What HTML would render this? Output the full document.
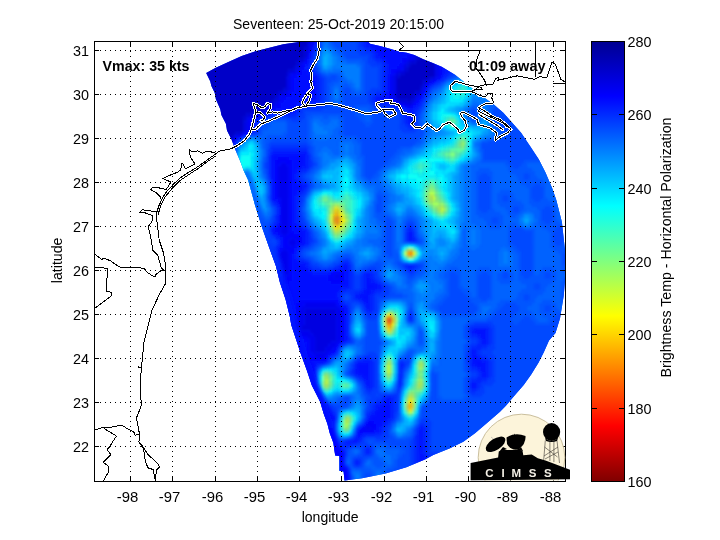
<!DOCTYPE html>
<html><head><meta charset="utf-8"><style>
html,body{margin:0;padding:0;background:#fff;width:720px;height:540px;overflow:hidden}
svg{display:block;will-change:transform}
</style></head><body>
<svg width="720" height="540" viewBox="0 0 720 540">
<defs>
<linearGradient id="jet" x1="0" y1="0" x2="0" y2="1"><stop offset="0" stop-color="#000090"/><stop offset="0.125" stop-color="#0000ff"/><stop offset="0.375" stop-color="#00ffff"/><stop offset="0.625" stop-color="#ffff00"/><stop offset="0.875" stop-color="#ff0000"/><stop offset="1" stop-color="#800000"/></linearGradient>
<clipPath id="sw"><polygon points="206.2,73 215.3,67.9 227.8,62.3 241.7,56 255.6,51.2 269.4,47.7 283.3,44.25 297.2,42.2 310,39 366,39 370,43.8 380,46 390,48.8 398.9,51.6 406.7,52.7 414.4,54.9 423.3,59.3 432.2,62.7 441.7,66.8 455,74.7 478,93 494.4,105 503.3,112.8 512.2,122.8 521.1,132.8 530,146.1 538.9,159.4 545.6,172.8 552.2,188.3 556.3,200 561.9,222 565.6,255.6 565.6,274 563.7,296 560,318.5 555.5,333 549,340.4 543.8,352.3 538.6,362.6 531.2,374.5 523.7,384.9 514.8,395.3 505.9,405.7 500,411.7 486.7,423.3 475,433.3 463.3,441.7 450,448.3 433.3,455 425,459.5 406.4,467.2 385.6,473.5 362,478.3 344.5,480.5 343.6,471.4 339.4,470.7 339.4,456.1 335.2,455.4 333.4,443 329.8,433.3 327.4,423.7 323.8,414 320.2,402 316.6,394.8 311.8,385.2 307,370.7 300.9,353.9 296.1,339.4 291.3,325 289.7,316.1 285.6,299.4 280,282.8 275.9,266.1 268.9,246.7 262,227.2 255,205 248.1,180 243.6,170.4 240.3,161.6 237,153.8 234.7,148.2 231.4,139.3 227,130.4 225.9,123.8 221.4,114.9 220.3,109.3 215.9,99.3 214.7,92.7 211.4,86 210.3,81.6"/></clipPath>
<clipPath id="ax"><rect x="94" y="41" width="471" height="440"/></clipPath>
<filter id="b4" x="-50%" y="-50%" width="200%" height="200%"><feGaussianBlur stdDeviation="4"/></filter>
<filter id="b8" x="-50%" y="-50%" width="200%" height="200%"><feGaussianBlur stdDeviation="8"/></filter>
<filter id="b2" x="-50%" y="-50%" width="200%" height="200%"><feGaussianBlur stdDeviation="2"/></filter>
<filter id="gb" x="-10%" y="-10%" width="120%" height="120%"><feGaussianBlur stdDeviation="1.2"/></filter>
<linearGradient id="edgeg" gradientUnits="userSpaceOnUse" x1="0" y1="180" x2="0" y2="480"><stop offset="0" stop-color="#006fff"/><stop offset="0.35" stop-color="#0019ff"/><stop offset="1" stop-color="#0000ff"/></linearGradient>
</defs>
<g clip-path="url(#ax)"><g clip-path="url(#sw)">
<rect x="190" y="30" width="380" height="460" fill="#0040ff"/>
<g filter="url(#gb)">
<path fill="#0000c8" d="M142.3 24.0h164.8v17.8h-164.8zM418.2 24.0h15.9v17.8h-15.9zM142.3 41.8h164.8v2.8h-164.8zM418.2 41.8h15.9v2.8h-15.9zM142.3 44.5h164.8v2.8h-164.8zM418.2 44.5h15.9v2.8h-15.9zM142.3 47.2h162.2v2.8h-162.2zM418.2 47.2h15.9v2.8h-15.9zM142.3 50.0h162.2v2.8h-162.2zM418.2 50.0h15.9v2.8h-15.9zM142.3 52.8h162.2v2.8h-162.2zM418.2 52.8h15.9v2.8h-15.9zM142.3 55.5h162.2v2.8h-162.2zM418.2 55.5h15.9v2.8h-15.9zM142.3 58.2h156.9v2.8h-156.9zM418.2 58.2h15.9v2.8h-15.9zM142.3 61.0h154.3v2.8h-154.3zM415.5 61.0h18.5v2.8h-18.5zM142.3 63.8h154.3v2.8h-154.3zM410.2 63.8h23.8v2.8h-23.8zM142.3 66.5h151.6v2.8h-151.6zM407.6 66.5h26.4v2.8h-26.4zM142.3 69.2h146.3v2.8h-146.3zM407.6 69.2h26.4v2.8h-26.4zM142.3 72.0h143.7v2.8h-143.7zM404.9 72.0h29.1v2.8h-29.1zM142.3 74.8h143.7v2.8h-143.7zM399.7 74.8h34.4v2.8h-34.4zM142.3 77.5h143.7v2.8h-143.7zM397.0 77.5h31.7v2.8h-31.7zM142.3 80.2h143.7v2.8h-143.7zM397.0 80.2h26.4v2.8h-26.4zM142.3 83.0h143.7v2.8h-143.7zM397.0 83.0h26.4v2.8h-26.4zM142.3 85.8h143.7v2.8h-143.7zM397.0 85.8h23.8v2.8h-23.8zM142.3 88.5h141.0v2.8h-141.0zM397.0 88.5h23.8v2.8h-23.8zM142.3 91.2h135.8v2.8h-135.8zM397.0 91.2h18.5v2.8h-18.5zM142.3 94.0h133.1v2.8h-133.1zM397.0 94.0h15.9v2.8h-15.9zM142.3 96.8h133.1v2.8h-133.1zM397.0 96.8h15.9v2.8h-15.9zM142.3 99.5h130.5v2.8h-130.5zM407.6 99.5h2.6v2.8h-2.6zM142.3 102.2h125.2v2.8h-125.2zM142.3 105.0h122.5v2.8h-122.5zM142.3 107.8h122.5v2.8h-122.5zM142.3 110.5h112.0v2.8h-112.0zM142.3 113.2h104.0v2.8h-104.0zM142.3 116.0h101.4v2.8h-101.4zM142.3 118.8h101.4v2.8h-101.4zM142.3 121.5h101.4v2.8h-101.4zM142.3 124.2h101.4v2.8h-101.4zM142.3 127.0h101.4v2.8h-101.4zM142.3 129.8h101.4v2.8h-101.4zM142.3 132.5h93.4v2.8h-93.4zM142.3 135.2h90.8v2.8h-90.8zM142.3 138.0h88.2v2.8h-88.2zM142.3 140.8h88.2v2.8h-88.2zM142.3 143.5h88.2v2.8h-88.2zM142.3 146.2h88.2v2.8h-88.2zM142.3 149.0h88.2v2.8h-88.2zM142.3 151.8h88.2v2.8h-88.2zM142.3 154.5h69.7v2.8h-69.7zM142.3 157.2h67.0v2.8h-67.0zM142.3 160.0h67.0v2.8h-67.0zM142.3 162.8h67.0v2.8h-67.0zM142.3 165.5h48.5v2.8h-48.5zM142.3 168.2h45.9v2.8h-45.9zM142.3 171.0h45.9v2.8h-45.9zM142.3 173.8h45.9v2.8h-45.9z"/>
<path fill="#0000e1" d="M307.1 24.0h2.6v17.8h-2.6zM415.5 24.0h2.6v17.8h-2.6zM434.0 24.0h2.6v17.8h-2.6zM307.1 41.8h2.6v2.8h-2.6zM415.5 41.8h2.6v2.8h-2.6zM434.0 41.8h2.6v2.8h-2.6zM307.1 44.5h2.6v2.8h-2.6zM415.5 44.5h2.6v2.8h-2.6zM434.0 44.5h2.6v2.8h-2.6zM307.1 47.2h2.6v2.8h-2.6zM415.5 47.2h2.6v2.8h-2.6zM434.0 47.2h2.6v2.8h-2.6zM415.5 50.0h2.6v2.8h-2.6zM434.0 50.0h2.6v2.8h-2.6zM415.5 52.8h2.6v2.8h-2.6zM434.0 52.8h2.6v2.8h-2.6zM434.0 55.5h2.6v2.8h-2.6zM412.9 58.2h2.6v2.8h-2.6zM434.0 58.2h2.6v2.8h-2.6zM299.2 61.0h2.6v2.8h-2.6zM407.6 61.0h2.6v2.8h-2.6zM434.0 61.0h2.6v2.8h-2.6zM404.9 63.8h2.6v2.8h-2.6zM434.0 63.8h2.6v2.8h-2.6zM296.6 66.5h2.6v2.8h-2.6zM434.0 66.5h2.6v2.8h-2.6zM293.9 69.2h2.6v2.8h-2.6zM402.3 69.2h2.6v2.8h-2.6zM434.0 69.2h2.6v2.8h-2.6zM288.6 72.0h2.6v2.8h-2.6zM397.0 72.0h2.6v2.8h-2.6zM434.0 72.0h2.6v2.8h-2.6zM394.4 74.8h2.6v2.8h-2.6zM434.0 74.8h2.6v2.8h-2.6zM286.0 77.5h2.6v2.8h-2.6zM394.4 77.5h2.6v2.8h-2.6zM431.4 77.5h2.6v2.8h-2.6zM286.0 80.2h2.6v2.8h-2.6zM394.4 80.2h2.6v2.8h-2.6zM426.1 80.2h2.6v2.8h-2.6zM286.0 83.0h2.6v2.8h-2.6zM394.4 83.0h2.6v2.8h-2.6zM423.5 83.0h2.6v2.8h-2.6zM286.0 85.8h2.6v2.8h-2.6zM394.4 85.8h2.6v2.8h-2.6zM286.0 88.5h2.6v2.8h-2.6zM394.4 88.5h2.6v2.8h-2.6zM420.8 88.5h2.6v2.8h-2.6zM283.3 91.2h2.6v2.8h-2.6zM394.4 91.2h2.6v2.8h-2.6zM278.1 94.0h2.6v2.8h-2.6zM394.4 94.0h2.6v2.8h-2.6zM415.5 94.0h2.6v2.8h-2.6zM394.4 96.8h2.6v2.8h-2.6zM275.4 99.5h2.6v2.8h-2.6zM412.9 99.5h2.6v2.8h-2.6zM272.8 102.2h2.6v2.8h-2.6zM404.9 102.2h7.9v2.8h-7.9zM267.5 105.0h2.6v2.8h-2.6zM262.2 110.5h2.6v2.8h-2.6zM251.6 113.2h5.3v2.8h-5.3zM246.3 116.0h2.6v2.8h-2.6zM243.7 121.5h2.6v2.8h-2.6zM243.7 124.2h2.6v2.8h-2.6zM243.7 127.0h2.6v2.8h-2.6zM243.7 129.8h2.6v2.8h-2.6zM241.0 132.5h2.6v2.8h-2.6zM233.1 135.2h2.6v2.8h-2.6zM230.5 143.5h2.6v2.8h-2.6zM230.5 146.2h2.6v2.8h-2.6zM230.5 149.0h2.6v2.8h-2.6zM214.6 154.5h5.3v2.8h-5.3zM209.3 160.0h2.6v2.8h-2.6zM209.3 162.8h2.6v2.8h-2.6zM193.5 165.5h5.3v2.8h-5.3zM188.2 171.0h2.6v2.8h-2.6zM188.2 173.8h2.6v2.8h-2.6zM304.5 308.5h31.7v2.8h-31.7zM304.5 311.2h31.7v2.8h-31.7zM304.5 314.0h31.7v2.8h-31.7zM304.5 316.8h31.7v2.8h-31.7zM304.5 319.5h31.7v2.8h-31.7zM304.5 322.2h31.7v2.8h-31.7zM301.8 325.0h34.4v2.8h-34.4zM299.2 327.8h37.0v2.8h-37.0zM309.8 330.5h26.4v2.8h-26.4zM312.4 333.2h23.8v2.8h-23.8zM315.1 336.0h21.1v2.8h-21.1zM315.1 338.8h21.1v2.8h-21.1zM315.1 341.5h15.9v2.8h-15.9zM315.1 344.2h13.2v2.8h-13.2zM315.1 347.0h10.6v2.8h-10.6zM315.1 349.8h10.6v2.8h-10.6z"/>
<path fill="#0000ee" d="M309.8 24.0h2.6v17.8h-2.6zM412.9 24.0h2.6v17.8h-2.6zM436.7 24.0h2.6v17.8h-2.6zM309.8 41.8h2.6v2.8h-2.6zM412.9 41.8h2.6v2.8h-2.6zM436.7 41.8h2.6v2.8h-2.6zM309.8 44.5h2.6v2.8h-2.6zM412.9 44.5h2.6v2.8h-2.6zM436.7 44.5h2.6v2.8h-2.6zM412.9 47.2h2.6v2.8h-2.6zM436.7 47.2h2.6v2.8h-2.6zM307.1 50.0h2.6v2.8h-2.6zM412.9 50.0h2.6v2.8h-2.6zM436.7 50.0h2.6v2.8h-2.6zM307.1 52.8h2.6v2.8h-2.6zM412.9 52.8h2.6v2.8h-2.6zM436.7 52.8h2.6v2.8h-2.6zM412.9 55.5h2.6v2.8h-2.6zM436.7 55.5h2.6v2.8h-2.6zM304.5 58.2h2.6v2.8h-2.6zM407.6 58.2h5.3v2.8h-5.3zM436.7 58.2h2.6v2.8h-2.6zM301.8 61.0h2.6v2.8h-2.6zM404.9 61.0h2.6v2.8h-2.6zM436.7 61.0h2.6v2.8h-2.6zM299.2 63.8h2.6v2.8h-2.6zM402.3 63.8h2.6v2.8h-2.6zM436.7 63.8h2.6v2.8h-2.6zM299.2 66.5h2.6v2.8h-2.6zM402.3 66.5h2.6v2.8h-2.6zM436.7 66.5h2.6v2.8h-2.6zM296.6 69.2h2.6v2.8h-2.6zM397.0 69.2h5.3v2.8h-5.3zM436.7 69.2h2.6v2.8h-2.6zM291.3 72.0h5.3v2.8h-5.3zM394.4 72.0h2.6v2.8h-2.6zM436.7 72.0h2.6v2.8h-2.6zM288.6 74.8h2.6v2.8h-2.6zM391.7 74.8h2.6v2.8h-2.6zM436.7 74.8h2.6v2.8h-2.6zM288.6 77.5h2.6v2.8h-2.6zM391.7 77.5h2.6v2.8h-2.6zM434.0 77.5h2.6v2.8h-2.6zM288.6 80.2h2.6v2.8h-2.6zM391.7 80.2h2.6v2.8h-2.6zM428.7 80.2h2.6v2.8h-2.6zM288.6 83.0h2.6v2.8h-2.6zM391.7 83.0h2.6v2.8h-2.6zM288.6 85.8h2.6v2.8h-2.6zM391.7 85.8h2.6v2.8h-2.6zM423.5 85.8h2.6v2.8h-2.6zM288.6 88.5h2.6v2.8h-2.6zM391.7 88.5h2.6v2.8h-2.6zM286.0 91.2h2.6v2.8h-2.6zM391.7 91.2h2.6v2.8h-2.6zM420.8 91.2h2.6v2.8h-2.6zM280.7 94.0h5.3v2.8h-5.3zM391.7 94.0h2.6v2.8h-2.6zM418.2 94.0h2.6v2.8h-2.6zM278.1 96.8h2.6v2.8h-2.6zM391.7 96.8h2.6v2.8h-2.6zM415.5 96.8h2.6v2.8h-2.6zM278.1 99.5h2.6v2.8h-2.6zM394.4 99.5h2.6v2.8h-2.6zM275.4 102.2h2.6v2.8h-2.6zM399.7 102.2h5.3v2.8h-5.3zM270.1 105.0h5.3v2.8h-5.3zM407.6 105.0h2.6v2.8h-2.6zM267.5 107.8h2.6v2.8h-2.6zM264.8 110.5h2.6v2.8h-2.6zM256.9 113.2h5.3v2.8h-5.3zM249.0 116.0h5.3v2.8h-5.3zM246.3 118.8h2.6v2.8h-2.6zM246.3 121.5h2.6v2.8h-2.6zM246.3 124.2h2.6v2.8h-2.6zM246.3 127.0h2.6v2.8h-2.6zM246.3 129.8h2.6v2.8h-2.6zM235.8 135.2h2.6v2.8h-2.6zM233.1 138.0h2.6v2.8h-2.6zM230.5 151.8h2.6v2.8h-2.6zM219.9 154.5h10.6v2.8h-10.6zM212.0 157.2h2.6v2.8h-2.6zM280.7 162.8h5.3v2.8h-5.3zM198.7 165.5h10.6v2.8h-10.6zM278.1 165.5h10.6v2.8h-10.6zM190.8 168.2h2.6v2.8h-2.6zM278.1 168.2h10.6v2.8h-10.6zM278.1 171.0h10.6v2.8h-10.6zM278.1 173.8h10.6v2.8h-10.6zM142.3 176.5h45.9v2.8h-45.9zM278.1 176.5h10.6v2.8h-10.6zM278.1 179.2h10.6v2.8h-10.6zM278.1 182.0h10.6v2.8h-10.6zM278.1 184.8h10.6v2.8h-10.6zM278.1 187.5h10.6v2.8h-10.6zM278.1 190.2h10.6v2.8h-10.6zM278.1 193.0h10.6v2.8h-10.6zM278.1 195.8h10.6v2.8h-10.6zM280.7 198.5h7.9v2.8h-7.9zM280.7 201.2h7.9v2.8h-7.9zM280.7 204.0h7.9v2.8h-7.9zM280.7 206.8h7.9v2.8h-7.9zM280.7 209.5h7.9v2.8h-7.9zM280.7 212.2h7.9v2.8h-7.9zM280.7 215.0h7.9v2.8h-7.9zM280.7 217.8h7.9v2.8h-7.9zM280.7 220.5h7.9v2.8h-7.9zM280.7 223.2h7.9v2.8h-7.9zM280.7 226.0h7.9v2.8h-7.9zM280.7 228.8h7.9v2.8h-7.9zM280.7 231.5h7.9v2.8h-7.9zM283.3 234.2h2.6v2.8h-2.6zM291.3 237.0h2.6v2.8h-2.6zM288.6 239.8h7.9v2.8h-7.9zM288.6 242.5h7.9v2.8h-7.9zM291.3 245.2h2.6v2.8h-2.6zM283.3 248.0h2.6v2.8h-2.6zM280.7 250.8h7.9v2.8h-7.9zM278.1 253.5h10.6v2.8h-10.6zM278.1 256.2h10.6v2.8h-10.6zM278.1 259.0h10.6v2.8h-10.6zM278.1 261.8h10.6v2.8h-10.6zM278.1 264.5h10.6v2.8h-10.6zM278.1 267.2h10.6v2.8h-10.6zM278.1 270.0h10.6v2.8h-10.6zM278.1 272.8h10.6v2.8h-10.6zM336.2 272.8h2.6v2.8h-2.6zM280.7 275.5h5.3v2.8h-5.3zM333.6 275.5h5.3v2.8h-5.3zM304.5 303.0h31.7v2.8h-31.7zM301.8 305.8h37.0v2.8h-37.0zM299.2 308.5h5.3v2.8h-5.3zM336.2 308.5h5.3v2.8h-5.3zM299.2 311.2h5.3v2.8h-5.3zM336.2 311.2h5.3v2.8h-5.3zM299.2 314.0h5.3v2.8h-5.3zM336.2 314.0h5.3v2.8h-5.3zM299.2 316.8h5.3v2.8h-5.3zM336.2 316.8h5.3v2.8h-5.3zM299.2 319.5h5.3v2.8h-5.3zM336.2 319.5h5.3v2.8h-5.3zM296.6 322.2h7.9v2.8h-7.9zM336.2 322.2h5.3v2.8h-5.3zM272.8 325.0h29.1v2.8h-29.1zM336.2 325.0h5.3v2.8h-5.3zM270.1 327.8h29.1v2.8h-29.1zM336.2 327.8h5.3v2.8h-5.3zM270.1 330.5h39.7v2.8h-39.7zM336.2 330.5h5.3v2.8h-5.3zM272.8 333.2h39.7v2.8h-39.7zM336.2 333.2h5.3v2.8h-5.3zM307.1 336.0h7.9v2.8h-7.9zM336.2 336.0h5.3v2.8h-5.3zM309.8 338.8h5.3v2.8h-5.3zM336.2 338.8h5.3v2.8h-5.3zM309.8 341.5h5.3v2.8h-5.3zM330.9 341.5h7.9v2.8h-7.9zM309.8 344.2h5.3v2.8h-5.3zM328.3 344.2h7.9v2.8h-7.9zM309.8 347.0h5.3v2.8h-5.3zM325.6 347.0h7.9v2.8h-7.9zM309.8 349.8h5.3v2.8h-5.3zM325.6 349.8h5.3v2.8h-5.3zM312.4 352.5h15.9v2.8h-15.9zM315.1 355.2h10.6v2.8h-10.6zM365.3 426.8h5.3v2.8h-5.3z"/>
<path fill="#0000fb" d="M312.4 24.0h2.6v17.8h-2.6zM410.2 24.0h2.6v17.8h-2.6zM439.3 24.0h2.6v17.8h-2.6zM312.4 41.8h2.6v2.8h-2.6zM410.2 41.8h2.6v2.8h-2.6zM439.3 41.8h2.6v2.8h-2.6zM410.2 44.5h2.6v2.8h-2.6zM439.3 44.5h2.6v2.8h-2.6zM309.8 47.2h2.6v2.8h-2.6zM410.2 47.2h2.6v2.8h-2.6zM439.3 47.2h2.6v2.8h-2.6zM410.2 50.0h2.6v2.8h-2.6zM439.3 50.0h2.6v2.8h-2.6zM410.2 52.8h2.6v2.8h-2.6zM439.3 52.8h2.6v2.8h-2.6zM307.1 55.5h2.6v2.8h-2.6zM407.6 55.5h5.3v2.8h-5.3zM439.3 55.5h2.6v2.8h-2.6zM402.3 58.2h5.3v2.8h-5.3zM439.3 58.2h2.6v2.8h-2.6zM304.5 61.0h2.6v2.8h-2.6zM402.3 61.0h2.6v2.8h-2.6zM439.3 61.0h2.6v2.8h-2.6zM301.8 63.8h2.6v2.8h-2.6zM399.7 63.8h2.6v2.8h-2.6zM439.3 63.8h2.6v2.8h-2.6zM301.8 66.5h2.6v2.8h-2.6zM397.0 66.5h5.3v2.8h-5.3zM439.3 66.5h2.6v2.8h-2.6zM299.2 69.2h2.6v2.8h-2.6zM391.7 69.2h5.3v2.8h-5.3zM439.3 69.2h2.6v2.8h-2.6zM296.6 72.0h5.3v2.8h-5.3zM391.7 72.0h2.6v2.8h-2.6zM439.3 72.0h2.6v2.8h-2.6zM291.3 74.8h5.3v2.8h-5.3zM389.1 74.8h2.6v2.8h-2.6zM439.3 74.8h2.6v2.8h-2.6zM291.3 77.5h2.6v2.8h-2.6zM389.1 77.5h2.6v2.8h-2.6zM436.7 77.5h2.6v2.8h-2.6zM291.3 80.2h2.6v2.8h-2.6zM389.1 80.2h2.6v2.8h-2.6zM431.4 80.2h2.6v2.8h-2.6zM291.3 83.0h2.6v2.8h-2.6zM389.1 83.0h2.6v2.8h-2.6zM426.1 83.0h2.6v2.8h-2.6zM291.3 85.8h2.6v2.8h-2.6zM389.1 85.8h2.6v2.8h-2.6zM291.3 88.5h2.6v2.8h-2.6zM389.1 88.5h2.6v2.8h-2.6zM423.5 88.5h2.6v2.8h-2.6zM288.6 91.2h2.6v2.8h-2.6zM389.1 91.2h2.6v2.8h-2.6zM286.0 94.0h5.3v2.8h-5.3zM389.1 94.0h2.6v2.8h-2.6zM420.8 94.0h2.6v2.8h-2.6zM280.7 96.8h5.3v2.8h-5.3zM389.1 96.8h2.6v2.8h-2.6zM418.2 96.8h2.6v2.8h-2.6zM280.7 99.5h2.6v2.8h-2.6zM391.7 99.5h2.6v2.8h-2.6zM415.5 99.5h2.6v2.8h-2.6zM278.1 102.2h2.6v2.8h-2.6zM397.0 102.2h2.6v2.8h-2.6zM412.9 102.2h2.6v2.8h-2.6zM275.4 105.0h5.3v2.8h-5.3zM404.9 105.0h2.6v2.8h-2.6zM410.2 105.0h2.6v2.8h-2.6zM270.1 107.8h5.3v2.8h-5.3zM267.5 110.5h2.6v2.8h-2.6zM262.2 113.2h2.6v2.8h-2.6zM254.3 116.0h2.6v2.8h-2.6zM249.0 118.8h2.6v2.8h-2.6zM249.0 121.5h2.6v2.8h-2.6zM249.0 124.2h2.6v2.8h-2.6zM249.0 127.0h2.6v2.8h-2.6zM249.0 129.8h2.6v2.8h-2.6zM243.7 132.5h2.6v2.8h-2.6zM238.4 135.2h2.6v2.8h-2.6zM233.1 140.8h2.6v2.8h-2.6zM278.1 157.2h10.6v2.8h-10.6zM275.4 160.0h15.9v2.8h-15.9zM275.4 162.8h5.3v2.8h-5.3zM286.0 162.8h5.3v2.8h-5.3zM275.4 165.5h2.6v2.8h-2.6zM288.6 165.5h2.6v2.8h-2.6zM275.4 168.2h2.6v2.8h-2.6zM288.6 168.2h2.6v2.8h-2.6zM275.4 171.0h2.6v2.8h-2.6zM288.6 171.0h2.6v2.8h-2.6zM275.4 173.8h2.6v2.8h-2.6zM288.6 173.8h2.6v2.8h-2.6zM275.4 176.5h2.6v2.8h-2.6zM288.6 176.5h2.6v2.8h-2.6zM275.4 179.2h2.6v2.8h-2.6zM288.6 179.2h2.6v2.8h-2.6zM275.4 182.0h2.6v2.8h-2.6zM288.6 182.0h2.6v2.8h-2.6zM275.4 184.8h2.6v2.8h-2.6zM288.6 184.8h2.6v2.8h-2.6zM275.4 187.5h2.6v2.8h-2.6zM288.6 187.5h2.6v2.8h-2.6zM275.4 190.2h2.6v2.8h-2.6zM288.6 190.2h2.6v2.8h-2.6zM275.4 193.0h2.6v2.8h-2.6zM288.6 193.0h2.6v2.8h-2.6zM275.4 195.8h2.6v2.8h-2.6zM288.6 195.8h2.6v2.8h-2.6zM278.1 198.5h2.6v2.8h-2.6zM288.6 198.5h2.6v2.8h-2.6zM278.1 201.2h2.6v2.8h-2.6zM288.6 201.2h2.6v2.8h-2.6zM288.6 204.0h2.6v2.8h-2.6zM288.6 206.8h2.6v2.8h-2.6zM288.6 209.5h2.6v2.8h-2.6zM288.6 212.2h2.6v2.8h-2.6zM288.6 215.0h2.6v2.8h-2.6zM288.6 217.8h2.6v2.8h-2.6zM288.6 220.5h2.6v2.8h-2.6zM278.1 223.2h2.6v2.8h-2.6zM288.6 223.2h2.6v2.8h-2.6zM278.1 226.0h2.6v2.8h-2.6zM288.6 226.0h2.6v2.8h-2.6zM275.4 228.8h5.3v2.8h-5.3zM288.6 228.8h2.6v2.8h-2.6zM278.1 231.5h2.6v2.8h-2.6zM288.6 231.5h5.3v2.8h-5.3zM280.7 234.2h2.6v2.8h-2.6zM286.0 234.2h13.2v2.8h-13.2zM283.3 237.0h7.9v2.8h-7.9zM293.9 237.0h7.9v2.8h-7.9zM283.3 239.8h5.3v2.8h-5.3zM296.6 239.8h5.3v2.8h-5.3zM283.3 242.5h5.3v2.8h-5.3zM296.6 242.5h2.6v2.8h-2.6zM283.3 245.2h7.9v2.8h-7.9zM293.9 245.2h2.6v2.8h-2.6zM280.7 248.0h2.6v2.8h-2.6zM286.0 248.0h7.9v2.8h-7.9zM278.1 250.8h2.6v2.8h-2.6zM288.6 250.8h5.3v2.8h-5.3zM275.4 253.5h2.6v2.8h-2.6zM288.6 253.5h2.6v2.8h-2.6zM275.4 256.2h2.6v2.8h-2.6zM288.6 256.2h2.6v2.8h-2.6zM275.4 259.0h2.6v2.8h-2.6zM288.6 259.0h2.6v2.8h-2.6zM275.4 261.8h2.6v2.8h-2.6zM288.6 261.8h2.6v2.8h-2.6zM275.4 264.5h2.6v2.8h-2.6zM288.6 264.5h2.6v2.8h-2.6zM275.4 267.2h2.6v2.8h-2.6zM288.6 267.2h2.6v2.8h-2.6zM275.4 270.0h2.6v2.8h-2.6zM288.6 270.0h2.6v2.8h-2.6zM275.4 272.8h2.6v2.8h-2.6zM288.6 272.8h2.6v2.8h-2.6zM330.9 272.8h5.3v2.8h-5.3zM338.9 272.8h5.3v2.8h-5.3zM275.4 275.5h5.3v2.8h-5.3zM286.0 275.5h5.3v2.8h-5.3zM328.3 275.5h5.3v2.8h-5.3zM338.9 275.5h5.3v2.8h-5.3zM275.4 278.2h15.9v2.8h-15.9zM328.3 278.2h15.9v2.8h-15.9zM278.1 281.0h10.6v2.8h-10.6zM330.9 281.0h10.6v2.8h-10.6zM299.2 300.2h37.0v2.8h-37.0zM296.6 303.0h7.9v2.8h-7.9zM336.2 303.0h2.6v2.8h-2.6zM296.6 305.8h5.3v2.8h-5.3zM338.9 305.8h2.6v2.8h-2.6zM296.6 308.5h2.6v2.8h-2.6zM341.5 308.5h2.6v2.8h-2.6zM296.6 311.2h2.6v2.8h-2.6zM341.5 311.2h2.6v2.8h-2.6zM296.6 314.0h2.6v2.8h-2.6zM341.5 314.0h2.6v2.8h-2.6zM296.6 316.8h2.6v2.8h-2.6zM341.5 316.8h2.6v2.8h-2.6zM293.9 319.5h5.3v2.8h-5.3zM341.5 319.5h2.6v2.8h-2.6zM267.5 322.2h29.1v2.8h-29.1zM341.5 322.2h2.6v2.8h-2.6zM264.8 325.0h7.9v2.8h-7.9zM341.5 325.0h2.6v2.8h-2.6zM264.8 327.8h5.3v2.8h-5.3zM341.5 327.8h2.6v2.8h-2.6zM264.8 330.5h5.3v2.8h-5.3zM341.5 330.5h2.6v2.8h-2.6zM264.8 333.2h7.9v2.8h-7.9zM341.5 333.2h2.6v2.8h-2.6zM267.5 336.0h39.7v2.8h-39.7zM341.5 336.0h2.6v2.8h-2.6zM304.5 338.8h5.3v2.8h-5.3zM341.5 338.8h2.6v2.8h-2.6zM307.1 341.5h2.6v2.8h-2.6zM338.9 341.5h2.6v2.8h-2.6zM307.1 344.2h2.6v2.8h-2.6zM336.2 344.2h2.6v2.8h-2.6zM307.1 347.0h2.6v2.8h-2.6zM333.6 347.0h2.6v2.8h-2.6zM307.1 349.8h2.6v2.8h-2.6zM330.9 349.8h5.3v2.8h-5.3zM307.1 352.5h5.3v2.8h-5.3zM328.3 352.5h2.6v2.8h-2.6zM307.1 355.2h7.9v2.8h-7.9zM325.6 355.2h2.6v2.8h-2.6zM309.8 358.0h15.9v2.8h-15.9zM367.9 421.2h5.3v2.8h-5.3zM365.3 424.0h10.6v2.8h-10.6zM362.6 426.8h2.6v2.8h-2.6zM370.6 426.8h5.3v2.8h-5.3zM360.0 429.5h13.2v2.8h-13.2z"/>
<path fill="#0015ff" d="M315.1 24.0h2.6v17.8h-2.6zM365.3 24.0h2.6v17.8h-2.6zM484.3 24.0h2.6v17.8h-2.6zM315.1 41.8h2.6v2.8h-2.6zM365.3 41.8h2.6v2.8h-2.6zM484.3 41.8h2.6v2.8h-2.6zM365.3 44.5h5.3v2.8h-5.3zM479.0 44.5h5.3v2.8h-5.3zM312.4 47.2h2.6v2.8h-2.6zM370.6 47.2h5.3v2.8h-5.3zM476.3 47.2h2.6v2.8h-2.6zM373.2 50.0h2.6v2.8h-2.6zM473.7 50.0h2.6v2.8h-2.6zM309.8 52.8h2.6v2.8h-2.6zM375.9 52.8h2.6v2.8h-2.6zM473.7 52.8h2.6v2.8h-2.6zM309.8 55.5h2.6v2.8h-2.6zM375.9 55.5h5.3v2.8h-5.3zM468.4 55.5h5.3v2.8h-5.3zM381.2 58.2h5.3v2.8h-5.3zM465.8 58.2h2.6v2.8h-2.6zM383.8 61.0h2.6v2.8h-2.6zM463.1 61.0h2.6v2.8h-2.6zM307.1 63.8h2.6v2.8h-2.6zM386.4 63.8h2.6v2.8h-2.6zM463.1 63.8h2.6v2.8h-2.6zM304.5 66.5h2.6v2.8h-2.6zM386.4 66.5h2.6v2.8h-2.6zM449.9 66.5h13.2v2.8h-13.2zM307.1 69.2h2.6v2.8h-2.6zM386.4 69.2h2.6v2.8h-2.6zM444.6 69.2h5.3v2.8h-5.3zM307.1 72.0h5.3v2.8h-5.3zM386.4 72.0h2.6v2.8h-2.6zM444.6 72.0h2.6v2.8h-2.6zM312.4 74.8h5.3v2.8h-5.3zM386.4 74.8h2.6v2.8h-2.6zM442.0 74.8h2.6v2.8h-2.6zM315.1 77.5h2.6v2.8h-2.6zM386.4 77.5h2.6v2.8h-2.6zM315.1 80.2h2.6v2.8h-2.6zM386.4 80.2h2.6v2.8h-2.6zM315.1 83.0h2.6v2.8h-2.6zM386.4 83.0h2.6v2.8h-2.6zM431.4 83.0h2.6v2.8h-2.6zM315.1 85.8h2.6v2.8h-2.6zM386.4 85.8h2.6v2.8h-2.6zM315.1 88.5h2.6v2.8h-2.6zM386.4 88.5h2.6v2.8h-2.6zM426.1 88.5h2.6v2.8h-2.6zM315.1 91.2h2.6v2.8h-2.6zM383.8 91.2h2.6v2.8h-2.6zM315.1 94.0h2.6v2.8h-2.6zM381.2 94.0h5.3v2.8h-5.3zM315.1 96.8h2.6v2.8h-2.6zM375.9 96.8h5.3v2.8h-5.3zM301.8 99.5h15.9v2.8h-15.9zM375.9 99.5h13.2v2.8h-13.2zM296.6 102.2h5.3v2.8h-5.3zM389.1 102.2h2.6v2.8h-2.6zM418.2 102.2h2.6v2.8h-2.6zM296.6 105.0h2.6v2.8h-2.6zM397.0 105.0h5.3v2.8h-5.3zM415.5 105.0h2.6v2.8h-2.6zM293.9 107.8h2.6v2.8h-2.6zM404.9 107.8h2.6v2.8h-2.6zM412.9 107.8h2.6v2.8h-2.6zM272.8 110.5h23.8v2.8h-23.8zM407.6 110.5h5.3v2.8h-5.3zM267.5 113.2h2.6v2.8h-2.6zM407.6 113.2h5.3v2.8h-5.3zM259.5 116.0h5.3v2.8h-5.3zM407.6 116.0h5.3v2.8h-5.3zM254.3 118.8h2.6v2.8h-2.6zM407.6 118.8h5.3v2.8h-5.3zM251.6 121.5h2.6v2.8h-2.6zM407.6 121.5h5.3v2.8h-5.3zM251.6 124.2h2.6v2.8h-2.6zM251.6 127.0h2.6v2.8h-2.6zM251.6 129.8h2.6v2.8h-2.6zM241.0 135.2h2.6v2.8h-2.6zM233.1 143.5h2.6v2.8h-2.6zM272.8 151.8h34.4v2.8h-34.4zM230.5 154.5h2.6v2.8h-2.6zM270.1 154.5h2.6v2.8h-2.6zM304.5 154.5h2.6v2.8h-2.6zM214.6 157.2h2.6v2.8h-2.6zM270.1 157.2h2.6v2.8h-2.6zM304.5 157.2h2.6v2.8h-2.6zM212.0 160.0h2.6v2.8h-2.6zM270.1 160.0h2.6v2.8h-2.6zM304.5 160.0h2.6v2.8h-2.6zM270.1 162.8h2.6v2.8h-2.6zM304.5 162.8h2.6v2.8h-2.6zM209.3 165.5h2.6v2.8h-2.6zM270.1 165.5h2.6v2.8h-2.6zM301.8 165.5h5.3v2.8h-5.3zM193.5 168.2h2.6v2.8h-2.6zM270.1 168.2h2.6v2.8h-2.6zM296.6 168.2h5.3v2.8h-5.3zM190.8 171.0h2.6v2.8h-2.6zM270.1 171.0h2.6v2.8h-2.6zM296.6 171.0h2.6v2.8h-2.6zM270.1 173.8h2.6v2.8h-2.6zM293.9 173.8h2.6v2.8h-2.6zM188.2 176.5h2.6v2.8h-2.6zM270.1 176.5h2.6v2.8h-2.6zM293.9 176.5h2.6v2.8h-2.6zM296.6 179.2h2.6v2.8h-2.6zM296.6 182.0h5.3v2.8h-5.3zM301.8 184.8h5.3v2.8h-5.3zM301.8 187.5h2.6v2.8h-2.6zM296.6 190.2h5.3v2.8h-5.3zM296.6 193.0h2.6v2.8h-2.6zM293.9 195.8h2.6v2.8h-2.6zM293.9 198.5h2.6v2.8h-2.6zM275.4 201.2h2.6v2.8h-2.6zM293.9 201.2h2.6v2.8h-2.6zM293.9 204.0h2.6v2.8h-2.6zM278.1 206.8h2.6v2.8h-2.6zM293.9 206.8h2.6v2.8h-2.6zM278.1 209.5h2.6v2.8h-2.6zM293.9 209.5h2.6v2.8h-2.6zM278.1 212.2h2.6v2.8h-2.6zM293.9 212.2h2.6v2.8h-2.6zM293.9 215.0h2.6v2.8h-2.6zM293.9 217.8h2.6v2.8h-2.6zM293.9 220.5h2.6v2.8h-2.6zM275.4 223.2h2.6v2.8h-2.6zM296.6 223.2h2.6v2.8h-2.6zM272.8 226.0h2.6v2.8h-2.6zM296.6 226.0h5.3v2.8h-5.3zM270.1 228.8h2.6v2.8h-2.6zM301.8 228.8h5.3v2.8h-5.3zM304.5 231.5h2.6v2.8h-2.6zM407.6 231.5h5.3v2.8h-5.3zM275.4 234.2h2.6v2.8h-2.6zM304.5 234.2h2.6v2.8h-2.6zM407.6 234.2h5.3v2.8h-5.3zM278.1 237.0h2.6v2.8h-2.6zM304.5 237.0h2.6v2.8h-2.6zM407.6 237.0h5.3v2.8h-5.3zM219.9 239.8h42.3v2.8h-42.3zM304.5 239.8h2.6v2.8h-2.6zM407.6 239.8h5.3v2.8h-5.3zM217.2 242.5h2.6v2.8h-2.6zM262.2 242.5h2.6v2.8h-2.6zM304.5 242.5h2.6v2.8h-2.6zM217.2 245.2h2.6v2.8h-2.6zM262.2 245.2h2.6v2.8h-2.6zM278.1 245.2h2.6v2.8h-2.6zM299.2 245.2h2.6v2.8h-2.6zM214.6 248.0h2.6v2.8h-2.6zM264.8 248.0h2.6v2.8h-2.6zM275.4 248.0h2.6v2.8h-2.6zM296.6 248.0h2.6v2.8h-2.6zM188.2 250.8h26.4v2.8h-26.4zM267.5 250.8h5.3v2.8h-5.3zM185.5 253.5h2.6v2.8h-2.6zM293.9 253.5h2.6v2.8h-2.6zM185.5 256.2h2.6v2.8h-2.6zM293.9 256.2h2.6v2.8h-2.6zM182.9 259.0h2.6v2.8h-2.6zM296.6 259.0h2.6v2.8h-2.6zM142.3 261.8h40.6v2.8h-40.6zM299.2 261.8h7.9v2.8h-7.9zM344.1 261.8h2.6v2.8h-2.6zM304.5 264.5h2.6v2.8h-2.6zM341.5 264.5h2.6v2.8h-2.6zM346.8 264.5h2.6v2.8h-2.6zM407.6 264.5h5.3v2.8h-5.3zM307.1 267.2h2.6v2.8h-2.6zM338.9 267.2h5.3v2.8h-5.3zM346.8 267.2h2.6v2.8h-2.6zM307.1 270.0h5.3v2.8h-5.3zM330.9 270.0h2.6v2.8h-2.6zM346.8 270.0h2.6v2.8h-2.6zM312.4 272.8h15.9v2.8h-15.9zM346.8 272.8h2.6v2.8h-2.6zM365.3 272.8h5.3v2.8h-5.3zM346.8 275.5h2.6v2.8h-2.6zM365.3 275.5h5.3v2.8h-5.3zM346.8 278.2h2.6v2.8h-2.6zM365.3 278.2h2.6v2.8h-2.6zM370.6 278.2h2.6v2.8h-2.6zM346.8 281.0h2.6v2.8h-2.6zM365.3 281.0h2.6v2.8h-2.6zM370.6 281.0h5.3v2.8h-5.3zM346.8 283.8h2.6v2.8h-2.6zM365.3 283.8h2.6v2.8h-2.6zM375.9 283.8h5.3v2.8h-5.3zM341.5 286.5h7.9v2.8h-7.9zM365.3 286.5h2.6v2.8h-2.6zM375.9 286.5h5.3v2.8h-5.3zM338.9 289.2h2.6v2.8h-2.6zM362.6 289.2h2.6v2.8h-2.6zM370.6 289.2h5.3v2.8h-5.3zM336.2 292.0h2.6v2.8h-2.6zM360.0 292.0h5.3v2.8h-5.3zM370.6 292.0h2.6v2.8h-2.6zM336.2 294.8h2.6v2.8h-2.6zM354.7 294.8h5.3v2.8h-5.3zM367.9 294.8h2.6v2.8h-2.6zM357.4 297.5h5.3v2.8h-5.3zM367.9 297.5h2.6v2.8h-2.6zM338.9 300.2h2.6v2.8h-2.6zM362.6 300.2h2.6v2.8h-2.6zM367.9 300.2h2.6v2.8h-2.6zM341.5 303.0h2.6v2.8h-2.6zM365.3 303.0h5.3v2.8h-5.3zM365.3 305.8h5.3v2.8h-5.3zM346.8 308.5h2.6v2.8h-2.6zM367.9 308.5h2.6v2.8h-2.6zM346.8 311.2h2.6v2.8h-2.6zM473.7 327.8h13.2v2.8h-13.2zM471.0 330.5h5.3v2.8h-5.3zM484.3 330.5h2.6v2.8h-2.6zM476.3 333.2h5.3v2.8h-5.3zM484.3 333.2h2.6v2.8h-2.6zM346.8 336.0h2.6v2.8h-2.6zM479.0 336.0h2.6v2.8h-2.6zM484.3 336.0h2.6v2.8h-2.6zM346.8 338.8h2.6v2.8h-2.6zM481.6 338.8h5.3v2.8h-5.3zM341.5 341.5h2.6v2.8h-2.6zM481.6 341.5h5.3v2.8h-5.3zM336.2 347.0h2.6v2.8h-2.6zM471.0 349.8h5.3v2.8h-5.3zM333.6 352.5h2.6v2.8h-2.6zM471.0 352.5h5.3v2.8h-5.3zM328.3 355.2h2.6v2.8h-2.6zM471.0 355.2h2.6v2.8h-2.6zM476.3 355.2h2.6v2.8h-2.6zM471.0 358.0h2.6v2.8h-2.6zM476.3 358.0h5.3v2.8h-5.3zM325.6 360.8h2.6v2.8h-2.6zM357.4 360.8h13.2v2.8h-13.2zM471.0 360.8h2.6v2.8h-2.6zM481.6 360.8h5.3v2.8h-5.3zM315.1 363.5h2.6v2.8h-2.6zM354.7 363.5h2.6v2.8h-2.6zM367.9 363.5h2.6v2.8h-2.6zM399.7 363.5h2.6v2.8h-2.6zM471.0 363.5h5.3v2.8h-5.3zM484.3 363.5h2.6v2.8h-2.6zM354.7 366.2h2.6v2.8h-2.6zM367.9 366.2h2.6v2.8h-2.6zM399.7 366.2h2.6v2.8h-2.6zM476.3 366.2h5.3v2.8h-5.3zM484.3 366.2h2.6v2.8h-2.6zM354.7 369.0h2.6v2.8h-2.6zM367.9 369.0h2.6v2.8h-2.6zM399.7 369.0h2.6v2.8h-2.6zM479.0 369.0h2.6v2.8h-2.6zM484.3 369.0h2.6v2.8h-2.6zM354.7 371.8h2.6v2.8h-2.6zM367.9 371.8h2.6v2.8h-2.6zM481.6 371.8h5.3v2.8h-5.3zM357.4 374.5h5.3v2.8h-5.3zM367.9 374.5h2.6v2.8h-2.6zM481.6 374.5h5.3v2.8h-5.3zM362.6 377.2h2.6v2.8h-2.6zM367.9 377.2h2.6v2.8h-2.6zM365.3 380.0h5.3v2.8h-5.3zM365.3 382.8h5.3v2.8h-5.3zM471.0 382.8h5.3v2.8h-5.3zM367.9 385.5h2.6v2.8h-2.6zM471.0 385.5h5.3v2.8h-5.3zM386.4 396.5h5.3v2.8h-5.3zM315.1 399.2h2.6v2.8h-2.6zM383.8 399.2h2.6v2.8h-2.6zM389.1 399.2h2.6v2.8h-2.6zM315.1 402.0h2.6v2.8h-2.6zM381.2 402.0h5.3v2.8h-5.3zM389.1 402.0h2.6v2.8h-2.6zM317.7 404.8h5.3v2.8h-5.3zM375.9 404.8h5.3v2.8h-5.3zM389.1 404.8h2.6v2.8h-2.6zM325.6 407.5h2.6v2.8h-2.6zM375.9 407.5h2.6v2.8h-2.6zM389.1 407.5h2.6v2.8h-2.6zM328.3 410.2h2.6v2.8h-2.6zM373.2 410.2h2.6v2.8h-2.6zM389.1 410.2h2.6v2.8h-2.6zM328.3 413.0h5.3v2.8h-5.3zM370.6 413.0h5.3v2.8h-5.3zM389.1 413.0h2.6v2.8h-2.6zM333.6 415.8h2.6v2.8h-2.6zM367.9 415.8h2.6v2.8h-2.6zM389.1 415.8h2.6v2.8h-2.6zM330.9 418.5h5.3v2.8h-5.3zM386.4 418.5h2.6v2.8h-2.6zM328.3 421.2h2.6v2.8h-2.6zM381.2 421.2h5.3v2.8h-5.3zM325.6 424.0h2.6v2.8h-2.6zM362.6 424.0h2.6v2.8h-2.6zM381.2 424.0h2.6v2.8h-2.6zM325.6 426.8h2.6v2.8h-2.6zM378.5 426.8h2.6v2.8h-2.6zM420.8 426.8h2.6v2.8h-2.6zM325.6 429.5h2.6v2.8h-2.6zM378.5 429.5h2.6v2.8h-2.6zM418.2 429.5h5.3v2.8h-5.3zM325.6 432.2h2.6v2.8h-2.6zM362.6 432.2h13.2v2.8h-13.2zM418.2 432.2h5.3v2.8h-5.3zM325.6 435.0h2.6v2.8h-2.6zM360.0 435.0h2.6v2.8h-2.6zM418.2 435.0h5.3v2.8h-5.3zM325.6 437.8h2.6v2.8h-2.6zM354.7 437.8h5.3v2.8h-5.3zM418.2 437.8h5.3v2.8h-5.3zM325.6 440.5h2.6v2.8h-2.6zM346.8 440.5h10.6v2.8h-10.6zM418.2 440.5h5.3v2.8h-5.3zM325.6 443.2h2.6v2.8h-2.6zM418.2 443.2h5.3v2.8h-5.3zM328.3 446.0h2.6v2.8h-2.6zM418.2 446.0h5.3v2.8h-5.3zM330.9 448.8h5.3v2.8h-5.3zM418.2 448.8h5.3v2.8h-5.3zM286.0 451.5h5.3v2.8h-5.3zM418.2 451.5h5.3v2.8h-5.3zM283.3 454.2h2.6v2.8h-2.6zM418.2 454.2h2.6v2.8h-2.6zM423.5 454.2h2.6v2.8h-2.6zM283.3 457.0h2.6v2.8h-2.6zM418.2 457.0h2.6v2.8h-2.6zM423.5 457.0h5.3v2.8h-5.3zM418.2 459.8h2.6v2.8h-2.6zM428.7 459.8h5.3v2.8h-5.3zM243.7 462.5h2.6v2.8h-2.6zM418.2 462.5h2.6v2.8h-2.6zM431.4 462.5h2.6v2.8h-2.6zM241.0 465.2h2.6v2.8h-2.6zM418.2 465.2h2.6v2.8h-2.6zM434.0 465.2h2.6v2.8h-2.6zM418.2 468.0h2.6v2.8h-2.6zM434.0 468.0h5.3v2.8h-5.3zM418.2 470.8h2.6v2.8h-2.6zM439.3 470.8h5.3v2.8h-5.3zM201.4 473.5h2.6v2.8h-2.6zM418.2 473.5h2.6v2.8h-2.6zM442.0 473.5h2.6v2.8h-2.6zM198.7 476.2h2.6v2.8h-2.6zM418.2 476.2h2.6v2.8h-2.6zM444.6 476.2h2.6v2.8h-2.6zM418.2 479.0h2.6v2.8h-2.6zM444.6 479.0h5.3v2.8h-5.3zM418.2 481.8h2.6v2.8h-2.6zM449.9 481.8h5.3v2.8h-5.3zM346.8 484.5h2.6v2.8h-2.6zM418.2 484.5h2.6v2.8h-2.6zM452.5 484.5h2.6v2.8h-2.6zM346.8 487.2h2.6v17.8h-2.6zM418.2 487.2h2.6v17.8h-2.6zM452.5 487.2h2.6v17.8h-2.6z"/>
<path fill="#002fff" d="M317.7 24.0h2.6v17.8h-2.6zM360.0 24.0h2.6v17.8h-2.6zM486.9 24.0h2.6v17.8h-2.6zM317.7 41.8h2.6v2.8h-2.6zM360.0 41.8h2.6v2.8h-2.6zM486.9 41.8h2.6v2.8h-2.6zM360.0 44.5h2.6v2.8h-2.6zM315.1 47.2h2.6v2.8h-2.6zM362.6 47.2h2.6v2.8h-2.6zM481.6 47.2h2.6v2.8h-2.6zM365.3 50.0h5.3v2.8h-5.3zM312.4 52.8h2.6v2.8h-2.6zM370.6 52.8h2.6v2.8h-2.6zM476.3 52.8h2.6v2.8h-2.6zM312.4 55.5h2.6v2.8h-2.6zM370.6 55.5h2.6v2.8h-2.6zM373.2 58.2h2.6v2.8h-2.6zM471.0 58.2h2.6v2.8h-2.6zM375.9 61.0h5.3v2.8h-5.3zM309.8 63.8h2.6v2.8h-2.6zM381.2 63.8h2.6v2.8h-2.6zM465.8 63.8h2.6v2.8h-2.6zM309.8 66.5h2.6v2.8h-2.6zM381.2 66.5h2.6v2.8h-2.6zM312.4 69.2h2.6v2.8h-2.6zM381.2 69.2h2.6v2.8h-2.6zM457.8 69.2h5.3v2.8h-5.3zM315.1 72.0h2.6v2.8h-2.6zM381.2 72.0h2.6v2.8h-2.6zM449.9 72.0h5.3v2.8h-5.3zM317.7 74.8h2.6v2.8h-2.6zM381.2 74.8h2.6v2.8h-2.6zM447.2 74.8h2.6v2.8h-2.6zM320.4 77.5h2.6v2.8h-2.6zM381.2 77.5h2.6v2.8h-2.6zM444.6 77.5h2.6v2.8h-2.6zM320.4 80.2h2.6v2.8h-2.6zM381.2 80.2h2.6v2.8h-2.6zM439.3 80.2h2.6v2.8h-2.6zM320.4 83.0h2.6v2.8h-2.6zM381.2 83.0h2.6v2.8h-2.6zM434.0 83.0h2.6v2.8h-2.6zM320.4 85.8h2.6v2.8h-2.6zM381.2 85.8h2.6v2.8h-2.6zM320.4 88.5h2.6v2.8h-2.6zM381.2 88.5h2.6v2.8h-2.6zM320.4 91.2h2.6v2.8h-2.6zM375.9 91.2h5.3v2.8h-5.3zM426.1 91.2h2.6v2.8h-2.6zM320.4 94.0h2.6v2.8h-2.6zM373.2 94.0h2.6v2.8h-2.6zM320.4 96.8h2.6v2.8h-2.6zM370.6 96.8h2.6v2.8h-2.6zM423.5 96.8h2.6v2.8h-2.6zM320.4 99.5h2.6v2.8h-2.6zM370.6 99.5h2.6v2.8h-2.6zM317.7 102.2h2.6v2.8h-2.6zM373.2 102.2h2.6v2.8h-2.6zM420.8 102.2h2.6v2.8h-2.6zM301.8 105.0h15.9v2.8h-15.9zM375.9 105.0h15.9v2.8h-15.9zM299.2 107.8h2.6v2.8h-2.6zM397.0 107.8h5.3v2.8h-5.3zM418.2 107.8h2.6v2.8h-2.6zM299.2 110.5h2.6v2.8h-2.6zM402.3 110.5h2.6v2.8h-2.6zM415.5 110.5h2.6v2.8h-2.6zM272.8 113.2h10.6v2.8h-10.6zM296.6 113.2h2.6v2.8h-2.6zM402.3 113.2h2.6v2.8h-2.6zM415.5 113.2h2.6v2.8h-2.6zM267.5 116.0h2.6v2.8h-2.6zM288.6 116.0h7.9v2.8h-7.9zM402.3 116.0h2.6v2.8h-2.6zM259.5 118.8h2.6v2.8h-2.6zM402.3 118.8h2.6v2.8h-2.6zM256.9 121.5h2.6v2.8h-2.6zM402.3 121.5h2.6v2.8h-2.6zM412.9 121.5h2.6v2.8h-2.6zM256.9 124.2h2.6v2.8h-2.6zM404.9 124.2h2.6v2.8h-2.6zM412.9 124.2h2.6v2.8h-2.6zM407.6 127.0h5.3v2.8h-5.3zM251.6 132.5h2.6v2.8h-2.6zM243.7 135.2h2.6v2.8h-2.6zM238.4 138.0h2.6v2.8h-2.6zM235.8 140.8h2.6v2.8h-2.6zM270.1 146.2h37.0v2.8h-37.0zM233.1 149.0h2.6v2.8h-2.6zM270.1 149.0h2.6v2.8h-2.6zM307.1 151.8h2.6v2.8h-2.6zM267.5 154.5h2.6v2.8h-2.6zM217.2 157.2h2.6v2.8h-2.6zM267.5 157.2h2.6v2.8h-2.6zM267.5 160.0h2.6v2.8h-2.6zM309.8 160.0h2.6v2.8h-2.6zM212.0 162.8h2.6v2.8h-2.6zM267.5 162.8h2.6v2.8h-2.6zM309.8 162.8h2.6v2.8h-2.6zM267.5 165.5h2.6v2.8h-2.6zM309.8 165.5h2.6v2.8h-2.6zM196.1 168.2h2.6v2.8h-2.6zM267.5 168.2h2.6v2.8h-2.6zM307.1 168.2h2.6v2.8h-2.6zM267.5 171.0h2.6v2.8h-2.6zM301.8 171.0h5.3v2.8h-5.3zM190.8 173.8h2.6v2.8h-2.6zM267.5 173.8h2.6v2.8h-2.6zM299.2 173.8h2.6v2.8h-2.6zM299.2 176.5h2.6v2.8h-2.6zM301.8 179.2h2.6v2.8h-2.6zM307.1 184.8h2.6v2.8h-2.6zM304.5 190.2h2.6v2.8h-2.6zM301.8 193.0h2.6v2.8h-2.6zM299.2 195.8h2.6v2.8h-2.6zM299.2 198.5h2.6v2.8h-2.6zM299.2 201.2h2.6v2.8h-2.6zM272.8 204.0h2.6v2.8h-2.6zM275.4 206.8h2.6v2.8h-2.6zM275.4 209.5h2.6v2.8h-2.6zM275.4 212.2h2.6v2.8h-2.6zM299.2 215.0h2.6v2.8h-2.6zM299.2 217.8h2.6v2.8h-2.6zM272.8 220.5h2.6v2.8h-2.6zM299.2 220.5h2.6v2.8h-2.6zM301.8 223.2h2.6v2.8h-2.6zM304.5 226.0h2.6v2.8h-2.6zM407.6 226.0h5.3v2.8h-5.3zM267.5 228.8h2.6v2.8h-2.6zM307.1 228.8h2.6v2.8h-2.6zM267.5 231.5h2.6v2.8h-2.6zM404.9 231.5h2.6v2.8h-2.6zM412.9 231.5h2.6v2.8h-2.6zM267.5 234.2h5.3v2.8h-5.3zM404.9 234.2h2.6v2.8h-2.6zM412.9 234.2h2.6v2.8h-2.6zM219.9 237.0h47.6v2.8h-47.6zM309.8 237.0h2.6v2.8h-2.6zM404.9 237.0h2.6v2.8h-2.6zM264.8 239.8h2.6v2.8h-2.6zM309.8 239.8h2.6v2.8h-2.6zM404.9 239.8h2.6v2.8h-2.6zM415.5 239.8h2.6v2.8h-2.6zM214.6 242.5h2.6v2.8h-2.6zM267.5 245.2h2.6v2.8h-2.6zM304.5 245.2h2.6v2.8h-2.6zM188.2 248.0h23.8v2.8h-23.8zM182.9 253.5h2.6v2.8h-2.6zM299.2 256.2h2.6v2.8h-2.6zM142.3 259.0h37.9v2.8h-37.9zM304.5 259.0h2.6v2.8h-2.6zM344.1 259.0h5.3v2.8h-5.3zM309.8 264.5h2.6v2.8h-2.6zM336.2 264.5h2.6v2.8h-2.6zM349.4 264.5h2.6v2.8h-2.6zM402.3 264.5h2.6v2.8h-2.6zM415.5 264.5h2.6v2.8h-2.6zM312.4 267.2h7.9v2.8h-7.9zM328.3 267.2h5.3v2.8h-5.3zM349.4 267.2h2.6v2.8h-2.6zM404.9 267.2h2.6v2.8h-2.6zM412.9 267.2h2.6v2.8h-2.6zM365.3 270.0h7.9v2.8h-7.9zM407.6 270.0h5.3v2.8h-5.3zM352.1 272.8h2.6v2.8h-2.6zM373.2 272.8h2.6v2.8h-2.6zM352.1 275.5h2.6v2.8h-2.6zM360.0 275.5h2.6v2.8h-2.6zM373.2 275.5h2.6v2.8h-2.6zM352.1 278.2h2.6v2.8h-2.6zM360.0 278.2h2.6v2.8h-2.6zM375.9 278.2h2.6v2.8h-2.6zM352.1 281.0h2.6v2.8h-2.6zM360.0 281.0h2.6v2.8h-2.6zM378.5 281.0h2.6v2.8h-2.6zM352.1 283.8h2.6v2.8h-2.6zM360.0 283.8h2.6v2.8h-2.6zM381.2 283.8h2.6v2.8h-2.6zM352.1 286.5h2.6v2.8h-2.6zM360.0 286.5h2.6v2.8h-2.6zM383.8 286.5h2.6v2.8h-2.6zM346.8 289.2h13.2v2.8h-13.2zM381.2 289.2h2.6v2.8h-2.6zM341.5 292.0h2.6v2.8h-2.6zM349.4 292.0h5.3v2.8h-5.3zM375.9 292.0h5.3v2.8h-5.3zM352.1 294.8h2.6v2.8h-2.6zM373.2 294.8h2.6v2.8h-2.6zM352.1 297.5h2.6v2.8h-2.6zM373.2 297.5h2.6v2.8h-2.6zM357.4 300.2h2.6v2.8h-2.6zM373.2 300.2h2.6v2.8h-2.6zM346.8 303.0h2.6v2.8h-2.6zM373.2 303.0h2.6v2.8h-2.6zM362.6 305.8h2.6v2.8h-2.6zM373.2 305.8h2.6v2.8h-2.6zM373.2 308.5h2.6v2.8h-2.6zM365.3 311.2h2.6v2.8h-2.6zM370.6 311.2h2.6v2.8h-2.6zM367.9 314.0h2.6v2.8h-2.6zM410.2 314.0h2.6v2.8h-2.6zM407.6 316.8h2.6v2.8h-2.6zM410.2 319.5h2.6v2.8h-2.6zM471.0 325.0h18.5v2.8h-18.5zM468.4 327.8h2.6v2.8h-2.6zM489.6 327.8h2.6v2.8h-2.6zM468.4 330.5h2.6v2.8h-2.6zM489.6 330.5h2.6v2.8h-2.6zM489.6 333.2h2.6v2.8h-2.6zM471.0 336.0h5.3v2.8h-5.3zM489.6 336.0h2.6v2.8h-2.6zM349.4 338.8h2.6v2.8h-2.6zM476.3 338.8h2.6v2.8h-2.6zM489.6 338.8h2.6v2.8h-2.6zM346.8 341.5h2.6v2.8h-2.6zM476.3 341.5h2.6v2.8h-2.6zM489.6 341.5h2.6v2.8h-2.6zM471.0 344.2h5.3v2.8h-5.3zM486.9 344.2h2.6v2.8h-2.6zM481.6 347.0h5.3v2.8h-5.3zM468.4 349.8h2.6v2.8h-2.6zM479.0 349.8h2.6v2.8h-2.6zM468.4 352.5h2.6v2.8h-2.6zM479.0 352.5h2.6v2.8h-2.6zM330.9 355.2h2.6v2.8h-2.6zM365.3 355.2h5.3v2.8h-5.3zM468.4 355.2h2.6v2.8h-2.6zM481.6 355.2h5.3v2.8h-5.3zM328.3 358.0h2.6v2.8h-2.6zM357.4 358.0h5.3v2.8h-5.3zM370.6 358.0h2.6v2.8h-2.6zM468.4 358.0h2.6v2.8h-2.6zM486.9 358.0h2.6v2.8h-2.6zM373.2 360.8h2.6v2.8h-2.6zM402.3 360.8h2.6v2.8h-2.6zM468.4 360.8h2.6v2.8h-2.6zM489.6 360.8h2.6v2.8h-2.6zM320.4 363.5h2.6v2.8h-2.6zM352.1 363.5h2.6v2.8h-2.6zM373.2 363.5h2.6v2.8h-2.6zM468.4 363.5h2.6v2.8h-2.6zM489.6 363.5h2.6v2.8h-2.6zM352.1 366.2h2.6v2.8h-2.6zM373.2 366.2h2.6v2.8h-2.6zM402.3 366.2h2.6v2.8h-2.6zM489.6 366.2h2.6v2.8h-2.6zM315.1 369.0h2.6v2.8h-2.6zM373.2 369.0h2.6v2.8h-2.6zM471.0 369.0h5.3v2.8h-5.3zM489.6 369.0h2.6v2.8h-2.6zM349.4 371.8h2.6v2.8h-2.6zM373.2 371.8h2.6v2.8h-2.6zM476.3 371.8h2.6v2.8h-2.6zM489.6 371.8h2.6v2.8h-2.6zM373.2 374.5h2.6v2.8h-2.6zM476.3 374.5h2.6v2.8h-2.6zM489.6 374.5h2.6v2.8h-2.6zM357.4 377.2h2.6v2.8h-2.6zM373.2 377.2h2.6v2.8h-2.6zM471.0 377.2h5.3v2.8h-5.3zM486.9 377.2h2.6v2.8h-2.6zM373.2 380.0h2.6v2.8h-2.6zM397.0 380.0h2.6v2.8h-2.6zM481.6 380.0h5.3v2.8h-5.3zM362.6 382.8h2.6v2.8h-2.6zM373.2 382.8h2.6v2.8h-2.6zM397.0 382.8h2.6v2.8h-2.6zM468.4 382.8h2.6v2.8h-2.6zM479.0 382.8h2.6v2.8h-2.6zM373.2 385.5h2.6v2.8h-2.6zM397.0 385.5h5.3v2.8h-5.3zM468.4 385.5h2.6v2.8h-2.6zM479.0 385.5h2.6v2.8h-2.6zM365.3 388.2h2.6v2.8h-2.6zM370.6 388.2h2.6v2.8h-2.6zM397.0 388.2h2.6v2.8h-2.6zM476.3 388.2h2.6v2.8h-2.6zM315.1 391.0h2.6v2.8h-2.6zM367.9 391.0h2.6v2.8h-2.6zM397.0 391.0h2.6v2.8h-2.6zM471.0 391.0h5.3v2.8h-5.3zM383.8 393.8h13.2v2.8h-13.2zM381.2 396.5h2.6v2.8h-2.6zM394.4 396.5h2.6v2.8h-2.6zM317.7 399.2h2.6v2.8h-2.6zM375.9 399.2h5.3v2.8h-5.3zM394.4 399.2h2.6v2.8h-2.6zM320.4 402.0h2.6v2.8h-2.6zM373.2 402.0h2.6v2.8h-2.6zM394.4 402.0h2.6v2.8h-2.6zM328.3 404.8h2.6v2.8h-2.6zM370.6 404.8h2.6v2.8h-2.6zM394.4 404.8h2.6v2.8h-2.6zM330.9 407.5h2.6v2.8h-2.6zM370.6 407.5h2.6v2.8h-2.6zM394.4 407.5h2.6v2.8h-2.6zM333.6 410.2h2.6v2.8h-2.6zM367.9 410.2h2.6v2.8h-2.6zM394.4 410.2h2.6v2.8h-2.6zM365.3 413.0h2.6v2.8h-2.6zM365.3 415.8h2.6v2.8h-2.6zM391.7 418.5h2.6v2.8h-2.6zM333.6 421.2h2.6v2.8h-2.6zM362.6 421.2h2.6v2.8h-2.6zM389.1 421.2h2.6v2.8h-2.6zM420.8 421.2h2.6v2.8h-2.6zM360.0 424.0h2.6v2.8h-2.6zM386.4 424.0h2.6v2.8h-2.6zM418.2 424.0h2.6v2.8h-2.6zM423.5 424.0h2.6v2.8h-2.6zM328.3 426.8h2.6v2.8h-2.6zM383.8 426.8h2.6v2.8h-2.6zM426.1 426.8h2.6v2.8h-2.6zM328.3 429.5h2.6v2.8h-2.6zM383.8 429.5h2.6v2.8h-2.6zM415.5 429.5h2.6v2.8h-2.6zM426.1 429.5h2.6v2.8h-2.6zM328.3 432.2h2.6v2.8h-2.6zM354.7 432.2h2.6v2.8h-2.6zM381.2 432.2h2.6v2.8h-2.6zM415.5 432.2h2.6v2.8h-2.6zM426.1 432.2h2.6v2.8h-2.6zM328.3 435.0h2.6v2.8h-2.6zM365.3 435.0h15.9v2.8h-15.9zM426.1 435.0h2.6v2.8h-2.6zM328.3 437.8h2.6v2.8h-2.6zM349.4 437.8h2.6v2.8h-2.6zM412.9 437.8h2.6v2.8h-2.6zM426.1 437.8h2.6v2.8h-2.6zM328.3 440.5h2.6v2.8h-2.6zM341.5 440.5h2.6v2.8h-2.6zM360.0 440.5h2.6v2.8h-2.6zM412.9 440.5h2.6v2.8h-2.6zM426.1 440.5h2.6v2.8h-2.6zM341.5 443.2h2.6v2.8h-2.6zM352.1 443.2h5.3v2.8h-5.3zM412.9 443.2h2.6v2.8h-2.6zM426.1 443.2h2.6v2.8h-2.6zM333.6 446.0h15.9v2.8h-15.9zM365.3 446.0h5.3v2.8h-5.3zM412.9 446.0h2.6v2.8h-2.6zM426.1 446.0h2.6v2.8h-2.6zM341.5 448.8h2.6v2.8h-2.6zM412.9 448.8h2.6v2.8h-2.6zM426.1 448.8h2.6v2.8h-2.6zM338.9 451.5h2.6v2.8h-2.6zM412.9 451.5h2.6v2.8h-2.6zM426.1 451.5h2.6v2.8h-2.6zM288.6 454.2h2.6v2.8h-2.6zM412.9 454.2h2.6v2.8h-2.6zM428.7 454.2h5.3v2.8h-5.3zM286.0 457.0h2.6v2.8h-2.6zM412.9 457.0h2.6v2.8h-2.6zM434.0 457.0h2.6v2.8h-2.6zM412.9 459.8h2.6v2.8h-2.6zM436.7 459.8h2.6v2.8h-2.6zM412.9 462.5h2.6v2.8h-2.6zM436.7 462.5h2.6v2.8h-2.6zM243.7 465.2h2.6v2.8h-2.6zM412.9 465.2h2.6v2.8h-2.6zM439.3 465.2h5.3v2.8h-5.3zM412.9 468.0h2.6v2.8h-2.6zM444.6 468.0h2.6v2.8h-2.6zM412.9 470.8h2.6v2.8h-2.6zM447.2 470.8h2.6v2.8h-2.6zM412.9 473.5h2.6v2.8h-2.6zM447.2 473.5h2.6v2.8h-2.6zM201.4 476.2h2.6v2.8h-2.6zM412.9 476.2h2.6v2.8h-2.6zM449.9 476.2h5.3v2.8h-5.3zM346.8 479.0h2.6v2.8h-2.6zM412.9 479.0h2.6v2.8h-2.6zM455.2 479.0h2.6v2.8h-2.6zM344.1 481.8h2.6v2.8h-2.6zM412.9 481.8h2.6v2.8h-2.6zM457.8 481.8h2.6v2.8h-2.6zM349.4 484.5h2.6v2.8h-2.6zM412.9 484.5h2.6v2.8h-2.6zM457.8 484.5h2.6v2.8h-2.6zM349.4 487.2h2.6v17.8h-2.6zM412.9 487.2h2.6v17.8h-2.6zM457.8 487.2h2.6v17.8h-2.6z"/>
<path fill="#0055ff" d="M320.4 24.0h2.6v17.8h-2.6zM330.9 24.0h2.6v17.8h-2.6zM489.6 24.0h2.6v17.8h-2.6zM563.6 24.0h2.6v17.8h-2.6zM320.4 41.8h2.6v2.8h-2.6zM330.9 41.8h2.6v2.8h-2.6zM489.6 41.8h2.6v2.8h-2.6zM563.6 41.8h2.6v2.8h-2.6zM320.4 44.5h2.6v2.8h-2.6zM333.6 44.5h2.6v2.8h-2.6zM489.6 44.5h2.6v2.8h-2.6zM563.6 44.5h2.6v2.8h-2.6zM336.2 47.2h5.3v2.8h-5.3zM486.9 47.2h2.6v2.8h-2.6zM560.9 47.2h5.3v2.8h-5.3zM317.7 50.0h2.6v2.8h-2.6zM338.9 50.0h5.3v2.8h-5.3zM484.3 50.0h2.6v2.8h-2.6zM558.3 50.0h5.3v2.8h-5.3zM341.5 52.8h2.6v2.8h-2.6zM555.6 52.8h2.6v2.8h-2.6zM315.1 55.5h2.6v2.8h-2.6zM344.1 55.5h2.6v2.8h-2.6zM479.0 55.5h2.6v2.8h-2.6zM553.0 55.5h2.6v2.8h-2.6zM315.1 58.2h2.6v2.8h-2.6zM346.8 58.2h15.9v2.8h-15.9zM476.3 58.2h2.6v2.8h-2.6zM550.4 58.2h5.3v2.8h-5.3zM315.1 61.0h2.6v2.8h-2.6zM360.0 61.0h5.3v2.8h-5.3zM473.7 61.0h2.6v2.8h-2.6zM547.7 61.0h5.3v2.8h-5.3zM315.1 63.8h2.6v2.8h-2.6zM362.6 63.8h2.6v2.8h-2.6zM545.1 63.8h2.6v2.8h-2.6zM362.6 66.5h2.6v2.8h-2.6zM468.4 66.5h2.6v2.8h-2.6zM542.4 66.5h2.6v2.8h-2.6zM317.7 69.2h2.6v2.8h-2.6zM362.6 69.2h2.6v2.8h-2.6zM465.8 69.2h2.6v2.8h-2.6zM539.8 69.2h5.3v2.8h-5.3zM320.4 72.0h2.6v2.8h-2.6zM362.6 72.0h2.6v2.8h-2.6zM463.1 72.0h2.6v2.8h-2.6zM537.1 72.0h5.3v2.8h-5.3zM325.6 74.8h5.3v2.8h-5.3zM336.2 74.8h2.6v2.8h-2.6zM362.6 74.8h2.6v2.8h-2.6zM455.2 74.8h2.6v2.8h-2.6zM534.5 74.8h2.6v2.8h-2.6zM336.2 77.5h5.3v2.8h-5.3zM362.6 77.5h2.6v2.8h-2.6zM449.9 77.5h2.6v2.8h-2.6zM531.8 77.5h2.6v2.8h-2.6zM330.9 80.2h7.9v2.8h-7.9zM362.6 80.2h2.6v2.8h-2.6zM444.6 80.2h2.6v2.8h-2.6zM529.2 80.2h5.3v2.8h-5.3zM328.3 83.0h5.3v2.8h-5.3zM344.1 83.0h2.6v2.8h-2.6zM362.6 83.0h2.6v2.8h-2.6zM526.6 83.0h5.3v2.8h-5.3zM328.3 85.8h2.6v2.8h-2.6zM341.5 85.8h7.9v2.8h-7.9zM362.6 85.8h2.6v2.8h-2.6zM436.7 85.8h2.6v2.8h-2.6zM523.9 85.8h2.6v2.8h-2.6zM328.3 88.5h2.6v2.8h-2.6zM341.5 88.5h2.6v2.8h-2.6zM349.4 88.5h2.6v2.8h-2.6zM362.6 88.5h2.6v2.8h-2.6zM431.4 88.5h2.6v2.8h-2.6zM521.3 88.5h2.6v2.8h-2.6zM328.3 91.2h2.6v2.8h-2.6zM341.5 91.2h2.6v2.8h-2.6zM349.4 91.2h5.3v2.8h-5.3zM360.0 91.2h5.3v2.8h-5.3zM518.6 91.2h5.3v2.8h-5.3zM328.3 94.0h2.6v2.8h-2.6zM341.5 94.0h2.6v2.8h-2.6zM352.1 94.0h10.6v2.8h-10.6zM428.7 94.0h2.6v2.8h-2.6zM516.0 94.0h5.3v2.8h-5.3zM328.3 96.8h2.6v2.8h-2.6zM341.5 96.8h2.6v2.8h-2.6zM513.3 96.8h2.6v2.8h-2.6zM328.3 99.5h2.6v2.8h-2.6zM341.5 99.5h2.6v2.8h-2.6zM426.1 99.5h2.6v2.8h-2.6zM510.7 99.5h2.6v2.8h-2.6zM328.3 102.2h5.3v2.8h-5.3zM338.9 102.2h5.3v2.8h-5.3zM508.1 102.2h5.3v2.8h-5.3zM330.9 105.0h10.6v2.8h-10.6zM354.7 105.0h15.9v2.8h-15.9zM423.5 105.0h2.6v2.8h-2.6zM494.8 105.0h15.9v2.8h-15.9zM352.1 107.8h5.3v2.8h-5.3zM367.9 107.8h5.3v2.8h-5.3zM471.0 107.8h5.3v2.8h-5.3zM492.2 107.8h2.6v2.8h-2.6zM352.1 110.5h5.3v2.8h-5.3zM370.6 110.5h2.6v2.8h-2.6zM420.8 110.5h2.6v2.8h-2.6zM309.8 113.2h31.7v2.8h-31.7zM354.7 113.2h7.9v2.8h-7.9zM370.6 113.2h2.6v2.8h-2.6zM307.1 116.0h5.3v2.8h-5.3zM323.0 116.0h5.3v2.8h-5.3zM338.9 116.0h5.3v2.8h-5.3zM357.4 116.0h7.9v2.8h-7.9zM370.6 116.0h2.6v2.8h-2.6zM471.0 116.0h5.3v2.8h-5.3zM492.2 116.0h2.6v2.8h-2.6zM587.4 116.0h22.9v2.8h-22.9zM270.1 118.8h15.9v2.8h-15.9zM307.1 118.8h2.6v2.8h-2.6zM341.5 118.8h2.6v2.8h-2.6zM360.0 118.8h5.3v2.8h-5.3zM370.6 118.8h2.6v2.8h-2.6zM418.2 118.8h2.6v2.8h-2.6zM471.0 118.8h5.3v2.8h-5.3zM492.2 118.8h2.6v2.8h-2.6zM584.7 118.8h5.3v2.8h-5.3zM264.8 121.5h5.3v2.8h-5.3zM286.0 121.5h2.6v2.8h-2.6zM307.1 121.5h2.6v2.8h-2.6zM341.5 121.5h2.6v2.8h-2.6zM362.6 121.5h10.6v2.8h-10.6zM418.2 121.5h2.6v2.8h-2.6zM492.2 121.5h2.6v2.8h-2.6zM582.1 121.5h5.3v2.8h-5.3zM262.2 124.2h7.9v2.8h-7.9zM286.0 124.2h2.6v2.8h-2.6zM307.1 124.2h2.6v2.8h-2.6zM341.5 124.2h2.6v2.8h-2.6zM365.3 124.2h5.3v2.8h-5.3zM494.8 124.2h5.3v2.8h-5.3zM579.4 124.2h7.9v2.8h-7.9zM262.2 127.0h5.3v2.8h-5.3zM286.0 127.0h2.6v2.8h-2.6zM307.1 127.0h2.6v2.8h-2.6zM341.5 127.0h2.6v2.8h-2.6zM420.8 127.0h2.6v2.8h-2.6zM497.5 127.0h5.3v2.8h-5.3zM576.8 127.0h7.9v2.8h-7.9zM259.5 129.8h2.6v2.8h-2.6zM286.0 129.8h2.6v2.8h-2.6zM307.1 129.8h2.6v2.8h-2.6zM338.9 129.8h5.3v2.8h-5.3zM500.1 129.8h2.6v2.8h-2.6zM574.1 129.8h5.3v2.8h-5.3zM259.5 132.5h2.6v2.8h-2.6zM283.3 132.5h5.3v2.8h-5.3zM307.1 132.5h2.6v2.8h-2.6zM338.9 132.5h5.3v2.8h-5.3zM500.1 132.5h2.6v2.8h-2.6zM571.5 132.5h5.3v2.8h-5.3zM267.5 135.2h18.5v2.8h-18.5zM307.1 135.2h2.6v2.8h-2.6zM344.1 135.2h13.2v2.8h-13.2zM420.8 135.2h2.6v2.8h-2.6zM497.5 135.2h5.3v2.8h-5.3zM568.9 135.2h7.9v2.8h-7.9zM264.8 138.0h7.9v2.8h-7.9zM307.1 138.0h2.6v2.8h-2.6zM354.7 138.0h5.3v2.8h-5.3zM418.2 138.0h2.6v2.8h-2.6zM494.8 138.0h5.3v2.8h-5.3zM566.2 138.0h7.9v2.8h-7.9zM238.4 140.8h2.6v2.8h-2.6zM264.8 140.8h5.3v2.8h-5.3zM307.1 140.8h5.3v2.8h-5.3zM357.4 140.8h5.3v2.8h-5.3zM415.5 140.8h5.3v2.8h-5.3zM481.6 140.8h7.9v2.8h-7.9zM563.6 140.8h5.3v2.8h-5.3zM264.8 143.5h2.6v2.8h-2.6zM309.8 143.5h2.6v2.8h-2.6zM360.0 143.5h2.6v2.8h-2.6zM412.9 143.5h2.6v2.8h-2.6zM560.9 143.5h5.3v2.8h-5.3zM235.8 146.2h2.6v2.8h-2.6zM264.8 146.2h2.6v2.8h-2.6zM312.4 146.2h2.6v2.8h-2.6zM360.0 146.2h2.6v2.8h-2.6zM399.7 146.2h10.6v2.8h-10.6zM558.3 146.2h7.9v2.8h-7.9zM264.8 149.0h2.6v2.8h-2.6zM312.4 149.0h2.6v2.8h-2.6zM360.0 149.0h2.6v2.8h-2.6zM397.0 149.0h5.3v2.8h-5.3zM481.6 149.0h2.6v2.8h-2.6zM555.6 149.0h7.9v2.8h-7.9zM264.8 151.8h2.6v2.8h-2.6zM312.4 151.8h2.6v2.8h-2.6zM360.0 151.8h2.6v2.8h-2.6zM394.4 151.8h5.3v2.8h-5.3zM481.6 151.8h2.6v2.8h-2.6zM553.0 151.8h5.3v2.8h-5.3zM233.1 154.5h2.6v2.8h-2.6zM264.8 154.5h2.6v2.8h-2.6zM312.4 154.5h2.6v2.8h-2.6zM360.0 154.5h5.3v2.8h-5.3zM391.7 154.5h5.3v2.8h-5.3zM481.6 154.5h2.6v2.8h-2.6zM550.4 154.5h5.3v2.8h-5.3zM230.5 157.2h2.6v2.8h-2.6zM315.1 157.2h2.6v2.8h-2.6zM362.6 157.2h2.6v2.8h-2.6zM389.1 157.2h5.3v2.8h-5.3zM481.6 157.2h2.6v2.8h-2.6zM547.7 157.2h7.9v2.8h-7.9zM315.1 160.0h2.6v2.8h-2.6zM362.6 160.0h2.6v2.8h-2.6zM386.4 160.0h5.3v2.8h-5.3zM481.6 160.0h26.4v2.8h-26.4zM523.9 160.0h29.1v2.8h-29.1zM262.2 162.8h2.6v2.8h-2.6zM362.6 162.8h2.6v2.8h-2.6zM383.8 162.8h5.3v2.8h-5.3zM505.4 162.8h5.3v2.8h-5.3zM521.3 162.8h5.3v2.8h-5.3zM212.0 165.5h2.6v2.8h-2.6zM262.2 165.5h2.6v2.8h-2.6zM315.1 165.5h2.6v2.8h-2.6zM362.6 165.5h2.6v2.8h-2.6zM381.2 165.5h2.6v2.8h-2.6zM508.1 165.5h5.3v2.8h-5.3zM518.6 165.5h7.9v2.8h-7.9zM209.3 168.2h2.6v2.8h-2.6zM312.4 168.2h2.6v2.8h-2.6zM362.6 168.2h2.6v2.8h-2.6zM378.5 168.2h2.6v2.8h-2.6zM479.0 168.2h10.6v2.8h-10.6zM508.1 168.2h23.8v2.8h-23.8zM309.8 171.0h2.6v2.8h-2.6zM362.6 171.0h2.6v2.8h-2.6zM375.9 171.0h2.6v2.8h-2.6zM476.3 171.0h15.9v2.8h-15.9zM510.7 171.0h23.8v2.8h-23.8zM264.8 173.8h2.6v2.8h-2.6zM307.1 173.8h2.6v2.8h-2.6zM362.6 173.8h2.6v2.8h-2.6zM373.2 173.8h5.3v2.8h-5.3zM476.3 173.8h5.3v2.8h-5.3zM486.9 173.8h5.3v2.8h-5.3zM516.0 173.8h7.9v2.8h-7.9zM529.2 173.8h5.3v2.8h-5.3zM190.8 176.5h2.6v2.8h-2.6zM264.8 176.5h2.6v2.8h-2.6zM307.1 176.5h2.6v2.8h-2.6zM365.3 176.5h2.6v2.8h-2.6zM370.6 176.5h5.3v2.8h-5.3zM476.3 176.5h2.6v2.8h-2.6zM489.6 176.5h2.6v2.8h-2.6zM518.6 176.5h5.3v2.8h-5.3zM529.2 176.5h7.9v2.8h-7.9zM188.2 179.2h2.6v2.8h-2.6zM309.8 179.2h2.6v2.8h-2.6zM367.9 179.2h2.6v2.8h-2.6zM476.3 179.2h2.6v2.8h-2.6zM489.6 179.2h2.6v2.8h-2.6zM518.6 179.2h23.8v2.8h-23.8zM476.3 182.0h2.6v2.8h-2.6zM489.6 182.0h2.6v2.8h-2.6zM521.3 182.0h23.8v2.8h-23.8zM267.5 184.8h2.6v2.8h-2.6zM312.4 184.8h2.6v2.8h-2.6zM476.3 184.8h2.6v2.8h-2.6zM489.6 184.8h2.6v2.8h-2.6zM526.6 184.8h7.9v2.8h-7.9zM539.8 184.8h5.3v2.8h-5.3zM267.5 187.5h2.6v2.8h-2.6zM309.8 187.5h2.6v2.8h-2.6zM476.3 187.5h2.6v2.8h-2.6zM489.6 187.5h2.6v2.8h-2.6zM529.2 187.5h2.6v2.8h-2.6zM542.4 187.5h2.6v2.8h-2.6zM267.5 190.2h2.6v2.8h-2.6zM378.5 190.2h2.6v2.8h-2.6zM476.3 190.2h2.6v2.8h-2.6zM489.6 190.2h2.6v2.8h-2.6zM500.1 190.2h10.6v2.8h-10.6zM529.2 190.2h2.6v2.8h-2.6zM542.4 190.2h2.6v2.8h-2.6zM267.5 193.0h2.6v2.8h-2.6zM375.9 193.0h7.9v2.8h-7.9zM476.3 193.0h2.6v2.8h-2.6zM489.6 193.0h2.6v2.8h-2.6zM497.5 193.0h15.9v2.8h-15.9zM529.2 193.0h2.6v2.8h-2.6zM542.4 193.0h2.6v2.8h-2.6zM304.5 195.8h2.6v2.8h-2.6zM375.9 195.8h2.6v2.8h-2.6zM381.2 195.8h5.3v2.8h-5.3zM476.3 195.8h2.6v2.8h-2.6zM489.6 195.8h2.6v2.8h-2.6zM497.5 195.8h5.3v2.8h-5.3zM508.1 195.8h5.3v2.8h-5.3zM529.2 195.8h2.6v2.8h-2.6zM542.4 195.8h2.6v2.8h-2.6zM267.5 198.5h2.6v2.8h-2.6zM375.9 198.5h2.6v2.8h-2.6zM381.2 198.5h5.3v2.8h-5.3zM476.3 198.5h2.6v2.8h-2.6zM489.6 198.5h2.6v2.8h-2.6zM497.5 198.5h5.3v2.8h-5.3zM508.1 198.5h7.9v2.8h-7.9zM529.2 198.5h5.3v2.8h-5.3zM539.8 198.5h7.9v2.8h-7.9zM375.9 201.2h2.6v2.8h-2.6zM381.2 201.2h2.6v2.8h-2.6zM476.3 201.2h2.6v2.8h-2.6zM489.6 201.2h2.6v2.8h-2.6zM497.5 201.2h23.8v2.8h-23.8zM529.2 201.2h23.8v2.8h-23.8zM381.2 204.0h2.6v2.8h-2.6zM476.3 204.0h2.6v2.8h-2.6zM489.6 204.0h2.6v2.8h-2.6zM500.1 204.0h23.8v2.8h-23.8zM531.8 204.0h23.8v2.8h-23.8zM301.8 206.8h2.6v2.8h-2.6zM381.2 206.8h2.6v2.8h-2.6zM476.3 206.8h2.6v2.8h-2.6zM489.6 206.8h2.6v2.8h-2.6zM505.4 206.8h7.9v2.8h-7.9zM518.6 206.8h5.3v2.8h-5.3zM537.1 206.8h7.9v2.8h-7.9zM550.4 206.8h5.3v2.8h-5.3zM301.8 209.5h2.6v2.8h-2.6zM381.2 209.5h2.6v2.8h-2.6zM476.3 209.5h5.3v2.8h-5.3zM486.9 209.5h7.9v2.8h-7.9zM508.1 209.5h5.3v2.8h-5.3zM518.6 209.5h2.6v2.8h-2.6zM539.8 209.5h2.6v2.8h-2.6zM553.0 209.5h2.6v2.8h-2.6zM375.9 212.2h7.9v2.8h-7.9zM476.3 212.2h23.8v2.8h-23.8zM508.1 212.2h10.6v2.8h-10.6zM539.8 212.2h2.6v2.8h-2.6zM553.0 212.2h2.6v2.8h-2.6zM270.1 215.0h2.6v2.8h-2.6zM375.9 215.0h13.2v2.8h-13.2zM479.0 215.0h23.8v2.8h-23.8zM510.7 215.0h5.3v2.8h-5.3zM539.8 215.0h2.6v2.8h-2.6zM553.0 215.0h2.6v2.8h-2.6zM304.5 217.8h2.6v2.8h-2.6zM378.5 217.8h7.9v2.8h-7.9zM389.1 217.8h2.6v2.8h-2.6zM407.6 217.8h5.3v2.8h-5.3zM484.3 217.8h7.9v2.8h-7.9zM497.5 217.8h5.3v2.8h-5.3zM539.8 217.8h2.6v2.8h-2.6zM553.0 217.8h2.6v2.8h-2.6zM267.5 220.5h2.6v2.8h-2.6zM381.2 220.5h5.3v2.8h-5.3zM391.7 220.5h2.6v2.8h-2.6zM404.9 220.5h2.6v2.8h-2.6zM412.9 220.5h2.6v2.8h-2.6zM486.9 220.5h5.3v2.8h-5.3zM497.5 220.5h5.3v2.8h-5.3zM539.8 220.5h5.3v2.8h-5.3zM550.4 220.5h7.9v2.8h-7.9zM264.8 223.2h2.6v2.8h-2.6zM307.1 223.2h2.6v2.8h-2.6zM383.8 223.2h2.6v2.8h-2.6zM391.7 223.2h2.6v2.8h-2.6zM486.9 223.2h15.9v2.8h-15.9zM510.7 223.2h5.3v2.8h-5.3zM539.8 223.2h34.4v2.8h-34.4zM383.8 226.0h2.6v2.8h-2.6zM391.7 226.0h2.6v2.8h-2.6zM402.3 226.0h2.6v2.8h-2.6zM415.5 226.0h2.6v2.8h-2.6zM489.6 226.0h10.6v2.8h-10.6zM508.1 226.0h13.2v2.8h-13.2zM542.4 226.0h15.9v2.8h-15.9zM568.9 226.0h7.9v2.8h-7.9zM262.2 228.8h2.6v2.8h-2.6zM383.8 228.8h2.6v2.8h-2.6zM391.7 228.8h2.6v2.8h-2.6zM402.3 228.8h2.6v2.8h-2.6zM415.5 228.8h2.6v2.8h-2.6zM508.1 228.8h5.3v2.8h-5.3zM523.9 228.8h10.6v2.8h-10.6zM547.7 228.8h7.9v2.8h-7.9zM571.5 228.8h5.3v2.8h-5.3zM238.4 231.5h23.8v2.8h-23.8zM312.4 231.5h2.6v2.8h-2.6zM383.8 231.5h2.6v2.8h-2.6zM391.7 231.5h2.6v2.8h-2.6zM402.3 231.5h2.6v2.8h-2.6zM508.1 231.5h2.6v2.8h-2.6zM531.8 231.5h2.6v2.8h-2.6zM550.4 231.5h2.6v2.8h-2.6zM571.5 231.5h5.3v2.8h-5.3zM217.2 234.2h15.9v2.8h-15.9zM383.8 234.2h2.6v2.8h-2.6zM391.7 234.2h2.6v2.8h-2.6zM402.3 234.2h2.6v2.8h-2.6zM508.1 234.2h2.6v2.8h-2.6zM531.8 234.2h2.6v2.8h-2.6zM550.4 234.2h2.6v2.8h-2.6zM568.9 234.2h7.9v2.8h-7.9zM214.6 237.0h2.6v2.8h-2.6zM315.1 237.0h2.6v2.8h-2.6zM383.8 237.0h2.6v2.8h-2.6zM391.7 237.0h2.6v2.8h-2.6zM402.3 237.0h2.6v2.8h-2.6zM418.2 237.0h2.6v2.8h-2.6zM508.1 237.0h2.6v2.8h-2.6zM531.8 237.0h2.6v2.8h-2.6zM550.4 237.0h2.6v2.8h-2.6zM566.2 237.0h7.9v2.8h-7.9zM212.0 239.8h2.6v2.8h-2.6zM381.2 239.8h5.3v2.8h-5.3zM391.7 239.8h2.6v2.8h-2.6zM402.3 239.8h2.6v2.8h-2.6zM420.8 239.8h2.6v2.8h-2.6zM508.1 239.8h2.6v2.8h-2.6zM531.8 239.8h2.6v2.8h-2.6zM550.4 239.8h2.6v2.8h-2.6zM563.6 239.8h5.3v2.8h-5.3zM315.1 242.5h2.6v2.8h-2.6zM381.2 242.5h5.3v2.8h-5.3zM391.7 242.5h2.6v2.8h-2.6zM415.5 242.5h5.3v2.8h-5.3zM508.1 242.5h5.3v2.8h-5.3zM531.8 242.5h2.6v2.8h-2.6zM550.4 242.5h5.3v2.8h-5.3zM560.9 242.5h7.9v2.8h-7.9zM185.5 245.2h23.8v2.8h-23.8zM312.4 245.2h2.6v2.8h-2.6zM383.8 245.2h2.6v2.8h-2.6zM391.7 245.2h2.6v2.8h-2.6zM510.7 245.2h5.3v2.8h-5.3zM531.8 245.2h2.6v2.8h-2.6zM550.4 245.2h59.9v2.8h-59.9zM182.9 248.0h2.6v2.8h-2.6zM309.8 248.0h2.6v2.8h-2.6zM383.8 248.0h2.6v2.8h-2.6zM391.7 248.0h2.6v2.8h-2.6zM513.3 248.0h5.3v2.8h-5.3zM531.8 248.0h2.6v2.8h-2.6zM553.0 248.0h15.9v2.8h-15.9zM180.2 250.8h2.6v2.8h-2.6zM304.5 250.8h2.6v2.8h-2.6zM383.8 250.8h2.6v2.8h-2.6zM391.7 250.8h5.3v2.8h-5.3zM516.0 250.8h5.3v2.8h-5.3zM531.8 250.8h2.6v2.8h-2.6zM558.3 250.8h7.9v2.8h-7.9zM304.5 253.5h2.6v2.8h-2.6zM344.1 253.5h5.3v2.8h-5.3zM383.8 253.5h5.3v2.8h-5.3zM391.7 253.5h7.9v2.8h-7.9zM518.6 253.5h2.6v2.8h-2.6zM531.8 253.5h2.6v2.8h-2.6zM560.9 253.5h2.6v2.8h-2.6zM142.3 256.2h35.3v2.8h-35.3zM309.8 256.2h2.6v2.8h-2.6zM338.9 256.2h2.6v2.8h-2.6zM349.4 256.2h2.6v2.8h-2.6zM386.4 256.2h13.2v2.8h-13.2zM518.6 256.2h2.6v2.8h-2.6zM531.8 256.2h2.6v2.8h-2.6zM560.9 256.2h2.6v2.8h-2.6zM312.4 259.0h2.6v2.8h-2.6zM336.2 259.0h2.6v2.8h-2.6zM378.5 259.0h2.6v2.8h-2.6zM394.4 259.0h5.3v2.8h-5.3zM518.6 259.0h2.6v2.8h-2.6zM531.8 259.0h2.6v2.8h-2.6zM560.9 259.0h2.6v2.8h-2.6zM317.7 261.8h2.6v2.8h-2.6zM330.9 261.8h2.6v2.8h-2.6zM352.1 261.8h2.6v2.8h-2.6zM373.2 261.8h2.6v2.8h-2.6zM378.5 261.8h5.3v2.8h-5.3zM394.4 261.8h2.6v2.8h-2.6zM402.3 261.8h5.3v2.8h-5.3zM415.5 261.8h7.9v2.8h-7.9zM518.6 261.8h2.6v2.8h-2.6zM531.8 261.8h2.6v2.8h-2.6zM560.9 261.8h2.6v2.8h-2.6zM323.0 264.5h5.3v2.8h-5.3zM365.3 264.5h5.3v2.8h-5.3zM397.0 264.5h2.6v2.8h-2.6zM518.6 264.5h2.6v2.8h-2.6zM531.8 264.5h2.6v2.8h-2.6zM560.9 264.5h5.3v2.8h-5.3zM360.0 267.2h2.6v2.8h-2.6zM399.7 267.2h2.6v2.8h-2.6zM420.8 267.2h2.6v2.8h-2.6zM449.9 267.2h7.9v2.8h-7.9zM479.0 267.2h10.6v2.8h-10.6zM518.6 267.2h2.6v2.8h-2.6zM531.8 267.2h2.6v2.8h-2.6zM542.4 267.2h10.6v2.8h-10.6zM560.9 267.2h7.9v2.8h-7.9zM354.7 270.0h5.3v2.8h-5.3zM378.5 270.0h2.6v2.8h-2.6zM402.3 270.0h2.6v2.8h-2.6zM418.2 270.0h5.3v2.8h-5.3zM447.2 270.0h13.2v2.8h-13.2zM476.3 270.0h15.9v2.8h-15.9zM502.8 270.0h5.3v2.8h-5.3zM518.6 270.0h2.6v2.8h-2.6zM531.8 270.0h2.6v2.8h-2.6zM539.8 270.0h15.9v2.8h-15.9zM563.6 270.0h46.7v2.8h-46.7zM378.5 272.8h2.6v2.8h-2.6zM404.9 272.8h2.6v2.8h-2.6zM415.5 272.8h5.3v2.8h-5.3zM444.6 272.8h5.3v2.8h-5.3zM455.2 272.8h5.3v2.8h-5.3zM476.3 272.8h5.3v2.8h-5.3zM486.9 272.8h5.3v2.8h-5.3zM497.5 272.8h5.3v2.8h-5.3zM508.1 272.8h5.3v2.8h-5.3zM518.6 272.8h2.6v2.8h-2.6zM531.8 272.8h2.6v2.8h-2.6zM539.8 272.8h5.3v2.8h-5.3zM550.4 272.8h5.3v2.8h-5.3zM412.9 275.5h2.6v2.8h-2.6zM444.6 275.5h5.3v2.8h-5.3zM457.8 275.5h2.6v2.8h-2.6zM476.3 275.5h2.6v2.8h-2.6zM489.6 275.5h2.6v2.8h-2.6zM497.5 275.5h5.3v2.8h-5.3zM508.1 275.5h5.3v2.8h-5.3zM518.6 275.5h5.3v2.8h-5.3zM529.2 275.5h15.9v2.8h-15.9zM550.4 275.5h5.3v2.8h-5.3zM381.2 278.2h2.6v2.8h-2.6zM407.6 278.2h5.3v2.8h-5.3zM447.2 278.2h2.6v2.8h-2.6zM457.8 278.2h2.6v2.8h-2.6zM476.3 278.2h2.6v2.8h-2.6zM489.6 278.2h2.6v2.8h-2.6zM497.5 278.2h15.9v2.8h-15.9zM518.6 278.2h37.0v2.8h-37.0zM563.6 278.2h46.7v2.8h-46.7zM383.8 281.0h2.6v2.8h-2.6zM407.6 281.0h2.6v2.8h-2.6zM447.2 281.0h2.6v2.8h-2.6zM457.8 281.0h2.6v2.8h-2.6zM476.3 281.0h2.6v2.8h-2.6zM489.6 281.0h2.6v2.8h-2.6zM500.1 281.0h10.6v2.8h-10.6zM521.3 281.0h31.7v2.8h-31.7zM560.9 281.0h7.9v2.8h-7.9zM389.1 283.8h2.6v2.8h-2.6zM447.2 283.8h2.6v2.8h-2.6zM457.8 283.8h2.6v2.8h-2.6zM476.3 283.8h2.6v2.8h-2.6zM489.6 283.8h2.6v2.8h-2.6zM526.6 283.8h7.9v2.8h-7.9zM539.8 283.8h7.9v2.8h-7.9zM560.9 283.8h5.3v2.8h-5.3zM391.7 286.5h2.6v2.8h-2.6zM447.2 286.5h2.6v2.8h-2.6zM457.8 286.5h5.3v2.8h-5.3zM476.3 286.5h2.6v2.8h-2.6zM489.6 286.5h2.6v2.8h-2.6zM526.6 286.5h7.9v2.8h-7.9zM539.8 286.5h5.3v2.8h-5.3zM560.9 286.5h2.6v2.8h-2.6zM391.7 289.2h5.3v2.8h-5.3zM447.2 289.2h2.6v2.8h-2.6zM460.5 289.2h7.9v2.8h-7.9zM476.3 289.2h2.6v2.8h-2.6zM489.6 289.2h2.6v2.8h-2.6zM521.3 289.2h23.8v2.8h-23.8zM560.9 289.2h2.6v2.8h-2.6zM394.4 292.0h7.9v2.8h-7.9zM447.2 292.0h2.6v2.8h-2.6zM463.1 292.0h7.9v2.8h-7.9zM476.3 292.0h2.6v2.8h-2.6zM489.6 292.0h2.6v2.8h-2.6zM518.6 292.0h23.8v2.8h-23.8zM560.9 292.0h2.6v2.8h-2.6zM402.3 294.8h5.3v2.8h-5.3zM444.6 294.8h5.3v2.8h-5.3zM465.8 294.8h5.3v2.8h-5.3zM476.3 294.8h2.6v2.8h-2.6zM489.6 294.8h2.6v2.8h-2.6zM518.6 294.8h5.3v2.8h-5.3zM529.2 294.8h7.9v2.8h-7.9zM560.9 294.8h2.6v2.8h-2.6zM383.8 297.5h5.3v2.8h-5.3zM442.0 297.5h5.3v2.8h-5.3zM468.4 297.5h13.2v2.8h-13.2zM486.9 297.5h5.3v2.8h-5.3zM516.0 297.5h7.9v2.8h-7.9zM529.2 297.5h5.3v2.8h-5.3zM560.9 297.5h5.3v2.8h-5.3zM439.3 300.2h5.3v2.8h-5.3zM471.0 300.2h15.9v2.8h-15.9zM500.1 300.2h34.4v2.8h-34.4zM542.4 300.2h10.6v2.8h-10.6zM560.9 300.2h7.9v2.8h-7.9zM378.5 303.0h2.6v2.8h-2.6zM410.2 303.0h2.6v2.8h-2.6zM436.7 303.0h5.3v2.8h-5.3zM473.7 303.0h5.3v2.8h-5.3zM497.5 303.0h7.9v2.8h-7.9zM516.0 303.0h15.9v2.8h-15.9zM539.8 303.0h15.9v2.8h-15.9zM563.6 303.0h18.5v2.8h-18.5zM378.5 305.8h2.6v2.8h-2.6zM410.2 305.8h2.6v2.8h-2.6zM434.0 305.8h5.3v2.8h-5.3zM476.3 305.8h2.6v2.8h-2.6zM497.5 305.8h5.3v2.8h-5.3zM518.6 305.8h7.9v2.8h-7.9zM539.8 305.8h5.3v2.8h-5.3zM550.4 305.8h5.3v2.8h-5.3zM579.4 305.8h5.3v2.8h-5.3zM352.1 308.5h2.6v2.8h-2.6zM360.0 308.5h2.6v2.8h-2.6zM407.6 308.5h2.6v2.8h-2.6zM436.7 308.5h2.6v2.8h-2.6zM476.3 308.5h2.6v2.8h-2.6zM494.8 308.5h5.3v2.8h-5.3zM518.6 308.5h7.9v2.8h-7.9zM539.8 308.5h5.3v2.8h-5.3zM550.4 308.5h7.9v2.8h-7.9zM579.4 308.5h5.3v2.8h-5.3zM439.3 311.2h2.6v2.8h-2.6zM473.7 311.2h2.6v2.8h-2.6zM492.2 311.2h5.3v2.8h-5.3zM516.0 311.2h15.9v2.8h-15.9zM539.8 311.2h42.3v2.8h-42.3zM362.6 314.0h2.6v2.8h-2.6zM412.9 314.0h2.6v2.8h-2.6zM442.0 314.0h34.4v2.8h-34.4zM489.6 314.0h5.3v2.8h-5.3zM513.3 314.0h21.1v2.8h-21.1zM542.4 314.0h15.9v2.8h-15.9zM412.9 316.8h2.6v2.8h-2.6zM486.9 316.8h5.3v2.8h-5.3zM510.7 316.8h13.2v2.8h-13.2zM529.2 316.8h5.3v2.8h-5.3zM547.7 316.8h7.9v2.8h-7.9zM365.3 319.5h2.6v2.8h-2.6zM412.9 319.5h2.6v2.8h-2.6zM468.4 319.5h18.5v2.8h-18.5zM510.7 319.5h10.6v2.8h-10.6zM531.8 319.5h5.3v2.8h-5.3zM547.7 319.5h5.3v2.8h-5.3zM349.4 322.2h2.6v2.8h-2.6zM365.3 322.2h2.6v2.8h-2.6zM465.8 322.2h2.6v2.8h-2.6zM513.3 322.2h5.3v2.8h-5.3zM534.5 322.2h15.9v2.8h-15.9zM365.3 325.0h2.6v2.8h-2.6zM463.1 325.0h2.6v2.8h-2.6zM365.3 327.8h2.6v2.8h-2.6zM463.1 327.8h2.6v2.8h-2.6zM365.3 330.5h2.6v2.8h-2.6zM418.2 330.5h5.3v2.8h-5.3zM463.1 330.5h2.6v2.8h-2.6zM349.4 333.2h2.6v2.8h-2.6zM365.3 333.2h2.6v2.8h-2.6zM418.2 333.2h5.3v2.8h-5.3zM463.1 333.2h2.6v2.8h-2.6zM418.2 336.0h5.3v2.8h-5.3zM463.1 336.0h2.6v2.8h-2.6zM362.6 338.8h2.6v2.8h-2.6zM378.5 338.8h2.6v2.8h-2.6zM418.2 338.8h5.3v2.8h-5.3zM465.8 338.8h2.6v2.8h-2.6zM360.0 341.5h5.3v2.8h-5.3zM418.2 341.5h5.3v2.8h-5.3zM465.8 341.5h2.6v2.8h-2.6zM344.1 344.2h2.6v2.8h-2.6zM362.6 344.2h2.6v2.8h-2.6zM378.5 344.2h2.6v2.8h-2.6zM463.1 344.2h2.6v2.8h-2.6zM362.6 347.0h2.6v2.8h-2.6zM378.5 347.0h2.6v2.8h-2.6zM463.1 347.0h2.6v2.8h-2.6zM338.9 349.8h2.6v2.8h-2.6zM362.6 349.8h2.6v2.8h-2.6zM378.5 349.8h2.6v2.8h-2.6zM410.2 349.8h2.6v2.8h-2.6zM463.1 349.8h2.6v2.8h-2.6zM362.6 352.5h2.6v2.8h-2.6zM407.6 352.5h5.3v2.8h-5.3zM463.1 352.5h2.6v2.8h-2.6zM404.9 355.2h2.6v2.8h-2.6zM463.1 355.2h2.6v2.8h-2.6zM463.1 358.0h2.6v2.8h-2.6zM397.0 360.8h2.6v2.8h-2.6zM463.1 360.8h2.6v2.8h-2.6zM325.6 363.5h2.6v2.8h-2.6zM463.1 363.5h2.6v2.8h-2.6zM463.1 366.2h2.6v2.8h-2.6zM346.8 369.0h2.6v2.8h-2.6zM404.9 369.0h2.6v2.8h-2.6zM431.4 369.0h2.6v2.8h-2.6zM463.1 369.0h2.6v2.8h-2.6zM434.0 371.8h5.3v2.8h-5.3zM465.8 371.8h2.6v2.8h-2.6zM436.7 374.5h2.6v2.8h-2.6zM465.8 374.5h2.6v2.8h-2.6zM402.3 377.2h2.6v2.8h-2.6zM436.7 377.2h2.6v2.8h-2.6zM463.1 377.2h2.6v2.8h-2.6zM436.7 380.0h2.6v2.8h-2.6zM463.1 380.0h2.6v2.8h-2.6zM436.7 382.8h2.6v2.8h-2.6zM463.1 382.8h2.6v2.8h-2.6zM360.0 385.5h2.6v2.8h-2.6zM378.5 385.5h2.6v2.8h-2.6zM436.7 385.5h2.6v2.8h-2.6zM463.1 385.5h2.6v2.8h-2.6zM360.0 388.2h2.6v2.8h-2.6zM378.5 388.2h2.6v2.8h-2.6zM394.4 388.2h2.6v2.8h-2.6zM436.7 388.2h2.6v2.8h-2.6zM463.1 388.2h2.6v2.8h-2.6zM381.2 391.0h5.3v2.8h-5.3zM391.7 391.0h2.6v2.8h-2.6zM399.7 391.0h2.6v2.8h-2.6zM436.7 391.0h2.6v2.8h-2.6zM463.1 391.0h2.6v2.8h-2.6zM317.7 393.8h2.6v2.8h-2.6zM362.6 393.8h2.6v2.8h-2.6zM436.7 393.8h2.6v2.8h-2.6zM465.8 393.8h2.6v2.8h-2.6zM341.5 396.5h2.6v2.8h-2.6zM428.7 396.5h2.6v2.8h-2.6zM436.7 396.5h5.3v2.8h-5.3zM463.1 396.5h5.3v2.8h-5.3zM338.9 399.2h5.3v2.8h-5.3zM428.7 399.2h2.6v2.8h-2.6zM439.3 399.2h26.4v2.8h-26.4zM328.3 402.0h13.2v2.8h-13.2zM346.8 402.0h2.6v2.8h-2.6zM365.3 402.0h2.6v2.8h-2.6zM346.8 404.8h2.6v2.8h-2.6zM365.3 404.8h2.6v2.8h-2.6zM420.8 404.8h5.3v2.8h-5.3zM338.9 407.5h2.6v2.8h-2.6zM397.0 415.8h2.6v2.8h-2.6zM336.2 418.5h2.6v2.8h-2.6zM418.2 418.5h2.6v2.8h-2.6zM360.0 421.2h2.6v2.8h-2.6zM415.5 424.0h2.6v2.8h-2.6zM354.7 426.8h2.6v2.8h-2.6zM330.9 429.5h2.6v2.8h-2.6zM389.1 429.5h2.6v2.8h-2.6zM330.9 432.2h2.6v2.8h-2.6zM389.1 432.2h2.6v2.8h-2.6zM330.9 435.0h2.6v2.8h-2.6zM391.7 435.0h2.6v2.8h-2.6zM410.2 435.0h2.6v2.8h-2.6zM330.9 437.8h2.6v2.8h-2.6zM341.5 437.8h2.6v2.8h-2.6zM394.4 437.8h13.2v2.8h-13.2zM367.9 440.5h5.3v2.8h-5.3zM373.2 443.2h15.9v2.8h-15.9zM373.2 446.0h2.6v2.8h-2.6zM386.4 446.0h15.9v2.8h-15.9zM349.4 448.8h2.6v2.8h-2.6zM373.2 448.8h2.6v2.8h-2.6zM399.7 448.8h5.3v2.8h-5.3zM346.8 451.5h5.3v2.8h-5.3zM373.2 451.5h2.6v2.8h-2.6zM399.7 451.5h5.3v2.8h-5.3zM338.9 454.2h18.5v2.8h-18.5zM373.2 454.2h2.6v2.8h-2.6zM397.0 454.2h5.3v2.8h-5.3zM349.4 457.0h2.6v2.8h-2.6zM367.9 457.0h10.6v2.8h-10.6zM397.0 457.0h2.6v2.8h-2.6zM349.4 459.8h2.6v2.8h-2.6zM373.2 459.8h7.9v2.8h-7.9zM394.4 459.8h2.6v2.8h-2.6zM349.4 462.5h2.6v2.8h-2.6zM362.6 462.5h2.6v2.8h-2.6zM373.2 462.5h10.6v2.8h-10.6zM394.4 462.5h2.6v2.8h-2.6zM362.6 465.2h2.6v2.8h-2.6zM375.9 465.2h5.3v2.8h-5.3zM391.7 465.2h5.3v2.8h-5.3zM354.7 468.0h15.9v2.8h-15.9zM386.4 468.0h7.9v2.8h-7.9zM362.6 470.8h10.6v2.8h-10.6zM383.8 470.8h5.3v2.8h-5.3zM346.8 473.5h2.6v2.8h-2.6zM362.6 473.5h2.6v2.8h-2.6zM370.6 473.5h2.6v2.8h-2.6zM383.8 473.5h2.6v2.8h-2.6zM344.1 476.2h2.6v2.8h-2.6zM349.4 476.2h2.6v2.8h-2.6zM362.6 476.2h2.6v2.8h-2.6zM370.6 476.2h2.6v2.8h-2.6zM383.8 476.2h2.6v2.8h-2.6zM362.6 479.0h2.6v2.8h-2.6zM370.6 479.0h2.6v2.8h-2.6zM383.8 479.0h2.6v2.8h-2.6zM352.1 481.8h2.6v2.8h-2.6zM362.6 481.8h2.6v2.8h-2.6zM370.6 481.8h2.6v2.8h-2.6zM383.8 481.8h2.6v2.8h-2.6zM352.1 484.5h2.6v2.8h-2.6zM362.6 484.5h2.6v2.8h-2.6zM370.6 484.5h2.6v2.8h-2.6zM383.8 484.5h2.6v2.8h-2.6zM352.1 487.2h2.6v17.8h-2.6zM362.6 487.2h2.6v17.8h-2.6zM370.6 487.2h2.6v17.8h-2.6zM383.8 487.2h2.6v17.8h-2.6z"/>
<path fill="#006fff" d="M323.0 24.0h2.6v17.8h-2.6zM492.2 24.0h2.6v17.8h-2.6zM323.0 41.8h2.6v2.8h-2.6zM492.2 41.8h2.6v2.8h-2.6zM328.3 44.5h2.6v2.8h-2.6zM492.2 44.5h2.6v2.8h-2.6zM558.3 44.5h2.6v2.8h-2.6zM330.9 47.2h2.6v2.8h-2.6zM492.2 47.2h2.6v2.8h-2.6zM553.0 47.2h5.3v2.8h-5.3zM333.6 50.0h2.6v2.8h-2.6zM489.6 50.0h2.6v2.8h-2.6zM550.4 50.0h2.6v2.8h-2.6zM336.2 52.8h2.6v2.8h-2.6zM484.3 52.8h5.3v2.8h-5.3zM550.4 52.8h2.6v2.8h-2.6zM317.7 55.5h2.6v2.8h-2.6zM338.9 55.5h2.6v2.8h-2.6zM481.6 55.5h2.6v2.8h-2.6zM547.7 55.5h2.6v2.8h-2.6zM317.7 58.2h2.6v2.8h-2.6zM338.9 58.2h2.6v2.8h-2.6zM481.6 58.2h2.6v2.8h-2.6zM542.4 58.2h5.3v2.8h-5.3zM317.7 61.0h2.6v2.8h-2.6zM341.5 61.0h5.3v2.8h-5.3zM479.0 61.0h2.6v2.8h-2.6zM539.8 61.0h2.6v2.8h-2.6zM317.7 63.8h2.6v2.8h-2.6zM357.4 63.8h2.6v2.8h-2.6zM473.7 63.8h5.3v2.8h-5.3zM539.8 63.8h2.6v2.8h-2.6zM471.0 66.5h2.6v2.8h-2.6zM537.1 66.5h2.6v2.8h-2.6zM320.4 69.2h2.6v2.8h-2.6zM333.6 69.2h7.9v2.8h-7.9zM471.0 69.2h2.6v2.8h-2.6zM531.8 69.2h5.3v2.8h-5.3zM325.6 72.0h2.6v2.8h-2.6zM341.5 72.0h2.6v2.8h-2.6zM468.4 72.0h2.6v2.8h-2.6zM529.2 72.0h2.6v2.8h-2.6zM341.5 74.8h2.6v2.8h-2.6zM460.5 74.8h7.9v2.8h-7.9zM529.2 74.8h2.6v2.8h-2.6zM344.1 77.5h2.6v2.8h-2.6zM455.2 77.5h2.6v2.8h-2.6zM526.6 77.5h2.6v2.8h-2.6zM346.8 80.2h5.3v2.8h-5.3zM447.2 80.2h2.6v2.8h-2.6zM521.3 80.2h5.3v2.8h-5.3zM352.1 83.0h2.6v2.8h-2.6zM518.6 83.0h2.6v2.8h-2.6zM333.6 85.8h5.3v2.8h-5.3zM352.1 85.8h2.6v2.8h-2.6zM518.6 85.8h2.6v2.8h-2.6zM354.7 88.5h5.3v2.8h-5.3zM436.7 88.5h2.6v2.8h-2.6zM516.0 88.5h2.6v2.8h-2.6zM434.0 91.2h2.6v2.8h-2.6zM510.7 91.2h5.3v2.8h-5.3zM431.4 94.0h2.6v2.8h-2.6zM508.1 94.0h2.6v2.8h-2.6zM508.1 96.8h2.6v2.8h-2.6zM333.6 99.5h5.3v2.8h-5.3zM505.4 99.5h2.6v2.8h-2.6zM473.7 102.2h5.3v2.8h-5.3zM489.6 102.2h5.3v2.8h-5.3zM479.0 105.0h2.6v2.8h-2.6zM486.9 105.0h2.6v2.8h-2.6zM479.0 107.8h2.6v2.8h-2.6zM486.9 107.8h2.6v2.8h-2.6zM423.5 110.5h2.6v2.8h-2.6zM465.8 110.5h2.6v2.8h-2.6zM479.0 110.5h2.6v2.8h-2.6zM486.9 110.5h2.6v2.8h-2.6zM312.4 118.8h7.9v2.8h-7.9zM330.9 118.8h7.9v2.8h-7.9zM420.8 118.8h2.6v2.8h-2.6zM468.4 118.8h2.6v2.8h-2.6zM476.3 118.8h2.6v2.8h-2.6zM489.6 118.8h2.6v2.8h-2.6zM317.7 121.5h5.3v2.8h-5.3zM328.3 121.5h5.3v2.8h-5.3zM336.2 121.5h2.6v2.8h-2.6zM471.0 121.5h2.6v2.8h-2.6zM489.6 121.5h2.6v2.8h-2.6zM320.4 124.2h18.5v2.8h-18.5zM423.5 124.2h2.6v2.8h-2.6zM323.0 127.0h13.2v2.8h-13.2zM423.5 127.0h2.6v2.8h-2.6zM492.2 127.0h2.6v2.8h-2.6zM328.3 129.8h5.3v2.8h-5.3zM426.1 129.8h2.6v2.8h-2.6zM494.8 129.8h2.6v2.8h-2.6zM312.4 132.5h2.6v2.8h-2.6zM328.3 132.5h5.3v2.8h-5.3zM426.1 132.5h2.6v2.8h-2.6zM494.8 132.5h2.6v2.8h-2.6zM312.4 135.2h18.5v2.8h-18.5zM423.5 135.2h2.6v2.8h-2.6zM492.2 135.2h2.6v2.8h-2.6zM259.5 138.0h2.6v2.8h-2.6zM315.1 138.0h13.2v2.8h-13.2zM423.5 138.0h2.6v2.8h-2.6zM484.3 138.0h2.6v2.8h-2.6zM259.5 140.8h2.6v2.8h-2.6zM338.9 140.8h13.2v2.8h-13.2zM479.0 140.8h2.6v2.8h-2.6zM338.9 143.5h5.3v2.8h-5.3zM349.4 143.5h5.3v2.8h-5.3zM476.3 143.5h2.6v2.8h-2.6zM323.0 146.2h5.3v2.8h-5.3zM338.9 146.2h5.3v2.8h-5.3zM349.4 146.2h5.3v2.8h-5.3zM412.9 146.2h5.3v2.8h-5.3zM235.8 149.0h2.6v2.8h-2.6zM262.2 149.0h2.6v2.8h-2.6zM320.4 149.0h10.6v2.8h-10.6zM338.9 149.0h5.3v2.8h-5.3zM349.4 149.0h5.3v2.8h-5.3zM410.2 149.0h2.6v2.8h-2.6zM262.2 151.8h2.6v2.8h-2.6zM317.7 151.8h5.3v2.8h-5.3zM328.3 151.8h5.3v2.8h-5.3zM338.9 151.8h5.3v2.8h-5.3zM349.4 151.8h5.3v2.8h-5.3zM404.9 151.8h5.3v2.8h-5.3zM479.0 151.8h2.6v2.8h-2.6zM262.2 154.5h2.6v2.8h-2.6zM317.7 154.5h5.3v2.8h-5.3zM330.9 154.5h7.9v2.8h-7.9zM352.1 154.5h5.3v2.8h-5.3zM399.7 154.5h5.3v2.8h-5.3zM479.0 154.5h2.6v2.8h-2.6zM320.4 157.2h2.6v2.8h-2.6zM354.7 157.2h2.6v2.8h-2.6zM399.7 157.2h2.6v2.8h-2.6zM479.0 157.2h2.6v2.8h-2.6zM217.2 160.0h2.6v2.8h-2.6zM320.4 160.0h2.6v2.8h-2.6zM357.4 160.0h2.6v2.8h-2.6zM397.0 160.0h2.6v2.8h-2.6zM476.3 160.0h2.6v2.8h-2.6zM214.6 162.8h2.6v2.8h-2.6zM320.4 162.8h2.6v2.8h-2.6zM357.4 162.8h2.6v2.8h-2.6zM394.4 162.8h2.6v2.8h-2.6zM471.0 162.8h5.3v2.8h-5.3zM320.4 165.5h2.6v2.8h-2.6zM389.1 165.5h2.6v2.8h-2.6zM465.8 165.5h5.3v2.8h-5.3zM317.7 168.2h2.6v2.8h-2.6zM383.8 168.2h2.6v2.8h-2.6zM465.8 168.2h5.3v2.8h-5.3zM196.1 171.0h2.6v2.8h-2.6zM315.1 171.0h2.6v2.8h-2.6zM381.2 171.0h2.6v2.8h-2.6zM465.8 171.0h5.3v2.8h-5.3zM193.5 173.8h2.6v2.8h-2.6zM262.2 173.8h2.6v2.8h-2.6zM312.4 173.8h2.6v2.8h-2.6zM465.8 173.8h5.3v2.8h-5.3zM312.4 176.5h2.6v2.8h-2.6zM360.0 176.5h2.6v2.8h-2.6zM378.5 176.5h2.6v2.8h-2.6zM465.8 176.5h5.3v2.8h-5.3zM264.8 179.2h2.6v2.8h-2.6zM312.4 179.2h2.6v2.8h-2.6zM362.6 179.2h2.6v2.8h-2.6zM378.5 179.2h2.6v2.8h-2.6zM465.8 179.2h5.3v2.8h-5.3zM315.1 182.0h2.6v2.8h-2.6zM365.3 182.0h2.6v2.8h-2.6zM381.2 182.0h2.6v2.8h-2.6zM465.8 182.0h5.3v2.8h-5.3zM315.1 184.8h5.3v2.8h-5.3zM367.9 184.8h7.9v2.8h-7.9zM381.2 184.8h2.6v2.8h-2.6zM465.8 184.8h5.3v2.8h-5.3zM312.4 187.5h2.6v2.8h-2.6zM373.2 187.5h2.6v2.8h-2.6zM383.8 187.5h2.6v2.8h-2.6zM465.8 187.5h5.3v2.8h-5.3zM309.8 190.2h2.6v2.8h-2.6zM373.2 190.2h2.6v2.8h-2.6zM386.4 190.2h2.6v2.8h-2.6zM465.8 190.2h5.3v2.8h-5.3zM373.2 193.0h2.6v2.8h-2.6zM389.1 193.0h2.6v2.8h-2.6zM465.8 193.0h5.3v2.8h-5.3zM373.2 195.8h2.6v2.8h-2.6zM389.1 195.8h5.3v2.8h-5.3zM465.8 195.8h5.3v2.8h-5.3zM373.2 198.5h2.6v2.8h-2.6zM389.1 198.5h5.3v2.8h-5.3zM465.8 198.5h5.3v2.8h-5.3zM389.1 201.2h2.6v2.8h-2.6zM465.8 201.2h5.3v2.8h-5.3zM267.5 204.0h2.6v2.8h-2.6zM304.5 204.0h2.6v2.8h-2.6zM386.4 204.0h2.6v2.8h-2.6zM465.8 204.0h5.3v2.8h-5.3zM304.5 206.8h2.6v2.8h-2.6zM370.6 206.8h2.6v2.8h-2.6zM386.4 206.8h2.6v2.8h-2.6zM465.8 206.8h5.3v2.8h-5.3zM304.5 209.5h2.6v2.8h-2.6zM370.6 209.5h2.6v2.8h-2.6zM386.4 209.5h2.6v2.8h-2.6zM465.8 209.5h5.3v2.8h-5.3zM526.6 209.5h2.6v2.8h-2.6zM267.5 212.2h2.6v2.8h-2.6zM370.6 212.2h2.6v2.8h-2.6zM389.1 212.2h2.6v2.8h-2.6zM407.6 212.2h5.3v2.8h-5.3zM465.8 212.2h5.3v2.8h-5.3zM521.3 212.2h2.6v2.8h-2.6zM531.8 212.2h2.6v2.8h-2.6zM267.5 215.0h2.6v2.8h-2.6zM370.6 215.0h2.6v2.8h-2.6zM391.7 215.0h2.6v2.8h-2.6zM404.9 215.0h2.6v2.8h-2.6zM412.9 215.0h2.6v2.8h-2.6zM465.8 215.0h5.3v2.8h-5.3zM518.6 215.0h2.6v2.8h-2.6zM264.8 217.8h2.6v2.8h-2.6zM370.6 217.8h5.3v2.8h-5.3zM394.4 217.8h2.6v2.8h-2.6zM402.3 217.8h2.6v2.8h-2.6zM415.5 217.8h2.6v2.8h-2.6zM465.8 217.8h5.3v2.8h-5.3zM534.5 217.8h2.6v2.8h-2.6zM262.2 220.5h2.6v2.8h-2.6zM370.6 220.5h5.3v2.8h-5.3zM465.8 220.5h5.3v2.8h-5.3zM534.5 220.5h2.6v2.8h-2.6zM238.4 223.2h26.4v2.8h-26.4zM309.8 223.2h2.6v2.8h-2.6zM373.2 223.2h5.3v2.8h-5.3zM399.7 223.2h2.6v2.8h-2.6zM418.2 223.2h2.6v2.8h-2.6zM463.1 223.2h13.2v2.8h-13.2zM518.6 223.2h2.6v2.8h-2.6zM531.8 223.2h2.6v2.8h-2.6zM235.8 226.0h26.4v2.8h-26.4zM375.9 226.0h5.3v2.8h-5.3zM399.7 226.0h2.6v2.8h-2.6zM418.2 226.0h2.6v2.8h-2.6zM463.1 226.0h15.9v2.8h-15.9zM523.9 226.0h7.9v2.8h-7.9zM233.1 228.8h5.3v2.8h-5.3zM378.5 228.8h2.6v2.8h-2.6zM399.7 228.8h2.6v2.8h-2.6zM418.2 228.8h2.6v2.8h-2.6zM465.8 228.8h5.3v2.8h-5.3zM476.3 228.8h5.3v2.8h-5.3zM214.6 231.5h18.5v2.8h-18.5zM378.5 231.5h2.6v2.8h-2.6zM399.7 231.5h2.6v2.8h-2.6zM418.2 231.5h2.6v2.8h-2.6zM460.5 231.5h2.6v2.8h-2.6zM465.8 231.5h5.3v2.8h-5.3zM476.3 231.5h5.3v2.8h-5.3zM212.0 234.2h2.6v2.8h-2.6zM317.7 234.2h2.6v2.8h-2.6zM367.9 234.2h13.2v2.8h-13.2zM399.7 234.2h2.6v2.8h-2.6zM420.8 234.2h2.6v2.8h-2.6zM460.5 234.2h2.6v2.8h-2.6zM465.8 234.2h5.3v2.8h-5.3zM476.3 234.2h5.3v2.8h-5.3zM209.3 237.0h2.6v2.8h-2.6zM317.7 237.0h2.6v2.8h-2.6zM365.3 237.0h13.2v2.8h-13.2zM399.7 237.0h2.6v2.8h-2.6zM460.5 237.0h2.6v2.8h-2.6zM465.8 237.0h5.3v2.8h-5.3zM476.3 237.0h5.3v2.8h-5.3zM209.3 239.8h2.6v2.8h-2.6zM320.4 239.8h2.6v2.8h-2.6zM362.6 239.8h5.3v2.8h-5.3zM399.7 239.8h2.6v2.8h-2.6zM423.5 239.8h2.6v2.8h-2.6zM460.5 239.8h2.6v2.8h-2.6zM465.8 239.8h5.3v2.8h-5.3zM476.3 239.8h5.3v2.8h-5.3zM182.9 242.5h26.4v2.8h-26.4zM320.4 242.5h2.6v2.8h-2.6zM362.6 242.5h10.6v2.8h-10.6zM397.0 242.5h2.6v2.8h-2.6zM402.3 242.5h7.9v2.8h-7.9zM460.5 242.5h2.6v2.8h-2.6zM465.8 242.5h5.3v2.8h-5.3zM476.3 242.5h5.3v2.8h-5.3zM180.2 245.2h2.6v2.8h-2.6zM317.7 245.2h2.6v2.8h-2.6zM373.2 245.2h5.3v2.8h-5.3zM397.0 245.2h2.6v2.8h-2.6zM460.5 245.2h2.6v2.8h-2.6zM468.4 245.2h10.6v2.8h-10.6zM502.8 245.2h2.6v2.8h-2.6zM177.6 248.0h2.6v2.8h-2.6zM315.1 248.0h2.6v2.8h-2.6zM378.5 248.0h2.6v2.8h-2.6zM457.8 248.0h2.6v2.8h-2.6zM471.0 248.0h5.3v2.8h-5.3zM500.1 248.0h7.9v2.8h-7.9zM177.6 250.8h2.6v2.8h-2.6zM309.8 250.8h5.3v2.8h-5.3zM344.1 250.8h7.9v2.8h-7.9zM378.5 250.8h2.6v2.8h-2.6zM457.8 250.8h2.6v2.8h-2.6zM497.5 250.8h5.3v2.8h-5.3zM508.1 250.8h2.6v2.8h-2.6zM142.3 253.5h35.3v2.8h-35.3zM309.8 253.5h5.3v2.8h-5.3zM336.2 253.5h5.3v2.8h-5.3zM352.1 253.5h2.6v2.8h-2.6zM378.5 253.5h2.6v2.8h-2.6zM455.2 253.5h5.3v2.8h-5.3zM497.5 253.5h5.3v2.8h-5.3zM508.1 253.5h5.3v2.8h-5.3zM315.1 256.2h2.6v2.8h-2.6zM333.6 256.2h2.6v2.8h-2.6zM375.9 256.2h2.6v2.8h-2.6zM452.5 256.2h5.3v2.8h-5.3zM497.5 256.2h5.3v2.8h-5.3zM508.1 256.2h5.3v2.8h-5.3zM317.7 259.0h5.3v2.8h-5.3zM328.3 259.0h5.3v2.8h-5.3zM354.7 259.0h2.6v2.8h-2.6zM370.6 259.0h5.3v2.8h-5.3zM399.7 259.0h2.6v2.8h-2.6zM420.8 259.0h5.3v2.8h-5.3zM449.9 259.0h5.3v2.8h-5.3zM497.5 259.0h5.3v2.8h-5.3zM508.1 259.0h5.3v2.8h-5.3zM354.7 261.8h2.6v2.8h-2.6zM362.6 261.8h5.3v2.8h-5.3zM386.4 261.8h5.3v2.8h-5.3zM426.1 261.8h2.6v2.8h-2.6zM447.2 261.8h5.3v2.8h-5.3zM497.5 261.8h5.3v2.8h-5.3zM508.1 261.8h5.3v2.8h-5.3zM354.7 264.5h7.9v2.8h-7.9zM383.8 264.5h2.6v2.8h-2.6zM391.7 264.5h2.6v2.8h-2.6zM426.1 264.5h2.6v2.8h-2.6zM444.6 264.5h2.6v2.8h-2.6zM497.5 264.5h15.9v2.8h-15.9zM394.4 267.2h2.6v2.8h-2.6zM426.1 267.2h2.6v2.8h-2.6zM439.3 267.2h5.3v2.8h-5.3zM397.0 270.0h2.6v2.8h-2.6zM426.1 270.0h2.6v2.8h-2.6zM436.7 270.0h5.3v2.8h-5.3zM381.2 272.8h2.6v2.8h-2.6zM399.7 272.8h2.6v2.8h-2.6zM423.5 272.8h5.3v2.8h-5.3zM434.0 272.8h5.3v2.8h-5.3zM402.3 275.5h2.6v2.8h-2.6zM420.8 275.5h5.3v2.8h-5.3zM434.0 275.5h5.3v2.8h-5.3zM383.8 278.2h2.6v2.8h-2.6zM402.3 278.2h2.6v2.8h-2.6zM415.5 278.2h2.6v2.8h-2.6zM436.7 278.2h5.3v2.8h-5.3zM389.1 281.0h5.3v2.8h-5.3zM402.3 281.0h2.6v2.8h-2.6zM412.9 281.0h2.6v2.8h-2.6zM439.3 281.0h5.3v2.8h-5.3zM394.4 283.8h2.6v2.8h-2.6zM402.3 283.8h5.3v2.8h-5.3zM442.0 283.8h2.6v2.8h-2.6zM397.0 286.5h10.6v2.8h-10.6zM410.2 286.5h2.6v2.8h-2.6zM442.0 286.5h2.6v2.8h-2.6zM410.2 289.2h2.6v2.8h-2.6zM439.3 289.2h5.3v2.8h-5.3zM412.9 292.0h2.6v2.8h-2.6zM436.7 292.0h5.3v2.8h-5.3zM412.9 294.8h2.6v2.8h-2.6zM434.0 294.8h5.3v2.8h-5.3zM412.9 297.5h2.6v2.8h-2.6zM434.0 297.5h2.6v2.8h-2.6zM383.8 300.2h2.6v2.8h-2.6zM404.9 300.2h2.6v2.8h-2.6zM412.9 300.2h2.6v2.8h-2.6zM431.4 300.2h2.6v2.8h-2.6zM381.2 303.0h2.6v2.8h-2.6zM412.9 303.0h2.6v2.8h-2.6zM428.7 303.0h2.6v2.8h-2.6zM412.9 305.8h2.6v2.8h-2.6zM428.7 305.8h2.6v2.8h-2.6zM481.6 305.8h10.6v2.8h-10.6zM412.9 308.5h2.6v2.8h-2.6zM431.4 308.5h2.6v2.8h-2.6zM481.6 308.5h2.6v2.8h-2.6zM486.9 308.5h2.6v2.8h-2.6zM378.5 311.2h2.6v2.8h-2.6zM436.7 311.2h2.6v2.8h-2.6zM481.6 311.2h5.3v2.8h-5.3zM352.1 314.0h2.6v2.8h-2.6zM481.6 314.0h2.6v2.8h-2.6zM352.1 316.8h2.6v2.8h-2.6zM404.9 316.8h2.6v2.8h-2.6zM439.3 316.8h2.6v2.8h-2.6zM362.6 319.5h2.6v2.8h-2.6zM407.6 322.2h2.6v2.8h-2.6zM412.9 322.2h2.6v2.8h-2.6zM418.2 325.0h2.6v2.8h-2.6zM420.8 327.8h2.6v2.8h-2.6zM439.3 330.5h2.6v2.8h-2.6zM378.5 333.2h2.6v2.8h-2.6zM439.3 333.2h2.6v2.8h-2.6zM415.5 336.0h2.6v2.8h-2.6zM439.3 336.0h2.6v2.8h-2.6zM357.4 338.8h2.6v2.8h-2.6zM381.2 338.8h2.6v2.8h-2.6zM415.5 338.8h2.6v2.8h-2.6zM423.5 338.8h2.6v2.8h-2.6zM439.3 338.8h2.6v2.8h-2.6zM383.8 341.5h2.6v2.8h-2.6zM415.5 341.5h2.6v2.8h-2.6zM423.5 341.5h2.6v2.8h-2.6zM439.3 341.5h2.6v2.8h-2.6zM346.8 344.2h10.6v2.8h-10.6zM381.2 344.2h2.6v2.8h-2.6zM415.5 344.2h2.6v2.8h-2.6zM439.3 344.2h2.6v2.8h-2.6zM357.4 347.0h2.6v2.8h-2.6zM410.2 347.0h13.2v2.8h-13.2zM439.3 347.0h2.6v2.8h-2.6zM357.4 349.8h2.6v2.8h-2.6zM415.5 349.8h5.3v2.8h-5.3zM439.3 349.8h2.6v2.8h-2.6zM338.9 352.5h2.6v2.8h-2.6zM357.4 352.5h2.6v2.8h-2.6zM412.9 352.5h2.6v2.8h-2.6zM439.3 352.5h2.6v2.8h-2.6zM399.7 355.2h2.6v2.8h-2.6zM439.3 355.2h2.6v2.8h-2.6zM378.5 358.0h2.6v2.8h-2.6zM397.0 358.0h2.6v2.8h-2.6zM436.7 358.0h2.6v2.8h-2.6zM378.5 360.8h2.6v2.8h-2.6zM410.2 360.8h2.6v2.8h-2.6zM436.7 360.8h2.6v2.8h-2.6zM328.3 363.5h2.6v2.8h-2.6zM346.8 363.5h2.6v2.8h-2.6zM431.4 363.5h7.9v2.8h-7.9zM320.4 366.2h2.6v2.8h-2.6zM317.7 369.0h2.6v2.8h-2.6zM344.1 369.0h2.6v2.8h-2.6zM404.9 371.8h2.6v2.8h-2.6zM378.5 374.5h2.6v2.8h-2.6zM428.7 374.5h2.6v2.8h-2.6zM352.1 377.2h2.6v2.8h-2.6zM378.5 377.2h2.6v2.8h-2.6zM428.7 377.2h2.6v2.8h-2.6zM354.7 380.0h2.6v2.8h-2.6zM428.7 380.0h2.6v2.8h-2.6zM394.4 382.8h2.6v2.8h-2.6zM357.4 385.5h2.6v2.8h-2.6zM428.7 385.5h2.6v2.8h-2.6zM357.4 388.2h2.6v2.8h-2.6zM381.2 388.2h2.6v2.8h-2.6zM391.7 388.2h2.6v2.8h-2.6zM428.7 388.2h2.6v2.8h-2.6zM357.4 391.0h2.6v2.8h-2.6zM344.1 393.8h7.9v2.8h-7.9zM399.7 393.8h2.6v2.8h-2.6zM320.4 396.5h2.6v2.8h-2.6zM336.2 396.5h2.6v2.8h-2.6zM352.1 396.5h2.6v2.8h-2.6zM360.0 396.5h2.6v2.8h-2.6zM323.0 399.2h13.2v2.8h-13.2zM426.1 399.2h2.6v2.8h-2.6zM423.5 402.0h2.6v2.8h-2.6zM349.4 404.8h2.6v2.8h-2.6zM362.6 404.8h2.6v2.8h-2.6zM344.1 407.5h2.6v2.8h-2.6zM362.6 407.5h2.6v2.8h-2.6zM338.9 410.2h2.6v2.8h-2.6zM418.2 413.0h2.6v2.8h-2.6zM336.2 421.2h2.6v2.8h-2.6zM415.5 421.2h2.6v2.8h-2.6zM391.7 426.8h2.6v2.8h-2.6zM333.6 429.5h2.6v2.8h-2.6zM410.2 429.5h2.6v2.8h-2.6zM333.6 432.2h2.6v2.8h-2.6zM352.1 432.2h2.6v2.8h-2.6zM407.6 432.2h2.6v2.8h-2.6zM333.6 435.0h2.6v2.8h-2.6zM349.4 435.0h2.6v2.8h-2.6zM402.3 435.0h2.6v2.8h-2.6zM333.6 437.8h2.6v2.8h-2.6zM354.7 448.8h2.6v2.8h-2.6zM375.9 448.8h7.9v2.8h-7.9zM354.7 451.5h2.6v2.8h-2.6zM375.9 451.5h10.6v2.8h-10.6zM378.5 454.2h13.2v2.8h-13.2zM291.3 457.0h2.6v2.8h-2.6zM336.2 457.0h10.6v2.8h-10.6zM383.8 457.0h7.9v2.8h-7.9zM288.6 459.8h2.6v2.8h-2.6zM346.8 459.8h2.6v2.8h-2.6zM367.9 459.8h2.6v2.8h-2.6zM383.8 459.8h7.9v2.8h-7.9zM346.8 462.5h2.6v2.8h-2.6zM365.3 462.5h5.3v2.8h-5.3zM386.4 462.5h5.3v2.8h-5.3zM346.8 465.2h2.6v2.8h-2.6zM246.3 468.0h2.6v2.8h-2.6zM346.8 468.0h2.6v2.8h-2.6zM349.4 470.8h10.6v2.8h-10.6zM375.9 470.8h5.3v2.8h-5.3zM344.1 473.5h2.6v2.8h-2.6zM352.1 473.5h2.6v2.8h-2.6zM204.0 479.0h2.6v2.8h-2.6zM354.7 479.0h2.6v2.8h-2.6zM341.5 481.8h2.6v2.8h-2.6zM354.7 481.8h2.6v2.8h-2.6zM354.7 484.5h2.6v2.8h-2.6zM354.7 487.2h2.6v17.8h-2.6z"/>
<path fill="#007bff" d="M325.6 24.0h2.6v17.8h-2.6zM494.8 24.0h66.1v17.8h-66.1zM325.6 41.8h2.6v2.8h-2.6zM494.8 41.8h66.1v2.8h-66.1zM323.0 44.5h5.3v2.8h-5.3zM494.8 44.5h63.4v2.8h-63.4zM328.3 47.2h2.6v2.8h-2.6zM494.8 47.2h58.2v2.8h-58.2zM320.4 50.0h2.6v2.8h-2.6zM330.9 50.0h2.6v2.8h-2.6zM492.2 50.0h58.2v2.8h-58.2zM333.6 52.8h2.6v2.8h-2.6zM489.6 52.8h60.8v2.8h-60.8zM336.2 55.5h2.6v2.8h-2.6zM484.3 55.5h5.3v2.8h-5.3zM500.1 55.5h47.6v2.8h-47.6zM336.2 58.2h2.6v2.8h-2.6zM484.3 58.2h2.6v2.8h-2.6zM502.8 58.2h39.7v2.8h-39.7zM336.2 61.0h5.3v2.8h-5.3zM481.6 61.0h2.6v2.8h-2.6zM505.4 61.0h34.4v2.8h-34.4zM336.2 63.8h21.1v2.8h-21.1zM479.0 63.8h5.3v2.8h-5.3zM505.4 63.8h34.4v2.8h-34.4zM320.4 66.5h2.6v2.8h-2.6zM333.6 66.5h26.4v2.8h-26.4zM473.7 66.5h5.3v2.8h-5.3zM505.4 66.5h31.7v2.8h-31.7zM323.0 69.2h2.6v2.8h-2.6zM328.3 69.2h5.3v2.8h-5.3zM341.5 69.2h18.5v2.8h-18.5zM473.7 69.2h2.6v2.8h-2.6zM505.4 69.2h26.4v2.8h-26.4zM344.1 72.0h15.9v2.8h-15.9zM471.0 72.0h2.6v2.8h-2.6zM502.8 72.0h26.4v2.8h-26.4zM344.1 74.8h15.9v2.8h-15.9zM468.4 74.8h5.3v2.8h-5.3zM500.1 74.8h29.1v2.8h-29.1zM346.8 77.5h13.2v2.8h-13.2zM494.8 77.5h31.7v2.8h-31.7zM352.1 80.2h7.9v2.8h-7.9zM449.9 80.2h2.6v2.8h-2.6zM494.8 80.2h26.4v2.8h-26.4zM354.7 83.0h5.3v2.8h-5.3zM444.6 83.0h2.6v2.8h-2.6zM494.8 83.0h23.8v2.8h-23.8zM354.7 85.8h5.3v2.8h-5.3zM442.0 85.8h2.6v2.8h-2.6zM494.8 85.8h23.8v2.8h-23.8zM333.6 88.5h5.3v2.8h-5.3zM439.3 88.5h2.6v2.8h-2.6zM494.8 88.5h21.1v2.8h-21.1zM333.6 91.2h5.3v2.8h-5.3zM436.7 91.2h2.6v2.8h-2.6zM494.8 91.2h15.9v2.8h-15.9zM333.6 94.0h5.3v2.8h-5.3zM434.0 94.0h2.6v2.8h-2.6zM492.2 94.0h15.9v2.8h-15.9zM333.6 96.8h5.3v2.8h-5.3zM431.4 96.8h2.6v2.8h-2.6zM489.6 96.8h18.5v2.8h-18.5zM428.7 99.5h2.6v2.8h-2.6zM473.7 99.5h31.7v2.8h-31.7zM471.0 102.2h2.6v2.8h-2.6zM479.0 102.2h10.6v2.8h-10.6zM426.1 105.0h2.6v2.8h-2.6zM468.4 105.0h2.6v2.8h-2.6zM481.6 105.0h5.3v2.8h-5.3zM465.8 107.8h2.6v2.8h-2.6zM481.6 107.8h5.3v2.8h-5.3zM463.1 110.5h2.6v2.8h-2.6zM481.6 110.5h5.3v2.8h-5.3zM423.5 113.2h2.6v2.8h-2.6zM465.8 113.2h2.6v2.8h-2.6zM479.0 113.2h2.6v2.8h-2.6zM486.9 113.2h2.6v2.8h-2.6zM423.5 116.0h2.6v2.8h-2.6zM465.8 116.0h2.6v2.8h-2.6zM479.0 116.0h2.6v2.8h-2.6zM486.9 116.0h2.6v2.8h-2.6zM423.5 118.8h2.6v2.8h-2.6zM312.4 121.5h5.3v2.8h-5.3zM333.6 121.5h2.6v2.8h-2.6zM423.5 121.5h2.6v2.8h-2.6zM476.3 121.5h2.6v2.8h-2.6zM312.4 124.2h7.9v2.8h-7.9zM489.6 124.2h2.6v2.8h-2.6zM312.4 127.0h10.6v2.8h-10.6zM426.1 127.0h2.6v2.8h-2.6zM312.4 129.8h15.9v2.8h-15.9zM428.7 129.8h2.6v2.8h-2.6zM492.2 129.8h2.6v2.8h-2.6zM315.1 132.5h13.2v2.8h-13.2zM428.7 132.5h2.6v2.8h-2.6zM492.2 132.5h2.6v2.8h-2.6zM426.1 135.2h2.6v2.8h-2.6zM486.9 135.2h5.3v2.8h-5.3zM246.3 138.0h2.6v2.8h-2.6zM256.9 138.0h2.6v2.8h-2.6zM481.6 138.0h2.6v2.8h-2.6zM241.0 140.8h2.6v2.8h-2.6zM423.5 140.8h2.6v2.8h-2.6zM476.3 140.8h2.6v2.8h-2.6zM238.4 143.5h2.6v2.8h-2.6zM259.5 143.5h2.6v2.8h-2.6zM344.1 143.5h5.3v2.8h-5.3zM420.8 143.5h2.6v2.8h-2.6zM473.7 143.5h2.6v2.8h-2.6zM259.5 146.2h2.6v2.8h-2.6zM344.1 146.2h5.3v2.8h-5.3zM418.2 146.2h2.6v2.8h-2.6zM476.3 146.2h2.6v2.8h-2.6zM344.1 149.0h5.3v2.8h-5.3zM412.9 149.0h2.6v2.8h-2.6zM476.3 149.0h2.6v2.8h-2.6zM323.0 151.8h5.3v2.8h-5.3zM344.1 151.8h5.3v2.8h-5.3zM410.2 151.8h2.6v2.8h-2.6zM323.0 154.5h7.9v2.8h-7.9zM338.9 154.5h5.3v2.8h-5.3zM349.4 154.5h2.6v2.8h-2.6zM404.9 154.5h2.6v2.8h-2.6zM323.0 157.2h13.2v2.8h-13.2zM352.1 157.2h2.6v2.8h-2.6zM476.3 157.2h2.6v2.8h-2.6zM259.5 160.0h2.6v2.8h-2.6zM323.0 160.0h5.3v2.8h-5.3zM354.7 160.0h2.6v2.8h-2.6zM399.7 160.0h2.6v2.8h-2.6zM473.7 160.0h2.6v2.8h-2.6zM259.5 162.8h2.6v2.8h-2.6zM323.0 162.8h2.6v2.8h-2.6zM397.0 162.8h2.6v2.8h-2.6zM468.4 162.8h2.6v2.8h-2.6zM259.5 165.5h2.6v2.8h-2.6zM357.4 165.5h2.6v2.8h-2.6zM391.7 165.5h5.3v2.8h-5.3zM463.1 165.5h2.6v2.8h-2.6zM259.5 168.2h2.6v2.8h-2.6zM357.4 168.2h2.6v2.8h-2.6zM386.4 168.2h2.6v2.8h-2.6zM463.1 168.2h2.6v2.8h-2.6zM357.4 171.0h2.6v2.8h-2.6zM383.8 171.0h2.6v2.8h-2.6zM463.1 171.0h2.6v2.8h-2.6zM357.4 173.8h2.6v2.8h-2.6zM381.2 173.8h2.6v2.8h-2.6zM463.1 173.8h2.6v2.8h-2.6zM262.2 176.5h2.6v2.8h-2.6zM357.4 176.5h2.6v2.8h-2.6zM381.2 176.5h2.6v2.8h-2.6zM463.1 176.5h2.6v2.8h-2.6zM315.1 179.2h2.6v2.8h-2.6zM360.0 179.2h2.6v2.8h-2.6zM381.2 179.2h2.6v2.8h-2.6zM463.1 179.2h2.6v2.8h-2.6zM264.8 182.0h2.6v2.8h-2.6zM317.7 182.0h2.6v2.8h-2.6zM362.6 182.0h2.6v2.8h-2.6zM383.8 182.0h2.6v2.8h-2.6zM463.1 182.0h2.6v2.8h-2.6zM320.4 184.8h2.6v2.8h-2.6zM365.3 184.8h2.6v2.8h-2.6zM383.8 184.8h5.3v2.8h-5.3zM463.1 184.8h2.6v2.8h-2.6zM315.1 187.5h2.6v2.8h-2.6zM367.9 187.5h5.3v2.8h-5.3zM386.4 187.5h5.3v2.8h-5.3zM463.1 187.5h2.6v2.8h-2.6zM370.6 190.2h2.6v2.8h-2.6zM389.1 190.2h2.6v2.8h-2.6zM463.1 190.2h2.6v2.8h-2.6zM264.8 193.0h2.6v2.8h-2.6zM391.7 193.0h2.6v2.8h-2.6zM463.1 193.0h2.6v2.8h-2.6zM264.8 195.8h2.6v2.8h-2.6zM307.1 195.8h2.6v2.8h-2.6zM394.4 195.8h5.3v2.8h-5.3zM463.1 195.8h2.6v2.8h-2.6zM264.8 198.5h2.6v2.8h-2.6zM394.4 198.5h5.3v2.8h-5.3zM463.1 198.5h2.6v2.8h-2.6zM370.6 201.2h2.6v2.8h-2.6zM391.7 201.2h2.6v2.8h-2.6zM463.1 201.2h2.6v2.8h-2.6zM370.6 204.0h2.6v2.8h-2.6zM389.1 204.0h2.6v2.8h-2.6zM463.1 204.0h2.6v2.8h-2.6zM267.5 206.8h2.6v2.8h-2.6zM367.9 206.8h2.6v2.8h-2.6zM389.1 206.8h2.6v2.8h-2.6zM463.1 206.8h2.6v2.8h-2.6zM209.3 209.5h42.3v2.8h-42.3zM267.5 209.5h2.6v2.8h-2.6zM367.9 209.5h2.6v2.8h-2.6zM389.1 209.5h2.6v2.8h-2.6zM407.6 209.5h5.3v2.8h-5.3zM463.1 209.5h2.6v2.8h-2.6zM209.3 212.2h42.3v2.8h-42.3zM367.9 212.2h2.6v2.8h-2.6zM391.7 212.2h2.6v2.8h-2.6zM404.9 212.2h2.6v2.8h-2.6zM412.9 212.2h2.6v2.8h-2.6zM463.1 212.2h2.6v2.8h-2.6zM523.9 212.2h7.9v2.8h-7.9zM209.3 215.0h44.9v2.8h-44.9zM264.8 215.0h2.6v2.8h-2.6zM307.1 215.0h2.6v2.8h-2.6zM367.9 215.0h2.6v2.8h-2.6zM394.4 215.0h2.6v2.8h-2.6zM402.3 215.0h2.6v2.8h-2.6zM415.5 215.0h2.6v2.8h-2.6zM463.1 215.0h2.6v2.8h-2.6zM521.3 215.0h2.6v2.8h-2.6zM531.8 215.0h2.6v2.8h-2.6zM206.7 217.8h50.2v2.8h-50.2zM262.2 217.8h2.6v2.8h-2.6zM307.1 217.8h2.6v2.8h-2.6zM367.9 217.8h2.6v2.8h-2.6zM397.0 217.8h5.3v2.8h-5.3zM418.2 217.8h2.6v2.8h-2.6zM463.1 217.8h2.6v2.8h-2.6zM518.6 217.8h2.6v2.8h-2.6zM531.8 217.8h2.6v2.8h-2.6zM142.3 220.5h119.9v2.8h-119.9zM367.9 220.5h2.6v2.8h-2.6zM397.0 220.5h5.3v2.8h-5.3zM418.2 220.5h2.6v2.8h-2.6zM463.1 220.5h2.6v2.8h-2.6zM518.6 220.5h2.6v2.8h-2.6zM531.8 220.5h2.6v2.8h-2.6zM142.3 223.2h96.1v2.8h-96.1zM367.9 223.2h5.3v2.8h-5.3zM397.0 223.2h2.6v2.8h-2.6zM460.5 223.2h2.6v2.8h-2.6zM521.3 223.2h2.6v2.8h-2.6zM529.2 223.2h2.6v2.8h-2.6zM142.3 226.0h93.4v2.8h-93.4zM312.4 226.0h2.6v2.8h-2.6zM367.9 226.0h7.9v2.8h-7.9zM397.0 226.0h2.6v2.8h-2.6zM460.5 226.0h2.6v2.8h-2.6zM142.3 228.8h90.8v2.8h-90.8zM315.1 228.8h2.6v2.8h-2.6zM367.9 228.8h10.6v2.8h-10.6zM397.0 228.8h2.6v2.8h-2.6zM460.5 228.8h2.6v2.8h-2.6zM471.0 228.8h5.3v2.8h-5.3zM142.3 231.5h72.3v2.8h-72.3zM317.7 231.5h2.6v2.8h-2.6zM365.3 231.5h13.2v2.8h-13.2zM397.0 231.5h2.6v2.8h-2.6zM420.8 231.5h2.6v2.8h-2.6zM471.0 231.5h5.3v2.8h-5.3zM142.3 234.2h69.7v2.8h-69.7zM365.3 234.2h2.6v2.8h-2.6zM397.0 234.2h2.6v2.8h-2.6zM471.0 234.2h5.3v2.8h-5.3zM142.3 237.0h67.0v2.8h-67.0zM320.4 237.0h2.6v2.8h-2.6zM362.6 237.0h2.6v2.8h-2.6zM397.0 237.0h2.6v2.8h-2.6zM423.5 237.0h2.6v2.8h-2.6zM471.0 237.0h5.3v2.8h-5.3zM142.3 239.8h67.0v2.8h-67.0zM323.0 239.8h2.6v2.8h-2.6zM357.4 239.8h5.3v2.8h-5.3zM397.0 239.8h2.6v2.8h-2.6zM471.0 239.8h5.3v2.8h-5.3zM142.3 242.5h40.6v2.8h-40.6zM323.0 242.5h2.6v2.8h-2.6zM357.4 242.5h5.3v2.8h-5.3zM399.7 242.5h2.6v2.8h-2.6zM423.5 242.5h2.6v2.8h-2.6zM457.8 242.5h2.6v2.8h-2.6zM471.0 242.5h5.3v2.8h-5.3zM142.3 245.2h37.9v2.8h-37.9zM320.4 245.2h2.6v2.8h-2.6zM354.7 245.2h18.5v2.8h-18.5zM420.8 245.2h2.6v2.8h-2.6zM457.8 245.2h2.6v2.8h-2.6zM142.3 248.0h35.3v2.8h-35.3zM317.7 248.0h2.6v2.8h-2.6zM346.8 248.0h13.2v2.8h-13.2zM373.2 248.0h5.3v2.8h-5.3zM455.2 248.0h2.6v2.8h-2.6zM142.3 250.8h35.3v2.8h-35.3zM315.1 250.8h2.6v2.8h-2.6zM338.9 250.8h5.3v2.8h-5.3zM352.1 250.8h5.3v2.8h-5.3zM375.9 250.8h2.6v2.8h-2.6zM452.5 250.8h5.3v2.8h-5.3zM502.8 250.8h5.3v2.8h-5.3zM315.1 253.5h2.6v2.8h-2.6zM333.6 253.5h2.6v2.8h-2.6zM354.7 253.5h2.6v2.8h-2.6zM375.9 253.5h2.6v2.8h-2.6zM449.9 253.5h5.3v2.8h-5.3zM502.8 253.5h5.3v2.8h-5.3zM317.7 256.2h2.6v2.8h-2.6zM330.9 256.2h2.6v2.8h-2.6zM354.7 256.2h5.3v2.8h-5.3zM373.2 256.2h2.6v2.8h-2.6zM428.7 256.2h2.6v2.8h-2.6zM449.9 256.2h2.6v2.8h-2.6zM502.8 256.2h5.3v2.8h-5.3zM323.0 259.0h5.3v2.8h-5.3zM357.4 259.0h13.2v2.8h-13.2zM426.1 259.0h7.9v2.8h-7.9zM447.2 259.0h2.6v2.8h-2.6zM502.8 259.0h5.3v2.8h-5.3zM357.4 261.8h5.3v2.8h-5.3zM428.7 261.8h7.9v2.8h-7.9zM442.0 261.8h5.3v2.8h-5.3zM502.8 261.8h5.3v2.8h-5.3zM386.4 264.5h5.3v2.8h-5.3zM428.7 264.5h15.9v2.8h-15.9zM383.8 267.2h2.6v2.8h-2.6zM391.7 267.2h2.6v2.8h-2.6zM428.7 267.2h10.6v2.8h-10.6zM383.8 270.0h2.6v2.8h-2.6zM394.4 270.0h2.6v2.8h-2.6zM428.7 270.0h7.9v2.8h-7.9zM397.0 272.8h2.6v2.8h-2.6zM428.7 272.8h5.3v2.8h-5.3zM383.8 275.5h2.6v2.8h-2.6zM399.7 275.5h2.6v2.8h-2.6zM426.1 275.5h7.9v2.8h-7.9zM386.4 278.2h2.6v2.8h-2.6zM397.0 278.2h5.3v2.8h-5.3zM418.2 278.2h18.5v2.8h-18.5zM394.4 281.0h7.9v2.8h-7.9zM415.5 281.0h2.6v2.8h-2.6zM428.7 281.0h10.6v2.8h-10.6zM397.0 283.8h5.3v2.8h-5.3zM412.9 283.8h2.6v2.8h-2.6zM431.4 283.8h10.6v2.8h-10.6zM412.9 286.5h2.6v2.8h-2.6zM431.4 286.5h10.6v2.8h-10.6zM412.9 289.2h2.6v2.8h-2.6zM431.4 289.2h7.9v2.8h-7.9zM415.5 292.0h2.6v2.8h-2.6zM428.7 292.0h7.9v2.8h-7.9zM415.5 294.8h5.3v2.8h-5.3zM426.1 294.8h7.9v2.8h-7.9zM415.5 297.5h5.3v2.8h-5.3zM423.5 297.5h10.6v2.8h-10.6zM402.3 300.2h2.6v2.8h-2.6zM415.5 300.2h2.6v2.8h-2.6zM426.1 300.2h5.3v2.8h-5.3zM404.9 303.0h2.6v2.8h-2.6zM426.1 303.0h2.6v2.8h-2.6zM426.1 305.8h2.6v2.8h-2.6zM354.7 308.5h5.3v2.8h-5.3zM428.7 308.5h2.6v2.8h-2.6zM484.3 308.5h2.6v2.8h-2.6zM404.9 311.2h2.6v2.8h-2.6zM434.0 311.2h2.6v2.8h-2.6zM360.0 314.0h2.6v2.8h-2.6zM404.9 314.0h2.6v2.8h-2.6zM415.5 314.0h2.6v2.8h-2.6zM436.7 314.0h2.6v2.8h-2.6zM415.5 316.8h2.6v2.8h-2.6zM352.1 319.5h2.6v2.8h-2.6zM404.9 319.5h2.6v2.8h-2.6zM415.5 319.5h2.6v2.8h-2.6zM439.3 319.5h2.6v2.8h-2.6zM362.6 322.2h2.6v2.8h-2.6zM415.5 322.2h2.6v2.8h-2.6zM439.3 322.2h2.6v2.8h-2.6zM362.6 325.0h2.6v2.8h-2.6zM415.5 325.0h2.6v2.8h-2.6zM439.3 325.0h2.6v2.8h-2.6zM415.5 327.8h2.6v2.8h-2.6zM439.3 327.8h2.6v2.8h-2.6zM378.5 330.5h2.6v2.8h-2.6zM415.5 330.5h2.6v2.8h-2.6zM352.1 333.2h2.6v2.8h-2.6zM362.6 333.2h2.6v2.8h-2.6zM415.5 333.2h2.6v2.8h-2.6zM423.5 333.2h2.6v2.8h-2.6zM360.0 336.0h2.6v2.8h-2.6zM423.5 336.0h2.6v2.8h-2.6zM436.7 341.5h2.6v2.8h-2.6zM412.9 344.2h2.6v2.8h-2.6zM423.5 344.2h2.6v2.8h-2.6zM436.7 344.2h2.6v2.8h-2.6zM354.7 347.0h2.6v2.8h-2.6zM381.2 347.0h2.6v2.8h-2.6zM407.6 347.0h2.6v2.8h-2.6zM436.7 347.0h2.6v2.8h-2.6zM404.9 349.8h2.6v2.8h-2.6zM420.8 349.8h2.6v2.8h-2.6zM436.7 349.8h2.6v2.8h-2.6zM354.7 352.5h2.6v2.8h-2.6zM402.3 352.5h2.6v2.8h-2.6zM436.7 352.5h2.6v2.8h-2.6zM338.9 355.2h2.6v2.8h-2.6zM436.7 355.2h2.6v2.8h-2.6zM336.2 358.0h2.6v2.8h-2.6zM434.0 358.0h2.6v2.8h-2.6zM346.8 360.8h2.6v2.8h-2.6zM431.4 360.8h5.3v2.8h-5.3zM344.1 363.5h2.6v2.8h-2.6zM378.5 363.5h2.6v2.8h-2.6zM344.1 366.2h2.6v2.8h-2.6zM378.5 366.2h2.6v2.8h-2.6zM378.5 369.0h2.6v2.8h-2.6zM407.6 369.0h2.6v2.8h-2.6zM378.5 371.8h2.6v2.8h-2.6zM428.7 371.8h2.6v2.8h-2.6zM344.1 374.5h2.6v2.8h-2.6zM404.9 374.5h2.6v2.8h-2.6zM428.7 382.8h2.6v2.8h-2.6zM381.2 385.5h2.6v2.8h-2.6zM402.3 385.5h2.6v2.8h-2.6zM317.7 391.0h2.6v2.8h-2.6zM341.5 393.8h2.6v2.8h-2.6zM352.1 393.8h7.9v2.8h-7.9zM333.6 396.5h2.6v2.8h-2.6zM354.7 396.5h5.3v2.8h-5.3zM399.7 396.5h2.6v2.8h-2.6zM352.1 399.2h2.6v2.8h-2.6zM360.0 399.2h2.6v2.8h-2.6zM399.7 399.2h2.6v2.8h-2.6zM352.1 402.0h2.6v2.8h-2.6zM360.0 402.0h2.6v2.8h-2.6zM346.8 407.5h2.6v2.8h-2.6zM418.2 410.2h2.6v2.8h-2.6zM399.7 413.0h2.6v2.8h-2.6zM399.7 415.8h2.6v2.8h-2.6zM360.0 418.5h2.6v2.8h-2.6zM399.7 418.5h2.6v2.8h-2.6zM415.5 418.5h2.6v2.8h-2.6zM357.4 421.2h2.6v2.8h-2.6zM394.4 424.0h2.6v2.8h-2.6zM412.9 424.0h2.6v2.8h-2.6zM410.2 426.8h2.6v2.8h-2.6zM391.7 429.5h2.6v2.8h-2.6zM407.6 429.5h2.6v2.8h-2.6zM394.4 432.2h2.6v2.8h-2.6zM404.9 432.2h2.6v2.8h-2.6zM397.0 435.0h5.3v2.8h-5.3zM336.2 437.8h2.6v2.8h-2.6zM293.9 457.0h42.3v2.8h-42.3zM344.1 459.8h2.6v2.8h-2.6zM283.3 465.2h2.6v2.8h-2.6zM344.1 465.2h2.6v2.8h-2.6zM344.1 468.0h2.6v2.8h-2.6zM344.1 470.8h2.6v2.8h-2.6zM243.7 473.5h2.6v2.8h-2.6zM354.7 473.5h5.3v2.8h-5.3zM375.9 473.5h5.3v2.8h-5.3zM241.0 476.2h2.6v2.8h-2.6zM354.7 476.2h5.3v2.8h-5.3zM375.9 476.2h5.3v2.8h-5.3zM341.5 479.0h2.6v2.8h-2.6zM357.4 479.0h2.6v2.8h-2.6zM375.9 479.0h5.3v2.8h-5.3zM357.4 481.8h2.6v2.8h-2.6zM375.9 481.8h5.3v2.8h-5.3zM357.4 484.5h2.6v2.8h-2.6zM375.9 484.5h5.3v2.8h-5.3zM357.4 487.2h2.6v17.8h-2.6zM375.9 487.2h5.3v17.8h-5.3z"/>
<path fill="#0062ff" d="M328.3 24.0h2.6v17.8h-2.6zM560.9 24.0h2.6v17.8h-2.6zM328.3 41.8h2.6v2.8h-2.6zM560.9 41.8h2.6v2.8h-2.6zM330.9 44.5h2.6v2.8h-2.6zM560.9 44.5h2.6v2.8h-2.6zM320.4 47.2h2.6v2.8h-2.6zM333.6 47.2h2.6v2.8h-2.6zM489.6 47.2h2.6v2.8h-2.6zM558.3 47.2h2.6v2.8h-2.6zM336.2 50.0h2.6v2.8h-2.6zM486.9 50.0h2.6v2.8h-2.6zM553.0 50.0h5.3v2.8h-5.3zM317.7 52.8h2.6v2.8h-2.6zM338.9 52.8h2.6v2.8h-2.6zM481.6 52.8h2.6v2.8h-2.6zM553.0 52.8h2.6v2.8h-2.6zM341.5 55.5h2.6v2.8h-2.6zM550.4 55.5h2.6v2.8h-2.6zM341.5 58.2h5.3v2.8h-5.3zM479.0 58.2h2.6v2.8h-2.6zM547.7 58.2h2.6v2.8h-2.6zM346.8 61.0h13.2v2.8h-13.2zM476.3 61.0h2.6v2.8h-2.6zM542.4 61.0h5.3v2.8h-5.3zM360.0 63.8h2.6v2.8h-2.6zM471.0 63.8h2.6v2.8h-2.6zM542.4 63.8h2.6v2.8h-2.6zM317.7 66.5h2.6v2.8h-2.6zM360.0 66.5h2.6v2.8h-2.6zM539.8 66.5h2.6v2.8h-2.6zM360.0 69.2h2.6v2.8h-2.6zM468.4 69.2h2.6v2.8h-2.6zM537.1 69.2h2.6v2.8h-2.6zM323.0 72.0h2.6v2.8h-2.6zM328.3 72.0h13.2v2.8h-13.2zM360.0 72.0h2.6v2.8h-2.6zM465.8 72.0h2.6v2.8h-2.6zM531.8 72.0h5.3v2.8h-5.3zM338.9 74.8h2.6v2.8h-2.6zM360.0 74.8h2.6v2.8h-2.6zM457.8 74.8h2.6v2.8h-2.6zM531.8 74.8h2.6v2.8h-2.6zM341.5 77.5h2.6v2.8h-2.6zM360.0 77.5h2.6v2.8h-2.6zM452.5 77.5h2.6v2.8h-2.6zM529.2 77.5h2.6v2.8h-2.6zM338.9 80.2h7.9v2.8h-7.9zM360.0 80.2h2.6v2.8h-2.6zM526.6 80.2h2.6v2.8h-2.6zM333.6 83.0h10.6v2.8h-10.6zM346.8 83.0h5.3v2.8h-5.3zM360.0 83.0h2.6v2.8h-2.6zM442.0 83.0h2.6v2.8h-2.6zM521.3 83.0h5.3v2.8h-5.3zM330.9 85.8h2.6v2.8h-2.6zM338.9 85.8h2.6v2.8h-2.6zM349.4 85.8h2.6v2.8h-2.6zM360.0 85.8h2.6v2.8h-2.6zM439.3 85.8h2.6v2.8h-2.6zM521.3 85.8h2.6v2.8h-2.6zM330.9 88.5h2.6v2.8h-2.6zM338.9 88.5h2.6v2.8h-2.6zM352.1 88.5h2.6v2.8h-2.6zM360.0 88.5h2.6v2.8h-2.6zM434.0 88.5h2.6v2.8h-2.6zM518.6 88.5h2.6v2.8h-2.6zM330.9 91.2h2.6v2.8h-2.6zM338.9 91.2h2.6v2.8h-2.6zM354.7 91.2h5.3v2.8h-5.3zM431.4 91.2h2.6v2.8h-2.6zM516.0 91.2h2.6v2.8h-2.6zM330.9 94.0h2.6v2.8h-2.6zM338.9 94.0h2.6v2.8h-2.6zM510.7 94.0h5.3v2.8h-5.3zM330.9 96.8h2.6v2.8h-2.6zM338.9 96.8h2.6v2.8h-2.6zM428.7 96.8h2.6v2.8h-2.6zM510.7 96.8h2.6v2.8h-2.6zM330.9 99.5h2.6v2.8h-2.6zM338.9 99.5h2.6v2.8h-2.6zM508.1 99.5h2.6v2.8h-2.6zM333.6 102.2h5.3v2.8h-5.3zM426.1 102.2h2.6v2.8h-2.6zM494.8 102.2h13.2v2.8h-13.2zM471.0 105.0h7.9v2.8h-7.9zM489.6 105.0h5.3v2.8h-5.3zM357.4 107.8h10.6v2.8h-10.6zM423.5 107.8h2.6v2.8h-2.6zM468.4 107.8h2.6v2.8h-2.6zM476.3 107.8h2.6v2.8h-2.6zM489.6 107.8h2.6v2.8h-2.6zM357.4 110.5h13.2v2.8h-13.2zM468.4 110.5h2.6v2.8h-2.6zM476.3 110.5h2.6v2.8h-2.6zM489.6 110.5h2.6v2.8h-2.6zM362.6 113.2h7.9v2.8h-7.9zM420.8 113.2h2.6v2.8h-2.6zM468.4 113.2h2.6v2.8h-2.6zM476.3 113.2h2.6v2.8h-2.6zM489.6 113.2h2.6v2.8h-2.6zM312.4 116.0h10.6v2.8h-10.6zM328.3 116.0h10.6v2.8h-10.6zM365.3 116.0h5.3v2.8h-5.3zM420.8 116.0h2.6v2.8h-2.6zM468.4 116.0h2.6v2.8h-2.6zM476.3 116.0h2.6v2.8h-2.6zM489.6 116.0h2.6v2.8h-2.6zM309.8 118.8h2.6v2.8h-2.6zM320.4 118.8h10.6v2.8h-10.6zM338.9 118.8h2.6v2.8h-2.6zM365.3 118.8h5.3v2.8h-5.3zM590.0 118.8h20.3v2.8h-20.3zM270.1 121.5h15.9v2.8h-15.9zM309.8 121.5h2.6v2.8h-2.6zM323.0 121.5h5.3v2.8h-5.3zM338.9 121.5h2.6v2.8h-2.6zM420.8 121.5h2.6v2.8h-2.6zM473.7 121.5h2.6v2.8h-2.6zM587.4 121.5h22.9v2.8h-22.9zM270.1 124.2h15.9v2.8h-15.9zM309.8 124.2h2.6v2.8h-2.6zM338.9 124.2h2.6v2.8h-2.6zM420.8 124.2h2.6v2.8h-2.6zM492.2 124.2h2.6v2.8h-2.6zM587.4 124.2h22.9v2.8h-22.9zM267.5 127.0h18.5v2.8h-18.5zM309.8 127.0h2.6v2.8h-2.6zM336.2 127.0h5.3v2.8h-5.3zM494.8 127.0h2.6v2.8h-2.6zM584.7 127.0h25.6v2.8h-25.6zM262.2 129.8h23.8v2.8h-23.8zM309.8 129.8h2.6v2.8h-2.6zM333.6 129.8h5.3v2.8h-5.3zM423.5 129.8h2.6v2.8h-2.6zM497.5 129.8h2.6v2.8h-2.6zM579.4 129.8h30.9v2.8h-30.9zM262.2 132.5h21.1v2.8h-21.1zM309.8 132.5h2.6v2.8h-2.6zM333.6 132.5h5.3v2.8h-5.3zM423.5 132.5h2.6v2.8h-2.6zM497.5 132.5h2.6v2.8h-2.6zM576.8 132.5h33.5v2.8h-33.5zM249.0 135.2h18.5v2.8h-18.5zM309.8 135.2h2.6v2.8h-2.6zM330.9 135.2h13.2v2.8h-13.2zM494.8 135.2h2.6v2.8h-2.6zM576.8 135.2h33.5v2.8h-33.5zM243.7 138.0h2.6v2.8h-2.6zM262.2 138.0h2.6v2.8h-2.6zM309.8 138.0h5.3v2.8h-5.3zM328.3 138.0h26.4v2.8h-26.4zM420.8 138.0h2.6v2.8h-2.6zM486.9 138.0h7.9v2.8h-7.9zM574.1 138.0h36.1v2.8h-36.1zM262.2 140.8h2.6v2.8h-2.6zM312.4 140.8h26.4v2.8h-26.4zM352.1 140.8h5.3v2.8h-5.3zM420.8 140.8h2.6v2.8h-2.6zM568.9 140.8h41.4v2.8h-41.4zM262.2 143.5h2.6v2.8h-2.6zM312.4 143.5h26.4v2.8h-26.4zM354.7 143.5h5.3v2.8h-5.3zM415.5 143.5h5.3v2.8h-5.3zM479.0 143.5h2.6v2.8h-2.6zM566.2 143.5h44.1v2.8h-44.1zM262.2 146.2h2.6v2.8h-2.6zM315.1 146.2h7.9v2.8h-7.9zM328.3 146.2h10.6v2.8h-10.6zM354.7 146.2h5.3v2.8h-5.3zM410.2 146.2h2.6v2.8h-2.6zM479.0 146.2h2.6v2.8h-2.6zM566.2 146.2h44.1v2.8h-44.1zM315.1 149.0h5.3v2.8h-5.3zM330.9 149.0h7.9v2.8h-7.9zM354.7 149.0h5.3v2.8h-5.3zM402.3 149.0h7.9v2.8h-7.9zM479.0 149.0h2.6v2.8h-2.6zM563.6 149.0h46.7v2.8h-46.7zM315.1 151.8h2.6v2.8h-2.6zM333.6 151.8h5.3v2.8h-5.3zM354.7 151.8h5.3v2.8h-5.3zM399.7 151.8h5.3v2.8h-5.3zM558.3 151.8h52.0v2.8h-52.0zM315.1 154.5h2.6v2.8h-2.6zM357.4 154.5h2.6v2.8h-2.6zM397.0 154.5h2.6v2.8h-2.6zM555.6 154.5h54.7v2.8h-54.7zM262.2 157.2h2.6v2.8h-2.6zM317.7 157.2h2.6v2.8h-2.6zM357.4 157.2h5.3v2.8h-5.3zM394.4 157.2h5.3v2.8h-5.3zM555.6 157.2h54.7v2.8h-54.7zM262.2 160.0h2.6v2.8h-2.6zM317.7 160.0h2.6v2.8h-2.6zM360.0 160.0h2.6v2.8h-2.6zM391.7 160.0h5.3v2.8h-5.3zM479.0 160.0h2.6v2.8h-2.6zM553.0 160.0h57.3v2.8h-57.3zM317.7 162.8h2.6v2.8h-2.6zM360.0 162.8h2.6v2.8h-2.6zM389.1 162.8h5.3v2.8h-5.3zM476.3 162.8h29.1v2.8h-29.1zM526.6 162.8h83.7v2.8h-83.7zM317.7 165.5h2.6v2.8h-2.6zM360.0 165.5h2.6v2.8h-2.6zM383.8 165.5h5.3v2.8h-5.3zM471.0 165.5h37.0v2.8h-37.0zM526.6 165.5h83.7v2.8h-83.7zM262.2 168.2h2.6v2.8h-2.6zM315.1 168.2h2.6v2.8h-2.6zM360.0 168.2h2.6v2.8h-2.6zM381.2 168.2h2.6v2.8h-2.6zM471.0 168.2h7.9v2.8h-7.9zM489.6 168.2h18.5v2.8h-18.5zM531.8 168.2h78.4v2.8h-78.4zM262.2 171.0h2.6v2.8h-2.6zM312.4 171.0h2.6v2.8h-2.6zM360.0 171.0h2.6v2.8h-2.6zM378.5 171.0h2.6v2.8h-2.6zM471.0 171.0h5.3v2.8h-5.3zM492.2 171.0h18.5v2.8h-18.5zM534.5 171.0h75.8v2.8h-75.8zM309.8 173.8h2.6v2.8h-2.6zM360.0 173.8h2.6v2.8h-2.6zM378.5 173.8h2.6v2.8h-2.6zM471.0 173.8h5.3v2.8h-5.3zM492.2 173.8h23.8v2.8h-23.8zM534.5 173.8h75.8v2.8h-75.8zM309.8 176.5h2.6v2.8h-2.6zM362.6 176.5h2.6v2.8h-2.6zM375.9 176.5h2.6v2.8h-2.6zM471.0 176.5h5.3v2.8h-5.3zM492.2 176.5h26.4v2.8h-26.4zM537.1 176.5h73.2v2.8h-73.2zM365.3 179.2h2.6v2.8h-2.6zM370.6 179.2h7.9v2.8h-7.9zM471.0 179.2h5.3v2.8h-5.3zM492.2 179.2h26.4v2.8h-26.4zM542.4 179.2h67.9v2.8h-67.9zM312.4 182.0h2.6v2.8h-2.6zM367.9 182.0h13.2v2.8h-13.2zM471.0 182.0h5.3v2.8h-5.3zM492.2 182.0h29.1v2.8h-29.1zM545.1 182.0h65.2v2.8h-65.2zM375.9 184.8h5.3v2.8h-5.3zM471.0 184.8h5.3v2.8h-5.3zM492.2 184.8h34.4v2.8h-34.4zM545.1 184.8h65.2v2.8h-65.2zM375.9 187.5h7.9v2.8h-7.9zM471.0 187.5h5.3v2.8h-5.3zM492.2 187.5h37.0v2.8h-37.0zM545.1 187.5h65.2v2.8h-65.2zM375.9 190.2h2.6v2.8h-2.6zM381.2 190.2h5.3v2.8h-5.3zM471.0 190.2h5.3v2.8h-5.3zM492.2 190.2h7.9v2.8h-7.9zM510.7 190.2h18.5v2.8h-18.5zM545.1 190.2h65.2v2.8h-65.2zM307.1 193.0h2.6v2.8h-2.6zM383.8 193.0h5.3v2.8h-5.3zM471.0 193.0h5.3v2.8h-5.3zM492.2 193.0h5.3v2.8h-5.3zM513.3 193.0h15.9v2.8h-15.9zM545.1 193.0h65.2v2.8h-65.2zM386.4 195.8h2.6v2.8h-2.6zM471.0 195.8h5.3v2.8h-5.3zM492.2 195.8h5.3v2.8h-5.3zM513.3 195.8h15.9v2.8h-15.9zM545.1 195.8h65.2v2.8h-65.2zM304.5 198.5h2.6v2.8h-2.6zM386.4 198.5h2.6v2.8h-2.6zM471.0 198.5h5.3v2.8h-5.3zM492.2 198.5h5.3v2.8h-5.3zM516.0 198.5h13.2v2.8h-13.2zM547.7 198.5h62.6v2.8h-62.6zM267.5 201.2h2.6v2.8h-2.6zM304.5 201.2h2.6v2.8h-2.6zM373.2 201.2h2.6v2.8h-2.6zM383.8 201.2h5.3v2.8h-5.3zM471.0 201.2h5.3v2.8h-5.3zM492.2 201.2h5.3v2.8h-5.3zM521.3 201.2h7.9v2.8h-7.9zM553.0 201.2h57.3v2.8h-57.3zM373.2 204.0h2.6v2.8h-2.6zM383.8 204.0h2.6v2.8h-2.6zM471.0 204.0h5.3v2.8h-5.3zM492.2 204.0h7.9v2.8h-7.9zM523.9 204.0h7.9v2.8h-7.9zM555.6 204.0h54.7v2.8h-54.7zM270.1 206.8h2.6v2.8h-2.6zM373.2 206.8h2.6v2.8h-2.6zM383.8 206.8h2.6v2.8h-2.6zM471.0 206.8h5.3v2.8h-5.3zM492.2 206.8h13.2v2.8h-13.2zM523.9 206.8h13.2v2.8h-13.2zM555.6 206.8h54.7v2.8h-54.7zM270.1 209.5h2.6v2.8h-2.6zM373.2 209.5h2.6v2.8h-2.6zM383.8 209.5h2.6v2.8h-2.6zM471.0 209.5h5.3v2.8h-5.3zM494.8 209.5h13.2v2.8h-13.2zM521.3 209.5h5.3v2.8h-5.3zM529.2 209.5h10.6v2.8h-10.6zM555.6 209.5h54.7v2.8h-54.7zM270.1 212.2h2.6v2.8h-2.6zM304.5 212.2h2.6v2.8h-2.6zM373.2 212.2h2.6v2.8h-2.6zM383.8 212.2h5.3v2.8h-5.3zM471.0 212.2h5.3v2.8h-5.3zM500.1 212.2h7.9v2.8h-7.9zM518.6 212.2h2.6v2.8h-2.6zM534.5 212.2h5.3v2.8h-5.3zM555.6 212.2h54.7v2.8h-54.7zM304.5 215.0h2.6v2.8h-2.6zM373.2 215.0h2.6v2.8h-2.6zM389.1 215.0h2.6v2.8h-2.6zM407.6 215.0h5.3v2.8h-5.3zM471.0 215.0h7.9v2.8h-7.9zM502.8 215.0h7.9v2.8h-7.9zM516.0 215.0h2.6v2.8h-2.6zM534.5 215.0h5.3v2.8h-5.3zM555.6 215.0h54.7v2.8h-54.7zM267.5 217.8h2.6v2.8h-2.6zM375.9 217.8h2.6v2.8h-2.6zM391.7 217.8h2.6v2.8h-2.6zM404.9 217.8h2.6v2.8h-2.6zM412.9 217.8h2.6v2.8h-2.6zM471.0 217.8h13.2v2.8h-13.2zM502.8 217.8h15.9v2.8h-15.9zM537.1 217.8h2.6v2.8h-2.6zM555.6 217.8h54.7v2.8h-54.7zM264.8 220.5h2.6v2.8h-2.6zM307.1 220.5h2.6v2.8h-2.6zM375.9 220.5h5.3v2.8h-5.3zM394.4 220.5h2.6v2.8h-2.6zM402.3 220.5h2.6v2.8h-2.6zM415.5 220.5h2.6v2.8h-2.6zM471.0 220.5h15.9v2.8h-15.9zM502.8 220.5h15.9v2.8h-15.9zM537.1 220.5h2.6v2.8h-2.6zM558.3 220.5h52.0v2.8h-52.0zM378.5 223.2h5.3v2.8h-5.3zM394.4 223.2h2.6v2.8h-2.6zM402.3 223.2h2.6v2.8h-2.6zM415.5 223.2h2.6v2.8h-2.6zM476.3 223.2h10.6v2.8h-10.6zM502.8 223.2h7.9v2.8h-7.9zM516.0 223.2h2.6v2.8h-2.6zM534.5 223.2h5.3v2.8h-5.3zM574.1 223.2h36.1v2.8h-36.1zM262.2 226.0h2.6v2.8h-2.6zM309.8 226.0h2.6v2.8h-2.6zM381.2 226.0h2.6v2.8h-2.6zM394.4 226.0h2.6v2.8h-2.6zM479.0 226.0h10.6v2.8h-10.6zM500.1 226.0h7.9v2.8h-7.9zM521.3 226.0h2.6v2.8h-2.6zM531.8 226.0h10.6v2.8h-10.6zM576.8 226.0h33.5v2.8h-33.5zM238.4 228.8h23.8v2.8h-23.8zM312.4 228.8h2.6v2.8h-2.6zM381.2 228.8h2.6v2.8h-2.6zM394.4 228.8h2.6v2.8h-2.6zM463.1 228.8h2.6v2.8h-2.6zM481.6 228.8h26.4v2.8h-26.4zM534.5 228.8h13.2v2.8h-13.2zM576.8 228.8h33.5v2.8h-33.5zM233.1 231.5h5.3v2.8h-5.3zM315.1 231.5h2.6v2.8h-2.6zM381.2 231.5h2.6v2.8h-2.6zM394.4 231.5h2.6v2.8h-2.6zM463.1 231.5h2.6v2.8h-2.6zM481.6 231.5h26.4v2.8h-26.4zM534.5 231.5h15.9v2.8h-15.9zM576.8 231.5h33.5v2.8h-33.5zM214.6 234.2h2.6v2.8h-2.6zM315.1 234.2h2.6v2.8h-2.6zM381.2 234.2h2.6v2.8h-2.6zM394.4 234.2h2.6v2.8h-2.6zM418.2 234.2h2.6v2.8h-2.6zM463.1 234.2h2.6v2.8h-2.6zM481.6 234.2h26.4v2.8h-26.4zM534.5 234.2h15.9v2.8h-15.9zM576.8 234.2h33.5v2.8h-33.5zM212.0 237.0h2.6v2.8h-2.6zM378.5 237.0h5.3v2.8h-5.3zM394.4 237.0h2.6v2.8h-2.6zM420.8 237.0h2.6v2.8h-2.6zM463.1 237.0h2.6v2.8h-2.6zM481.6 237.0h26.4v2.8h-26.4zM534.5 237.0h15.9v2.8h-15.9zM574.1 237.0h36.1v2.8h-36.1zM317.7 239.8h2.6v2.8h-2.6zM367.9 239.8h13.2v2.8h-13.2zM394.4 239.8h2.6v2.8h-2.6zM463.1 239.8h2.6v2.8h-2.6zM481.6 239.8h26.4v2.8h-26.4zM534.5 239.8h15.9v2.8h-15.9zM568.9 239.8h41.4v2.8h-41.4zM209.3 242.5h2.6v2.8h-2.6zM317.7 242.5h2.6v2.8h-2.6zM373.2 242.5h7.9v2.8h-7.9zM394.4 242.5h2.6v2.8h-2.6zM410.2 242.5h5.3v2.8h-5.3zM420.8 242.5h2.6v2.8h-2.6zM463.1 242.5h2.6v2.8h-2.6zM481.6 242.5h26.4v2.8h-26.4zM534.5 242.5h15.9v2.8h-15.9zM568.9 242.5h41.4v2.8h-41.4zM182.9 245.2h2.6v2.8h-2.6zM315.1 245.2h2.6v2.8h-2.6zM378.5 245.2h5.3v2.8h-5.3zM394.4 245.2h2.6v2.8h-2.6zM463.1 245.2h5.3v2.8h-5.3zM479.0 245.2h23.8v2.8h-23.8zM505.4 245.2h5.3v2.8h-5.3zM534.5 245.2h15.9v2.8h-15.9zM180.2 248.0h2.6v2.8h-2.6zM312.4 248.0h2.6v2.8h-2.6zM381.2 248.0h2.6v2.8h-2.6zM394.4 248.0h5.3v2.8h-5.3zM460.5 248.0h10.6v2.8h-10.6zM476.3 248.0h23.8v2.8h-23.8zM508.1 248.0h5.3v2.8h-5.3zM534.5 248.0h18.5v2.8h-18.5zM307.1 250.8h2.6v2.8h-2.6zM381.2 250.8h2.6v2.8h-2.6zM397.0 250.8h2.6v2.8h-2.6zM460.5 250.8h37.0v2.8h-37.0zM510.7 250.8h5.3v2.8h-5.3zM534.5 250.8h23.8v2.8h-23.8zM177.6 253.5h2.6v2.8h-2.6zM307.1 253.5h2.6v2.8h-2.6zM341.5 253.5h2.6v2.8h-2.6zM349.4 253.5h2.6v2.8h-2.6zM381.2 253.5h2.6v2.8h-2.6zM460.5 253.5h37.0v2.8h-37.0zM513.3 253.5h5.3v2.8h-5.3zM534.5 253.5h26.4v2.8h-26.4zM312.4 256.2h2.6v2.8h-2.6zM336.2 256.2h2.6v2.8h-2.6zM352.1 256.2h2.6v2.8h-2.6zM378.5 256.2h7.9v2.8h-7.9zM457.8 256.2h39.7v2.8h-39.7zM513.3 256.2h5.3v2.8h-5.3zM534.5 256.2h26.4v2.8h-26.4zM315.1 259.0h2.6v2.8h-2.6zM333.6 259.0h2.6v2.8h-2.6zM352.1 259.0h2.6v2.8h-2.6zM375.9 259.0h2.6v2.8h-2.6zM381.2 259.0h13.2v2.8h-13.2zM455.2 259.0h42.3v2.8h-42.3zM513.3 259.0h5.3v2.8h-5.3zM534.5 259.0h26.4v2.8h-26.4zM320.4 261.8h10.6v2.8h-10.6zM367.9 261.8h5.3v2.8h-5.3zM383.8 261.8h2.6v2.8h-2.6zM391.7 261.8h2.6v2.8h-2.6zM407.6 261.8h7.9v2.8h-7.9zM423.5 261.8h2.6v2.8h-2.6zM452.5 261.8h44.9v2.8h-44.9zM513.3 261.8h5.3v2.8h-5.3zM534.5 261.8h26.4v2.8h-26.4zM362.6 264.5h2.6v2.8h-2.6zM381.2 264.5h2.6v2.8h-2.6zM394.4 264.5h2.6v2.8h-2.6zM423.5 264.5h2.6v2.8h-2.6zM447.2 264.5h50.2v2.8h-50.2zM513.3 264.5h5.3v2.8h-5.3zM534.5 264.5h26.4v2.8h-26.4zM354.7 267.2h5.3v2.8h-5.3zM381.2 267.2h2.6v2.8h-2.6zM397.0 267.2h2.6v2.8h-2.6zM423.5 267.2h2.6v2.8h-2.6zM444.6 267.2h5.3v2.8h-5.3zM457.8 267.2h21.1v2.8h-21.1zM489.6 267.2h29.1v2.8h-29.1zM534.5 267.2h7.9v2.8h-7.9zM553.0 267.2h7.9v2.8h-7.9zM381.2 270.0h2.6v2.8h-2.6zM399.7 270.0h2.6v2.8h-2.6zM423.5 270.0h2.6v2.8h-2.6zM442.0 270.0h5.3v2.8h-5.3zM460.5 270.0h15.9v2.8h-15.9zM492.2 270.0h10.6v2.8h-10.6zM508.1 270.0h10.6v2.8h-10.6zM534.5 270.0h5.3v2.8h-5.3zM555.6 270.0h7.9v2.8h-7.9zM402.3 272.8h2.6v2.8h-2.6zM420.8 272.8h2.6v2.8h-2.6zM439.3 272.8h5.3v2.8h-5.3zM460.5 272.8h15.9v2.8h-15.9zM492.2 272.8h5.3v2.8h-5.3zM513.3 272.8h5.3v2.8h-5.3zM534.5 272.8h5.3v2.8h-5.3zM555.6 272.8h54.7v2.8h-54.7zM381.2 275.5h2.6v2.8h-2.6zM404.9 275.5h2.6v2.8h-2.6zM415.5 275.5h5.3v2.8h-5.3zM439.3 275.5h5.3v2.8h-5.3zM460.5 275.5h15.9v2.8h-15.9zM492.2 275.5h5.3v2.8h-5.3zM513.3 275.5h5.3v2.8h-5.3zM555.6 275.5h54.7v2.8h-54.7zM404.9 278.2h2.6v2.8h-2.6zM412.9 278.2h2.6v2.8h-2.6zM442.0 278.2h5.3v2.8h-5.3zM460.5 278.2h15.9v2.8h-15.9zM492.2 278.2h5.3v2.8h-5.3zM513.3 278.2h5.3v2.8h-5.3zM555.6 278.2h7.9v2.8h-7.9zM386.4 281.0h2.6v2.8h-2.6zM404.9 281.0h2.6v2.8h-2.6zM410.2 281.0h2.6v2.8h-2.6zM444.6 281.0h2.6v2.8h-2.6zM460.5 281.0h15.9v2.8h-15.9zM492.2 281.0h7.9v2.8h-7.9zM510.7 281.0h10.6v2.8h-10.6zM553.0 281.0h7.9v2.8h-7.9zM391.7 283.8h2.6v2.8h-2.6zM407.6 283.8h5.3v2.8h-5.3zM444.6 283.8h2.6v2.8h-2.6zM460.5 283.8h15.9v2.8h-15.9zM492.2 283.8h34.4v2.8h-34.4zM547.7 283.8h13.2v2.8h-13.2zM394.4 286.5h2.6v2.8h-2.6zM407.6 286.5h2.6v2.8h-2.6zM444.6 286.5h2.6v2.8h-2.6zM463.1 286.5h13.2v2.8h-13.2zM492.2 286.5h34.4v2.8h-34.4zM545.1 286.5h15.9v2.8h-15.9zM397.0 289.2h13.2v2.8h-13.2zM444.6 289.2h2.6v2.8h-2.6zM468.4 289.2h7.9v2.8h-7.9zM492.2 289.2h29.1v2.8h-29.1zM545.1 289.2h15.9v2.8h-15.9zM402.3 292.0h10.6v2.8h-10.6zM442.0 292.0h5.3v2.8h-5.3zM471.0 292.0h5.3v2.8h-5.3zM492.2 292.0h26.4v2.8h-26.4zM542.4 292.0h18.5v2.8h-18.5zM407.6 294.8h5.3v2.8h-5.3zM439.3 294.8h5.3v2.8h-5.3zM471.0 294.8h5.3v2.8h-5.3zM492.2 294.8h26.4v2.8h-26.4zM537.1 294.8h23.8v2.8h-23.8zM389.1 297.5h23.8v2.8h-23.8zM436.7 297.5h5.3v2.8h-5.3zM492.2 297.5h23.8v2.8h-23.8zM534.5 297.5h26.4v2.8h-26.4zM381.2 300.2h2.6v2.8h-2.6zM407.6 300.2h5.3v2.8h-5.3zM434.0 300.2h5.3v2.8h-5.3zM486.9 300.2h13.2v2.8h-13.2zM534.5 300.2h7.9v2.8h-7.9zM553.0 300.2h7.9v2.8h-7.9zM407.6 303.0h2.6v2.8h-2.6zM431.4 303.0h5.3v2.8h-5.3zM479.0 303.0h18.5v2.8h-18.5zM531.8 303.0h7.9v2.8h-7.9zM555.6 303.0h7.9v2.8h-7.9zM354.7 305.8h5.3v2.8h-5.3zM407.6 305.8h2.6v2.8h-2.6zM431.4 305.8h2.6v2.8h-2.6zM479.0 305.8h2.6v2.8h-2.6zM492.2 305.8h5.3v2.8h-5.3zM526.6 305.8h13.2v2.8h-13.2zM555.6 305.8h23.8v2.8h-23.8zM378.5 308.5h2.6v2.8h-2.6zM434.0 308.5h2.6v2.8h-2.6zM479.0 308.5h2.6v2.8h-2.6zM489.6 308.5h5.3v2.8h-5.3zM526.6 308.5h13.2v2.8h-13.2zM558.3 308.5h21.1v2.8h-21.1zM352.1 311.2h2.6v2.8h-2.6zM360.0 311.2h2.6v2.8h-2.6zM412.9 311.2h2.6v2.8h-2.6zM476.3 311.2h5.3v2.8h-5.3zM486.9 311.2h5.3v2.8h-5.3zM531.8 311.2h7.9v2.8h-7.9zM439.3 314.0h2.6v2.8h-2.6zM476.3 314.0h5.3v2.8h-5.3zM484.3 314.0h5.3v2.8h-5.3zM534.5 314.0h7.9v2.8h-7.9zM362.6 316.8h2.6v2.8h-2.6zM442.0 316.8h44.9v2.8h-44.9zM534.5 316.8h13.2v2.8h-13.2zM442.0 319.5h26.4v2.8h-26.4zM537.1 319.5h10.6v2.8h-10.6zM410.2 322.2h2.6v2.8h-2.6zM442.0 322.2h23.8v2.8h-23.8zM349.4 325.0h2.6v2.8h-2.6zM442.0 325.0h21.1v2.8h-21.1zM349.4 327.8h2.6v2.8h-2.6zM418.2 327.8h2.6v2.8h-2.6zM442.0 327.8h21.1v2.8h-21.1zM349.4 330.5h2.6v2.8h-2.6zM442.0 330.5h21.1v2.8h-21.1zM442.0 333.2h21.1v2.8h-21.1zM352.1 336.0h2.6v2.8h-2.6zM362.6 336.0h2.6v2.8h-2.6zM378.5 336.0h2.6v2.8h-2.6zM442.0 336.0h21.1v2.8h-21.1zM354.7 338.8h2.6v2.8h-2.6zM360.0 338.8h2.6v2.8h-2.6zM442.0 338.8h23.8v2.8h-23.8zM354.7 341.5h5.3v2.8h-5.3zM381.2 341.5h2.6v2.8h-2.6zM442.0 341.5h23.8v2.8h-23.8zM357.4 344.2h5.3v2.8h-5.3zM418.2 344.2h5.3v2.8h-5.3zM442.0 344.2h21.1v2.8h-21.1zM341.5 347.0h2.6v2.8h-2.6zM360.0 347.0h2.6v2.8h-2.6zM442.0 347.0h21.1v2.8h-21.1zM360.0 349.8h2.6v2.8h-2.6zM407.6 349.8h2.6v2.8h-2.6zM412.9 349.8h2.6v2.8h-2.6zM442.0 349.8h21.1v2.8h-21.1zM360.0 352.5h2.6v2.8h-2.6zM378.5 352.5h2.6v2.8h-2.6zM404.9 352.5h2.6v2.8h-2.6zM442.0 352.5h21.1v2.8h-21.1zM336.2 355.2h2.6v2.8h-2.6zM354.7 355.2h2.6v2.8h-2.6zM378.5 355.2h2.6v2.8h-2.6zM402.3 355.2h2.6v2.8h-2.6zM410.2 355.2h2.6v2.8h-2.6zM442.0 355.2h21.1v2.8h-21.1zM333.6 358.0h2.6v2.8h-2.6zM352.1 358.0h2.6v2.8h-2.6zM410.2 358.0h2.6v2.8h-2.6zM439.3 358.0h23.8v2.8h-23.8zM330.9 360.8h2.6v2.8h-2.6zM349.4 360.8h2.6v2.8h-2.6zM439.3 360.8h23.8v2.8h-23.8zM439.3 363.5h23.8v2.8h-23.8zM346.8 366.2h2.6v2.8h-2.6zM407.6 366.2h2.6v2.8h-2.6zM431.4 366.2h31.7v2.8h-31.7zM434.0 369.0h29.1v2.8h-29.1zM344.1 371.8h2.6v2.8h-2.6zM439.3 371.8h26.4v2.8h-26.4zM346.8 374.5h2.6v2.8h-2.6zM439.3 374.5h26.4v2.8h-26.4zM439.3 377.2h23.8v2.8h-23.8zM378.5 380.0h2.6v2.8h-2.6zM402.3 380.0h2.6v2.8h-2.6zM439.3 380.0h23.8v2.8h-23.8zM357.4 382.8h2.6v2.8h-2.6zM378.5 382.8h2.6v2.8h-2.6zM402.3 382.8h2.6v2.8h-2.6zM439.3 382.8h23.8v2.8h-23.8zM394.4 385.5h2.6v2.8h-2.6zM439.3 385.5h23.8v2.8h-23.8zM439.3 388.2h23.8v2.8h-23.8zM360.0 391.0h2.6v2.8h-2.6zM386.4 391.0h5.3v2.8h-5.3zM428.7 391.0h2.6v2.8h-2.6zM439.3 391.0h23.8v2.8h-23.8zM360.0 393.8h2.6v2.8h-2.6zM428.7 393.8h2.6v2.8h-2.6zM439.3 393.8h26.4v2.8h-26.4zM338.9 396.5h2.6v2.8h-2.6zM349.4 396.5h2.6v2.8h-2.6zM362.6 396.5h2.6v2.8h-2.6zM442.0 396.5h21.1v2.8h-21.1zM336.2 399.2h2.6v2.8h-2.6zM349.4 399.2h2.6v2.8h-2.6zM362.6 399.2h2.6v2.8h-2.6zM349.4 402.0h2.6v2.8h-2.6zM362.6 402.0h2.6v2.8h-2.6zM426.1 402.0h2.6v2.8h-2.6zM341.5 407.5h2.6v2.8h-2.6zM362.6 410.2h2.6v2.8h-2.6zM362.6 413.0h2.6v2.8h-2.6zM362.6 415.8h2.6v2.8h-2.6zM418.2 415.8h2.6v2.8h-2.6zM397.0 418.5h2.6v2.8h-2.6zM394.4 421.2h2.6v2.8h-2.6zM391.7 424.0h2.6v2.8h-2.6zM333.6 426.8h2.6v2.8h-2.6zM412.9 426.8h2.6v2.8h-2.6zM391.7 432.2h2.6v2.8h-2.6zM410.2 432.2h2.6v2.8h-2.6zM394.4 435.0h2.6v2.8h-2.6zM404.9 435.0h5.3v2.8h-5.3zM338.9 437.8h2.6v2.8h-2.6zM333.6 440.5h5.3v2.8h-5.3zM375.9 446.0h10.6v2.8h-10.6zM352.1 448.8h2.6v2.8h-2.6zM357.4 448.8h2.6v2.8h-2.6zM383.8 448.8h15.9v2.8h-15.9zM352.1 451.5h2.6v2.8h-2.6zM357.4 451.5h2.6v2.8h-2.6zM386.4 451.5h13.2v2.8h-13.2zM375.9 454.2h2.6v2.8h-2.6zM391.7 454.2h5.3v2.8h-5.3zM346.8 457.0h2.6v2.8h-2.6zM378.5 457.0h5.3v2.8h-5.3zM391.7 457.0h5.3v2.8h-5.3zM365.3 459.8h2.6v2.8h-2.6zM370.6 459.8h2.6v2.8h-2.6zM381.2 459.8h2.6v2.8h-2.6zM391.7 459.8h2.6v2.8h-2.6zM286.0 462.5h2.6v2.8h-2.6zM370.6 462.5h2.6v2.8h-2.6zM383.8 462.5h2.6v2.8h-2.6zM391.7 462.5h2.6v2.8h-2.6zM249.0 465.2h34.4v2.8h-34.4zM349.4 465.2h2.6v2.8h-2.6zM365.3 465.2h10.6v2.8h-10.6zM381.2 465.2h10.6v2.8h-10.6zM349.4 468.0h5.3v2.8h-5.3zM370.6 468.0h15.9v2.8h-15.9zM243.7 470.8h2.6v2.8h-2.6zM346.8 470.8h2.6v2.8h-2.6zM360.0 470.8h2.6v2.8h-2.6zM373.2 470.8h2.6v2.8h-2.6zM381.2 470.8h2.6v2.8h-2.6zM349.4 473.5h2.6v2.8h-2.6zM360.0 473.5h2.6v2.8h-2.6zM373.2 473.5h2.6v2.8h-2.6zM381.2 473.5h2.6v2.8h-2.6zM206.7 476.2h34.4v2.8h-34.4zM352.1 476.2h2.6v2.8h-2.6zM360.0 476.2h2.6v2.8h-2.6zM373.2 476.2h2.6v2.8h-2.6zM381.2 476.2h2.6v2.8h-2.6zM352.1 479.0h2.6v2.8h-2.6zM360.0 479.0h2.6v2.8h-2.6zM373.2 479.0h2.6v2.8h-2.6zM381.2 479.0h2.6v2.8h-2.6zM201.4 481.8h2.6v2.8h-2.6zM360.0 481.8h2.6v2.8h-2.6zM373.2 481.8h2.6v2.8h-2.6zM381.2 481.8h2.6v2.8h-2.6zM201.4 484.5h2.6v2.8h-2.6zM341.5 484.5h2.6v2.8h-2.6zM360.0 484.5h2.6v2.8h-2.6zM373.2 484.5h2.6v2.8h-2.6zM381.2 484.5h2.6v2.8h-2.6zM201.4 487.2h2.6v17.8h-2.6zM341.5 487.2h2.6v17.8h-2.6zM360.0 487.2h2.6v17.8h-2.6zM373.2 487.2h2.6v17.8h-2.6zM381.2 487.2h2.6v17.8h-2.6z"/>
<path fill="#0048ff" d="M333.6 24.0h23.8v17.8h-23.8zM566.2 24.0h44.1v17.8h-44.1zM333.6 41.8h23.8v2.8h-23.8zM566.2 41.8h44.1v2.8h-44.1zM336.2 44.5h21.1v2.8h-21.1zM566.2 44.5h44.1v2.8h-44.1zM317.7 47.2h2.6v2.8h-2.6zM341.5 47.2h15.9v2.8h-15.9zM566.2 47.2h44.1v2.8h-44.1zM344.1 50.0h13.2v2.8h-13.2zM481.6 50.0h2.6v2.8h-2.6zM563.6 50.0h46.7v2.8h-46.7zM315.1 52.8h2.6v2.8h-2.6zM344.1 52.8h15.9v2.8h-15.9zM479.0 52.8h2.6v2.8h-2.6zM558.3 52.8h52.0v2.8h-52.0zM346.8 55.5h21.1v2.8h-21.1zM555.6 55.5h54.7v2.8h-54.7zM362.6 58.2h5.3v2.8h-5.3zM555.6 58.2h54.7v2.8h-54.7zM365.3 61.0h2.6v2.8h-2.6zM471.0 61.0h2.6v2.8h-2.6zM553.0 61.0h57.3v2.8h-57.3zM365.3 63.8h5.3v2.8h-5.3zM468.4 63.8h2.6v2.8h-2.6zM547.7 63.8h62.6v2.8h-62.6zM315.1 66.5h2.6v2.8h-2.6zM365.3 66.5h13.2v2.8h-13.2zM545.1 66.5h65.2v2.8h-65.2zM365.3 69.2h13.2v2.8h-13.2zM545.1 69.2h65.2v2.8h-65.2zM365.3 72.0h13.2v2.8h-13.2zM457.8 72.0h5.3v2.8h-5.3zM542.4 72.0h67.9v2.8h-67.9zM323.0 74.8h2.6v2.8h-2.6zM330.9 74.8h5.3v2.8h-5.3zM365.3 74.8h13.2v2.8h-13.2zM452.5 74.8h2.6v2.8h-2.6zM537.1 74.8h73.2v2.8h-73.2zM325.6 77.5h10.6v2.8h-10.6zM365.3 77.5h13.2v2.8h-13.2zM447.2 77.5h2.6v2.8h-2.6zM534.5 77.5h75.8v2.8h-75.8zM325.6 80.2h5.3v2.8h-5.3zM365.3 80.2h13.2v2.8h-13.2zM534.5 80.2h75.8v2.8h-75.8zM325.6 83.0h2.6v2.8h-2.6zM365.3 83.0h13.2v2.8h-13.2zM439.3 83.0h2.6v2.8h-2.6zM531.8 83.0h78.4v2.8h-78.4zM325.6 85.8h2.6v2.8h-2.6zM365.3 85.8h13.2v2.8h-13.2zM434.0 85.8h2.6v2.8h-2.6zM526.6 85.8h83.7v2.8h-83.7zM325.6 88.5h2.6v2.8h-2.6zM344.1 88.5h5.3v2.8h-5.3zM365.3 88.5h5.3v2.8h-5.3zM523.9 88.5h86.4v2.8h-86.4zM325.6 91.2h2.6v2.8h-2.6zM344.1 91.2h5.3v2.8h-5.3zM365.3 91.2h2.6v2.8h-2.6zM428.7 91.2h2.6v2.8h-2.6zM523.9 91.2h86.4v2.8h-86.4zM325.6 94.0h2.6v2.8h-2.6zM344.1 94.0h7.9v2.8h-7.9zM362.6 94.0h5.3v2.8h-5.3zM521.3 94.0h89.0v2.8h-89.0zM325.6 96.8h2.6v2.8h-2.6zM344.1 96.8h23.8v2.8h-23.8zM426.1 96.8h2.6v2.8h-2.6zM516.0 96.8h94.3v2.8h-94.3zM325.6 99.5h2.6v2.8h-2.6zM344.1 99.5h23.8v2.8h-23.8zM513.3 99.5h97.0v2.8h-97.0zM325.6 102.2h2.6v2.8h-2.6zM344.1 102.2h26.4v2.8h-26.4zM423.5 102.2h2.6v2.8h-2.6zM513.3 102.2h97.0v2.8h-97.0zM325.6 105.0h5.3v2.8h-5.3zM341.5 105.0h13.2v2.8h-13.2zM370.6 105.0h2.6v2.8h-2.6zM510.7 105.0h99.6v2.8h-99.6zM323.0 107.8h29.1v2.8h-29.1zM373.2 107.8h2.6v2.8h-2.6zM420.8 107.8h2.6v2.8h-2.6zM494.8 107.8h115.5v2.8h-115.5zM304.5 110.5h47.6v2.8h-47.6zM373.2 110.5h26.4v2.8h-26.4zM471.0 110.5h5.3v2.8h-5.3zM492.2 110.5h118.1v2.8h-118.1zM304.5 113.2h5.3v2.8h-5.3zM341.5 113.2h13.2v2.8h-13.2zM373.2 113.2h26.4v2.8h-26.4zM418.2 113.2h2.6v2.8h-2.6zM471.0 113.2h5.3v2.8h-5.3zM492.2 113.2h118.1v2.8h-118.1zM304.5 116.0h2.6v2.8h-2.6zM344.1 116.0h13.2v2.8h-13.2zM373.2 116.0h26.4v2.8h-26.4zM418.2 116.0h2.6v2.8h-2.6zM494.8 116.0h92.5v2.8h-92.5zM267.5 118.8h2.6v2.8h-2.6zM286.0 118.8h5.3v2.8h-5.3zM301.8 118.8h5.3v2.8h-5.3zM344.1 118.8h15.9v2.8h-15.9zM373.2 118.8h26.4v2.8h-26.4zM494.8 118.8h89.9v2.8h-89.9zM262.2 121.5h2.6v2.8h-2.6zM288.6 121.5h18.5v2.8h-18.5zM344.1 121.5h18.5v2.8h-18.5zM373.2 121.5h26.4v2.8h-26.4zM494.8 121.5h87.2v2.8h-87.2zM259.5 124.2h2.6v2.8h-2.6zM288.6 124.2h18.5v2.8h-18.5zM344.1 124.2h21.1v2.8h-21.1zM370.6 124.2h29.1v2.8h-29.1zM418.2 124.2h2.6v2.8h-2.6zM500.1 124.2h79.3v2.8h-79.3zM259.5 127.0h2.6v2.8h-2.6zM288.6 127.0h18.5v2.8h-18.5zM344.1 127.0h55.5v2.8h-55.5zM418.2 127.0h2.6v2.8h-2.6zM502.8 127.0h74.0v2.8h-74.0zM288.6 129.8h18.5v2.8h-18.5zM344.1 129.8h58.2v2.8h-58.2zM415.5 129.8h7.9v2.8h-7.9zM502.8 129.8h71.4v2.8h-71.4zM256.9 132.5h2.6v2.8h-2.6zM288.6 132.5h18.5v2.8h-18.5zM344.1 132.5h79.3v2.8h-79.3zM502.8 132.5h68.7v2.8h-68.7zM246.3 135.2h2.6v2.8h-2.6zM286.0 135.2h21.1v2.8h-21.1zM357.4 135.2h63.4v2.8h-63.4zM502.8 135.2h66.1v2.8h-66.1zM241.0 138.0h2.6v2.8h-2.6zM272.8 138.0h34.4v2.8h-34.4zM360.0 138.0h58.2v2.8h-58.2zM500.1 138.0h66.1v2.8h-66.1zM270.1 140.8h37.0v2.8h-37.0zM362.6 140.8h52.9v2.8h-52.9zM489.6 140.8h74.0v2.8h-74.0zM235.8 143.5h2.6v2.8h-2.6zM267.5 143.5h2.6v2.8h-2.6zM307.1 143.5h2.6v2.8h-2.6zM362.6 143.5h50.2v2.8h-50.2zM481.6 143.5h79.3v2.8h-79.3zM267.5 146.2h2.6v2.8h-2.6zM309.8 146.2h2.6v2.8h-2.6zM362.6 146.2h37.0v2.8h-37.0zM481.6 146.2h76.7v2.8h-76.7zM309.8 149.0h2.6v2.8h-2.6zM362.6 149.0h34.4v2.8h-34.4zM484.3 149.0h71.4v2.8h-71.4zM309.8 151.8h2.6v2.8h-2.6zM362.6 151.8h31.7v2.8h-31.7zM484.3 151.8h68.7v2.8h-68.7zM365.3 154.5h26.4v2.8h-26.4zM484.3 154.5h66.1v2.8h-66.1zM264.8 157.2h2.6v2.8h-2.6zM312.4 157.2h2.6v2.8h-2.6zM365.3 157.2h23.8v2.8h-23.8zM484.3 157.2h63.4v2.8h-63.4zM214.6 160.0h2.6v2.8h-2.6zM264.8 160.0h2.6v2.8h-2.6zM312.4 160.0h2.6v2.8h-2.6zM365.3 160.0h21.1v2.8h-21.1zM508.1 160.0h15.9v2.8h-15.9zM315.1 162.8h2.6v2.8h-2.6zM365.3 162.8h18.5v2.8h-18.5zM510.7 162.8h10.6v2.8h-10.6zM312.4 165.5h2.6v2.8h-2.6zM365.3 165.5h15.9v2.8h-15.9zM513.3 165.5h5.3v2.8h-5.3zM264.8 168.2h2.6v2.8h-2.6zM309.8 168.2h2.6v2.8h-2.6zM365.3 168.2h13.2v2.8h-13.2zM193.5 171.0h2.6v2.8h-2.6zM264.8 171.0h2.6v2.8h-2.6zM307.1 171.0h2.6v2.8h-2.6zM365.3 171.0h10.6v2.8h-10.6zM304.5 173.8h2.6v2.8h-2.6zM365.3 173.8h7.9v2.8h-7.9zM481.6 173.8h5.3v2.8h-5.3zM523.9 173.8h5.3v2.8h-5.3zM304.5 176.5h2.6v2.8h-2.6zM367.9 176.5h2.6v2.8h-2.6zM479.0 176.5h10.6v2.8h-10.6zM523.9 176.5h5.3v2.8h-5.3zM267.5 179.2h2.6v2.8h-2.6zM307.1 179.2h2.6v2.8h-2.6zM479.0 179.2h10.6v2.8h-10.6zM267.5 182.0h2.6v2.8h-2.6zM309.8 182.0h2.6v2.8h-2.6zM479.0 182.0h10.6v2.8h-10.6zM309.8 184.8h2.6v2.8h-2.6zM479.0 184.8h10.6v2.8h-10.6zM534.5 184.8h5.3v2.8h-5.3zM479.0 187.5h10.6v2.8h-10.6zM531.8 187.5h10.6v2.8h-10.6zM307.1 190.2h2.6v2.8h-2.6zM479.0 190.2h10.6v2.8h-10.6zM531.8 190.2h10.6v2.8h-10.6zM479.0 193.0h10.6v2.8h-10.6zM531.8 193.0h10.6v2.8h-10.6zM267.5 195.8h2.6v2.8h-2.6zM378.5 195.8h2.6v2.8h-2.6zM479.0 195.8h10.6v2.8h-10.6zM502.8 195.8h5.3v2.8h-5.3zM531.8 195.8h10.6v2.8h-10.6zM378.5 198.5h2.6v2.8h-2.6zM479.0 198.5h10.6v2.8h-10.6zM502.8 198.5h5.3v2.8h-5.3zM534.5 198.5h5.3v2.8h-5.3zM301.8 201.2h2.6v2.8h-2.6zM378.5 201.2h2.6v2.8h-2.6zM479.0 201.2h10.6v2.8h-10.6zM270.1 204.0h2.6v2.8h-2.6zM301.8 204.0h2.6v2.8h-2.6zM375.9 204.0h5.3v2.8h-5.3zM479.0 204.0h10.6v2.8h-10.6zM272.8 206.8h2.6v2.8h-2.6zM375.9 206.8h5.3v2.8h-5.3zM479.0 206.8h10.6v2.8h-10.6zM513.3 206.8h5.3v2.8h-5.3zM545.1 206.8h5.3v2.8h-5.3zM272.8 209.5h2.6v2.8h-2.6zM375.9 209.5h5.3v2.8h-5.3zM481.6 209.5h5.3v2.8h-5.3zM513.3 209.5h5.3v2.8h-5.3zM542.4 209.5h10.6v2.8h-10.6zM272.8 212.2h2.6v2.8h-2.6zM301.8 212.2h2.6v2.8h-2.6zM542.4 212.2h10.6v2.8h-10.6zM301.8 215.0h2.6v2.8h-2.6zM542.4 215.0h10.6v2.8h-10.6zM270.1 217.8h2.6v2.8h-2.6zM386.4 217.8h2.6v2.8h-2.6zM492.2 217.8h5.3v2.8h-5.3zM542.4 217.8h10.6v2.8h-10.6zM270.1 220.5h2.6v2.8h-2.6zM304.5 220.5h2.6v2.8h-2.6zM386.4 220.5h5.3v2.8h-5.3zM407.6 220.5h5.3v2.8h-5.3zM492.2 220.5h5.3v2.8h-5.3zM545.1 220.5h5.3v2.8h-5.3zM267.5 223.2h2.6v2.8h-2.6zM386.4 223.2h5.3v2.8h-5.3zM404.9 223.2h2.6v2.8h-2.6zM412.9 223.2h2.6v2.8h-2.6zM264.8 226.0h2.6v2.8h-2.6zM307.1 226.0h2.6v2.8h-2.6zM386.4 226.0h5.3v2.8h-5.3zM404.9 226.0h2.6v2.8h-2.6zM412.9 226.0h2.6v2.8h-2.6zM558.3 226.0h10.6v2.8h-10.6zM264.8 228.8h2.6v2.8h-2.6zM309.8 228.8h2.6v2.8h-2.6zM386.4 228.8h5.3v2.8h-5.3zM513.3 228.8h10.6v2.8h-10.6zM555.6 228.8h15.9v2.8h-15.9zM262.2 231.5h2.6v2.8h-2.6zM386.4 231.5h5.3v2.8h-5.3zM415.5 231.5h2.6v2.8h-2.6zM510.7 231.5h21.1v2.8h-21.1zM553.0 231.5h18.5v2.8h-18.5zM233.1 234.2h5.3v2.8h-5.3zM312.4 234.2h2.6v2.8h-2.6zM386.4 234.2h5.3v2.8h-5.3zM415.5 234.2h2.6v2.8h-2.6zM510.7 234.2h21.1v2.8h-21.1zM553.0 234.2h15.9v2.8h-15.9zM312.4 237.0h2.6v2.8h-2.6zM386.4 237.0h5.3v2.8h-5.3zM510.7 237.0h21.1v2.8h-21.1zM553.0 237.0h13.2v2.8h-13.2zM270.1 239.8h5.3v2.8h-5.3zM315.1 239.8h2.6v2.8h-2.6zM386.4 239.8h5.3v2.8h-5.3zM418.2 239.8h2.6v2.8h-2.6zM510.7 239.8h21.1v2.8h-21.1zM553.0 239.8h10.6v2.8h-10.6zM212.0 242.5h2.6v2.8h-2.6zM270.1 242.5h5.3v2.8h-5.3zM312.4 242.5h2.6v2.8h-2.6zM386.4 242.5h5.3v2.8h-5.3zM513.3 242.5h18.5v2.8h-18.5zM555.6 242.5h5.3v2.8h-5.3zM209.3 245.2h2.6v2.8h-2.6zM309.8 245.2h2.6v2.8h-2.6zM386.4 245.2h5.3v2.8h-5.3zM516.0 245.2h15.9v2.8h-15.9zM304.5 248.0h5.3v2.8h-5.3zM386.4 248.0h5.3v2.8h-5.3zM518.6 248.0h13.2v2.8h-13.2zM568.9 248.0h41.4v2.8h-41.4zM301.8 250.8h2.6v2.8h-2.6zM386.4 250.8h5.3v2.8h-5.3zM521.3 250.8h10.6v2.8h-10.6zM566.2 250.8h44.1v2.8h-44.1zM180.2 253.5h2.6v2.8h-2.6zM301.8 253.5h2.6v2.8h-2.6zM389.1 253.5h2.6v2.8h-2.6zM521.3 253.5h10.6v2.8h-10.6zM563.6 253.5h46.7v2.8h-46.7zM177.6 256.2h2.6v2.8h-2.6zM304.5 256.2h5.3v2.8h-5.3zM341.5 256.2h7.9v2.8h-7.9zM521.3 256.2h10.6v2.8h-10.6zM563.6 256.2h46.7v2.8h-46.7zM309.8 259.0h2.6v2.8h-2.6zM338.9 259.0h2.6v2.8h-2.6zM349.4 259.0h2.6v2.8h-2.6zM521.3 259.0h10.6v2.8h-10.6zM563.6 259.0h46.7v2.8h-46.7zM312.4 261.8h5.3v2.8h-5.3zM333.6 261.8h5.3v2.8h-5.3zM375.9 261.8h2.6v2.8h-2.6zM397.0 261.8h5.3v2.8h-5.3zM521.3 261.8h10.6v2.8h-10.6zM563.6 261.8h46.7v2.8h-46.7zM317.7 264.5h5.3v2.8h-5.3zM328.3 264.5h5.3v2.8h-5.3zM352.1 264.5h2.6v2.8h-2.6zM370.6 264.5h10.6v2.8h-10.6zM399.7 264.5h2.6v2.8h-2.6zM420.8 264.5h2.6v2.8h-2.6zM521.3 264.5h10.6v2.8h-10.6zM566.2 264.5h44.1v2.8h-44.1zM352.1 267.2h2.6v2.8h-2.6zM362.6 267.2h5.3v2.8h-5.3zM375.9 267.2h5.3v2.8h-5.3zM402.3 267.2h2.6v2.8h-2.6zM418.2 267.2h2.6v2.8h-2.6zM521.3 267.2h10.6v2.8h-10.6zM568.9 267.2h41.4v2.8h-41.4zM360.0 270.0h2.6v2.8h-2.6zM404.9 270.0h2.6v2.8h-2.6zM415.5 270.0h2.6v2.8h-2.6zM521.3 270.0h10.6v2.8h-10.6zM354.7 272.8h5.3v2.8h-5.3zM407.6 272.8h2.6v2.8h-2.6zM412.9 272.8h2.6v2.8h-2.6zM449.9 272.8h5.3v2.8h-5.3zM481.6 272.8h5.3v2.8h-5.3zM502.8 272.8h5.3v2.8h-5.3zM521.3 272.8h10.6v2.8h-10.6zM545.1 272.8h5.3v2.8h-5.3zM378.5 275.5h2.6v2.8h-2.6zM407.6 275.5h5.3v2.8h-5.3zM449.9 275.5h7.9v2.8h-7.9zM479.0 275.5h10.6v2.8h-10.6zM502.8 275.5h5.3v2.8h-5.3zM523.9 275.5h5.3v2.8h-5.3zM545.1 275.5h5.3v2.8h-5.3zM449.9 278.2h7.9v2.8h-7.9zM479.0 278.2h10.6v2.8h-10.6zM449.9 281.0h7.9v2.8h-7.9zM479.0 281.0h10.6v2.8h-10.6zM568.9 281.0h41.4v2.8h-41.4zM386.4 283.8h2.6v2.8h-2.6zM449.9 283.8h7.9v2.8h-7.9zM479.0 283.8h10.6v2.8h-10.6zM534.5 283.8h5.3v2.8h-5.3zM566.2 283.8h44.1v2.8h-44.1zM389.1 286.5h2.6v2.8h-2.6zM449.9 286.5h7.9v2.8h-7.9zM479.0 286.5h10.6v2.8h-10.6zM534.5 286.5h5.3v2.8h-5.3zM563.6 286.5h46.7v2.8h-46.7zM389.1 289.2h2.6v2.8h-2.6zM449.9 289.2h10.6v2.8h-10.6zM479.0 289.2h10.6v2.8h-10.6zM563.6 289.2h46.7v2.8h-46.7zM389.1 292.0h5.3v2.8h-5.3zM449.9 292.0h13.2v2.8h-13.2zM479.0 292.0h10.6v2.8h-10.6zM563.6 292.0h46.7v2.8h-46.7zM344.1 294.8h5.3v2.8h-5.3zM386.4 294.8h15.9v2.8h-15.9zM449.9 294.8h15.9v2.8h-15.9zM479.0 294.8h10.6v2.8h-10.6zM523.9 294.8h5.3v2.8h-5.3zM563.6 294.8h46.7v2.8h-46.7zM344.1 297.5h5.3v2.8h-5.3zM378.5 297.5h5.3v2.8h-5.3zM447.2 297.5h21.1v2.8h-21.1zM481.6 297.5h5.3v2.8h-5.3zM523.9 297.5h5.3v2.8h-5.3zM566.2 297.5h44.1v2.8h-44.1zM378.5 300.2h2.6v2.8h-2.6zM444.6 300.2h26.4v2.8h-26.4zM568.9 300.2h41.4v2.8h-41.4zM352.1 303.0h7.9v2.8h-7.9zM442.0 303.0h31.7v2.8h-31.7zM505.4 303.0h10.6v2.8h-10.6zM582.1 303.0h28.2v2.8h-28.2zM352.1 305.8h2.6v2.8h-2.6zM360.0 305.8h2.6v2.8h-2.6zM439.3 305.8h37.0v2.8h-37.0zM502.8 305.8h15.9v2.8h-15.9zM545.1 305.8h5.3v2.8h-5.3zM584.7 305.8h25.6v2.8h-25.6zM410.2 308.5h2.6v2.8h-2.6zM439.3 308.5h37.0v2.8h-37.0zM500.1 308.5h18.5v2.8h-18.5zM545.1 308.5h5.3v2.8h-5.3zM584.7 308.5h25.6v2.8h-25.6zM362.6 311.2h2.6v2.8h-2.6zM407.6 311.2h2.6v2.8h-2.6zM442.0 311.2h31.7v2.8h-31.7zM497.5 311.2h18.5v2.8h-18.5zM582.1 311.2h28.2v2.8h-28.2zM349.4 314.0h2.6v2.8h-2.6zM494.8 314.0h18.5v2.8h-18.5zM558.3 314.0h52.0v2.8h-52.0zM349.4 316.8h2.6v2.8h-2.6zM365.3 316.8h2.6v2.8h-2.6zM375.9 316.8h2.6v2.8h-2.6zM492.2 316.8h18.5v2.8h-18.5zM523.9 316.8h5.3v2.8h-5.3zM555.6 316.8h54.7v2.8h-54.7zM349.4 319.5h2.6v2.8h-2.6zM367.9 319.5h10.6v2.8h-10.6zM486.9 319.5h23.8v2.8h-23.8zM521.3 319.5h10.6v2.8h-10.6zM553.0 319.5h57.3v2.8h-57.3zM367.9 322.2h10.6v2.8h-10.6zM468.4 322.2h5.3v2.8h-5.3zM492.2 322.2h21.1v2.8h-21.1zM518.6 322.2h15.9v2.8h-15.9zM550.4 322.2h59.9v2.8h-59.9zM367.9 325.0h10.6v2.8h-10.6zM465.8 325.0h2.6v2.8h-2.6zM494.8 325.0h115.5v2.8h-115.5zM367.9 327.8h10.6v2.8h-10.6zM465.8 327.8h2.6v2.8h-2.6zM494.8 327.8h115.5v2.8h-115.5zM367.9 330.5h10.6v2.8h-10.6zM465.8 330.5h2.6v2.8h-2.6zM494.8 330.5h115.5v2.8h-115.5zM367.9 333.2h10.6v2.8h-10.6zM465.8 333.2h2.6v2.8h-2.6zM494.8 333.2h115.5v2.8h-115.5zM365.3 336.0h13.2v2.8h-13.2zM465.8 336.0h2.6v2.8h-2.6zM494.8 336.0h115.5v2.8h-115.5zM352.1 338.8h2.6v2.8h-2.6zM365.3 338.8h13.2v2.8h-13.2zM468.4 338.8h2.6v2.8h-2.6zM494.8 338.8h115.5v2.8h-115.5zM352.1 341.5h2.6v2.8h-2.6zM365.3 341.5h15.9v2.8h-15.9zM468.4 341.5h2.6v2.8h-2.6zM494.8 341.5h115.5v2.8h-115.5zM365.3 344.2h13.2v2.8h-13.2zM465.8 344.2h2.6v2.8h-2.6zM494.8 344.2h115.5v2.8h-115.5zM365.3 347.0h13.2v2.8h-13.2zM465.8 347.0h2.6v2.8h-2.6zM494.8 347.0h115.5v2.8h-115.5zM365.3 349.8h13.2v2.8h-13.2zM465.8 349.8h2.6v2.8h-2.6zM492.2 349.8h118.1v2.8h-118.1zM365.3 352.5h2.6v2.8h-2.6zM375.9 352.5h2.6v2.8h-2.6zM492.2 352.5h118.1v2.8h-118.1zM357.4 355.2h5.3v2.8h-5.3zM407.6 355.2h2.6v2.8h-2.6zM494.8 355.2h115.5v2.8h-115.5zM330.9 358.0h2.6v2.8h-2.6zM354.7 358.0h2.6v2.8h-2.6zM399.7 358.0h10.6v2.8h-10.6zM494.8 358.0h115.5v2.8h-115.5zM352.1 360.8h2.6v2.8h-2.6zM494.8 360.8h115.5v2.8h-115.5zM349.4 363.5h2.6v2.8h-2.6zM397.0 363.5h2.6v2.8h-2.6zM407.6 363.5h2.6v2.8h-2.6zM465.8 363.5h2.6v2.8h-2.6zM494.8 363.5h115.5v2.8h-115.5zM317.7 366.2h2.6v2.8h-2.6zM349.4 366.2h2.6v2.8h-2.6zM397.0 366.2h2.6v2.8h-2.6zM404.9 366.2h2.6v2.8h-2.6zM465.8 366.2h2.6v2.8h-2.6zM494.8 366.2h115.5v2.8h-115.5zM397.0 369.0h2.6v2.8h-2.6zM465.8 369.0h2.6v2.8h-2.6zM494.8 369.0h115.5v2.8h-115.5zM346.8 371.8h2.6v2.8h-2.6zM397.0 371.8h2.6v2.8h-2.6zM402.3 371.8h2.6v2.8h-2.6zM431.4 371.8h2.6v2.8h-2.6zM468.4 371.8h2.6v2.8h-2.6zM494.8 371.8h115.5v2.8h-115.5zM349.4 374.5h2.6v2.8h-2.6zM402.3 374.5h2.6v2.8h-2.6zM431.4 374.5h5.3v2.8h-5.3zM468.4 374.5h2.6v2.8h-2.6zM494.8 374.5h115.5v2.8h-115.5zM354.7 377.2h2.6v2.8h-2.6zM431.4 377.2h5.3v2.8h-5.3zM465.8 377.2h2.6v2.8h-2.6zM494.8 377.2h115.5v2.8h-115.5zM315.1 380.0h2.6v2.8h-2.6zM357.4 380.0h2.6v2.8h-2.6zM431.4 380.0h5.3v2.8h-5.3zM465.8 380.0h2.6v2.8h-2.6zM494.8 380.0h115.5v2.8h-115.5zM315.1 382.8h2.6v2.8h-2.6zM360.0 382.8h2.6v2.8h-2.6zM431.4 382.8h5.3v2.8h-5.3zM465.8 382.8h2.6v2.8h-2.6zM492.2 382.8h118.1v2.8h-118.1zM431.4 385.5h5.3v2.8h-5.3zM465.8 385.5h2.6v2.8h-2.6zM484.3 385.5h126.0v2.8h-126.0zM362.6 388.2h2.6v2.8h-2.6zM399.7 388.2h2.6v2.8h-2.6zM431.4 388.2h5.3v2.8h-5.3zM465.8 388.2h2.6v2.8h-2.6zM484.3 388.2h126.0v2.8h-126.0zM362.6 391.0h2.6v2.8h-2.6zM378.5 391.0h2.6v2.8h-2.6zM394.4 391.0h2.6v2.8h-2.6zM431.4 391.0h5.3v2.8h-5.3zM465.8 391.0h2.6v2.8h-2.6zM484.3 391.0h126.0v2.8h-126.0zM365.3 393.8h2.6v2.8h-2.6zM375.9 393.8h2.6v2.8h-2.6zM431.4 393.8h5.3v2.8h-5.3zM468.4 393.8h2.6v2.8h-2.6zM481.6 393.8h128.7v2.8h-128.7zM317.7 396.5h2.6v2.8h-2.6zM344.1 396.5h5.3v2.8h-5.3zM365.3 396.5h5.3v2.8h-5.3zM431.4 396.5h5.3v2.8h-5.3zM468.4 396.5h141.9v2.8h-141.9zM320.4 399.2h2.6v2.8h-2.6zM344.1 399.2h5.3v2.8h-5.3zM365.3 399.2h2.6v2.8h-2.6zM431.4 399.2h7.9v2.8h-7.9zM465.8 399.2h144.5v2.8h-144.5zM323.0 402.0h5.3v2.8h-5.3zM341.5 402.0h5.3v2.8h-5.3zM428.7 402.0h181.6v2.8h-181.6zM333.6 404.8h13.2v2.8h-13.2zM426.1 404.8h184.2v2.8h-184.2zM336.2 407.5h2.6v2.8h-2.6zM365.3 407.5h2.6v2.8h-2.6zM420.8 407.5h189.5v2.8h-189.5zM336.2 410.2h2.6v2.8h-2.6zM397.0 410.2h2.6v2.8h-2.6zM420.8 410.2h189.5v2.8h-189.5zM336.2 413.0h2.6v2.8h-2.6zM397.0 413.0h2.6v2.8h-2.6zM420.8 413.0h189.5v2.8h-189.5zM336.2 415.8h2.6v2.8h-2.6zM420.8 415.8h189.5v2.8h-189.5zM362.6 418.5h2.6v2.8h-2.6zM394.4 418.5h2.6v2.8h-2.6zM428.7 418.5h181.6v2.8h-181.6zM391.7 421.2h2.6v2.8h-2.6zM418.2 421.2h2.6v2.8h-2.6zM431.4 421.2h178.9v2.8h-178.9zM333.6 424.0h2.6v2.8h-2.6zM357.4 424.0h2.6v2.8h-2.6zM431.4 424.0h178.9v2.8h-178.9zM330.9 426.8h2.6v2.8h-2.6zM389.1 426.8h2.6v2.8h-2.6zM431.4 426.8h178.9v2.8h-178.9zM412.9 429.5h2.6v2.8h-2.6zM431.4 429.5h178.9v2.8h-178.9zM412.9 432.2h2.6v2.8h-2.6zM431.4 432.2h178.9v2.8h-178.9zM352.1 435.0h2.6v2.8h-2.6zM389.1 435.0h2.6v2.8h-2.6zM431.4 435.0h178.9v2.8h-178.9zM344.1 437.8h2.6v2.8h-2.6zM365.3 437.8h10.6v2.8h-10.6zM386.4 437.8h7.9v2.8h-7.9zM407.6 437.8h5.3v2.8h-5.3zM431.4 437.8h178.9v2.8h-178.9zM330.9 440.5h2.6v2.8h-2.6zM338.9 440.5h2.6v2.8h-2.6zM365.3 440.5h2.6v2.8h-2.6zM373.2 440.5h37.0v2.8h-37.0zM431.4 440.5h178.9v2.8h-178.9zM333.6 443.2h5.3v2.8h-5.3zM367.9 443.2h5.3v2.8h-5.3zM389.1 443.2h21.1v2.8h-21.1zM431.4 443.2h178.9v2.8h-178.9zM352.1 446.0h10.6v2.8h-10.6zM402.3 446.0h7.9v2.8h-7.9zM431.4 446.0h178.9v2.8h-178.9zM346.8 448.8h2.6v2.8h-2.6zM360.0 448.8h2.6v2.8h-2.6zM404.9 448.8h5.3v2.8h-5.3zM431.4 448.8h178.9v2.8h-178.9zM344.1 451.5h2.6v2.8h-2.6zM360.0 451.5h2.6v2.8h-2.6zM404.9 451.5h5.3v2.8h-5.3zM439.3 451.5h171.0v2.8h-171.0zM291.3 454.2h47.6v2.8h-47.6zM357.4 454.2h5.3v2.8h-5.3zM370.6 454.2h2.6v2.8h-2.6zM402.3 454.2h7.9v2.8h-7.9zM442.0 454.2h168.3v2.8h-168.3zM288.6 457.0h2.6v2.8h-2.6zM352.1 457.0h2.6v2.8h-2.6zM362.6 457.0h5.3v2.8h-5.3zM399.7 457.0h10.6v2.8h-10.6zM442.0 457.0h168.3v2.8h-168.3zM286.0 459.8h2.6v2.8h-2.6zM362.6 459.8h2.6v2.8h-2.6zM397.0 459.8h13.2v2.8h-13.2zM442.0 459.8h168.3v2.8h-168.3zM397.0 462.5h13.2v2.8h-13.2zM449.9 462.5h160.4v2.8h-160.4zM246.3 465.2h2.6v2.8h-2.6zM352.1 465.2h2.6v2.8h-2.6zM360.0 465.2h2.6v2.8h-2.6zM397.0 465.2h13.2v2.8h-13.2zM452.5 465.2h157.8v2.8h-157.8zM243.7 468.0h2.6v2.8h-2.6zM394.4 468.0h15.9v2.8h-15.9zM452.5 468.0h157.8v2.8h-157.8zM389.1 470.8h21.1v2.8h-21.1zM452.5 470.8h157.8v2.8h-157.8zM241.0 473.5h2.6v2.8h-2.6zM365.3 473.5h5.3v2.8h-5.3zM386.4 473.5h23.8v2.8h-23.8zM460.5 473.5h149.8v2.8h-149.8zM204.0 476.2h2.6v2.8h-2.6zM346.8 476.2h2.6v2.8h-2.6zM365.3 476.2h5.3v2.8h-5.3zM386.4 476.2h23.8v2.8h-23.8zM463.1 476.2h147.2v2.8h-147.2zM201.4 479.0h2.6v2.8h-2.6zM344.1 479.0h2.6v2.8h-2.6zM349.4 479.0h2.6v2.8h-2.6zM365.3 479.0h5.3v2.8h-5.3zM386.4 479.0h23.8v2.8h-23.8zM463.1 479.0h147.2v2.8h-147.2zM365.3 481.8h5.3v2.8h-5.3zM386.4 481.8h23.8v2.8h-23.8zM463.1 481.8h147.2v2.8h-147.2zM365.3 484.5h5.3v2.8h-5.3zM386.4 484.5h23.8v2.8h-23.8zM463.1 484.5h147.2v2.8h-147.2zM365.3 487.2h5.3v17.8h-5.3zM386.4 487.2h23.8v17.8h-23.8zM463.1 487.2h147.2v17.8h-147.2z"/>
<path fill="#003bff" d="M357.4 24.0h2.6v17.8h-2.6zM357.4 41.8h2.6v2.8h-2.6zM317.7 44.5h2.6v2.8h-2.6zM357.4 44.5h2.6v2.8h-2.6zM486.9 44.5h2.6v2.8h-2.6zM357.4 47.2h5.3v2.8h-5.3zM484.3 47.2h2.6v2.8h-2.6zM315.1 50.0h2.6v2.8h-2.6zM357.4 50.0h7.9v2.8h-7.9zM479.0 50.0h2.6v2.8h-2.6zM360.0 52.8h10.6v2.8h-10.6zM367.9 55.5h2.6v2.8h-2.6zM476.3 55.5h2.6v2.8h-2.6zM312.4 58.2h2.6v2.8h-2.6zM367.9 58.2h5.3v2.8h-5.3zM473.7 58.2h2.6v2.8h-2.6zM312.4 61.0h2.6v2.8h-2.6zM367.9 61.0h7.9v2.8h-7.9zM468.4 61.0h2.6v2.8h-2.6zM312.4 63.8h2.6v2.8h-2.6zM370.6 63.8h10.6v2.8h-10.6zM312.4 66.5h2.6v2.8h-2.6zM378.5 66.5h2.6v2.8h-2.6zM465.8 66.5h2.6v2.8h-2.6zM315.1 69.2h2.6v2.8h-2.6zM378.5 69.2h2.6v2.8h-2.6zM463.1 69.2h2.6v2.8h-2.6zM317.7 72.0h2.6v2.8h-2.6zM378.5 72.0h2.6v2.8h-2.6zM455.2 72.0h2.6v2.8h-2.6zM320.4 74.8h2.6v2.8h-2.6zM378.5 74.8h2.6v2.8h-2.6zM449.9 74.8h2.6v2.8h-2.6zM323.0 77.5h2.6v2.8h-2.6zM378.5 77.5h2.6v2.8h-2.6zM323.0 80.2h2.6v2.8h-2.6zM378.5 80.2h2.6v2.8h-2.6zM442.0 80.2h2.6v2.8h-2.6zM323.0 83.0h2.6v2.8h-2.6zM378.5 83.0h2.6v2.8h-2.6zM436.7 83.0h2.6v2.8h-2.6zM323.0 85.8h2.6v2.8h-2.6zM378.5 85.8h2.6v2.8h-2.6zM431.4 85.8h2.6v2.8h-2.6zM323.0 88.5h2.6v2.8h-2.6zM370.6 88.5h10.6v2.8h-10.6zM428.7 88.5h2.6v2.8h-2.6zM323.0 91.2h2.6v2.8h-2.6zM367.9 91.2h7.9v2.8h-7.9zM323.0 94.0h2.6v2.8h-2.6zM367.9 94.0h5.3v2.8h-5.3zM426.1 94.0h2.6v2.8h-2.6zM323.0 96.8h2.6v2.8h-2.6zM367.9 96.8h2.6v2.8h-2.6zM323.0 99.5h2.6v2.8h-2.6zM367.9 99.5h2.6v2.8h-2.6zM423.5 99.5h2.6v2.8h-2.6zM320.4 102.2h5.3v2.8h-5.3zM370.6 102.2h2.6v2.8h-2.6zM317.7 105.0h7.9v2.8h-7.9zM373.2 105.0h2.6v2.8h-2.6zM420.8 105.0h2.6v2.8h-2.6zM301.8 107.8h21.1v2.8h-21.1zM375.9 107.8h21.1v2.8h-21.1zM301.8 110.5h2.6v2.8h-2.6zM399.7 110.5h2.6v2.8h-2.6zM418.2 110.5h2.6v2.8h-2.6zM299.2 113.2h5.3v2.8h-5.3zM399.7 113.2h2.6v2.8h-2.6zM270.1 116.0h18.5v2.8h-18.5zM296.6 116.0h7.9v2.8h-7.9zM399.7 116.0h2.6v2.8h-2.6zM415.5 116.0h2.6v2.8h-2.6zM262.2 118.8h5.3v2.8h-5.3zM291.3 118.8h10.6v2.8h-10.6zM399.7 118.8h2.6v2.8h-2.6zM415.5 118.8h2.6v2.8h-2.6zM259.5 121.5h2.6v2.8h-2.6zM399.7 121.5h2.6v2.8h-2.6zM415.5 121.5h2.6v2.8h-2.6zM399.7 124.2h5.3v2.8h-5.3zM415.5 124.2h2.6v2.8h-2.6zM256.9 127.0h2.6v2.8h-2.6zM399.7 127.0h7.9v2.8h-7.9zM412.9 127.0h5.3v2.8h-5.3zM256.9 129.8h2.6v2.8h-2.6zM402.3 129.8h13.2v2.8h-13.2zM254.3 132.5h2.6v2.8h-2.6zM270.1 143.5h37.0v2.8h-37.0zM307.1 146.2h2.6v2.8h-2.6zM267.5 149.0h2.6v2.8h-2.6zM307.1 149.0h2.6v2.8h-2.6zM233.1 151.8h2.6v2.8h-2.6zM267.5 151.8h2.6v2.8h-2.6zM309.8 154.5h2.6v2.8h-2.6zM219.9 157.2h10.6v2.8h-10.6zM309.8 157.2h2.6v2.8h-2.6zM264.8 162.8h2.6v2.8h-2.6zM312.4 162.8h2.6v2.8h-2.6zM264.8 165.5h2.6v2.8h-2.6zM198.7 168.2h10.6v2.8h-10.6zM301.8 173.8h2.6v2.8h-2.6zM267.5 176.5h2.6v2.8h-2.6zM301.8 176.5h2.6v2.8h-2.6zM142.3 179.2h45.9v2.8h-45.9zM304.5 179.2h2.6v2.8h-2.6zM307.1 182.0h2.6v2.8h-2.6zM307.1 187.5h2.6v2.8h-2.6zM304.5 193.0h2.6v2.8h-2.6zM301.8 195.8h2.6v2.8h-2.6zM301.8 198.5h2.6v2.8h-2.6zM270.1 201.2h2.6v2.8h-2.6zM299.2 204.0h2.6v2.8h-2.6zM299.2 206.8h2.6v2.8h-2.6zM299.2 209.5h2.6v2.8h-2.6zM299.2 212.2h2.6v2.8h-2.6zM272.8 215.0h2.6v2.8h-2.6zM272.8 217.8h2.6v2.8h-2.6zM301.8 217.8h2.6v2.8h-2.6zM301.8 220.5h2.6v2.8h-2.6zM270.1 223.2h2.6v2.8h-2.6zM304.5 223.2h2.6v2.8h-2.6zM407.6 223.2h5.3v2.8h-5.3zM267.5 226.0h2.6v2.8h-2.6zM404.9 228.8h2.6v2.8h-2.6zM412.9 228.8h2.6v2.8h-2.6zM264.8 231.5h2.6v2.8h-2.6zM309.8 231.5h2.6v2.8h-2.6zM238.4 234.2h29.1v2.8h-29.1zM309.8 234.2h2.6v2.8h-2.6zM217.2 237.0h2.6v2.8h-2.6zM267.5 237.0h7.9v2.8h-7.9zM415.5 237.0h2.6v2.8h-2.6zM214.6 239.8h2.6v2.8h-2.6zM267.5 239.8h2.6v2.8h-2.6zM275.4 239.8h2.6v2.8h-2.6zM312.4 239.8h2.6v2.8h-2.6zM267.5 242.5h2.6v2.8h-2.6zM275.4 242.5h2.6v2.8h-2.6zM309.8 242.5h2.6v2.8h-2.6zM212.0 245.2h2.6v2.8h-2.6zM270.1 245.2h5.3v2.8h-5.3zM307.1 245.2h2.6v2.8h-2.6zM185.5 248.0h2.6v2.8h-2.6zM301.8 248.0h2.6v2.8h-2.6zM182.9 250.8h2.6v2.8h-2.6zM299.2 250.8h2.6v2.8h-2.6zM299.2 253.5h2.6v2.8h-2.6zM180.2 256.2h2.6v2.8h-2.6zM301.8 256.2h2.6v2.8h-2.6zM307.1 259.0h2.6v2.8h-2.6zM341.5 259.0h2.6v2.8h-2.6zM309.8 261.8h2.6v2.8h-2.6zM338.9 261.8h2.6v2.8h-2.6zM349.4 261.8h2.6v2.8h-2.6zM312.4 264.5h5.3v2.8h-5.3zM333.6 264.5h2.6v2.8h-2.6zM418.2 264.5h2.6v2.8h-2.6zM320.4 267.2h7.9v2.8h-7.9zM367.9 267.2h7.9v2.8h-7.9zM415.5 267.2h2.6v2.8h-2.6zM352.1 270.0h2.6v2.8h-2.6zM362.6 270.0h2.6v2.8h-2.6zM373.2 270.0h5.3v2.8h-5.3zM412.9 270.0h2.6v2.8h-2.6zM360.0 272.8h2.6v2.8h-2.6zM375.9 272.8h2.6v2.8h-2.6zM410.2 272.8h2.6v2.8h-2.6zM354.7 275.5h5.3v2.8h-5.3zM375.9 275.5h2.6v2.8h-2.6zM354.7 278.2h5.3v2.8h-5.3zM378.5 278.2h2.6v2.8h-2.6zM354.7 281.0h5.3v2.8h-5.3zM381.2 281.0h2.6v2.8h-2.6zM354.7 283.8h5.3v2.8h-5.3zM383.8 283.8h2.6v2.8h-2.6zM354.7 286.5h5.3v2.8h-5.3zM386.4 286.5h2.6v2.8h-2.6zM383.8 289.2h5.3v2.8h-5.3zM344.1 292.0h5.3v2.8h-5.3zM381.2 292.0h7.9v2.8h-7.9zM341.5 294.8h2.6v2.8h-2.6zM349.4 294.8h2.6v2.8h-2.6zM375.9 294.8h10.6v2.8h-10.6zM341.5 297.5h2.6v2.8h-2.6zM349.4 297.5h2.6v2.8h-2.6zM375.9 297.5h2.6v2.8h-2.6zM344.1 300.2h13.2v2.8h-13.2zM375.9 300.2h2.6v2.8h-2.6zM349.4 303.0h2.6v2.8h-2.6zM360.0 303.0h2.6v2.8h-2.6zM375.9 303.0h2.6v2.8h-2.6zM349.4 305.8h2.6v2.8h-2.6zM375.9 305.8h2.6v2.8h-2.6zM349.4 308.5h2.6v2.8h-2.6zM362.6 308.5h2.6v2.8h-2.6zM375.9 308.5h2.6v2.8h-2.6zM349.4 311.2h2.6v2.8h-2.6zM373.2 311.2h5.3v2.8h-5.3zM410.2 311.2h2.6v2.8h-2.6zM365.3 314.0h2.6v2.8h-2.6zM370.6 314.0h7.9v2.8h-7.9zM407.6 314.0h2.6v2.8h-2.6zM367.9 316.8h7.9v2.8h-7.9zM407.6 319.5h2.6v2.8h-2.6zM473.7 322.2h18.5v2.8h-18.5zM468.4 325.0h2.6v2.8h-2.6zM489.6 325.0h5.3v2.8h-5.3zM492.2 327.8h2.6v2.8h-2.6zM492.2 330.5h2.6v2.8h-2.6zM468.4 333.2h2.6v2.8h-2.6zM492.2 333.2h2.6v2.8h-2.6zM349.4 336.0h2.6v2.8h-2.6zM468.4 336.0h2.6v2.8h-2.6zM492.2 336.0h2.6v2.8h-2.6zM471.0 338.8h5.3v2.8h-5.3zM492.2 338.8h2.6v2.8h-2.6zM349.4 341.5h2.6v2.8h-2.6zM471.0 341.5h5.3v2.8h-5.3zM492.2 341.5h2.6v2.8h-2.6zM341.5 344.2h2.6v2.8h-2.6zM468.4 344.2h2.6v2.8h-2.6zM489.6 344.2h5.3v2.8h-5.3zM338.9 347.0h2.6v2.8h-2.6zM468.4 347.0h2.6v2.8h-2.6zM486.9 347.0h7.9v2.8h-7.9zM481.6 349.8h10.6v2.8h-10.6zM336.2 352.5h2.6v2.8h-2.6zM367.9 352.5h7.9v2.8h-7.9zM465.8 352.5h2.6v2.8h-2.6zM481.6 352.5h10.6v2.8h-10.6zM333.6 355.2h2.6v2.8h-2.6zM362.6 355.2h2.6v2.8h-2.6zM370.6 355.2h7.9v2.8h-7.9zM465.8 355.2h2.6v2.8h-2.6zM486.9 355.2h7.9v2.8h-7.9zM373.2 358.0h5.3v2.8h-5.3zM465.8 358.0h2.6v2.8h-2.6zM489.6 358.0h5.3v2.8h-5.3zM328.3 360.8h2.6v2.8h-2.6zM375.9 360.8h2.6v2.8h-2.6zM404.9 360.8h5.3v2.8h-5.3zM465.8 360.8h2.6v2.8h-2.6zM492.2 360.8h2.6v2.8h-2.6zM323.0 363.5h2.6v2.8h-2.6zM375.9 363.5h2.6v2.8h-2.6zM404.9 363.5h2.6v2.8h-2.6zM492.2 363.5h2.6v2.8h-2.6zM375.9 366.2h2.6v2.8h-2.6zM468.4 366.2h2.6v2.8h-2.6zM492.2 366.2h2.6v2.8h-2.6zM349.4 369.0h2.6v2.8h-2.6zM375.9 369.0h2.6v2.8h-2.6zM402.3 369.0h2.6v2.8h-2.6zM468.4 369.0h2.6v2.8h-2.6zM492.2 369.0h2.6v2.8h-2.6zM315.1 371.8h2.6v2.8h-2.6zM375.9 371.8h2.6v2.8h-2.6zM471.0 371.8h5.3v2.8h-5.3zM492.2 371.8h2.6v2.8h-2.6zM315.1 374.5h2.6v2.8h-2.6zM352.1 374.5h2.6v2.8h-2.6zM375.9 374.5h2.6v2.8h-2.6zM397.0 374.5h2.6v2.8h-2.6zM471.0 374.5h5.3v2.8h-5.3zM492.2 374.5h2.6v2.8h-2.6zM315.1 377.2h2.6v2.8h-2.6zM375.9 377.2h2.6v2.8h-2.6zM397.0 377.2h2.6v2.8h-2.6zM468.4 377.2h2.6v2.8h-2.6zM489.6 377.2h5.3v2.8h-5.3zM360.0 380.0h2.6v2.8h-2.6zM375.9 380.0h2.6v2.8h-2.6zM468.4 380.0h2.6v2.8h-2.6zM486.9 380.0h7.9v2.8h-7.9zM375.9 382.8h2.6v2.8h-2.6zM481.6 382.8h10.6v2.8h-10.6zM315.1 385.5h2.6v2.8h-2.6zM362.6 385.5h2.6v2.8h-2.6zM375.9 385.5h2.6v2.8h-2.6zM481.6 385.5h2.6v2.8h-2.6zM315.1 388.2h2.6v2.8h-2.6zM373.2 388.2h5.3v2.8h-5.3zM468.4 388.2h2.6v2.8h-2.6zM479.0 388.2h5.3v2.8h-5.3zM365.3 391.0h2.6v2.8h-2.6zM370.6 391.0h7.9v2.8h-7.9zM468.4 391.0h2.6v2.8h-2.6zM476.3 391.0h7.9v2.8h-7.9zM367.9 393.8h7.9v2.8h-7.9zM378.5 393.8h5.3v2.8h-5.3zM397.0 393.8h2.6v2.8h-2.6zM471.0 393.8h10.6v2.8h-10.6zM370.6 396.5h10.6v2.8h-10.6zM397.0 396.5h2.6v2.8h-2.6zM367.9 399.2h7.9v2.8h-7.9zM397.0 399.2h2.6v2.8h-2.6zM367.9 402.0h5.3v2.8h-5.3zM397.0 402.0h2.6v2.8h-2.6zM330.9 404.8h2.6v2.8h-2.6zM367.9 404.8h2.6v2.8h-2.6zM397.0 404.8h2.6v2.8h-2.6zM333.6 407.5h2.6v2.8h-2.6zM367.9 407.5h2.6v2.8h-2.6zM397.0 407.5h2.6v2.8h-2.6zM365.3 410.2h2.6v2.8h-2.6zM394.4 413.0h2.6v2.8h-2.6zM394.4 415.8h2.6v2.8h-2.6zM420.8 418.5h7.9v2.8h-7.9zM423.5 421.2h7.9v2.8h-7.9zM330.9 424.0h2.6v2.8h-2.6zM389.1 424.0h2.6v2.8h-2.6zM426.1 424.0h5.3v2.8h-5.3zM386.4 426.8h2.6v2.8h-2.6zM415.5 426.8h2.6v2.8h-2.6zM428.7 426.8h2.6v2.8h-2.6zM354.7 429.5h2.6v2.8h-2.6zM386.4 429.5h2.6v2.8h-2.6zM428.7 429.5h2.6v2.8h-2.6zM383.8 432.2h5.3v2.8h-5.3zM428.7 432.2h2.6v2.8h-2.6zM381.2 435.0h7.9v2.8h-7.9zM412.9 435.0h2.6v2.8h-2.6zM428.7 435.0h2.6v2.8h-2.6zM346.8 437.8h2.6v2.8h-2.6zM362.6 437.8h2.6v2.8h-2.6zM375.9 437.8h10.6v2.8h-10.6zM428.7 437.8h2.6v2.8h-2.6zM362.6 440.5h2.6v2.8h-2.6zM410.2 440.5h2.6v2.8h-2.6zM428.7 440.5h2.6v2.8h-2.6zM330.9 443.2h2.6v2.8h-2.6zM338.9 443.2h2.6v2.8h-2.6zM357.4 443.2h10.6v2.8h-10.6zM410.2 443.2h2.6v2.8h-2.6zM428.7 443.2h2.6v2.8h-2.6zM349.4 446.0h2.6v2.8h-2.6zM362.6 446.0h2.6v2.8h-2.6zM370.6 446.0h2.6v2.8h-2.6zM410.2 446.0h2.6v2.8h-2.6zM428.7 446.0h2.6v2.8h-2.6zM344.1 448.8h2.6v2.8h-2.6zM362.6 448.8h2.6v2.8h-2.6zM370.6 448.8h2.6v2.8h-2.6zM410.2 448.8h2.6v2.8h-2.6zM428.7 448.8h2.6v2.8h-2.6zM341.5 451.5h2.6v2.8h-2.6zM362.6 451.5h2.6v2.8h-2.6zM370.6 451.5h2.6v2.8h-2.6zM410.2 451.5h2.6v2.8h-2.6zM428.7 451.5h10.6v2.8h-10.6zM362.6 454.2h7.9v2.8h-7.9zM410.2 454.2h2.6v2.8h-2.6zM434.0 454.2h7.9v2.8h-7.9zM354.7 457.0h7.9v2.8h-7.9zM410.2 457.0h2.6v2.8h-2.6zM436.7 457.0h5.3v2.8h-5.3zM352.1 459.8h2.6v2.8h-2.6zM360.0 459.8h2.6v2.8h-2.6zM410.2 459.8h2.6v2.8h-2.6zM439.3 459.8h2.6v2.8h-2.6zM283.3 462.5h2.6v2.8h-2.6zM352.1 462.5h2.6v2.8h-2.6zM360.0 462.5h2.6v2.8h-2.6zM410.2 462.5h2.6v2.8h-2.6zM439.3 462.5h10.6v2.8h-10.6zM354.7 465.2h5.3v2.8h-5.3zM410.2 465.2h2.6v2.8h-2.6zM444.6 465.2h7.9v2.8h-7.9zM410.2 468.0h2.6v2.8h-2.6zM447.2 468.0h5.3v2.8h-5.3zM410.2 470.8h2.6v2.8h-2.6zM449.9 470.8h2.6v2.8h-2.6zM410.2 473.5h2.6v2.8h-2.6zM449.9 473.5h10.6v2.8h-10.6zM410.2 476.2h2.6v2.8h-2.6zM455.2 476.2h7.9v2.8h-7.9zM410.2 479.0h2.6v2.8h-2.6zM457.8 479.0h5.3v2.8h-5.3zM349.4 481.8h2.6v2.8h-2.6zM410.2 481.8h2.6v2.8h-2.6zM460.5 481.8h2.6v2.8h-2.6zM410.2 484.5h2.6v2.8h-2.6zM460.5 484.5h2.6v2.8h-2.6zM410.2 487.2h2.6v17.8h-2.6zM460.5 487.2h2.6v17.8h-2.6z"/>
<path fill="#0022ff" d="M362.6 24.0h2.6v17.8h-2.6zM362.6 41.8h2.6v2.8h-2.6zM315.1 44.5h2.6v2.8h-2.6zM362.6 44.5h2.6v2.8h-2.6zM484.3 44.5h2.6v2.8h-2.6zM365.3 47.2h5.3v2.8h-5.3zM479.0 47.2h2.6v2.8h-2.6zM312.4 50.0h2.6v2.8h-2.6zM370.6 50.0h2.6v2.8h-2.6zM476.3 50.0h2.6v2.8h-2.6zM373.2 52.8h2.6v2.8h-2.6zM373.2 55.5h2.6v2.8h-2.6zM473.7 55.5h2.6v2.8h-2.6zM309.8 58.2h2.6v2.8h-2.6zM375.9 58.2h5.3v2.8h-5.3zM468.4 58.2h2.6v2.8h-2.6zM309.8 61.0h2.6v2.8h-2.6zM381.2 61.0h2.6v2.8h-2.6zM465.8 61.0h2.6v2.8h-2.6zM383.8 63.8h2.6v2.8h-2.6zM307.1 66.5h2.6v2.8h-2.6zM383.8 66.5h2.6v2.8h-2.6zM463.1 66.5h2.6v2.8h-2.6zM309.8 69.2h2.6v2.8h-2.6zM383.8 69.2h2.6v2.8h-2.6zM449.9 69.2h7.9v2.8h-7.9zM312.4 72.0h2.6v2.8h-2.6zM383.8 72.0h2.6v2.8h-2.6zM447.2 72.0h2.6v2.8h-2.6zM383.8 74.8h2.6v2.8h-2.6zM444.6 74.8h2.6v2.8h-2.6zM317.7 77.5h2.6v2.8h-2.6zM383.8 77.5h2.6v2.8h-2.6zM442.0 77.5h2.6v2.8h-2.6zM317.7 80.2h2.6v2.8h-2.6zM383.8 80.2h2.6v2.8h-2.6zM436.7 80.2h2.6v2.8h-2.6zM317.7 83.0h2.6v2.8h-2.6zM383.8 83.0h2.6v2.8h-2.6zM317.7 85.8h2.6v2.8h-2.6zM383.8 85.8h2.6v2.8h-2.6zM428.7 85.8h2.6v2.8h-2.6zM317.7 88.5h2.6v2.8h-2.6zM383.8 88.5h2.6v2.8h-2.6zM317.7 91.2h2.6v2.8h-2.6zM381.2 91.2h2.6v2.8h-2.6zM317.7 94.0h2.6v2.8h-2.6zM375.9 94.0h5.3v2.8h-5.3zM423.5 94.0h2.6v2.8h-2.6zM317.7 96.8h2.6v2.8h-2.6zM373.2 96.8h2.6v2.8h-2.6zM317.7 99.5h2.6v2.8h-2.6zM373.2 99.5h2.6v2.8h-2.6zM420.8 99.5h2.6v2.8h-2.6zM301.8 102.2h15.9v2.8h-15.9zM375.9 102.2h13.2v2.8h-13.2zM299.2 105.0h2.6v2.8h-2.6zM391.7 105.0h5.3v2.8h-5.3zM418.2 105.0h2.6v2.8h-2.6zM296.6 107.8h2.6v2.8h-2.6zM402.3 107.8h2.6v2.8h-2.6zM415.5 107.8h2.6v2.8h-2.6zM296.6 110.5h2.6v2.8h-2.6zM404.9 110.5h2.6v2.8h-2.6zM412.9 110.5h2.6v2.8h-2.6zM270.1 113.2h2.6v2.8h-2.6zM283.3 113.2h13.2v2.8h-13.2zM404.9 113.2h2.6v2.8h-2.6zM412.9 113.2h2.6v2.8h-2.6zM264.8 116.0h2.6v2.8h-2.6zM404.9 116.0h2.6v2.8h-2.6zM412.9 116.0h2.6v2.8h-2.6zM256.9 118.8h2.6v2.8h-2.6zM404.9 118.8h2.6v2.8h-2.6zM412.9 118.8h2.6v2.8h-2.6zM254.3 121.5h2.6v2.8h-2.6zM404.9 121.5h2.6v2.8h-2.6zM254.3 124.2h2.6v2.8h-2.6zM407.6 124.2h5.3v2.8h-5.3zM254.3 127.0h2.6v2.8h-2.6zM254.3 129.8h2.6v2.8h-2.6zM249.0 132.5h2.6v2.8h-2.6zM233.1 146.2h2.6v2.8h-2.6zM272.8 149.0h34.4v2.8h-34.4zM270.1 151.8h2.6v2.8h-2.6zM307.1 154.5h2.6v2.8h-2.6zM307.1 157.2h2.6v2.8h-2.6zM307.1 160.0h2.6v2.8h-2.6zM307.1 162.8h2.6v2.8h-2.6zM307.1 165.5h2.6v2.8h-2.6zM301.8 168.2h5.3v2.8h-5.3zM299.2 171.0h2.6v2.8h-2.6zM296.6 173.8h2.6v2.8h-2.6zM296.6 176.5h2.6v2.8h-2.6zM270.1 179.2h2.6v2.8h-2.6zM299.2 179.2h2.6v2.8h-2.6zM270.1 182.0h2.6v2.8h-2.6zM301.8 182.0h5.3v2.8h-5.3zM270.1 184.8h2.6v2.8h-2.6zM270.1 187.5h2.6v2.8h-2.6zM304.5 187.5h2.6v2.8h-2.6zM270.1 190.2h2.6v2.8h-2.6zM301.8 190.2h2.6v2.8h-2.6zM270.1 193.0h2.6v2.8h-2.6zM299.2 193.0h2.6v2.8h-2.6zM270.1 195.8h2.6v2.8h-2.6zM296.6 195.8h2.6v2.8h-2.6zM270.1 198.5h2.6v2.8h-2.6zM296.6 198.5h2.6v2.8h-2.6zM272.8 201.2h2.6v2.8h-2.6zM296.6 201.2h2.6v2.8h-2.6zM275.4 204.0h2.6v2.8h-2.6zM296.6 204.0h2.6v2.8h-2.6zM296.6 206.8h2.6v2.8h-2.6zM296.6 209.5h2.6v2.8h-2.6zM296.6 212.2h2.6v2.8h-2.6zM275.4 215.0h2.6v2.8h-2.6zM296.6 215.0h2.6v2.8h-2.6zM275.4 217.8h2.6v2.8h-2.6zM296.6 217.8h2.6v2.8h-2.6zM275.4 220.5h2.6v2.8h-2.6zM296.6 220.5h2.6v2.8h-2.6zM272.8 223.2h2.6v2.8h-2.6zM299.2 223.2h2.6v2.8h-2.6zM270.1 226.0h2.6v2.8h-2.6zM301.8 226.0h2.6v2.8h-2.6zM407.6 228.8h5.3v2.8h-5.3zM270.1 231.5h2.6v2.8h-2.6zM307.1 231.5h2.6v2.8h-2.6zM272.8 234.2h2.6v2.8h-2.6zM307.1 234.2h2.6v2.8h-2.6zM275.4 237.0h2.6v2.8h-2.6zM307.1 237.0h2.6v2.8h-2.6zM412.9 237.0h2.6v2.8h-2.6zM217.2 239.8h2.6v2.8h-2.6zM262.2 239.8h2.6v2.8h-2.6zM278.1 239.8h2.6v2.8h-2.6zM307.1 239.8h2.6v2.8h-2.6zM412.9 239.8h2.6v2.8h-2.6zM264.8 242.5h2.6v2.8h-2.6zM278.1 242.5h2.6v2.8h-2.6zM307.1 242.5h2.6v2.8h-2.6zM214.6 245.2h2.6v2.8h-2.6zM264.8 245.2h2.6v2.8h-2.6zM275.4 245.2h2.6v2.8h-2.6zM301.8 245.2h2.6v2.8h-2.6zM212.0 248.0h2.6v2.8h-2.6zM267.5 248.0h7.9v2.8h-7.9zM299.2 248.0h2.6v2.8h-2.6zM185.5 250.8h2.6v2.8h-2.6zM296.6 250.8h2.6v2.8h-2.6zM296.6 253.5h2.6v2.8h-2.6zM182.9 256.2h2.6v2.8h-2.6zM296.6 256.2h2.6v2.8h-2.6zM180.2 259.0h2.6v2.8h-2.6zM299.2 259.0h5.3v2.8h-5.3zM307.1 261.8h2.6v2.8h-2.6zM341.5 261.8h2.6v2.8h-2.6zM346.8 261.8h2.6v2.8h-2.6zM307.1 264.5h2.6v2.8h-2.6zM338.9 264.5h2.6v2.8h-2.6zM404.9 264.5h2.6v2.8h-2.6zM412.9 264.5h2.6v2.8h-2.6zM309.8 267.2h2.6v2.8h-2.6zM333.6 267.2h5.3v2.8h-5.3zM407.6 267.2h5.3v2.8h-5.3zM312.4 270.0h18.5v2.8h-18.5zM349.4 270.0h2.6v2.8h-2.6zM349.4 272.8h2.6v2.8h-2.6zM362.6 272.8h2.6v2.8h-2.6zM370.6 272.8h2.6v2.8h-2.6zM349.4 275.5h2.6v2.8h-2.6zM362.6 275.5h2.6v2.8h-2.6zM370.6 275.5h2.6v2.8h-2.6zM349.4 278.2h2.6v2.8h-2.6zM362.6 278.2h2.6v2.8h-2.6zM373.2 278.2h2.6v2.8h-2.6zM349.4 281.0h2.6v2.8h-2.6zM362.6 281.0h2.6v2.8h-2.6zM375.9 281.0h2.6v2.8h-2.6zM349.4 283.8h2.6v2.8h-2.6zM362.6 283.8h2.6v2.8h-2.6zM349.4 286.5h2.6v2.8h-2.6zM362.6 286.5h2.6v2.8h-2.6zM381.2 286.5h2.6v2.8h-2.6zM341.5 289.2h5.3v2.8h-5.3zM360.0 289.2h2.6v2.8h-2.6zM375.9 289.2h5.3v2.8h-5.3zM338.9 292.0h2.6v2.8h-2.6zM354.7 292.0h5.3v2.8h-5.3zM373.2 292.0h2.6v2.8h-2.6zM338.9 294.8h2.6v2.8h-2.6zM370.6 294.8h2.6v2.8h-2.6zM338.9 297.5h2.6v2.8h-2.6zM354.7 297.5h2.6v2.8h-2.6zM370.6 297.5h2.6v2.8h-2.6zM341.5 300.2h2.6v2.8h-2.6zM360.0 300.2h2.6v2.8h-2.6zM370.6 300.2h2.6v2.8h-2.6zM344.1 303.0h2.6v2.8h-2.6zM362.6 303.0h2.6v2.8h-2.6zM370.6 303.0h2.6v2.8h-2.6zM346.8 305.8h2.6v2.8h-2.6zM370.6 305.8h2.6v2.8h-2.6zM365.3 308.5h2.6v2.8h-2.6zM370.6 308.5h2.6v2.8h-2.6zM367.9 311.2h2.6v2.8h-2.6zM346.8 314.0h2.6v2.8h-2.6zM346.8 316.8h2.6v2.8h-2.6zM410.2 316.8h2.6v2.8h-2.6zM346.8 319.5h2.6v2.8h-2.6zM346.8 322.2h2.6v2.8h-2.6zM346.8 325.0h2.6v2.8h-2.6zM346.8 327.8h2.6v2.8h-2.6zM471.0 327.8h2.6v2.8h-2.6zM486.9 327.8h2.6v2.8h-2.6zM346.8 330.5h2.6v2.8h-2.6zM486.9 330.5h2.6v2.8h-2.6zM346.8 333.2h2.6v2.8h-2.6zM471.0 333.2h5.3v2.8h-5.3zM486.9 333.2h2.6v2.8h-2.6zM476.3 336.0h2.6v2.8h-2.6zM486.9 336.0h2.6v2.8h-2.6zM479.0 338.8h2.6v2.8h-2.6zM486.9 338.8h2.6v2.8h-2.6zM344.1 341.5h2.6v2.8h-2.6zM479.0 341.5h2.6v2.8h-2.6zM486.9 341.5h2.6v2.8h-2.6zM338.9 344.2h2.6v2.8h-2.6zM476.3 344.2h10.6v2.8h-10.6zM471.0 347.0h10.6v2.8h-10.6zM336.2 349.8h2.6v2.8h-2.6zM476.3 349.8h2.6v2.8h-2.6zM476.3 352.5h2.6v2.8h-2.6zM479.0 355.2h2.6v2.8h-2.6zM362.6 358.0h7.9v2.8h-7.9zM481.6 358.0h5.3v2.8h-5.3zM354.7 360.8h2.6v2.8h-2.6zM370.6 360.8h2.6v2.8h-2.6zM399.7 360.8h2.6v2.8h-2.6zM486.9 360.8h2.6v2.8h-2.6zM317.7 363.5h2.6v2.8h-2.6zM370.6 363.5h2.6v2.8h-2.6zM402.3 363.5h2.6v2.8h-2.6zM486.9 363.5h2.6v2.8h-2.6zM315.1 366.2h2.6v2.8h-2.6zM370.6 366.2h2.6v2.8h-2.6zM471.0 366.2h5.3v2.8h-5.3zM486.9 366.2h2.6v2.8h-2.6zM352.1 369.0h2.6v2.8h-2.6zM370.6 369.0h2.6v2.8h-2.6zM476.3 369.0h2.6v2.8h-2.6zM486.9 369.0h2.6v2.8h-2.6zM352.1 371.8h2.6v2.8h-2.6zM370.6 371.8h2.6v2.8h-2.6zM399.7 371.8h2.6v2.8h-2.6zM479.0 371.8h2.6v2.8h-2.6zM486.9 371.8h2.6v2.8h-2.6zM354.7 374.5h2.6v2.8h-2.6zM370.6 374.5h2.6v2.8h-2.6zM399.7 374.5h2.6v2.8h-2.6zM479.0 374.5h2.6v2.8h-2.6zM486.9 374.5h2.6v2.8h-2.6zM360.0 377.2h2.6v2.8h-2.6zM370.6 377.2h2.6v2.8h-2.6zM399.7 377.2h2.6v2.8h-2.6zM476.3 377.2h10.6v2.8h-10.6zM362.6 380.0h2.6v2.8h-2.6zM370.6 380.0h2.6v2.8h-2.6zM399.7 380.0h2.6v2.8h-2.6zM471.0 380.0h10.6v2.8h-10.6zM370.6 382.8h2.6v2.8h-2.6zM399.7 382.8h2.6v2.8h-2.6zM476.3 382.8h2.6v2.8h-2.6zM365.3 385.5h2.6v2.8h-2.6zM370.6 385.5h2.6v2.8h-2.6zM476.3 385.5h2.6v2.8h-2.6zM367.9 388.2h2.6v2.8h-2.6zM471.0 388.2h5.3v2.8h-5.3zM315.1 393.8h2.6v2.8h-2.6zM315.1 396.5h2.6v2.8h-2.6zM383.8 396.5h2.6v2.8h-2.6zM391.7 396.5h2.6v2.8h-2.6zM381.2 399.2h2.6v2.8h-2.6zM391.7 399.2h2.6v2.8h-2.6zM317.7 402.0h2.6v2.8h-2.6zM375.9 402.0h5.3v2.8h-5.3zM391.7 402.0h2.6v2.8h-2.6zM323.0 404.8h5.3v2.8h-5.3zM373.2 404.8h2.6v2.8h-2.6zM391.7 404.8h2.6v2.8h-2.6zM328.3 407.5h2.6v2.8h-2.6zM373.2 407.5h2.6v2.8h-2.6zM391.7 407.5h2.6v2.8h-2.6zM330.9 410.2h2.6v2.8h-2.6zM370.6 410.2h2.6v2.8h-2.6zM391.7 410.2h2.6v2.8h-2.6zM333.6 413.0h2.6v2.8h-2.6zM367.9 413.0h2.6v2.8h-2.6zM391.7 413.0h2.6v2.8h-2.6zM391.7 415.8h2.6v2.8h-2.6zM365.3 418.5h2.6v2.8h-2.6zM389.1 418.5h2.6v2.8h-2.6zM330.9 421.2h2.6v2.8h-2.6zM386.4 421.2h2.6v2.8h-2.6zM328.3 424.0h2.6v2.8h-2.6zM383.8 424.0h2.6v2.8h-2.6zM420.8 424.0h2.6v2.8h-2.6zM357.4 426.8h2.6v2.8h-2.6zM381.2 426.8h2.6v2.8h-2.6zM418.2 426.8h2.6v2.8h-2.6zM423.5 426.8h2.6v2.8h-2.6zM381.2 429.5h2.6v2.8h-2.6zM423.5 429.5h2.6v2.8h-2.6zM375.9 432.2h5.3v2.8h-5.3zM423.5 432.2h2.6v2.8h-2.6zM354.7 435.0h2.6v2.8h-2.6zM362.6 435.0h2.6v2.8h-2.6zM415.5 435.0h2.6v2.8h-2.6zM423.5 435.0h2.6v2.8h-2.6zM352.1 437.8h2.6v2.8h-2.6zM360.0 437.8h2.6v2.8h-2.6zM415.5 437.8h2.6v2.8h-2.6zM423.5 437.8h2.6v2.8h-2.6zM344.1 440.5h2.6v2.8h-2.6zM357.4 440.5h2.6v2.8h-2.6zM415.5 440.5h2.6v2.8h-2.6zM423.5 440.5h2.6v2.8h-2.6zM328.3 443.2h2.6v2.8h-2.6zM344.1 443.2h7.9v2.8h-7.9zM415.5 443.2h2.6v2.8h-2.6zM423.5 443.2h2.6v2.8h-2.6zM330.9 446.0h2.6v2.8h-2.6zM415.5 446.0h2.6v2.8h-2.6zM423.5 446.0h2.6v2.8h-2.6zM336.2 448.8h5.3v2.8h-5.3zM365.3 448.8h5.3v2.8h-5.3zM415.5 448.8h2.6v2.8h-2.6zM423.5 448.8h2.6v2.8h-2.6zM291.3 451.5h47.6v2.8h-47.6zM365.3 451.5h5.3v2.8h-5.3zM415.5 451.5h2.6v2.8h-2.6zM423.5 451.5h2.6v2.8h-2.6zM286.0 454.2h2.6v2.8h-2.6zM415.5 454.2h2.6v2.8h-2.6zM426.1 454.2h2.6v2.8h-2.6zM415.5 457.0h2.6v2.8h-2.6zM428.7 457.0h5.3v2.8h-5.3zM283.3 459.8h2.6v2.8h-2.6zM354.7 459.8h5.3v2.8h-5.3zM415.5 459.8h2.6v2.8h-2.6zM434.0 459.8h2.6v2.8h-2.6zM246.3 462.5h37.0v2.8h-37.0zM354.7 462.5h5.3v2.8h-5.3zM415.5 462.5h2.6v2.8h-2.6zM434.0 462.5h2.6v2.8h-2.6zM415.5 465.2h2.6v2.8h-2.6zM436.7 465.2h2.6v2.8h-2.6zM241.0 468.0h2.6v2.8h-2.6zM415.5 468.0h2.6v2.8h-2.6zM439.3 468.0h5.3v2.8h-5.3zM241.0 470.8h2.6v2.8h-2.6zM415.5 470.8h2.6v2.8h-2.6zM444.6 470.8h2.6v2.8h-2.6zM204.0 473.5h37.0v2.8h-37.0zM415.5 473.5h2.6v2.8h-2.6zM444.6 473.5h2.6v2.8h-2.6zM415.5 476.2h2.6v2.8h-2.6zM447.2 476.2h2.6v2.8h-2.6zM198.7 479.0h2.6v2.8h-2.6zM415.5 479.0h2.6v2.8h-2.6zM449.9 479.0h5.3v2.8h-5.3zM198.7 481.8h2.6v2.8h-2.6zM346.8 481.8h2.6v2.8h-2.6zM415.5 481.8h2.6v2.8h-2.6zM455.2 481.8h2.6v2.8h-2.6zM198.7 484.5h2.6v2.8h-2.6zM344.1 484.5h2.6v2.8h-2.6zM415.5 484.5h2.6v2.8h-2.6zM455.2 484.5h2.6v2.8h-2.6zM198.7 487.2h2.6v17.8h-2.6zM344.1 487.2h2.6v17.8h-2.6zM415.5 487.2h2.6v17.8h-2.6zM455.2 487.2h2.6v17.8h-2.6z"/>
<path fill="#0008ff" d="M367.9 24.0h42.3v17.8h-42.3zM442.0 24.0h42.3v17.8h-42.3zM367.9 41.8h42.3v2.8h-42.3zM442.0 41.8h42.3v2.8h-42.3zM312.4 44.5h2.6v2.8h-2.6zM370.6 44.5h39.7v2.8h-39.7zM442.0 44.5h37.0v2.8h-37.0zM375.9 47.2h34.4v2.8h-34.4zM442.0 47.2h34.4v2.8h-34.4zM309.8 50.0h2.6v2.8h-2.6zM375.9 50.0h34.4v2.8h-34.4zM442.0 50.0h31.7v2.8h-31.7zM378.5 52.8h31.7v2.8h-31.7zM442.0 52.8h31.7v2.8h-31.7zM381.2 55.5h26.4v2.8h-26.4zM442.0 55.5h26.4v2.8h-26.4zM307.1 58.2h2.6v2.8h-2.6zM386.4 58.2h15.9v2.8h-15.9zM442.0 58.2h23.8v2.8h-23.8zM307.1 61.0h2.6v2.8h-2.6zM386.4 61.0h15.9v2.8h-15.9zM442.0 61.0h21.1v2.8h-21.1zM304.5 63.8h2.6v2.8h-2.6zM389.1 63.8h10.6v2.8h-10.6zM442.0 63.8h21.1v2.8h-21.1zM389.1 66.5h7.9v2.8h-7.9zM442.0 66.5h7.9v2.8h-7.9zM301.8 69.2h5.3v2.8h-5.3zM389.1 69.2h2.6v2.8h-2.6zM442.0 69.2h2.6v2.8h-2.6zM301.8 72.0h5.3v2.8h-5.3zM389.1 72.0h2.6v2.8h-2.6zM442.0 72.0h2.6v2.8h-2.6zM296.6 74.8h15.9v2.8h-15.9zM293.9 77.5h21.1v2.8h-21.1zM439.3 77.5h2.6v2.8h-2.6zM293.9 80.2h21.1v2.8h-21.1zM434.0 80.2h2.6v2.8h-2.6zM293.9 83.0h21.1v2.8h-21.1zM428.7 83.0h2.6v2.8h-2.6zM293.9 85.8h21.1v2.8h-21.1zM426.1 85.8h2.6v2.8h-2.6zM293.9 88.5h21.1v2.8h-21.1zM291.3 91.2h23.8v2.8h-23.8zM386.4 91.2h2.6v2.8h-2.6zM423.5 91.2h2.6v2.8h-2.6zM291.3 94.0h23.8v2.8h-23.8zM386.4 94.0h2.6v2.8h-2.6zM286.0 96.8h29.1v2.8h-29.1zM381.2 96.8h7.9v2.8h-7.9zM420.8 96.8h2.6v2.8h-2.6zM283.3 99.5h18.5v2.8h-18.5zM389.1 99.5h2.6v2.8h-2.6zM418.2 99.5h2.6v2.8h-2.6zM280.7 102.2h15.9v2.8h-15.9zM391.7 102.2h5.3v2.8h-5.3zM415.5 102.2h2.6v2.8h-2.6zM280.7 105.0h15.9v2.8h-15.9zM402.3 105.0h2.6v2.8h-2.6zM412.9 105.0h2.6v2.8h-2.6zM275.4 107.8h18.5v2.8h-18.5zM407.6 107.8h5.3v2.8h-5.3zM270.1 110.5h2.6v2.8h-2.6zM264.8 113.2h2.6v2.8h-2.6zM256.9 116.0h2.6v2.8h-2.6zM251.6 118.8h2.6v2.8h-2.6zM246.3 132.5h2.6v2.8h-2.6zM235.8 138.0h2.6v2.8h-2.6zM272.8 154.5h31.7v2.8h-31.7zM272.8 157.2h5.3v2.8h-5.3zM288.6 157.2h15.9v2.8h-15.9zM272.8 160.0h2.6v2.8h-2.6zM291.3 160.0h13.2v2.8h-13.2zM272.8 162.8h2.6v2.8h-2.6zM291.3 162.8h13.2v2.8h-13.2zM272.8 165.5h2.6v2.8h-2.6zM291.3 165.5h10.6v2.8h-10.6zM272.8 168.2h2.6v2.8h-2.6zM291.3 168.2h5.3v2.8h-5.3zM272.8 171.0h2.6v2.8h-2.6zM291.3 171.0h5.3v2.8h-5.3zM272.8 173.8h2.6v2.8h-2.6zM291.3 173.8h2.6v2.8h-2.6zM272.8 176.5h2.6v2.8h-2.6zM291.3 176.5h2.6v2.8h-2.6zM272.8 179.2h2.6v2.8h-2.6zM291.3 179.2h5.3v2.8h-5.3zM272.8 182.0h2.6v2.8h-2.6zM291.3 182.0h5.3v2.8h-5.3zM272.8 184.8h2.6v2.8h-2.6zM291.3 184.8h10.6v2.8h-10.6zM272.8 187.5h2.6v2.8h-2.6zM291.3 187.5h10.6v2.8h-10.6zM272.8 190.2h2.6v2.8h-2.6zM291.3 190.2h5.3v2.8h-5.3zM272.8 193.0h2.6v2.8h-2.6zM291.3 193.0h5.3v2.8h-5.3zM272.8 195.8h2.6v2.8h-2.6zM291.3 195.8h2.6v2.8h-2.6zM272.8 198.5h5.3v2.8h-5.3zM291.3 198.5h2.6v2.8h-2.6zM291.3 201.2h2.6v2.8h-2.6zM278.1 204.0h2.6v2.8h-2.6zM291.3 204.0h2.6v2.8h-2.6zM291.3 206.8h2.6v2.8h-2.6zM291.3 209.5h2.6v2.8h-2.6zM291.3 212.2h2.6v2.8h-2.6zM278.1 215.0h2.6v2.8h-2.6zM291.3 215.0h2.6v2.8h-2.6zM278.1 217.8h2.6v2.8h-2.6zM291.3 217.8h2.6v2.8h-2.6zM278.1 220.5h2.6v2.8h-2.6zM291.3 220.5h2.6v2.8h-2.6zM291.3 223.2h5.3v2.8h-5.3zM275.4 226.0h2.6v2.8h-2.6zM291.3 226.0h5.3v2.8h-5.3zM272.8 228.8h2.6v2.8h-2.6zM291.3 228.8h10.6v2.8h-10.6zM272.8 231.5h5.3v2.8h-5.3zM293.9 231.5h10.6v2.8h-10.6zM278.1 234.2h2.6v2.8h-2.6zM299.2 234.2h5.3v2.8h-5.3zM280.7 237.0h2.6v2.8h-2.6zM301.8 237.0h2.6v2.8h-2.6zM280.7 239.8h2.6v2.8h-2.6zM301.8 239.8h2.6v2.8h-2.6zM219.9 242.5h42.3v2.8h-42.3zM280.7 242.5h2.6v2.8h-2.6zM299.2 242.5h5.3v2.8h-5.3zM219.9 245.2h42.3v2.8h-42.3zM280.7 245.2h2.6v2.8h-2.6zM296.6 245.2h2.6v2.8h-2.6zM217.2 248.0h47.6v2.8h-47.6zM278.1 248.0h2.6v2.8h-2.6zM293.9 248.0h2.6v2.8h-2.6zM214.6 250.8h52.9v2.8h-52.9zM272.8 250.8h5.3v2.8h-5.3zM293.9 250.8h2.6v2.8h-2.6zM188.2 253.5h87.2v2.8h-87.2zM291.3 253.5h2.6v2.8h-2.6zM188.2 256.2h87.2v2.8h-87.2zM291.3 256.2h2.6v2.8h-2.6zM185.5 259.0h89.9v2.8h-89.9zM291.3 259.0h5.3v2.8h-5.3zM182.9 261.8h92.5v2.8h-92.5zM291.3 261.8h7.9v2.8h-7.9zM142.3 264.5h133.1v2.8h-133.1zM291.3 264.5h13.2v2.8h-13.2zM344.1 264.5h2.6v2.8h-2.6zM142.3 267.2h133.1v2.8h-133.1zM291.3 267.2h15.9v2.8h-15.9zM344.1 267.2h2.6v2.8h-2.6zM142.3 270.0h133.1v2.8h-133.1zM291.3 270.0h15.9v2.8h-15.9zM333.6 270.0h13.2v2.8h-13.2zM142.3 272.8h133.1v2.8h-133.1zM291.3 272.8h21.1v2.8h-21.1zM328.3 272.8h2.6v2.8h-2.6zM344.1 272.8h2.6v2.8h-2.6zM142.3 275.5h133.1v2.8h-133.1zM291.3 275.5h37.0v2.8h-37.0zM344.1 275.5h2.6v2.8h-2.6zM142.3 278.2h133.1v2.8h-133.1zM291.3 278.2h37.0v2.8h-37.0zM344.1 278.2h2.6v2.8h-2.6zM367.9 278.2h2.6v2.8h-2.6zM142.3 281.0h135.8v2.8h-135.8zM288.6 281.0h42.3v2.8h-42.3zM341.5 281.0h5.3v2.8h-5.3zM367.9 281.0h2.6v2.8h-2.6zM142.3 283.8h204.5v2.8h-204.5zM367.9 283.8h7.9v2.8h-7.9zM142.3 286.5h199.2v2.8h-199.2zM367.9 286.5h7.9v2.8h-7.9zM142.3 289.2h196.6v2.8h-196.6zM365.3 289.2h5.3v2.8h-5.3zM142.3 292.0h193.9v2.8h-193.9zM365.3 292.0h5.3v2.8h-5.3zM142.3 294.8h193.9v2.8h-193.9zM360.0 294.8h7.9v2.8h-7.9zM142.3 297.5h196.6v2.8h-196.6zM362.6 297.5h5.3v2.8h-5.3zM142.3 300.2h156.9v2.8h-156.9zM336.2 300.2h2.6v2.8h-2.6zM365.3 300.2h2.6v2.8h-2.6zM142.3 303.0h154.3v2.8h-154.3zM338.9 303.0h2.6v2.8h-2.6zM142.3 305.8h154.3v2.8h-154.3zM341.5 305.8h5.3v2.8h-5.3zM142.3 308.5h154.3v2.8h-154.3zM344.1 308.5h2.6v2.8h-2.6zM142.3 311.2h154.3v2.8h-154.3zM344.1 311.2h2.6v2.8h-2.6zM142.3 314.0h154.3v2.8h-154.3zM344.1 314.0h2.6v2.8h-2.6zM142.3 316.8h154.3v2.8h-154.3zM344.1 316.8h2.6v2.8h-2.6zM142.3 319.5h151.6v2.8h-151.6zM344.1 319.5h2.6v2.8h-2.6zM142.3 322.2h125.2v2.8h-125.2zM344.1 322.2h2.6v2.8h-2.6zM142.3 325.0h122.5v2.8h-122.5zM344.1 325.0h2.6v2.8h-2.6zM142.3 327.8h122.5v2.8h-122.5zM344.1 327.8h2.6v2.8h-2.6zM142.3 330.5h122.5v2.8h-122.5zM344.1 330.5h2.6v2.8h-2.6zM476.3 330.5h7.9v2.8h-7.9zM142.3 333.2h122.5v2.8h-122.5zM344.1 333.2h2.6v2.8h-2.6zM481.6 333.2h2.6v2.8h-2.6zM142.3 336.0h125.2v2.8h-125.2zM344.1 336.0h2.6v2.8h-2.6zM481.6 336.0h2.6v2.8h-2.6zM142.3 338.8h162.2v2.8h-162.2zM344.1 338.8h2.6v2.8h-2.6zM142.3 341.5h164.8v2.8h-164.8zM142.3 344.2h164.8v2.8h-164.8zM142.3 347.0h164.8v2.8h-164.8zM142.3 349.8h164.8v2.8h-164.8zM142.3 352.5h164.8v2.8h-164.8zM330.9 352.5h2.6v2.8h-2.6zM142.3 355.2h164.8v2.8h-164.8zM473.7 355.2h2.6v2.8h-2.6zM142.3 358.0h167.5v2.8h-167.5zM325.6 358.0h2.6v2.8h-2.6zM473.7 358.0h2.6v2.8h-2.6zM142.3 360.8h183.3v2.8h-183.3zM473.7 360.8h7.9v2.8h-7.9zM142.3 363.5h172.8v2.8h-172.8zM357.4 363.5h10.6v2.8h-10.6zM476.3 363.5h7.9v2.8h-7.9zM142.3 366.2h172.8v2.8h-172.8zM357.4 366.2h10.6v2.8h-10.6zM481.6 366.2h2.6v2.8h-2.6zM142.3 369.0h172.8v2.8h-172.8zM357.4 369.0h10.6v2.8h-10.6zM481.6 369.0h2.6v2.8h-2.6zM142.3 371.8h172.8v2.8h-172.8zM357.4 371.8h10.6v2.8h-10.6zM142.3 374.5h172.8v2.8h-172.8zM362.6 374.5h5.3v2.8h-5.3zM142.3 377.2h172.8v2.8h-172.8zM365.3 377.2h2.6v2.8h-2.6zM142.3 380.0h172.8v2.8h-172.8zM142.3 382.8h172.8v2.8h-172.8zM142.3 385.5h172.8v2.8h-172.8zM142.3 388.2h172.8v2.8h-172.8zM142.3 391.0h172.8v2.8h-172.8zM142.3 393.8h172.8v2.8h-172.8zM142.3 396.5h172.8v2.8h-172.8zM142.3 399.2h172.8v2.8h-172.8zM386.4 399.2h2.6v2.8h-2.6zM142.3 402.0h172.8v2.8h-172.8zM386.4 402.0h2.6v2.8h-2.6zM142.3 404.8h175.4v2.8h-175.4zM381.2 404.8h7.9v2.8h-7.9zM142.3 407.5h183.3v2.8h-183.3zM378.5 407.5h10.6v2.8h-10.6zM142.3 410.2h186.0v2.8h-186.0zM375.9 410.2h13.2v2.8h-13.2zM142.3 413.0h186.0v2.8h-186.0zM375.9 413.0h13.2v2.8h-13.2zM142.3 415.8h191.3v2.8h-191.3zM370.6 415.8h18.5v2.8h-18.5zM142.3 418.5h188.6v2.8h-188.6zM367.9 418.5h18.5v2.8h-18.5zM142.3 421.2h186.0v2.8h-186.0zM365.3 421.2h2.6v2.8h-2.6zM373.2 421.2h7.9v2.8h-7.9zM142.3 424.0h183.3v2.8h-183.3zM375.9 424.0h5.3v2.8h-5.3zM142.3 426.8h183.3v2.8h-183.3zM360.0 426.8h2.6v2.8h-2.6zM375.9 426.8h2.6v2.8h-2.6zM142.3 429.5h183.3v2.8h-183.3zM357.4 429.5h2.6v2.8h-2.6zM373.2 429.5h5.3v2.8h-5.3zM142.3 432.2h183.3v2.8h-183.3zM357.4 432.2h5.3v2.8h-5.3zM142.3 435.0h183.3v2.8h-183.3zM357.4 435.0h2.6v2.8h-2.6zM142.3 437.8h183.3v2.8h-183.3zM142.3 440.5h183.3v2.8h-183.3zM142.3 443.2h183.3v2.8h-183.3zM142.3 446.0h186.0v2.8h-186.0zM142.3 448.8h188.6v2.8h-188.6zM142.3 451.5h143.7v2.8h-143.7zM142.3 454.2h141.0v2.8h-141.0zM420.8 454.2h2.6v2.8h-2.6zM142.3 457.0h141.0v2.8h-141.0zM420.8 457.0h2.6v2.8h-2.6zM142.3 459.8h141.0v2.8h-141.0zM420.8 459.8h7.9v2.8h-7.9zM142.3 462.5h101.4v2.8h-101.4zM420.8 462.5h10.6v2.8h-10.6zM142.3 465.2h98.7v2.8h-98.7zM420.8 465.2h13.2v2.8h-13.2zM142.3 468.0h98.7v2.8h-98.7zM420.8 468.0h13.2v2.8h-13.2zM142.3 470.8h98.7v2.8h-98.7zM420.8 470.8h18.5v2.8h-18.5zM142.3 473.5h59.1v2.8h-59.1zM420.8 473.5h21.1v2.8h-21.1zM142.3 476.2h56.4v2.8h-56.4zM420.8 476.2h23.8v2.8h-23.8zM142.3 479.0h56.4v2.8h-56.4zM420.8 479.0h23.8v2.8h-23.8zM142.3 481.8h56.4v2.8h-56.4zM420.8 481.8h29.1v2.8h-29.1zM142.3 484.5h56.4v2.8h-56.4zM420.8 484.5h31.7v2.8h-31.7zM142.3 487.2h56.4v17.8h-56.4zM420.8 487.2h31.7v17.8h-31.7z"/>
<path fill="#0000d4" d="M304.5 47.2h2.6v2.8h-2.6zM304.5 50.0h2.6v2.8h-2.6zM304.5 52.8h2.6v2.8h-2.6zM304.5 55.5h2.6v2.8h-2.6zM415.5 55.5h2.6v2.8h-2.6zM299.2 58.2h5.3v2.8h-5.3zM415.5 58.2h2.6v2.8h-2.6zM296.6 61.0h2.6v2.8h-2.6zM410.2 61.0h5.3v2.8h-5.3zM296.6 63.8h2.6v2.8h-2.6zM407.6 63.8h2.6v2.8h-2.6zM293.9 66.5h2.6v2.8h-2.6zM404.9 66.5h2.6v2.8h-2.6zM288.6 69.2h5.3v2.8h-5.3zM404.9 69.2h2.6v2.8h-2.6zM286.0 72.0h2.6v2.8h-2.6zM399.7 72.0h5.3v2.8h-5.3zM286.0 74.8h2.6v2.8h-2.6zM397.0 74.8h2.6v2.8h-2.6zM428.7 77.5h2.6v2.8h-2.6zM423.5 80.2h2.6v2.8h-2.6zM420.8 85.8h2.6v2.8h-2.6zM283.3 88.5h2.6v2.8h-2.6zM278.1 91.2h5.3v2.8h-5.3zM415.5 91.2h5.3v2.8h-5.3zM275.4 94.0h2.6v2.8h-2.6zM412.9 94.0h2.6v2.8h-2.6zM275.4 96.8h2.6v2.8h-2.6zM412.9 96.8h2.6v2.8h-2.6zM272.8 99.5h2.6v2.8h-2.6zM397.0 99.5h10.6v2.8h-10.6zM410.2 99.5h2.6v2.8h-2.6zM267.5 102.2h5.3v2.8h-5.3zM264.8 105.0h2.6v2.8h-2.6zM264.8 107.8h2.6v2.8h-2.6zM254.3 110.5h7.9v2.8h-7.9zM246.3 113.2h5.3v2.8h-5.3zM243.7 116.0h2.6v2.8h-2.6zM243.7 118.8h2.6v2.8h-2.6zM235.8 132.5h5.3v2.8h-5.3zM230.5 138.0h2.6v2.8h-2.6zM230.5 140.8h2.6v2.8h-2.6zM212.0 154.5h2.6v2.8h-2.6zM209.3 157.2h2.6v2.8h-2.6zM190.8 165.5h2.6v2.8h-2.6zM188.2 168.2h2.6v2.8h-2.6z"/>
<path fill="#0088ff" d="M323.0 47.2h5.3v2.8h-5.3zM328.3 50.0h2.6v2.8h-2.6zM320.4 52.8h2.6v2.8h-2.6zM330.9 52.8h2.6v2.8h-2.6zM320.4 55.5h2.6v2.8h-2.6zM333.6 55.5h2.6v2.8h-2.6zM489.6 55.5h10.6v2.8h-10.6zM320.4 58.2h2.6v2.8h-2.6zM333.6 58.2h2.6v2.8h-2.6zM486.9 58.2h5.3v2.8h-5.3zM497.5 58.2h5.3v2.8h-5.3zM320.4 61.0h2.6v2.8h-2.6zM333.6 61.0h2.6v2.8h-2.6zM484.3 61.0h5.3v2.8h-5.3zM500.1 61.0h5.3v2.8h-5.3zM320.4 63.8h2.6v2.8h-2.6zM333.6 63.8h2.6v2.8h-2.6zM484.3 63.8h2.6v2.8h-2.6zM502.8 63.8h2.6v2.8h-2.6zM330.9 66.5h2.6v2.8h-2.6zM479.0 66.5h7.9v2.8h-7.9zM502.8 66.5h2.6v2.8h-2.6zM325.6 69.2h2.6v2.8h-2.6zM476.3 69.2h5.3v2.8h-5.3zM500.1 69.2h5.3v2.8h-5.3zM473.7 72.0h5.3v2.8h-5.3zM497.5 72.0h5.3v2.8h-5.3zM473.7 74.8h2.6v2.8h-2.6zM492.2 74.8h7.9v2.8h-7.9zM457.8 77.5h2.6v2.8h-2.6zM468.4 77.5h7.9v2.8h-7.9zM492.2 77.5h2.6v2.8h-2.6zM492.2 80.2h2.6v2.8h-2.6zM492.2 83.0h2.6v2.8h-2.6zM492.2 85.8h2.6v2.8h-2.6zM492.2 88.5h2.6v2.8h-2.6zM439.3 91.2h2.6v2.8h-2.6zM489.6 91.2h5.3v2.8h-5.3zM436.7 94.0h2.6v2.8h-2.6zM486.9 94.0h5.3v2.8h-5.3zM434.0 96.8h2.6v2.8h-2.6zM473.7 96.8h15.9v2.8h-15.9zM431.4 99.5h2.6v2.8h-2.6zM471.0 99.5h2.6v2.8h-2.6zM428.7 102.2h2.6v2.8h-2.6zM426.1 107.8h2.6v2.8h-2.6zM463.1 107.8h2.6v2.8h-2.6zM426.1 110.5h2.6v2.8h-2.6zM463.1 113.2h2.6v2.8h-2.6zM481.6 113.2h5.3v2.8h-5.3zM465.8 118.8h2.6v2.8h-2.6zM479.0 118.8h2.6v2.8h-2.6zM486.9 118.8h2.6v2.8h-2.6zM468.4 121.5h2.6v2.8h-2.6zM426.1 124.2h2.6v2.8h-2.6zM428.7 127.0h2.6v2.8h-2.6zM489.6 127.0h2.6v2.8h-2.6zM431.4 129.8h10.6v2.8h-10.6zM431.4 132.5h10.6v2.8h-10.6zM489.6 132.5h2.6v2.8h-2.6zM428.7 135.2h2.6v2.8h-2.6zM484.3 135.2h2.6v2.8h-2.6zM254.3 138.0h2.6v2.8h-2.6zM426.1 138.0h2.6v2.8h-2.6zM479.0 138.0h2.6v2.8h-2.6zM473.7 140.8h2.6v2.8h-2.6zM423.5 143.5h2.6v2.8h-2.6zM420.8 146.2h2.6v2.8h-2.6zM473.7 146.2h2.6v2.8h-2.6zM259.5 149.0h2.6v2.8h-2.6zM415.5 149.0h2.6v2.8h-2.6zM235.8 151.8h2.6v2.8h-2.6zM259.5 151.8h2.6v2.8h-2.6zM412.9 151.8h2.6v2.8h-2.6zM476.3 151.8h2.6v2.8h-2.6zM259.5 154.5h2.6v2.8h-2.6zM344.1 154.5h5.3v2.8h-5.3zM407.6 154.5h2.6v2.8h-2.6zM476.3 154.5h2.6v2.8h-2.6zM233.1 157.2h2.6v2.8h-2.6zM259.5 157.2h2.6v2.8h-2.6zM336.2 157.2h5.3v2.8h-5.3zM349.4 157.2h2.6v2.8h-2.6zM402.3 157.2h2.6v2.8h-2.6zM473.7 157.2h2.6v2.8h-2.6zM219.9 160.0h10.6v2.8h-10.6zM328.3 160.0h5.3v2.8h-5.3zM352.1 160.0h2.6v2.8h-2.6zM471.0 160.0h2.6v2.8h-2.6zM325.6 162.8h2.6v2.8h-2.6zM354.7 162.8h2.6v2.8h-2.6zM399.7 162.8h2.6v2.8h-2.6zM465.8 162.8h2.6v2.8h-2.6zM323.0 165.5h2.6v2.8h-2.6zM354.7 165.5h2.6v2.8h-2.6zM397.0 165.5h2.6v2.8h-2.6zM460.5 165.5h2.6v2.8h-2.6zM212.0 168.2h2.6v2.8h-2.6zM320.4 168.2h2.6v2.8h-2.6zM354.7 168.2h2.6v2.8h-2.6zM389.1 168.2h2.6v2.8h-2.6zM460.5 168.2h2.6v2.8h-2.6zM198.7 171.0h10.6v2.8h-10.6zM259.5 171.0h2.6v2.8h-2.6zM317.7 171.0h2.6v2.8h-2.6zM354.7 171.0h2.6v2.8h-2.6zM460.5 171.0h2.6v2.8h-2.6zM259.5 173.8h2.6v2.8h-2.6zM315.1 173.8h2.6v2.8h-2.6zM354.7 173.8h2.6v2.8h-2.6zM460.5 173.8h2.6v2.8h-2.6zM315.1 176.5h2.6v2.8h-2.6zM460.5 176.5h2.6v2.8h-2.6zM190.8 179.2h2.6v2.8h-2.6zM317.7 179.2h2.6v2.8h-2.6zM357.4 179.2h2.6v2.8h-2.6zM383.8 179.2h2.6v2.8h-2.6zM460.5 179.2h2.6v2.8h-2.6zM142.3 182.0h45.9v2.8h-45.9zM320.4 182.0h2.6v2.8h-2.6zM360.0 182.0h2.6v2.8h-2.6zM386.4 182.0h2.6v2.8h-2.6zM460.5 182.0h2.6v2.8h-2.6zM264.8 184.8h2.6v2.8h-2.6zM323.0 184.8h2.6v2.8h-2.6zM362.6 184.8h2.6v2.8h-2.6zM389.1 184.8h2.6v2.8h-2.6zM460.5 184.8h2.6v2.8h-2.6zM264.8 187.5h2.6v2.8h-2.6zM317.7 187.5h2.6v2.8h-2.6zM365.3 187.5h2.6v2.8h-2.6zM460.5 187.5h2.6v2.8h-2.6zM264.8 190.2h2.6v2.8h-2.6zM367.9 190.2h2.6v2.8h-2.6zM391.7 190.2h2.6v2.8h-2.6zM460.5 190.2h2.6v2.8h-2.6zM309.8 193.0h2.6v2.8h-2.6zM370.6 193.0h2.6v2.8h-2.6zM394.4 193.0h2.6v2.8h-2.6zM460.5 193.0h2.6v2.8h-2.6zM370.6 195.8h2.6v2.8h-2.6zM399.7 195.8h2.6v2.8h-2.6zM460.5 195.8h2.6v2.8h-2.6zM370.6 198.5h2.6v2.8h-2.6zM399.7 198.5h2.6v2.8h-2.6zM460.5 198.5h2.6v2.8h-2.6zM264.8 201.2h2.6v2.8h-2.6zM394.4 201.2h2.6v2.8h-2.6zM460.5 201.2h2.6v2.8h-2.6zM264.8 204.0h2.6v2.8h-2.6zM367.9 204.0h2.6v2.8h-2.6zM391.7 204.0h2.6v2.8h-2.6zM460.5 204.0h2.6v2.8h-2.6zM407.6 206.8h5.3v2.8h-5.3zM460.5 206.8h2.6v2.8h-2.6zM206.7 209.5h2.6v2.8h-2.6zM251.6 209.5h2.6v2.8h-2.6zM365.3 209.5h2.6v2.8h-2.6zM391.7 209.5h2.6v2.8h-2.6zM404.9 209.5h2.6v2.8h-2.6zM412.9 209.5h2.6v2.8h-2.6zM460.5 209.5h2.6v2.8h-2.6zM206.7 212.2h2.6v2.8h-2.6zM251.6 212.2h5.3v2.8h-5.3zM264.8 212.2h2.6v2.8h-2.6zM307.1 212.2h2.6v2.8h-2.6zM365.3 212.2h2.6v2.8h-2.6zM394.4 212.2h2.6v2.8h-2.6zM402.3 212.2h2.6v2.8h-2.6zM415.5 212.2h2.6v2.8h-2.6zM460.5 212.2h2.6v2.8h-2.6zM206.7 215.0h2.6v2.8h-2.6zM254.3 215.0h5.3v2.8h-5.3zM262.2 215.0h2.6v2.8h-2.6zM365.3 215.0h2.6v2.8h-2.6zM397.0 215.0h5.3v2.8h-5.3zM418.2 215.0h2.6v2.8h-2.6zM460.5 215.0h2.6v2.8h-2.6zM529.2 215.0h2.6v2.8h-2.6zM198.7 217.8h7.9v2.8h-7.9zM256.9 217.8h5.3v2.8h-5.3zM365.3 217.8h2.6v2.8h-2.6zM420.8 217.8h2.6v2.8h-2.6zM460.5 217.8h2.6v2.8h-2.6zM309.8 220.5h2.6v2.8h-2.6zM365.3 220.5h2.6v2.8h-2.6zM420.8 220.5h2.6v2.8h-2.6zM460.5 220.5h2.6v2.8h-2.6zM521.3 220.5h2.6v2.8h-2.6zM529.2 220.5h2.6v2.8h-2.6zM312.4 223.2h2.6v2.8h-2.6zM365.3 223.2h2.6v2.8h-2.6zM420.8 223.2h2.6v2.8h-2.6zM523.9 223.2h5.3v2.8h-5.3zM315.1 226.0h2.6v2.8h-2.6zM365.3 226.0h2.6v2.8h-2.6zM420.8 226.0h2.6v2.8h-2.6zM317.7 228.8h2.6v2.8h-2.6zM365.3 228.8h2.6v2.8h-2.6zM420.8 228.8h2.6v2.8h-2.6zM320.4 234.2h2.6v2.8h-2.6zM362.6 234.2h2.6v2.8h-2.6zM423.5 234.2h2.6v2.8h-2.6zM323.0 237.0h2.6v2.8h-2.6zM360.0 237.0h2.6v2.8h-2.6zM457.8 237.0h2.6v2.8h-2.6zM354.7 239.8h2.6v2.8h-2.6zM439.3 239.8h5.3v2.8h-5.3zM457.8 239.8h2.6v2.8h-2.6zM354.7 242.5h2.6v2.8h-2.6zM426.1 242.5h2.6v2.8h-2.6zM439.3 242.5h5.3v2.8h-5.3zM323.0 245.2h2.6v2.8h-2.6zM349.4 245.2h5.3v2.8h-5.3zM399.7 245.2h2.6v2.8h-2.6zM418.2 245.2h2.6v2.8h-2.6zM423.5 245.2h2.6v2.8h-2.6zM455.2 245.2h2.6v2.8h-2.6zM320.4 248.0h2.6v2.8h-2.6zM344.1 248.0h2.6v2.8h-2.6zM360.0 248.0h5.3v2.8h-5.3zM370.6 248.0h2.6v2.8h-2.6zM420.8 248.0h2.6v2.8h-2.6zM452.5 248.0h2.6v2.8h-2.6zM317.7 250.8h2.6v2.8h-2.6zM336.2 250.8h2.6v2.8h-2.6zM357.4 250.8h2.6v2.8h-2.6zM373.2 250.8h2.6v2.8h-2.6zM428.7 250.8h5.3v2.8h-5.3zM449.9 250.8h2.6v2.8h-2.6zM317.7 253.5h2.6v2.8h-2.6zM330.9 253.5h2.6v2.8h-2.6zM357.4 253.5h2.6v2.8h-2.6zM373.2 253.5h2.6v2.8h-2.6zM426.1 253.5h7.9v2.8h-7.9zM320.4 256.2h2.6v2.8h-2.6zM328.3 256.2h2.6v2.8h-2.6zM360.0 256.2h5.3v2.8h-5.3zM370.6 256.2h2.6v2.8h-2.6zM399.7 256.2h2.6v2.8h-2.6zM420.8 256.2h7.9v2.8h-7.9zM431.4 256.2h5.3v2.8h-5.3zM447.2 256.2h2.6v2.8h-2.6zM418.2 259.0h2.6v2.8h-2.6zM434.0 259.0h5.3v2.8h-5.3zM444.6 259.0h2.6v2.8h-2.6zM436.7 261.8h5.3v2.8h-5.3zM386.4 267.2h5.3v2.8h-5.3zM391.7 270.0h2.6v2.8h-2.6zM383.8 272.8h2.6v2.8h-2.6zM394.4 272.8h2.6v2.8h-2.6zM394.4 275.5h5.3v2.8h-5.3zM389.1 278.2h7.9v2.8h-7.9zM423.5 281.0h5.3v2.8h-5.3zM428.7 283.8h2.6v2.8h-2.6zM428.7 286.5h2.6v2.8h-2.6zM415.5 289.2h2.6v2.8h-2.6zM426.1 289.2h5.3v2.8h-5.3zM418.2 292.0h2.6v2.8h-2.6zM423.5 292.0h5.3v2.8h-5.3zM420.8 294.8h5.3v2.8h-5.3zM420.8 297.5h2.6v2.8h-2.6zM386.4 300.2h15.9v2.8h-15.9zM418.2 300.2h2.6v2.8h-2.6zM423.5 300.2h2.6v2.8h-2.6zM415.5 303.0h2.6v2.8h-2.6zM423.5 303.0h2.6v2.8h-2.6zM381.2 305.8h2.6v2.8h-2.6zM404.9 305.8h2.6v2.8h-2.6zM415.5 305.8h2.6v2.8h-2.6zM404.9 308.5h2.6v2.8h-2.6zM415.5 308.5h2.6v2.8h-2.6zM354.7 311.2h5.3v2.8h-5.3zM415.5 311.2h2.6v2.8h-2.6zM378.5 314.0h2.6v2.8h-2.6zM360.0 316.8h2.6v2.8h-2.6zM352.1 322.2h2.6v2.8h-2.6zM418.2 322.2h2.6v2.8h-2.6zM378.5 325.0h2.6v2.8h-2.6zM410.2 325.0h5.3v2.8h-5.3zM420.8 325.0h2.6v2.8h-2.6zM362.6 327.8h2.6v2.8h-2.6zM378.5 327.8h2.6v2.8h-2.6zM362.6 330.5h2.6v2.8h-2.6zM423.5 330.5h2.6v2.8h-2.6zM354.7 336.0h2.6v2.8h-2.6zM436.7 336.0h2.6v2.8h-2.6zM383.8 338.8h2.6v2.8h-2.6zM436.7 338.8h2.6v2.8h-2.6zM386.4 341.5h2.6v2.8h-2.6zM412.9 341.5h2.6v2.8h-2.6zM383.8 344.2h2.6v2.8h-2.6zM410.2 344.2h2.6v2.8h-2.6zM352.1 347.0h2.6v2.8h-2.6zM423.5 347.0h2.6v2.8h-2.6zM354.7 349.8h2.6v2.8h-2.6zM381.2 349.8h2.6v2.8h-2.6zM415.5 352.5h2.6v2.8h-2.6zM352.1 355.2h2.6v2.8h-2.6zM412.9 355.2h2.6v2.8h-2.6zM434.0 355.2h2.6v2.8h-2.6zM338.9 358.0h2.6v2.8h-2.6zM349.4 358.0h2.6v2.8h-2.6zM431.4 358.0h2.6v2.8h-2.6zM410.2 363.5h2.6v2.8h-2.6zM428.7 369.0h2.6v2.8h-2.6zM341.5 371.8h2.6v2.8h-2.6zM349.4 377.2h2.6v2.8h-2.6zM404.9 377.2h2.6v2.8h-2.6zM394.4 380.0h2.6v2.8h-2.6zM383.8 388.2h2.6v2.8h-2.6zM354.7 391.0h2.6v2.8h-2.6zM336.2 393.8h5.3v2.8h-5.3zM330.9 396.5h2.6v2.8h-2.6zM426.1 396.5h2.6v2.8h-2.6zM354.7 399.2h5.3v2.8h-5.3zM399.7 402.0h2.6v2.8h-2.6zM420.8 402.0h2.6v2.8h-2.6zM352.1 404.8h2.6v2.8h-2.6zM360.0 404.8h2.6v2.8h-2.6zM399.7 404.8h2.6v2.8h-2.6zM360.0 407.5h2.6v2.8h-2.6zM399.7 407.5h2.6v2.8h-2.6zM418.2 407.5h2.6v2.8h-2.6zM360.0 410.2h2.6v2.8h-2.6zM399.7 410.2h2.6v2.8h-2.6zM360.0 413.0h2.6v2.8h-2.6zM397.0 421.2h2.6v2.8h-2.6zM336.2 424.0h2.6v2.8h-2.6zM354.7 424.0h2.6v2.8h-2.6zM402.3 432.2h2.6v2.8h-2.6zM336.2 435.0h2.6v2.8h-2.6zM341.5 459.8h2.6v2.8h-2.6zM288.6 462.5h2.6v2.8h-2.6zM344.1 462.5h2.6v2.8h-2.6zM341.5 476.2h2.6v2.8h-2.6z"/>
<path fill="#0095ff" d="M323.0 50.0h2.6v2.8h-2.6zM330.9 55.5h2.6v2.8h-2.6zM330.9 58.2h2.6v2.8h-2.6zM492.2 58.2h5.3v2.8h-5.3zM330.9 61.0h2.6v2.8h-2.6zM489.6 61.0h2.6v2.8h-2.6zM497.5 61.0h2.6v2.8h-2.6zM330.9 63.8h2.6v2.8h-2.6zM486.9 63.8h2.6v2.8h-2.6zM500.1 63.8h2.6v2.8h-2.6zM328.3 66.5h2.6v2.8h-2.6zM486.9 66.5h2.6v2.8h-2.6zM500.1 66.5h2.6v2.8h-2.6zM481.6 69.2h7.9v2.8h-7.9zM497.5 69.2h2.6v2.8h-2.6zM479.0 72.0h2.6v2.8h-2.6zM489.6 72.0h7.9v2.8h-7.9zM476.3 74.8h2.6v2.8h-2.6zM489.6 74.8h2.6v2.8h-2.6zM460.5 77.5h7.9v2.8h-7.9zM476.3 77.5h2.6v2.8h-2.6zM489.6 77.5h2.6v2.8h-2.6zM452.5 80.2h2.6v2.8h-2.6zM471.0 80.2h5.3v2.8h-5.3zM489.6 80.2h2.6v2.8h-2.6zM447.2 83.0h2.6v2.8h-2.6zM489.6 83.0h2.6v2.8h-2.6zM489.6 85.8h2.6v2.8h-2.6zM442.0 88.5h2.6v2.8h-2.6zM489.6 88.5h2.6v2.8h-2.6zM486.9 91.2h2.6v2.8h-2.6zM473.7 94.0h13.2v2.8h-13.2zM471.0 96.8h2.6v2.8h-2.6zM468.4 102.2h2.6v2.8h-2.6zM428.7 105.0h2.6v2.8h-2.6zM465.8 105.0h2.6v2.8h-2.6zM460.5 107.8h2.6v2.8h-2.6zM460.5 110.5h2.6v2.8h-2.6zM426.1 113.2h2.6v2.8h-2.6zM426.1 116.0h2.6v2.8h-2.6zM463.1 116.0h2.6v2.8h-2.6zM481.6 116.0h5.3v2.8h-5.3zM426.1 118.8h2.6v2.8h-2.6zM426.1 121.5h2.6v2.8h-2.6zM479.0 121.5h2.6v2.8h-2.6zM486.9 121.5h2.6v2.8h-2.6zM428.7 124.2h2.6v2.8h-2.6zM471.0 124.2h5.3v2.8h-5.3zM486.9 124.2h2.6v2.8h-2.6zM431.4 127.0h2.6v2.8h-2.6zM486.9 127.0h2.6v2.8h-2.6zM442.0 129.8h2.6v2.8h-2.6zM489.6 129.8h2.6v2.8h-2.6zM442.0 132.5h2.6v2.8h-2.6zM486.9 132.5h2.6v2.8h-2.6zM431.4 135.2h5.3v2.8h-5.3zM481.6 135.2h2.6v2.8h-2.6zM249.0 138.0h2.6v2.8h-2.6zM428.7 138.0h2.6v2.8h-2.6zM476.3 138.0h2.6v2.8h-2.6zM243.7 140.8h2.6v2.8h-2.6zM256.9 140.8h2.6v2.8h-2.6zM426.1 140.8h2.6v2.8h-2.6zM238.4 146.2h2.6v2.8h-2.6zM418.2 149.0h2.6v2.8h-2.6zM473.7 149.0h2.6v2.8h-2.6zM415.5 151.8h2.6v2.8h-2.6zM410.2 154.5h2.6v2.8h-2.6zM341.5 157.2h2.6v2.8h-2.6zM404.9 157.2h2.6v2.8h-2.6zM333.6 160.0h2.6v2.8h-2.6zM402.3 160.0h2.6v2.8h-2.6zM468.4 160.0h2.6v2.8h-2.6zM328.3 162.8h2.6v2.8h-2.6zM463.1 162.8h2.6v2.8h-2.6zM325.6 165.5h2.6v2.8h-2.6zM323.0 168.2h2.6v2.8h-2.6zM391.7 168.2h2.6v2.8h-2.6zM386.4 171.0h2.6v2.8h-2.6zM317.7 173.8h2.6v2.8h-2.6zM383.8 173.8h2.6v2.8h-2.6zM457.8 173.8h2.6v2.8h-2.6zM259.5 176.5h2.6v2.8h-2.6zM354.7 176.5h2.6v2.8h-2.6zM383.8 176.5h2.6v2.8h-2.6zM457.8 176.5h2.6v2.8h-2.6zM262.2 179.2h2.6v2.8h-2.6zM386.4 179.2h2.6v2.8h-2.6zM457.8 179.2h2.6v2.8h-2.6zM457.8 182.0h2.6v2.8h-2.6zM325.6 184.8h2.6v2.8h-2.6zM457.8 184.8h2.6v2.8h-2.6zM320.4 187.5h2.6v2.8h-2.6zM391.7 187.5h2.6v2.8h-2.6zM457.8 187.5h2.6v2.8h-2.6zM312.4 190.2h2.6v2.8h-2.6zM394.4 190.2h2.6v2.8h-2.6zM457.8 190.2h2.6v2.8h-2.6zM367.9 193.0h2.6v2.8h-2.6zM397.0 193.0h5.3v2.8h-5.3zM457.8 193.0h2.6v2.8h-2.6zM402.3 195.8h2.6v2.8h-2.6zM457.8 195.8h2.6v2.8h-2.6zM307.1 198.5h2.6v2.8h-2.6zM402.3 198.5h2.6v2.8h-2.6zM457.8 198.5h2.6v2.8h-2.6zM307.1 201.2h2.6v2.8h-2.6zM367.9 201.2h2.6v2.8h-2.6zM397.0 201.2h7.9v2.8h-7.9zM307.1 204.0h2.6v2.8h-2.6zM394.4 204.0h2.6v2.8h-2.6zM404.9 204.0h5.3v2.8h-5.3zM209.3 206.8h44.9v2.8h-44.9zM264.8 206.8h2.6v2.8h-2.6zM365.3 206.8h2.6v2.8h-2.6zM391.7 206.8h2.6v2.8h-2.6zM404.9 206.8h2.6v2.8h-2.6zM254.3 209.5h2.6v2.8h-2.6zM264.8 209.5h2.6v2.8h-2.6zM307.1 209.5h2.6v2.8h-2.6zM256.9 212.2h2.6v2.8h-2.6zM262.2 212.2h2.6v2.8h-2.6zM204.0 215.0h2.6v2.8h-2.6zM259.5 215.0h2.6v2.8h-2.6zM523.9 215.0h5.3v2.8h-5.3zM142.3 217.8h56.4v2.8h-56.4zM309.8 217.8h2.6v2.8h-2.6zM362.6 217.8h2.6v2.8h-2.6zM457.8 217.8h2.6v2.8h-2.6zM521.3 217.8h2.6v2.8h-2.6zM529.2 217.8h2.6v2.8h-2.6zM362.6 220.5h2.6v2.8h-2.6zM423.5 220.5h2.6v2.8h-2.6zM457.8 220.5h2.6v2.8h-2.6zM362.6 223.2h2.6v2.8h-2.6zM423.5 223.2h2.6v2.8h-2.6zM457.8 223.2h2.6v2.8h-2.6zM362.6 226.0h2.6v2.8h-2.6zM423.5 226.0h2.6v2.8h-2.6zM457.8 226.0h2.6v2.8h-2.6zM362.6 228.8h2.6v2.8h-2.6zM423.5 228.8h2.6v2.8h-2.6zM320.4 231.5h2.6v2.8h-2.6zM362.6 231.5h2.6v2.8h-2.6zM423.5 231.5h2.6v2.8h-2.6zM323.0 234.2h2.6v2.8h-2.6zM360.0 234.2h2.6v2.8h-2.6zM426.1 234.2h2.6v2.8h-2.6zM457.8 234.2h2.6v2.8h-2.6zM357.4 237.0h2.6v2.8h-2.6zM426.1 237.0h2.6v2.8h-2.6zM439.3 237.0h2.6v2.8h-2.6zM325.6 239.8h2.6v2.8h-2.6zM426.1 239.8h2.6v2.8h-2.6zM436.7 239.8h2.6v2.8h-2.6zM325.6 242.5h2.6v2.8h-2.6zM352.1 242.5h2.6v2.8h-2.6zM436.7 242.5h2.6v2.8h-2.6zM444.6 242.5h2.6v2.8h-2.6zM455.2 242.5h2.6v2.8h-2.6zM346.8 245.2h2.6v2.8h-2.6zM426.1 245.2h2.6v2.8h-2.6zM436.7 245.2h10.6v2.8h-10.6zM452.5 245.2h2.6v2.8h-2.6zM341.5 248.0h2.6v2.8h-2.6zM365.3 248.0h5.3v2.8h-5.3zM399.7 248.0h2.6v2.8h-2.6zM423.5 248.0h13.2v2.8h-13.2zM447.2 248.0h5.3v2.8h-5.3zM333.6 250.8h2.6v2.8h-2.6zM360.0 250.8h2.6v2.8h-2.6zM370.6 250.8h2.6v2.8h-2.6zM426.1 250.8h2.6v2.8h-2.6zM434.0 250.8h2.6v2.8h-2.6zM447.2 250.8h2.6v2.8h-2.6zM320.4 253.5h2.6v2.8h-2.6zM328.3 253.5h2.6v2.8h-2.6zM360.0 253.5h2.6v2.8h-2.6zM370.6 253.5h2.6v2.8h-2.6zM423.5 253.5h2.6v2.8h-2.6zM434.0 253.5h2.6v2.8h-2.6zM447.2 253.5h2.6v2.8h-2.6zM323.0 256.2h5.3v2.8h-5.3zM365.3 256.2h5.3v2.8h-5.3zM436.7 256.2h2.6v2.8h-2.6zM444.6 256.2h2.6v2.8h-2.6zM439.3 259.0h5.3v2.8h-5.3zM386.4 270.0h2.6v2.8h-2.6zM391.7 275.5h2.6v2.8h-2.6zM418.2 281.0h5.3v2.8h-5.3zM415.5 283.8h2.6v2.8h-2.6zM426.1 283.8h2.6v2.8h-2.6zM415.5 286.5h2.6v2.8h-2.6zM426.1 286.5h2.6v2.8h-2.6zM418.2 289.2h2.6v2.8h-2.6zM423.5 289.2h2.6v2.8h-2.6zM420.8 292.0h2.6v2.8h-2.6zM420.8 300.2h2.6v2.8h-2.6zM383.8 303.0h2.6v2.8h-2.6zM402.3 303.0h2.6v2.8h-2.6zM418.2 303.0h2.6v2.8h-2.6zM423.5 305.8h2.6v2.8h-2.6zM426.1 308.5h2.6v2.8h-2.6zM431.4 311.2h2.6v2.8h-2.6zM354.7 314.0h5.3v2.8h-5.3zM378.5 316.8h2.6v2.8h-2.6zM436.7 316.8h2.6v2.8h-2.6zM360.0 319.5h2.6v2.8h-2.6zM378.5 319.5h2.6v2.8h-2.6zM418.2 319.5h2.6v2.8h-2.6zM378.5 322.2h2.6v2.8h-2.6zM404.9 322.2h2.6v2.8h-2.6zM352.1 325.0h2.6v2.8h-2.6zM407.6 325.0h2.6v2.8h-2.6zM412.9 327.8h2.6v2.8h-2.6zM423.5 327.8h2.6v2.8h-2.6zM352.1 330.5h2.6v2.8h-2.6zM360.0 333.2h2.6v2.8h-2.6zM436.7 333.2h2.6v2.8h-2.6zM357.4 336.0h2.6v2.8h-2.6zM381.2 336.0h2.6v2.8h-2.6zM412.9 336.0h2.6v2.8h-2.6zM412.9 338.8h2.6v2.8h-2.6zM426.1 338.8h2.6v2.8h-2.6zM426.1 341.5h2.6v2.8h-2.6zM434.0 341.5h2.6v2.8h-2.6zM407.6 344.2h2.6v2.8h-2.6zM426.1 344.2h2.6v2.8h-2.6zM434.0 344.2h2.6v2.8h-2.6zM344.1 347.0h2.6v2.8h-2.6zM349.4 347.0h2.6v2.8h-2.6zM404.9 347.0h2.6v2.8h-2.6zM426.1 347.0h2.6v2.8h-2.6zM434.0 347.0h2.6v2.8h-2.6zM341.5 349.8h2.6v2.8h-2.6zM402.3 349.8h2.6v2.8h-2.6zM423.5 349.8h2.6v2.8h-2.6zM434.0 349.8h2.6v2.8h-2.6zM381.2 352.5h2.6v2.8h-2.6zM399.7 352.5h2.6v2.8h-2.6zM434.0 352.5h2.6v2.8h-2.6zM397.0 355.2h2.6v2.8h-2.6zM431.4 355.2h2.6v2.8h-2.6zM333.6 360.8h2.6v2.8h-2.6zM341.5 360.8h5.3v2.8h-5.3zM330.9 363.5h2.6v2.8h-2.6zM341.5 363.5h2.6v2.8h-2.6zM323.0 366.2h2.6v2.8h-2.6zM341.5 366.2h2.6v2.8h-2.6zM410.2 366.2h2.6v2.8h-2.6zM428.7 366.2h2.6v2.8h-2.6zM341.5 369.0h2.6v2.8h-2.6zM317.7 371.8h2.6v2.8h-2.6zM407.6 371.8h2.6v2.8h-2.6zM404.9 380.0h2.6v2.8h-2.6zM354.7 382.8h2.6v2.8h-2.6zM381.2 382.8h2.6v2.8h-2.6zM391.7 385.5h2.6v2.8h-2.6zM317.7 388.2h2.6v2.8h-2.6zM354.7 388.2h2.6v2.8h-2.6zM386.4 388.2h5.3v2.8h-5.3zM402.3 388.2h2.6v2.8h-2.6zM352.1 391.0h2.6v2.8h-2.6zM320.4 393.8h2.6v2.8h-2.6zM333.6 393.8h2.6v2.8h-2.6zM426.1 393.8h2.6v2.8h-2.6zM323.0 396.5h2.6v2.8h-2.6zM328.3 396.5h2.6v2.8h-2.6zM423.5 399.2h2.6v2.8h-2.6zM354.7 402.0h5.3v2.8h-5.3zM349.4 407.5h2.6v2.8h-2.6zM338.9 413.0h2.6v2.8h-2.6zM360.0 415.8h2.6v2.8h-2.6zM399.7 421.2h2.6v2.8h-2.6zM412.9 421.2h2.6v2.8h-2.6zM336.2 426.8h2.6v2.8h-2.6zM394.4 426.8h2.6v2.8h-2.6zM407.6 426.8h2.6v2.8h-2.6zM352.1 429.5h2.6v2.8h-2.6zM394.4 429.5h2.6v2.8h-2.6zM404.9 429.5h2.6v2.8h-2.6zM336.2 432.2h2.6v2.8h-2.6zM397.0 432.2h2.6v2.8h-2.6zM338.9 435.0h2.6v2.8h-2.6zM346.8 435.0h2.6v2.8h-2.6zM291.3 459.8h2.6v2.8h-2.6zM338.9 459.8h2.6v2.8h-2.6zM341.5 462.5h2.6v2.8h-2.6zM286.0 465.2h2.6v2.8h-2.6zM341.5 465.2h2.6v2.8h-2.6zM249.0 468.0h2.6v2.8h-2.6zM341.5 468.0h2.6v2.8h-2.6zM246.3 470.8h2.6v2.8h-2.6zM341.5 473.5h2.6v2.8h-2.6zM206.7 479.0h2.6v2.8h-2.6zM204.0 481.8h2.6v2.8h-2.6z"/>
<path fill="#00a2ff" d="M325.6 50.0h2.6v2.8h-2.6zM323.0 52.8h2.6v2.8h-2.6zM328.3 52.8h2.6v2.8h-2.6zM328.3 55.5h2.6v2.8h-2.6zM328.3 58.2h2.6v2.8h-2.6zM328.3 61.0h2.6v2.8h-2.6zM492.2 61.0h5.3v2.8h-5.3zM328.3 63.8h2.6v2.8h-2.6zM489.6 63.8h2.6v2.8h-2.6zM497.5 63.8h2.6v2.8h-2.6zM323.0 66.5h5.3v2.8h-5.3zM489.6 66.5h2.6v2.8h-2.6zM497.5 66.5h2.6v2.8h-2.6zM489.6 69.2h7.9v2.8h-7.9zM481.6 72.0h7.9v2.8h-7.9zM479.0 74.8h2.6v2.8h-2.6zM486.9 74.8h2.6v2.8h-2.6zM479.0 77.5h2.6v2.8h-2.6zM486.9 77.5h2.6v2.8h-2.6zM455.2 80.2h2.6v2.8h-2.6zM476.3 80.2h2.6v2.8h-2.6zM486.9 80.2h2.6v2.8h-2.6zM473.7 83.0h2.6v2.8h-2.6zM486.9 83.0h2.6v2.8h-2.6zM444.6 85.8h2.6v2.8h-2.6zM486.9 85.8h2.6v2.8h-2.6zM486.9 88.5h2.6v2.8h-2.6zM442.0 91.2h2.6v2.8h-2.6zM473.7 91.2h13.2v2.8h-13.2zM439.3 94.0h2.6v2.8h-2.6zM471.0 94.0h2.6v2.8h-2.6zM436.7 96.8h2.6v2.8h-2.6zM434.0 99.5h2.6v2.8h-2.6zM468.4 99.5h2.6v2.8h-2.6zM431.4 102.2h2.6v2.8h-2.6zM463.1 105.0h2.6v2.8h-2.6zM428.7 107.8h2.6v2.8h-2.6zM457.8 107.8h2.6v2.8h-2.6zM457.8 110.5h2.6v2.8h-2.6zM460.5 113.2h2.6v2.8h-2.6zM463.1 118.8h2.6v2.8h-2.6zM481.6 118.8h5.3v2.8h-5.3zM428.7 121.5h2.6v2.8h-2.6zM465.8 121.5h2.6v2.8h-2.6zM476.3 124.2h2.6v2.8h-2.6zM434.0 127.0h5.3v2.8h-5.3zM486.9 129.8h2.6v2.8h-2.6zM444.6 132.5h2.6v2.8h-2.6zM484.3 132.5h2.6v2.8h-2.6zM436.7 135.2h5.3v2.8h-5.3zM479.0 135.2h2.6v2.8h-2.6zM251.6 138.0h2.6v2.8h-2.6zM431.4 138.0h2.6v2.8h-2.6zM428.7 140.8h2.6v2.8h-2.6zM241.0 143.5h2.6v2.8h-2.6zM256.9 143.5h2.6v2.8h-2.6zM426.1 143.5h2.6v2.8h-2.6zM256.9 146.2h2.6v2.8h-2.6zM423.5 146.2h2.6v2.8h-2.6zM420.8 149.0h2.6v2.8h-2.6zM418.2 151.8h2.6v2.8h-2.6zM473.7 151.8h2.6v2.8h-2.6zM235.8 154.5h2.6v2.8h-2.6zM412.9 154.5h2.6v2.8h-2.6zM473.7 154.5h2.6v2.8h-2.6zM344.1 157.2h5.3v2.8h-5.3zM471.0 157.2h2.6v2.8h-2.6zM230.5 160.0h2.6v2.8h-2.6zM256.9 160.0h2.6v2.8h-2.6zM336.2 160.0h5.3v2.8h-5.3zM349.4 160.0h2.6v2.8h-2.6zM256.9 162.8h2.6v2.8h-2.6zM330.9 162.8h5.3v2.8h-5.3zM352.1 162.8h2.6v2.8h-2.6zM460.5 162.8h2.6v2.8h-2.6zM214.6 165.5h2.6v2.8h-2.6zM256.9 165.5h2.6v2.8h-2.6zM328.3 165.5h5.3v2.8h-5.3zM352.1 165.5h2.6v2.8h-2.6zM399.7 165.5h2.6v2.8h-2.6zM256.9 168.2h2.6v2.8h-2.6zM325.6 168.2h2.6v2.8h-2.6zM394.4 168.2h2.6v2.8h-2.6zM457.8 168.2h2.6v2.8h-2.6zM209.3 171.0h2.6v2.8h-2.6zM320.4 171.0h2.6v2.8h-2.6zM389.1 171.0h2.6v2.8h-2.6zM457.8 171.0h2.6v2.8h-2.6zM386.4 173.8h2.6v2.8h-2.6zM193.5 176.5h2.6v2.8h-2.6zM317.7 176.5h2.6v2.8h-2.6zM386.4 176.5h2.6v2.8h-2.6zM455.2 176.5h2.6v2.8h-2.6zM320.4 179.2h2.6v2.8h-2.6zM354.7 179.2h2.6v2.8h-2.6zM455.2 179.2h2.6v2.8h-2.6zM188.2 182.0h2.6v2.8h-2.6zM262.2 182.0h2.6v2.8h-2.6zM323.0 182.0h5.3v2.8h-5.3zM357.4 182.0h2.6v2.8h-2.6zM389.1 182.0h2.6v2.8h-2.6zM455.2 182.0h2.6v2.8h-2.6zM328.3 184.8h5.3v2.8h-5.3zM360.0 184.8h2.6v2.8h-2.6zM391.7 184.8h2.6v2.8h-2.6zM455.2 184.8h2.6v2.8h-2.6zM323.0 187.5h5.3v2.8h-5.3zM362.6 187.5h2.6v2.8h-2.6zM394.4 187.5h2.6v2.8h-2.6zM455.2 187.5h2.6v2.8h-2.6zM365.3 190.2h2.6v2.8h-2.6zM397.0 190.2h2.6v2.8h-2.6zM455.2 190.2h2.6v2.8h-2.6zM402.3 193.0h2.6v2.8h-2.6zM455.2 193.0h2.6v2.8h-2.6zM262.2 195.8h2.6v2.8h-2.6zM367.9 195.8h2.6v2.8h-2.6zM455.2 195.8h2.6v2.8h-2.6zM262.2 198.5h2.6v2.8h-2.6zM367.9 198.5h2.6v2.8h-2.6zM404.9 198.5h2.6v2.8h-2.6zM262.2 201.2h2.6v2.8h-2.6zM404.9 201.2h5.3v2.8h-5.3zM457.8 201.2h2.6v2.8h-2.6zM365.3 204.0h2.6v2.8h-2.6zM397.0 204.0h7.9v2.8h-7.9zM410.2 204.0h2.6v2.8h-2.6zM457.8 204.0h2.6v2.8h-2.6zM206.7 206.8h2.6v2.8h-2.6zM254.3 206.8h2.6v2.8h-2.6zM307.1 206.8h2.6v2.8h-2.6zM394.4 206.8h2.6v2.8h-2.6zM402.3 206.8h2.6v2.8h-2.6zM412.9 206.8h2.6v2.8h-2.6zM256.9 209.5h2.6v2.8h-2.6zM262.2 209.5h2.6v2.8h-2.6zM394.4 209.5h2.6v2.8h-2.6zM402.3 209.5h2.6v2.8h-2.6zM415.5 209.5h2.6v2.8h-2.6zM204.0 212.2h2.6v2.8h-2.6zM259.5 212.2h2.6v2.8h-2.6zM362.6 212.2h2.6v2.8h-2.6zM397.0 212.2h5.3v2.8h-5.3zM418.2 212.2h2.6v2.8h-2.6zM457.8 212.2h2.6v2.8h-2.6zM201.4 215.0h2.6v2.8h-2.6zM309.8 215.0h2.6v2.8h-2.6zM362.6 215.0h2.6v2.8h-2.6zM420.8 215.0h2.6v2.8h-2.6zM457.8 215.0h2.6v2.8h-2.6zM423.5 217.8h2.6v2.8h-2.6zM523.9 217.8h5.3v2.8h-5.3zM312.4 220.5h2.6v2.8h-2.6zM360.0 220.5h2.6v2.8h-2.6zM426.1 220.5h2.6v2.8h-2.6zM455.2 220.5h2.6v2.8h-2.6zM523.9 220.5h5.3v2.8h-5.3zM315.1 223.2h2.6v2.8h-2.6zM360.0 223.2h2.6v2.8h-2.6zM426.1 223.2h2.6v2.8h-2.6zM317.7 226.0h2.6v2.8h-2.6zM360.0 226.0h2.6v2.8h-2.6zM426.1 226.0h2.6v2.8h-2.6zM320.4 228.8h2.6v2.8h-2.6zM360.0 228.8h2.6v2.8h-2.6zM426.1 228.8h2.6v2.8h-2.6zM457.8 228.8h2.6v2.8h-2.6zM323.0 231.5h2.6v2.8h-2.6zM360.0 231.5h2.6v2.8h-2.6zM426.1 231.5h2.6v2.8h-2.6zM457.8 231.5h2.6v2.8h-2.6zM357.4 234.2h2.6v2.8h-2.6zM439.3 234.2h2.6v2.8h-2.6zM354.7 237.0h2.6v2.8h-2.6zM436.7 237.0h2.6v2.8h-2.6zM442.0 237.0h2.6v2.8h-2.6zM352.1 239.8h2.6v2.8h-2.6zM434.0 239.8h2.6v2.8h-2.6zM444.6 239.8h2.6v2.8h-2.6zM455.2 239.8h2.6v2.8h-2.6zM346.8 242.5h5.3v2.8h-5.3zM428.7 242.5h2.6v2.8h-2.6zM434.0 242.5h2.6v2.8h-2.6zM447.2 242.5h2.6v2.8h-2.6zM452.5 242.5h2.6v2.8h-2.6zM325.6 245.2h2.6v2.8h-2.6zM344.1 245.2h2.6v2.8h-2.6zM428.7 245.2h7.9v2.8h-7.9zM447.2 245.2h5.3v2.8h-5.3zM323.0 248.0h5.3v2.8h-5.3zM338.9 248.0h2.6v2.8h-2.6zM436.7 248.0h10.6v2.8h-10.6zM320.4 250.8h2.6v2.8h-2.6zM328.3 250.8h5.3v2.8h-5.3zM362.6 250.8h7.9v2.8h-7.9zM420.8 250.8h5.3v2.8h-5.3zM436.7 250.8h2.6v2.8h-2.6zM444.6 250.8h2.6v2.8h-2.6zM323.0 253.5h5.3v2.8h-5.3zM362.6 253.5h7.9v2.8h-7.9zM399.7 253.5h2.6v2.8h-2.6zM420.8 253.5h2.6v2.8h-2.6zM436.7 253.5h2.6v2.8h-2.6zM444.6 253.5h2.6v2.8h-2.6zM439.3 256.2h5.3v2.8h-5.3zM402.3 259.0h2.6v2.8h-2.6zM389.1 270.0h2.6v2.8h-2.6zM386.4 272.8h2.6v2.8h-2.6zM391.7 272.8h2.6v2.8h-2.6zM386.4 275.5h5.3v2.8h-5.3zM418.2 283.8h7.9v2.8h-7.9zM418.2 286.5h2.6v2.8h-2.6zM423.5 286.5h2.6v2.8h-2.6zM420.8 289.2h2.6v2.8h-2.6zM420.8 303.0h2.6v2.8h-2.6zM418.2 305.8h5.3v2.8h-5.3zM381.2 308.5h2.6v2.8h-2.6zM423.5 308.5h2.6v2.8h-2.6zM418.2 311.2h2.6v2.8h-2.6zM428.7 311.2h2.6v2.8h-2.6zM418.2 314.0h2.6v2.8h-2.6zM434.0 314.0h2.6v2.8h-2.6zM354.7 316.8h5.3v2.8h-5.3zM418.2 316.8h2.6v2.8h-2.6zM436.7 319.5h2.6v2.8h-2.6zM360.0 322.2h2.6v2.8h-2.6zM420.8 322.2h2.6v2.8h-2.6zM436.7 322.2h2.6v2.8h-2.6zM436.7 325.0h2.6v2.8h-2.6zM352.1 327.8h2.6v2.8h-2.6zM436.7 327.8h2.6v2.8h-2.6zM412.9 330.5h2.6v2.8h-2.6zM436.7 330.5h2.6v2.8h-2.6zM412.9 333.2h2.6v2.8h-2.6zM426.1 336.0h2.6v2.8h-2.6zM386.4 338.8h2.6v2.8h-2.6zM434.0 338.8h2.6v2.8h-2.6zM389.1 341.5h2.6v2.8h-2.6zM410.2 341.5h2.6v2.8h-2.6zM386.4 344.2h2.6v2.8h-2.6zM346.8 347.0h2.6v2.8h-2.6zM383.8 347.0h2.6v2.8h-2.6zM352.1 349.8h2.6v2.8h-2.6zM426.1 349.8h2.6v2.8h-2.6zM341.5 352.5h2.6v2.8h-2.6zM352.1 352.5h2.6v2.8h-2.6zM418.2 352.5h2.6v2.8h-2.6zM431.4 352.5h2.6v2.8h-2.6zM341.5 355.2h2.6v2.8h-2.6zM349.4 355.2h2.6v2.8h-2.6zM341.5 358.0h2.6v2.8h-2.6zM346.8 358.0h2.6v2.8h-2.6zM336.2 360.8h5.3v2.8h-5.3zM338.9 363.5h2.6v2.8h-2.6zM428.7 363.5h2.6v2.8h-2.6zM341.5 374.5h2.6v2.8h-2.6zM394.4 377.2h2.6v2.8h-2.6zM352.1 380.0h2.6v2.8h-2.6zM404.9 382.8h2.6v2.8h-2.6zM354.7 385.5h2.6v2.8h-2.6zM325.6 396.5h2.6v2.8h-2.6zM354.7 404.8h5.3v2.8h-5.3zM418.2 404.8h2.6v2.8h-2.6zM352.1 407.5h2.6v2.8h-2.6zM341.5 410.2h2.6v2.8h-2.6zM415.5 415.8h2.6v2.8h-2.6zM402.3 418.5h2.6v2.8h-2.6zM397.0 424.0h2.6v2.8h-2.6zM410.2 424.0h2.6v2.8h-2.6zM404.9 426.8h2.6v2.8h-2.6zM336.2 429.5h2.6v2.8h-2.6zM399.7 432.2h2.6v2.8h-2.6zM341.5 435.0h2.6v2.8h-2.6zM293.9 459.8h44.9v2.8h-44.9zM338.9 462.5h2.6v2.8h-2.6zM251.6 468.0h31.7v2.8h-31.7zM341.5 470.8h2.6v2.8h-2.6zM243.7 476.2h2.6v2.8h-2.6zM209.3 479.0h31.7v2.8h-31.7zM204.0 484.5h2.6v2.8h-2.6zM338.9 484.5h2.6v2.8h-2.6zM204.0 487.2h2.6v17.8h-2.6zM338.9 487.2h2.6v17.8h-2.6z"/>
<path fill="#00aeff" d="M325.6 52.8h2.6v2.8h-2.6zM323.0 55.5h5.3v2.8h-5.3zM323.0 58.2h5.3v2.8h-5.3zM323.0 61.0h5.3v2.8h-5.3zM323.0 63.8h5.3v2.8h-5.3zM492.2 63.8h5.3v2.8h-5.3zM492.2 66.5h5.3v2.8h-5.3zM481.6 74.8h5.3v2.8h-5.3zM481.6 77.5h5.3v2.8h-5.3zM468.4 80.2h2.6v2.8h-2.6zM479.0 80.2h7.9v2.8h-7.9zM449.9 83.0h2.6v2.8h-2.6zM471.0 83.0h2.6v2.8h-2.6zM476.3 83.0h5.3v2.8h-5.3zM484.3 83.0h2.6v2.8h-2.6zM473.7 85.8h5.3v2.8h-5.3zM484.3 85.8h2.6v2.8h-2.6zM473.7 88.5h13.2v2.8h-13.2zM442.0 94.0h2.6v2.8h-2.6zM439.3 96.8h2.6v2.8h-2.6zM436.7 99.5h2.6v2.8h-2.6zM434.0 102.2h2.6v2.8h-2.6zM465.8 102.2h2.6v2.8h-2.6zM431.4 105.0h2.6v2.8h-2.6zM455.2 107.8h2.6v2.8h-2.6zM428.7 110.5h2.6v2.8h-2.6zM428.7 113.2h2.6v2.8h-2.6zM428.7 116.0h2.6v2.8h-2.6zM428.7 118.8h2.6v2.8h-2.6zM481.6 121.5h5.3v2.8h-5.3zM431.4 124.2h2.6v2.8h-2.6zM468.4 124.2h2.6v2.8h-2.6zM479.0 124.2h7.9v2.8h-7.9zM439.3 127.0h2.6v2.8h-2.6zM484.3 127.0h2.6v2.8h-2.6zM444.6 129.8h2.6v2.8h-2.6zM484.3 129.8h2.6v2.8h-2.6zM447.2 132.5h2.6v2.8h-2.6zM481.6 132.5h2.6v2.8h-2.6zM442.0 135.2h2.6v2.8h-2.6zM434.0 138.0h5.3v2.8h-5.3zM473.7 138.0h2.6v2.8h-2.6zM254.3 140.8h2.6v2.8h-2.6zM471.0 140.8h2.6v2.8h-2.6zM471.0 143.5h2.6v2.8h-2.6zM471.0 146.2h2.6v2.8h-2.6zM238.4 149.0h2.6v2.8h-2.6zM256.9 149.0h2.6v2.8h-2.6zM256.9 151.8h2.6v2.8h-2.6zM256.9 154.5h2.6v2.8h-2.6zM256.9 157.2h2.6v2.8h-2.6zM407.6 157.2h2.6v2.8h-2.6zM341.5 160.0h2.6v2.8h-2.6zM346.8 160.0h2.6v2.8h-2.6zM404.9 160.0h2.6v2.8h-2.6zM465.8 160.0h2.6v2.8h-2.6zM336.2 162.8h2.6v2.8h-2.6zM349.4 162.8h2.6v2.8h-2.6zM402.3 162.8h2.6v2.8h-2.6zM333.6 165.5h2.6v2.8h-2.6zM457.8 165.5h2.6v2.8h-2.6zM328.3 168.2h5.3v2.8h-5.3zM352.1 168.2h2.6v2.8h-2.6zM397.0 168.2h2.6v2.8h-2.6zM256.9 171.0h2.6v2.8h-2.6zM323.0 171.0h2.6v2.8h-2.6zM352.1 171.0h2.6v2.8h-2.6zM391.7 171.0h2.6v2.8h-2.6zM256.9 173.8h2.6v2.8h-2.6zM320.4 173.8h2.6v2.8h-2.6zM352.1 173.8h2.6v2.8h-2.6zM455.2 173.8h2.6v2.8h-2.6zM320.4 176.5h2.6v2.8h-2.6zM452.5 176.5h2.6v2.8h-2.6zM259.5 179.2h2.6v2.8h-2.6zM323.0 179.2h2.6v2.8h-2.6zM389.1 179.2h2.6v2.8h-2.6zM452.5 179.2h2.6v2.8h-2.6zM328.3 182.0h5.3v2.8h-5.3zM354.7 182.0h2.6v2.8h-2.6zM391.7 182.0h2.6v2.8h-2.6zM452.5 182.0h2.6v2.8h-2.6zM333.6 184.8h2.6v2.8h-2.6zM357.4 184.8h2.6v2.8h-2.6zM394.4 184.8h2.6v2.8h-2.6zM452.5 184.8h2.6v2.8h-2.6zM328.3 187.5h2.6v2.8h-2.6zM360.0 187.5h2.6v2.8h-2.6zM397.0 187.5h2.6v2.8h-2.6zM452.5 187.5h2.6v2.8h-2.6zM315.1 190.2h2.6v2.8h-2.6zM362.6 190.2h2.6v2.8h-2.6zM399.7 190.2h5.3v2.8h-5.3zM452.5 190.2h2.6v2.8h-2.6zM262.2 193.0h2.6v2.8h-2.6zM365.3 193.0h2.6v2.8h-2.6zM404.9 193.0h2.6v2.8h-2.6zM452.5 193.0h2.6v2.8h-2.6zM309.8 195.8h2.6v2.8h-2.6zM404.9 195.8h2.6v2.8h-2.6zM452.5 195.8h2.6v2.8h-2.6zM407.6 198.5h2.6v2.8h-2.6zM455.2 198.5h2.6v2.8h-2.6zM365.3 201.2h2.6v2.8h-2.6zM410.2 201.2h2.6v2.8h-2.6zM209.3 204.0h47.6v2.8h-47.6zM262.2 204.0h2.6v2.8h-2.6zM412.9 204.0h2.6v2.8h-2.6zM256.9 206.8h7.9v2.8h-7.9zM397.0 206.8h5.3v2.8h-5.3zM415.5 206.8h2.6v2.8h-2.6zM457.8 206.8h2.6v2.8h-2.6zM204.0 209.5h2.6v2.8h-2.6zM259.5 209.5h2.6v2.8h-2.6zM362.6 209.5h2.6v2.8h-2.6zM397.0 209.5h5.3v2.8h-5.3zM418.2 209.5h2.6v2.8h-2.6zM457.8 209.5h2.6v2.8h-2.6zM201.4 212.2h2.6v2.8h-2.6zM309.8 212.2h2.6v2.8h-2.6zM420.8 212.2h2.6v2.8h-2.6zM142.3 215.0h59.1v2.8h-59.1zM312.4 217.8h2.6v2.8h-2.6zM360.0 217.8h2.6v2.8h-2.6zM426.1 217.8h2.6v2.8h-2.6zM455.2 217.8h2.6v2.8h-2.6zM357.4 220.5h2.6v2.8h-2.6zM428.7 220.5h2.6v2.8h-2.6zM357.4 223.2h2.6v2.8h-2.6zM428.7 223.2h2.6v2.8h-2.6zM455.2 223.2h2.6v2.8h-2.6zM357.4 226.0h2.6v2.8h-2.6zM428.7 226.0h2.6v2.8h-2.6zM357.4 228.8h2.6v2.8h-2.6zM428.7 228.8h2.6v2.8h-2.6zM357.4 231.5h2.6v2.8h-2.6zM428.7 231.5h2.6v2.8h-2.6zM436.7 231.5h5.3v2.8h-5.3zM354.7 234.2h2.6v2.8h-2.6zM428.7 234.2h2.6v2.8h-2.6zM434.0 234.2h5.3v2.8h-5.3zM442.0 234.2h2.6v2.8h-2.6zM325.6 237.0h2.6v2.8h-2.6zM428.7 237.0h7.9v2.8h-7.9zM444.6 237.0h2.6v2.8h-2.6zM455.2 237.0h2.6v2.8h-2.6zM349.4 239.8h2.6v2.8h-2.6zM428.7 239.8h5.3v2.8h-5.3zM447.2 239.8h2.6v2.8h-2.6zM328.3 242.5h2.6v2.8h-2.6zM431.4 242.5h2.6v2.8h-2.6zM449.9 242.5h2.6v2.8h-2.6zM328.3 245.2h2.6v2.8h-2.6zM341.5 245.2h2.6v2.8h-2.6zM415.5 245.2h2.6v2.8h-2.6zM328.3 248.0h10.6v2.8h-10.6zM323.0 250.8h5.3v2.8h-5.3zM399.7 250.8h2.6v2.8h-2.6zM439.3 250.8h5.3v2.8h-5.3zM439.3 253.5h5.3v2.8h-5.3zM415.5 259.0h2.6v2.8h-2.6zM389.1 272.8h2.6v2.8h-2.6zM420.8 286.5h2.6v2.8h-2.6zM386.4 303.0h2.6v2.8h-2.6zM399.7 303.0h2.6v2.8h-2.6zM383.8 305.8h2.6v2.8h-2.6zM402.3 305.8h2.6v2.8h-2.6zM418.2 308.5h5.3v2.8h-5.3zM423.5 311.2h5.3v2.8h-5.3zM402.3 314.0h2.6v2.8h-2.6zM402.3 316.8h2.6v2.8h-2.6zM354.7 319.5h5.3v2.8h-5.3zM402.3 319.5h2.6v2.8h-2.6zM402.3 322.2h2.6v2.8h-2.6zM360.0 325.0h2.6v2.8h-2.6zM404.9 325.0h2.6v2.8h-2.6zM423.5 325.0h2.6v2.8h-2.6zM360.0 330.5h2.6v2.8h-2.6zM354.7 333.2h2.6v2.8h-2.6zM426.1 333.2h2.6v2.8h-2.6zM434.0 336.0h2.6v2.8h-2.6zM410.2 338.8h2.6v2.8h-2.6zM428.7 338.8h2.6v2.8h-2.6zM407.6 341.5h2.6v2.8h-2.6zM428.7 341.5h5.3v2.8h-5.3zM404.9 344.2h2.6v2.8h-2.6zM428.7 344.2h5.3v2.8h-5.3zM402.3 347.0h2.6v2.8h-2.6zM428.7 347.0h5.3v2.8h-5.3zM383.8 349.8h2.6v2.8h-2.6zM399.7 349.8h2.6v2.8h-2.6zM428.7 349.8h5.3v2.8h-5.3zM397.0 352.5h2.6v2.8h-2.6zM420.8 352.5h10.6v2.8h-10.6zM381.2 355.2h2.6v2.8h-2.6zM428.7 355.2h2.6v2.8h-2.6zM344.1 358.0h2.6v2.8h-2.6zM412.9 358.0h2.6v2.8h-2.6zM428.7 358.0h2.6v2.8h-2.6zM428.7 360.8h2.6v2.8h-2.6zM333.6 363.5h2.6v2.8h-2.6zM325.6 366.2h2.6v2.8h-2.6zM338.9 366.2h2.6v2.8h-2.6zM338.9 369.0h2.6v2.8h-2.6zM410.2 369.0h2.6v2.8h-2.6zM317.7 374.5h2.6v2.8h-2.6zM394.4 374.5h2.6v2.8h-2.6zM407.6 374.5h2.6v2.8h-2.6zM317.7 377.2h2.6v2.8h-2.6zM346.8 377.2h2.6v2.8h-2.6zM381.2 380.0h2.6v2.8h-2.6zM317.7 385.5h2.6v2.8h-2.6zM383.8 385.5h2.6v2.8h-2.6zM336.2 391.0h2.6v2.8h-2.6zM349.4 391.0h2.6v2.8h-2.6zM426.1 391.0h2.6v2.8h-2.6zM330.9 393.8h2.6v2.8h-2.6zM423.5 396.5h2.6v2.8h-2.6zM420.8 399.2h2.6v2.8h-2.6zM357.4 407.5h2.6v2.8h-2.6zM357.4 410.2h2.6v2.8h-2.6zM338.9 415.8h2.6v2.8h-2.6zM402.3 415.8h2.6v2.8h-2.6zM357.4 418.5h2.6v2.8h-2.6zM412.9 418.5h2.6v2.8h-2.6zM402.3 421.2h2.6v2.8h-2.6zM399.7 424.0h10.6v2.8h-10.6zM402.3 429.5h2.6v2.8h-2.6zM344.1 435.0h2.6v2.8h-2.6zM291.3 462.5h2.6v2.8h-2.6zM288.6 465.2h2.6v2.8h-2.6zM338.9 465.2h2.6v2.8h-2.6zM283.3 468.0h2.6v2.8h-2.6zM246.3 473.5h2.6v2.8h-2.6zM241.0 479.0h2.6v2.8h-2.6zM338.9 479.0h2.6v2.8h-2.6zM338.9 481.8h2.6v2.8h-2.6z"/>
<path fill="#00bbff" d="M457.8 80.2h2.6v2.8h-2.6zM465.8 80.2h2.6v2.8h-2.6zM481.6 83.0h2.6v2.8h-2.6zM447.2 85.8h2.6v2.8h-2.6zM479.0 85.8h5.3v2.8h-5.3zM444.6 88.5h2.6v2.8h-2.6zM444.6 91.2h2.6v2.8h-2.6zM471.0 91.2h2.6v2.8h-2.6zM442.0 96.8h2.6v2.8h-2.6zM468.4 96.8h2.6v2.8h-2.6zM439.3 99.5h2.6v2.8h-2.6zM436.7 102.2h2.6v2.8h-2.6zM434.0 105.0h2.6v2.8h-2.6zM457.8 105.0h5.3v2.8h-5.3zM431.4 107.8h2.6v2.8h-2.6zM452.5 107.8h2.6v2.8h-2.6zM455.2 110.5h2.6v2.8h-2.6zM457.8 113.2h2.6v2.8h-2.6zM460.5 116.0h2.6v2.8h-2.6zM431.4 121.5h2.6v2.8h-2.6zM463.1 121.5h2.6v2.8h-2.6zM434.0 124.2h5.3v2.8h-5.3zM465.8 124.2h2.6v2.8h-2.6zM442.0 127.0h2.6v2.8h-2.6zM473.7 127.0h10.6v2.8h-10.6zM447.2 129.8h2.6v2.8h-2.6zM481.6 129.8h2.6v2.8h-2.6zM449.9 132.5h2.6v2.8h-2.6zM444.6 135.2h2.6v2.8h-2.6zM476.3 135.2h2.6v2.8h-2.6zM439.3 138.0h5.3v2.8h-5.3zM246.3 140.8h2.6v2.8h-2.6zM431.4 140.8h5.3v2.8h-5.3zM243.7 143.5h2.6v2.8h-2.6zM428.7 143.5h2.6v2.8h-2.6zM241.0 146.2h2.6v2.8h-2.6zM426.1 146.2h2.6v2.8h-2.6zM423.5 149.0h2.6v2.8h-2.6zM471.0 149.0h2.6v2.8h-2.6zM420.8 151.8h2.6v2.8h-2.6zM415.5 154.5h2.6v2.8h-2.6zM471.0 154.5h2.6v2.8h-2.6zM235.8 157.2h2.6v2.8h-2.6zM410.2 157.2h2.6v2.8h-2.6zM468.4 157.2h2.6v2.8h-2.6zM233.1 160.0h2.6v2.8h-2.6zM344.1 160.0h2.6v2.8h-2.6zM463.1 160.0h2.6v2.8h-2.6zM217.2 162.8h2.6v2.8h-2.6zM338.9 162.8h2.6v2.8h-2.6zM336.2 165.5h2.6v2.8h-2.6zM349.4 165.5h2.6v2.8h-2.6zM402.3 165.5h2.6v2.8h-2.6zM214.6 168.2h2.6v2.8h-2.6zM333.6 168.2h5.3v2.8h-5.3zM399.7 168.2h2.6v2.8h-2.6zM455.2 168.2h2.6v2.8h-2.6zM212.0 171.0h2.6v2.8h-2.6zM325.6 171.0h13.2v2.8h-13.2zM394.4 171.0h2.6v2.8h-2.6zM455.2 171.0h2.6v2.8h-2.6zM196.1 173.8h2.6v2.8h-2.6zM333.6 173.8h2.6v2.8h-2.6zM389.1 173.8h2.6v2.8h-2.6zM452.5 173.8h2.6v2.8h-2.6zM256.9 176.5h2.6v2.8h-2.6zM333.6 176.5h2.6v2.8h-2.6zM352.1 176.5h2.6v2.8h-2.6zM389.1 176.5h2.6v2.8h-2.6zM193.5 179.2h2.6v2.8h-2.6zM325.6 179.2h10.6v2.8h-10.6zM352.1 179.2h2.6v2.8h-2.6zM391.7 179.2h2.6v2.8h-2.6zM190.8 182.0h2.6v2.8h-2.6zM333.6 182.0h2.6v2.8h-2.6zM394.4 182.0h2.6v2.8h-2.6zM262.2 184.8h2.6v2.8h-2.6zM354.7 184.8h2.6v2.8h-2.6zM397.0 184.8h2.6v2.8h-2.6zM262.2 187.5h2.6v2.8h-2.6zM330.9 187.5h5.3v2.8h-5.3zM357.4 187.5h2.6v2.8h-2.6zM399.7 187.5h5.3v2.8h-5.3zM262.2 190.2h2.6v2.8h-2.6zM317.7 190.2h2.6v2.8h-2.6zM360.0 190.2h2.6v2.8h-2.6zM404.9 190.2h2.6v2.8h-2.6zM312.4 193.0h2.6v2.8h-2.6zM362.6 193.0h2.6v2.8h-2.6zM407.6 193.0h2.6v2.8h-2.6zM365.3 195.8h2.6v2.8h-2.6zM407.6 195.8h2.6v2.8h-2.6zM259.5 198.5h2.6v2.8h-2.6zM309.8 198.5h2.6v2.8h-2.6zM365.3 198.5h2.6v2.8h-2.6zM410.2 198.5h2.6v2.8h-2.6zM452.5 198.5h2.6v2.8h-2.6zM259.5 201.2h2.6v2.8h-2.6zM412.9 201.2h2.6v2.8h-2.6zM455.2 201.2h2.6v2.8h-2.6zM206.7 204.0h2.6v2.8h-2.6zM256.9 204.0h5.3v2.8h-5.3zM362.6 204.0h2.6v2.8h-2.6zM415.5 204.0h2.6v2.8h-2.6zM455.2 204.0h2.6v2.8h-2.6zM204.0 206.8h2.6v2.8h-2.6zM362.6 206.8h2.6v2.8h-2.6zM418.2 206.8h2.6v2.8h-2.6zM309.8 209.5h2.6v2.8h-2.6zM360.0 212.2h2.6v2.8h-2.6zM455.2 212.2h2.6v2.8h-2.6zM360.0 215.0h2.6v2.8h-2.6zM423.5 215.0h2.6v2.8h-2.6zM455.2 215.0h2.6v2.8h-2.6zM357.4 217.8h2.6v2.8h-2.6zM452.5 217.8h2.6v2.8h-2.6zM315.1 220.5h2.6v2.8h-2.6zM431.4 220.5h2.6v2.8h-2.6zM452.5 220.5h2.6v2.8h-2.6zM317.7 223.2h2.6v2.8h-2.6zM431.4 223.2h2.6v2.8h-2.6zM320.4 226.0h2.6v2.8h-2.6zM431.4 226.0h2.6v2.8h-2.6zM455.2 226.0h2.6v2.8h-2.6zM323.0 228.8h2.6v2.8h-2.6zM431.4 228.8h10.6v2.8h-10.6zM431.4 231.5h5.3v2.8h-5.3zM442.0 231.5h2.6v2.8h-2.6zM325.6 234.2h2.6v2.8h-2.6zM431.4 234.2h2.6v2.8h-2.6zM444.6 234.2h2.6v2.8h-2.6zM455.2 234.2h2.6v2.8h-2.6zM352.1 237.0h2.6v2.8h-2.6zM447.2 237.0h2.6v2.8h-2.6zM328.3 239.8h2.6v2.8h-2.6zM449.9 239.8h5.3v2.8h-5.3zM344.1 242.5h2.6v2.8h-2.6zM330.9 245.2h2.6v2.8h-2.6zM338.9 245.2h2.6v2.8h-2.6zM402.3 245.2h2.6v2.8h-2.6zM418.2 248.0h2.6v2.8h-2.6zM418.2 256.2h2.6v2.8h-2.6zM389.1 303.0h10.6v2.8h-10.6zM402.3 308.5h2.6v2.8h-2.6zM402.3 311.2h2.6v2.8h-2.6zM420.8 311.2h2.6v2.8h-2.6zM420.8 314.0h5.3v2.8h-5.3zM431.4 314.0h2.6v2.8h-2.6zM420.8 316.8h2.6v2.8h-2.6zM434.0 316.8h2.6v2.8h-2.6zM420.8 319.5h2.6v2.8h-2.6zM354.7 322.2h2.6v2.8h-2.6zM423.5 322.2h2.6v2.8h-2.6zM402.3 325.0h2.6v2.8h-2.6zM360.0 327.8h2.6v2.8h-2.6zM410.2 327.8h2.6v2.8h-2.6zM426.1 330.5h2.6v2.8h-2.6zM357.4 333.2h2.6v2.8h-2.6zM381.2 333.2h2.6v2.8h-2.6zM410.2 333.2h2.6v2.8h-2.6zM434.0 333.2h2.6v2.8h-2.6zM410.2 336.0h2.6v2.8h-2.6zM389.1 338.8h2.6v2.8h-2.6zM431.4 338.8h2.6v2.8h-2.6zM391.7 341.5h2.6v2.8h-2.6zM389.1 344.2h2.6v2.8h-2.6zM386.4 347.0h2.6v2.8h-2.6zM349.4 349.8h2.6v2.8h-2.6zM415.5 355.2h2.6v2.8h-2.6zM336.2 363.5h2.6v2.8h-2.6zM394.4 363.5h2.6v2.8h-2.6zM328.3 366.2h2.6v2.8h-2.6zM394.4 366.2h2.6v2.8h-2.6zM320.4 369.0h2.6v2.8h-2.6zM394.4 369.0h2.6v2.8h-2.6zM338.9 371.8h2.6v2.8h-2.6zM394.4 371.8h2.6v2.8h-2.6zM407.6 377.2h2.6v2.8h-2.6zM317.7 380.0h2.6v2.8h-2.6zM317.7 382.8h2.6v2.8h-2.6zM391.7 382.8h2.6v2.8h-2.6zM404.9 385.5h2.6v2.8h-2.6zM352.1 388.2h2.6v2.8h-2.6zM320.4 391.0h2.6v2.8h-2.6zM333.6 391.0h2.6v2.8h-2.6zM338.9 391.0h10.6v2.8h-10.6zM402.3 391.0h2.6v2.8h-2.6zM328.3 393.8h2.6v2.8h-2.6zM354.7 407.5h2.6v2.8h-2.6zM357.4 413.0h2.6v2.8h-2.6zM357.4 415.8h2.6v2.8h-2.6zM354.7 421.2h2.6v2.8h-2.6zM404.9 421.2h2.6v2.8h-2.6zM410.2 421.2h2.6v2.8h-2.6zM352.1 426.8h2.6v2.8h-2.6zM397.0 426.8h2.6v2.8h-2.6zM402.3 426.8h2.6v2.8h-2.6zM397.0 429.5h5.3v2.8h-5.3zM338.9 432.2h2.6v2.8h-2.6zM349.4 432.2h2.6v2.8h-2.6zM336.2 462.5h2.6v2.8h-2.6zM286.0 468.0h2.6v2.8h-2.6zM338.9 468.0h2.6v2.8h-2.6zM338.9 476.2h2.6v2.8h-2.6z"/>
<path fill="#00c8ff" d="M460.5 80.2h5.3v2.8h-5.3zM452.5 83.0h2.6v2.8h-2.6zM468.4 83.0h2.6v2.8h-2.6zM471.0 85.8h2.6v2.8h-2.6zM471.0 88.5h2.6v2.8h-2.6zM444.6 94.0h2.6v2.8h-2.6zM468.4 94.0h2.6v2.8h-2.6zM442.0 99.5h2.6v2.8h-2.6zM465.8 99.5h2.6v2.8h-2.6zM439.3 102.2h2.6v2.8h-2.6zM463.1 102.2h2.6v2.8h-2.6zM455.2 105.0h2.6v2.8h-2.6zM434.0 107.8h2.6v2.8h-2.6zM449.9 107.8h2.6v2.8h-2.6zM431.4 110.5h2.6v2.8h-2.6zM452.5 110.5h2.6v2.8h-2.6zM431.4 113.2h2.6v2.8h-2.6zM431.4 116.0h2.6v2.8h-2.6zM431.4 118.8h2.6v2.8h-2.6zM460.5 118.8h2.6v2.8h-2.6zM434.0 121.5h2.6v2.8h-2.6zM439.3 124.2h2.6v2.8h-2.6zM463.1 124.2h2.6v2.8h-2.6zM468.4 127.0h5.3v2.8h-5.3zM449.9 129.8h2.6v2.8h-2.6zM479.0 129.8h2.6v2.8h-2.6zM452.5 132.5h2.6v2.8h-2.6zM479.0 132.5h2.6v2.8h-2.6zM447.2 135.2h2.6v2.8h-2.6zM473.7 135.2h2.6v2.8h-2.6zM444.6 138.0h2.6v2.8h-2.6zM471.0 138.0h2.6v2.8h-2.6zM436.7 140.8h2.6v2.8h-2.6zM254.3 143.5h2.6v2.8h-2.6zM431.4 143.5h2.6v2.8h-2.6zM254.3 146.2h2.6v2.8h-2.6zM428.7 146.2h2.6v2.8h-2.6zM426.1 149.0h2.6v2.8h-2.6zM423.5 151.8h2.6v2.8h-2.6zM471.0 151.8h2.6v2.8h-2.6zM418.2 154.5h2.6v2.8h-2.6zM412.9 157.2h2.6v2.8h-2.6zM465.8 157.2h2.6v2.8h-2.6zM254.3 160.0h2.6v2.8h-2.6zM407.6 160.0h2.6v2.8h-2.6zM254.3 162.8h2.6v2.8h-2.6zM341.5 162.8h2.6v2.8h-2.6zM346.8 162.8h2.6v2.8h-2.6zM404.9 162.8h2.6v2.8h-2.6zM457.8 162.8h2.6v2.8h-2.6zM254.3 165.5h2.6v2.8h-2.6zM338.9 165.5h2.6v2.8h-2.6zM439.3 165.5h5.3v2.8h-5.3zM455.2 165.5h2.6v2.8h-2.6zM254.3 168.2h2.6v2.8h-2.6zM338.9 168.2h2.6v2.8h-2.6zM349.4 168.2h2.6v2.8h-2.6zM349.4 171.0h2.6v2.8h-2.6zM397.0 171.0h2.6v2.8h-2.6zM452.5 171.0h2.6v2.8h-2.6zM323.0 173.8h2.6v2.8h-2.6zM328.3 173.8h5.3v2.8h-5.3zM336.2 173.8h2.6v2.8h-2.6zM391.7 173.8h2.6v2.8h-2.6zM449.9 173.8h2.6v2.8h-2.6zM323.0 176.5h2.6v2.8h-2.6zM328.3 176.5h5.3v2.8h-5.3zM336.2 176.5h2.6v2.8h-2.6zM391.7 176.5h2.6v2.8h-2.6zM449.9 176.5h2.6v2.8h-2.6zM256.9 179.2h2.6v2.8h-2.6zM336.2 179.2h2.6v2.8h-2.6zM449.9 179.2h2.6v2.8h-2.6zM259.5 182.0h2.6v2.8h-2.6zM336.2 182.0h2.6v2.8h-2.6zM352.1 182.0h2.6v2.8h-2.6zM397.0 182.0h2.6v2.8h-2.6zM449.9 182.0h2.6v2.8h-2.6zM336.2 184.8h2.6v2.8h-2.6zM399.7 184.8h2.6v2.8h-2.6zM449.9 184.8h2.6v2.8h-2.6zM336.2 187.5h2.6v2.8h-2.6zM354.7 187.5h2.6v2.8h-2.6zM404.9 187.5h2.6v2.8h-2.6zM449.9 187.5h2.6v2.8h-2.6zM320.4 190.2h2.6v2.8h-2.6zM357.4 190.2h2.6v2.8h-2.6zM407.6 190.2h2.6v2.8h-2.6zM449.9 190.2h2.6v2.8h-2.6zM449.9 193.0h2.6v2.8h-2.6zM259.5 195.8h2.6v2.8h-2.6zM362.6 195.8h2.6v2.8h-2.6zM410.2 195.8h2.6v2.8h-2.6zM449.9 195.8h2.6v2.8h-2.6zM412.9 198.5h2.6v2.8h-2.6zM254.3 201.2h5.3v2.8h-5.3zM309.8 201.2h2.6v2.8h-2.6zM362.6 201.2h2.6v2.8h-2.6zM452.5 201.2h2.6v2.8h-2.6zM309.8 204.0h2.6v2.8h-2.6zM418.2 204.0h2.6v2.8h-2.6zM309.8 206.8h2.6v2.8h-2.6zM455.2 206.8h2.6v2.8h-2.6zM201.4 209.5h2.6v2.8h-2.6zM360.0 209.5h2.6v2.8h-2.6zM420.8 209.5h2.6v2.8h-2.6zM455.2 209.5h2.6v2.8h-2.6zM198.7 212.2h2.6v2.8h-2.6zM312.4 215.0h2.6v2.8h-2.6zM357.4 215.0h2.6v2.8h-2.6zM452.5 215.0h2.6v2.8h-2.6zM315.1 217.8h2.6v2.8h-2.6zM428.7 217.8h2.6v2.8h-2.6zM317.7 220.5h2.6v2.8h-2.6zM449.9 220.5h2.6v2.8h-2.6zM320.4 223.2h2.6v2.8h-2.6zM434.0 223.2h2.6v2.8h-2.6zM452.5 223.2h2.6v2.8h-2.6zM323.0 226.0h2.6v2.8h-2.6zM434.0 226.0h5.3v2.8h-5.3zM354.7 228.8h2.6v2.8h-2.6zM442.0 228.8h2.6v2.8h-2.6zM455.2 228.8h2.6v2.8h-2.6zM354.7 231.5h2.6v2.8h-2.6zM444.6 231.5h2.6v2.8h-2.6zM455.2 231.5h2.6v2.8h-2.6zM449.9 237.0h5.3v2.8h-5.3zM346.8 239.8h2.6v2.8h-2.6zM330.9 242.5h2.6v2.8h-2.6zM341.5 242.5h2.6v2.8h-2.6zM333.6 245.2h5.3v2.8h-5.3zM426.1 314.0h5.3v2.8h-5.3zM423.5 316.8h2.6v2.8h-2.6zM423.5 319.5h2.6v2.8h-2.6zM434.0 319.5h2.6v2.8h-2.6zM357.4 322.2h2.6v2.8h-2.6zM434.0 322.2h2.6v2.8h-2.6zM354.7 325.0h2.6v2.8h-2.6zM399.7 325.0h2.6v2.8h-2.6zM426.1 325.0h2.6v2.8h-2.6zM434.0 325.0h2.6v2.8h-2.6zM399.7 327.8h10.6v2.8h-10.6zM426.1 327.8h2.6v2.8h-2.6zM434.0 327.8h2.6v2.8h-2.6zM399.7 330.5h5.3v2.8h-5.3zM410.2 330.5h2.6v2.8h-2.6zM434.0 330.5h2.6v2.8h-2.6zM383.8 336.0h2.6v2.8h-2.6zM407.6 336.0h2.6v2.8h-2.6zM428.7 336.0h5.3v2.8h-5.3zM407.6 338.8h2.6v2.8h-2.6zM404.9 341.5h2.6v2.8h-2.6zM391.7 344.2h2.6v2.8h-2.6zM402.3 344.2h2.6v2.8h-2.6zM399.7 347.0h2.6v2.8h-2.6zM344.1 349.8h2.6v2.8h-2.6zM397.0 349.8h2.6v2.8h-2.6zM349.4 352.5h2.6v2.8h-2.6zM344.1 355.2h5.3v2.8h-5.3zM394.4 355.2h2.6v2.8h-2.6zM426.1 355.2h2.6v2.8h-2.6zM381.2 358.0h2.6v2.8h-2.6zM394.4 358.0h2.6v2.8h-2.6zM394.4 360.8h2.6v2.8h-2.6zM330.9 366.2h2.6v2.8h-2.6zM336.2 366.2h2.6v2.8h-2.6zM410.2 371.8h2.6v2.8h-2.6zM426.1 371.8h2.6v2.8h-2.6zM338.9 374.5h2.6v2.8h-2.6zM426.1 374.5h2.6v2.8h-2.6zM344.1 377.2h2.6v2.8h-2.6zM381.2 377.2h2.6v2.8h-2.6zM407.6 380.0h2.6v2.8h-2.6zM389.1 385.5h2.6v2.8h-2.6zM426.1 388.2h2.6v2.8h-2.6zM323.0 393.8h2.6v2.8h-2.6zM418.2 402.0h2.6v2.8h-2.6zM344.1 410.2h2.6v2.8h-2.6zM354.7 410.2h2.6v2.8h-2.6zM415.5 413.0h2.6v2.8h-2.6zM338.9 418.5h2.6v2.8h-2.6zM404.9 418.5h2.6v2.8h-2.6zM407.6 421.2h2.6v2.8h-2.6zM399.7 426.8h2.6v2.8h-2.6zM293.9 462.5h42.3v2.8h-42.3zM291.3 465.2h2.6v2.8h-2.6zM336.2 465.2h2.6v2.8h-2.6zM249.0 470.8h2.6v2.8h-2.6zM338.9 470.8h2.6v2.8h-2.6zM338.9 473.5h2.6v2.8h-2.6zM246.3 476.2h2.6v2.8h-2.6zM243.7 479.0h2.6v2.8h-2.6zM206.7 481.8h2.6v2.8h-2.6z"/>
<path fill="#00d4ff" d="M455.2 83.0h2.6v2.8h-2.6zM447.2 88.5h2.6v2.8h-2.6zM468.4 91.2h2.6v2.8h-2.6zM444.6 96.8h2.6v2.8h-2.6zM444.6 99.5h2.6v2.8h-2.6zM442.0 102.2h2.6v2.8h-2.6zM460.5 102.2h2.6v2.8h-2.6zM436.7 105.0h2.6v2.8h-2.6zM449.9 105.0h5.3v2.8h-5.3zM447.2 107.8h2.6v2.8h-2.6zM434.0 110.5h2.6v2.8h-2.6zM449.9 110.5h2.6v2.8h-2.6zM434.0 113.2h2.6v2.8h-2.6zM434.0 116.0h2.6v2.8h-2.6zM434.0 118.8h2.6v2.8h-2.6zM460.5 121.5h2.6v2.8h-2.6zM444.6 127.0h2.6v2.8h-2.6zM465.8 127.0h2.6v2.8h-2.6zM452.5 129.8h2.6v2.8h-2.6zM476.3 129.8h2.6v2.8h-2.6zM476.3 132.5h2.6v2.8h-2.6zM449.9 135.2h2.6v2.8h-2.6zM447.2 138.0h2.6v2.8h-2.6zM249.0 140.8h5.3v2.8h-5.3zM439.3 140.8h5.3v2.8h-5.3zM246.3 143.5h2.6v2.8h-2.6zM434.0 143.5h2.6v2.8h-2.6zM243.7 146.2h2.6v2.8h-2.6zM241.0 149.0h2.6v2.8h-2.6zM254.3 149.0h2.6v2.8h-2.6zM238.4 151.8h2.6v2.8h-2.6zM254.3 151.8h2.6v2.8h-2.6zM254.3 154.5h2.6v2.8h-2.6zM420.8 154.5h2.6v2.8h-2.6zM468.4 154.5h2.6v2.8h-2.6zM254.3 157.2h2.6v2.8h-2.6zM415.5 157.2h2.6v2.8h-2.6zM235.8 160.0h2.6v2.8h-2.6zM460.5 160.0h2.6v2.8h-2.6zM344.1 162.8h2.6v2.8h-2.6zM439.3 162.8h5.3v2.8h-5.3zM341.5 165.5h2.6v2.8h-2.6zM346.8 165.5h2.6v2.8h-2.6zM404.9 165.5h2.6v2.8h-2.6zM444.6 165.5h2.6v2.8h-2.6zM341.5 168.2h2.6v2.8h-2.6zM402.3 168.2h2.6v2.8h-2.6zM442.0 168.2h2.6v2.8h-2.6zM214.6 171.0h2.6v2.8h-2.6zM254.3 171.0h2.6v2.8h-2.6zM338.9 171.0h2.6v2.8h-2.6zM399.7 171.0h2.6v2.8h-2.6zM449.9 171.0h2.6v2.8h-2.6zM254.3 173.8h2.6v2.8h-2.6zM325.6 173.8h2.6v2.8h-2.6zM338.9 173.8h2.6v2.8h-2.6zM349.4 173.8h2.6v2.8h-2.6zM394.4 173.8h2.6v2.8h-2.6zM447.2 173.8h2.6v2.8h-2.6zM254.3 176.5h2.6v2.8h-2.6zM325.6 176.5h2.6v2.8h-2.6zM338.9 176.5h2.6v2.8h-2.6zM349.4 176.5h2.6v2.8h-2.6zM447.2 176.5h2.6v2.8h-2.6zM338.9 179.2h2.6v2.8h-2.6zM394.4 179.2h2.6v2.8h-2.6zM447.2 179.2h2.6v2.8h-2.6zM193.5 182.0h2.6v2.8h-2.6zM256.9 182.0h2.6v2.8h-2.6zM338.9 182.0h2.6v2.8h-2.6zM399.7 182.0h2.6v2.8h-2.6zM447.2 182.0h2.6v2.8h-2.6zM259.5 184.8h2.6v2.8h-2.6zM338.9 184.8h2.6v2.8h-2.6zM352.1 184.8h2.6v2.8h-2.6zM402.3 184.8h5.3v2.8h-5.3zM447.2 184.8h2.6v2.8h-2.6zM407.6 187.5h2.6v2.8h-2.6zM447.2 187.5h2.6v2.8h-2.6zM259.5 190.2h2.6v2.8h-2.6zM333.6 190.2h2.6v2.8h-2.6zM410.2 190.2h2.6v2.8h-2.6zM259.5 193.0h2.6v2.8h-2.6zM315.1 193.0h2.6v2.8h-2.6zM360.0 193.0h2.6v2.8h-2.6zM410.2 193.0h2.6v2.8h-2.6zM256.9 195.8h2.6v2.8h-2.6zM412.9 195.8h2.6v2.8h-2.6zM256.9 198.5h2.6v2.8h-2.6zM362.6 198.5h2.6v2.8h-2.6zM449.9 198.5h2.6v2.8h-2.6zM206.7 201.2h47.6v2.8h-47.6zM415.5 201.2h2.6v2.8h-2.6zM204.0 204.0h2.6v2.8h-2.6zM201.4 206.8h2.6v2.8h-2.6zM360.0 206.8h2.6v2.8h-2.6zM420.8 206.8h2.6v2.8h-2.6zM142.3 212.2h56.4v2.8h-56.4zM312.4 212.2h2.6v2.8h-2.6zM423.5 212.2h2.6v2.8h-2.6zM426.1 215.0h2.6v2.8h-2.6zM431.4 217.8h2.6v2.8h-2.6zM449.9 217.8h2.6v2.8h-2.6zM354.7 220.5h2.6v2.8h-2.6zM434.0 220.5h2.6v2.8h-2.6zM447.2 220.5h2.6v2.8h-2.6zM354.7 223.2h2.6v2.8h-2.6zM436.7 223.2h2.6v2.8h-2.6zM449.9 223.2h2.6v2.8h-2.6zM354.7 226.0h2.6v2.8h-2.6zM439.3 226.0h5.3v2.8h-5.3zM452.5 226.0h2.6v2.8h-2.6zM444.6 228.8h2.6v2.8h-2.6zM325.6 231.5h2.6v2.8h-2.6zM352.1 234.2h2.6v2.8h-2.6zM447.2 234.2h2.6v2.8h-2.6zM452.5 234.2h2.6v2.8h-2.6zM349.4 237.0h2.6v2.8h-2.6zM344.1 239.8h2.6v2.8h-2.6zM338.9 242.5h2.6v2.8h-2.6zM404.9 259.0h2.6v2.8h-2.6zM386.4 305.8h2.6v2.8h-2.6zM399.7 305.8h2.6v2.8h-2.6zM381.2 311.2h2.6v2.8h-2.6zM399.7 322.2h2.6v2.8h-2.6zM426.1 322.2h2.6v2.8h-2.6zM357.4 325.0h2.6v2.8h-2.6zM354.7 330.5h2.6v2.8h-2.6zM404.9 330.5h5.3v2.8h-5.3zM399.7 333.2h10.6v2.8h-10.6zM428.7 333.2h5.3v2.8h-5.3zM404.9 336.0h2.6v2.8h-2.6zM391.7 338.8h2.6v2.8h-2.6zM404.9 338.8h2.6v2.8h-2.6zM394.4 341.5h2.6v2.8h-2.6zM394.4 344.2h2.6v2.8h-2.6zM389.1 347.0h10.6v2.8h-10.6zM346.8 349.8h2.6v2.8h-2.6zM394.4 349.8h2.6v2.8h-2.6zM344.1 352.5h2.6v2.8h-2.6zM383.8 352.5h2.6v2.8h-2.6zM394.4 352.5h2.6v2.8h-2.6zM381.2 360.8h2.6v2.8h-2.6zM412.9 360.8h2.6v2.8h-2.6zM333.6 366.2h2.6v2.8h-2.6zM336.2 369.0h2.6v2.8h-2.6zM381.2 374.5h2.6v2.8h-2.6zM426.1 377.2h2.6v2.8h-2.6zM349.4 380.0h2.6v2.8h-2.6zM426.1 380.0h2.6v2.8h-2.6zM352.1 382.8h2.6v2.8h-2.6zM383.8 382.8h2.6v2.8h-2.6zM352.1 385.5h2.6v2.8h-2.6zM386.4 385.5h2.6v2.8h-2.6zM426.1 385.5h2.6v2.8h-2.6zM325.6 393.8h2.6v2.8h-2.6zM402.3 393.8h2.6v2.8h-2.6zM423.5 393.8h2.6v2.8h-2.6zM420.8 396.5h2.6v2.8h-2.6zM349.4 410.2h5.3v2.8h-5.3zM402.3 413.0h2.6v2.8h-2.6zM338.9 421.2h2.6v2.8h-2.6zM293.9 465.2h42.3v2.8h-42.3zM288.6 468.0h2.6v2.8h-2.6zM336.2 468.0h2.6v2.8h-2.6z"/>
<path fill="#00eeff" d="M457.8 83.0h2.6v2.8h-2.6zM468.4 88.5h2.6v2.8h-2.6zM465.8 94.0h2.6v2.8h-2.6zM439.3 107.8h2.6v2.8h-2.6zM436.7 110.5h2.6v2.8h-2.6zM444.6 110.5h2.6v2.8h-2.6zM436.7 113.2h2.6v2.8h-2.6zM436.7 116.0h2.6v2.8h-2.6zM436.7 118.8h2.6v2.8h-2.6zM439.3 121.5h2.6v2.8h-2.6zM447.2 127.0h2.6v2.8h-2.6zM460.5 127.0h2.6v2.8h-2.6zM457.8 129.8h2.6v2.8h-2.6zM468.4 129.8h5.3v2.8h-5.3zM473.7 132.5h2.6v2.8h-2.6zM447.2 140.8h2.6v2.8h-2.6zM251.6 143.5h2.6v2.8h-2.6zM439.3 143.5h5.3v2.8h-5.3zM251.6 146.2h2.6v2.8h-2.6zM434.0 146.2h2.6v2.8h-2.6zM468.4 146.2h2.6v2.8h-2.6zM246.3 149.0h2.6v2.8h-2.6zM251.6 149.0h2.6v2.8h-2.6zM431.4 149.0h2.6v2.8h-2.6zM468.4 149.0h2.6v2.8h-2.6zM428.7 151.8h2.6v2.8h-2.6zM426.1 154.5h2.6v2.8h-2.6zM465.8 154.5h2.6v2.8h-2.6zM238.4 157.2h2.6v2.8h-2.6zM251.6 157.2h2.6v2.8h-2.6zM418.2 157.2h2.6v2.8h-2.6zM251.6 160.0h2.6v2.8h-2.6zM412.9 160.0h2.6v2.8h-2.6zM457.8 160.0h2.6v2.8h-2.6zM233.1 162.8h2.6v2.8h-2.6zM251.6 162.8h2.6v2.8h-2.6zM434.0 162.8h2.6v2.8h-2.6zM444.6 162.8h2.6v2.8h-2.6zM251.6 165.5h2.6v2.8h-2.6zM434.0 165.5h2.6v2.8h-2.6zM452.5 165.5h2.6v2.8h-2.6zM217.2 168.2h2.6v2.8h-2.6zM251.6 168.2h2.6v2.8h-2.6zM434.0 168.2h5.3v2.8h-5.3zM251.6 171.0h2.6v2.8h-2.6zM344.1 171.0h5.3v2.8h-5.3zM404.9 171.0h2.6v2.8h-2.6zM436.7 171.0h5.3v2.8h-5.3zM212.0 173.8h2.6v2.8h-2.6zM346.8 173.8h2.6v2.8h-2.6zM397.0 173.8h2.6v2.8h-2.6zM341.5 176.5h2.6v2.8h-2.6zM397.0 176.5h2.6v2.8h-2.6zM444.6 176.5h2.6v2.8h-2.6zM196.1 179.2h2.6v2.8h-2.6zM341.5 179.2h2.6v2.8h-2.6zM399.7 179.2h7.9v2.8h-7.9zM444.6 179.2h2.6v2.8h-2.6zM254.3 182.0h2.6v2.8h-2.6zM341.5 182.0h2.6v2.8h-2.6zM407.6 182.0h5.3v2.8h-5.3zM444.6 182.0h2.6v2.8h-2.6zM190.8 184.8h2.6v2.8h-2.6zM254.3 184.8h2.6v2.8h-2.6zM341.5 184.8h2.6v2.8h-2.6zM410.2 184.8h5.3v2.8h-5.3zM444.6 184.8h2.6v2.8h-2.6zM256.9 187.5h2.6v2.8h-2.6zM341.5 187.5h2.6v2.8h-2.6zM349.4 187.5h2.6v2.8h-2.6zM412.9 187.5h2.6v2.8h-2.6zM444.6 187.5h2.6v2.8h-2.6zM254.3 190.2h2.6v2.8h-2.6zM338.9 190.2h2.6v2.8h-2.6zM352.1 190.2h2.6v2.8h-2.6zM415.5 190.2h2.6v2.8h-2.6zM254.3 193.0h2.6v2.8h-2.6zM317.7 193.0h2.6v2.8h-2.6zM333.6 193.0h5.3v2.8h-5.3zM354.7 193.0h2.6v2.8h-2.6zM415.5 193.0h2.6v2.8h-2.6zM447.2 193.0h2.6v2.8h-2.6zM254.3 195.8h2.6v2.8h-2.6zM357.4 195.8h2.6v2.8h-2.6zM415.5 195.8h2.6v2.8h-2.6zM447.2 195.8h2.6v2.8h-2.6zM251.6 198.5h2.6v2.8h-2.6zM312.4 198.5h2.6v2.8h-2.6zM418.2 198.5h2.6v2.8h-2.6zM201.4 201.2h2.6v2.8h-2.6zM312.4 201.2h2.6v2.8h-2.6zM449.9 201.2h2.6v2.8h-2.6zM312.4 204.0h2.6v2.8h-2.6zM420.8 204.0h2.6v2.8h-2.6zM312.4 206.8h2.6v2.8h-2.6zM452.5 206.8h2.6v2.8h-2.6zM312.4 209.5h2.6v2.8h-2.6zM357.4 209.5h2.6v2.8h-2.6zM452.5 209.5h2.6v2.8h-2.6zM315.1 212.2h5.3v2.8h-5.3zM426.1 212.2h2.6v2.8h-2.6zM317.7 215.0h5.3v2.8h-5.3zM354.7 215.0h2.6v2.8h-2.6zM320.4 217.8h2.6v2.8h-2.6zM434.0 217.8h2.6v2.8h-2.6zM323.0 220.5h2.6v2.8h-2.6zM439.3 220.5h2.6v2.8h-2.6zM325.6 228.8h2.6v2.8h-2.6zM452.5 228.8h2.6v2.8h-2.6zM449.9 231.5h5.3v2.8h-5.3zM349.4 234.2h2.6v2.8h-2.6zM330.9 239.8h2.6v2.8h-2.6zM341.5 239.8h2.6v2.8h-2.6zM336.2 242.5h2.6v2.8h-2.6zM418.2 250.8h2.6v2.8h-2.6zM418.2 253.5h2.6v2.8h-2.6zM402.3 256.2h2.6v2.8h-2.6zM389.1 305.8h10.6v2.8h-10.6zM399.7 308.5h2.6v2.8h-2.6zM399.7 311.2h2.6v2.8h-2.6zM399.7 314.0h2.6v2.8h-2.6zM399.7 316.8h2.6v2.8h-2.6zM428.7 316.8h2.6v2.8h-2.6zM431.4 319.5h2.6v2.8h-2.6zM431.4 322.2h2.6v2.8h-2.6zM428.7 325.0h5.3v2.8h-5.3zM397.0 327.8h2.6v2.8h-2.6zM428.7 327.8h5.3v2.8h-5.3zM381.2 330.5h2.6v2.8h-2.6zM397.0 330.5h2.6v2.8h-2.6zM431.4 330.5h2.6v2.8h-2.6zM397.0 333.2h2.6v2.8h-2.6zM397.0 336.0h2.6v2.8h-2.6zM397.0 338.8h2.6v2.8h-2.6zM397.0 341.5h5.3v2.8h-5.3zM389.1 349.8h2.6v2.8h-2.6zM391.7 352.5h2.6v2.8h-2.6zM383.8 355.2h2.6v2.8h-2.6zM418.2 355.2h2.6v2.8h-2.6zM412.9 363.5h2.6v2.8h-2.6zM412.9 366.2h2.6v2.8h-2.6zM426.1 366.2h2.6v2.8h-2.6zM333.6 369.0h2.6v2.8h-2.6zM336.2 374.5h2.6v2.8h-2.6zM338.9 377.2h2.6v2.8h-2.6zM410.2 377.2h2.6v2.8h-2.6zM383.8 380.0h2.6v2.8h-2.6zM320.4 388.2h2.6v2.8h-2.6zM333.6 388.2h2.6v2.8h-2.6zM338.9 388.2h2.6v2.8h-2.6zM423.5 391.0h2.6v2.8h-2.6zM402.3 396.5h2.6v2.8h-2.6zM418.2 399.2h2.6v2.8h-2.6zM402.3 410.2h2.6v2.8h-2.6zM415.5 410.2h2.6v2.8h-2.6zM354.7 418.5h2.6v2.8h-2.6zM338.9 426.8h2.6v2.8h-2.6zM293.9 468.0h42.3v2.8h-42.3zM283.3 470.8h5.3v2.8h-5.3zM336.2 470.8h2.6v2.8h-2.6zM249.0 473.5h2.6v2.8h-2.6zM336.2 473.5h2.6v2.8h-2.6zM249.0 476.2h2.6v2.8h-2.6zM336.2 476.2h2.6v2.8h-2.6zM336.2 479.0h2.6v2.8h-2.6zM241.0 481.8h5.3v2.8h-5.3zM336.2 481.8h2.6v2.8h-2.6z"/>
<path fill="#00fbff" d="M460.5 83.0h5.3v2.8h-5.3zM452.5 85.8h2.6v2.8h-2.6zM449.9 88.5h2.6v2.8h-2.6zM449.9 91.2h2.6v2.8h-2.6zM465.8 91.2h2.6v2.8h-2.6zM449.9 94.0h2.6v2.8h-2.6zM449.9 96.8h2.6v2.8h-2.6zM463.1 96.8h2.6v2.8h-2.6zM449.9 99.5h13.2v2.8h-13.2zM442.0 107.8h2.6v2.8h-2.6zM439.3 110.5h5.3v2.8h-5.3zM439.3 113.2h2.6v2.8h-2.6zM452.5 113.2h2.6v2.8h-2.6zM439.3 116.0h2.6v2.8h-2.6zM439.3 118.8h2.6v2.8h-2.6zM457.8 118.8h2.6v2.8h-2.6zM444.6 124.2h2.6v2.8h-2.6zM457.8 124.2h2.6v2.8h-2.6zM455.2 127.0h5.3v2.8h-5.3zM460.5 129.8h7.9v2.8h-7.9zM457.8 132.5h2.6v2.8h-2.6zM471.0 132.5h2.6v2.8h-2.6zM468.4 135.2h2.6v2.8h-2.6zM452.5 138.0h2.6v2.8h-2.6zM468.4 138.0h2.6v2.8h-2.6zM449.9 140.8h2.6v2.8h-2.6zM468.4 140.8h2.6v2.8h-2.6zM249.0 143.5h2.6v2.8h-2.6zM444.6 143.5h2.6v2.8h-2.6zM468.4 143.5h2.6v2.8h-2.6zM249.0 146.2h2.6v2.8h-2.6zM436.7 146.2h2.6v2.8h-2.6zM249.0 149.0h2.6v2.8h-2.6zM241.0 151.8h7.9v2.8h-7.9zM251.6 151.8h2.6v2.8h-2.6zM251.6 154.5h2.6v2.8h-2.6zM428.7 154.5h2.6v2.8h-2.6zM420.8 157.2h7.9v2.8h-7.9zM460.5 157.2h2.6v2.8h-2.6zM238.4 160.0h2.6v2.8h-2.6zM415.5 160.0h2.6v2.8h-2.6zM434.0 160.0h10.6v2.8h-10.6zM235.8 162.8h2.6v2.8h-2.6zM410.2 162.8h2.6v2.8h-2.6zM431.4 162.8h2.6v2.8h-2.6zM447.2 162.8h2.6v2.8h-2.6zM407.6 165.5h2.6v2.8h-2.6zM431.4 165.5h2.6v2.8h-2.6zM449.9 165.5h2.6v2.8h-2.6zM407.6 168.2h2.6v2.8h-2.6zM431.4 168.2h2.6v2.8h-2.6zM217.2 171.0h2.6v2.8h-2.6zM407.6 171.0h2.6v2.8h-2.6zM434.0 171.0h2.6v2.8h-2.6zM214.6 173.8h2.6v2.8h-2.6zM251.6 173.8h2.6v2.8h-2.6zM344.1 173.8h2.6v2.8h-2.6zM399.7 173.8h7.9v2.8h-7.9zM436.7 173.8h7.9v2.8h-7.9zM251.6 176.5h2.6v2.8h-2.6zM344.1 176.5h5.3v2.8h-5.3zM399.7 176.5h7.9v2.8h-7.9zM442.0 176.5h2.6v2.8h-2.6zM251.6 179.2h2.6v2.8h-2.6zM344.1 179.2h5.3v2.8h-5.3zM407.6 179.2h7.9v2.8h-7.9zM442.0 179.2h2.6v2.8h-2.6zM196.1 182.0h2.6v2.8h-2.6zM251.6 182.0h2.6v2.8h-2.6zM344.1 182.0h5.3v2.8h-5.3zM412.9 182.0h5.3v2.8h-5.3zM442.0 182.0h2.6v2.8h-2.6zM193.5 184.8h2.6v2.8h-2.6zM251.6 184.8h2.6v2.8h-2.6zM344.1 184.8h5.3v2.8h-5.3zM415.5 184.8h2.6v2.8h-2.6zM442.0 184.8h2.6v2.8h-2.6zM254.3 187.5h2.6v2.8h-2.6zM415.5 187.5h2.6v2.8h-2.6zM251.6 190.2h2.6v2.8h-2.6zM418.2 190.2h2.6v2.8h-2.6zM444.6 190.2h2.6v2.8h-2.6zM251.6 193.0h2.6v2.8h-2.6zM418.2 193.0h2.6v2.8h-2.6zM251.6 195.8h2.6v2.8h-2.6zM418.2 195.8h2.6v2.8h-2.6zM201.4 198.5h50.2v2.8h-50.2zM357.4 198.5h2.6v2.8h-2.6zM447.2 198.5h2.6v2.8h-2.6zM198.7 201.2h2.6v2.8h-2.6zM357.4 201.2h2.6v2.8h-2.6zM198.7 204.0h2.6v2.8h-2.6zM357.4 204.0h2.6v2.8h-2.6zM198.7 206.8h2.6v2.8h-2.6zM357.4 206.8h2.6v2.8h-2.6zM423.5 206.8h2.6v2.8h-2.6zM142.3 209.5h56.4v2.8h-56.4zM315.1 209.5h5.3v2.8h-5.3zM320.4 212.2h2.6v2.8h-2.6zM354.7 212.2h2.6v2.8h-2.6zM449.9 212.2h2.6v2.8h-2.6zM323.0 215.0h2.6v2.8h-2.6zM431.4 215.0h2.6v2.8h-2.6zM323.0 217.8h2.6v2.8h-2.6zM444.6 217.8h2.6v2.8h-2.6zM442.0 220.5h2.6v2.8h-2.6zM325.6 226.0h2.6v2.8h-2.6zM352.1 228.8h2.6v2.8h-2.6zM449.9 228.8h2.6v2.8h-2.6zM328.3 234.2h2.6v2.8h-2.6zM344.1 237.0h2.6v2.8h-2.6zM402.3 248.0h2.6v2.8h-2.6zM428.7 319.5h2.6v2.8h-2.6zM428.7 322.2h2.6v2.8h-2.6zM394.4 336.0h2.6v2.8h-2.6zM399.7 338.8h2.6v2.8h-2.6zM420.8 355.2h2.6v2.8h-2.6zM415.5 358.0h2.6v2.8h-2.6zM426.1 360.8h2.6v2.8h-2.6zM426.1 363.5h2.6v2.8h-2.6zM323.0 369.0h2.6v2.8h-2.6zM330.9 369.0h2.6v2.8h-2.6zM412.9 369.0h2.6v2.8h-2.6zM320.4 371.8h2.6v2.8h-2.6zM336.2 377.2h2.6v2.8h-2.6zM346.8 380.0h2.6v2.8h-2.6zM389.1 382.8h2.6v2.8h-2.6zM407.6 385.5h2.6v2.8h-2.6zM341.5 388.2h2.6v2.8h-2.6zM328.3 391.0h2.6v2.8h-2.6zM402.3 399.2h2.6v2.8h-2.6zM352.1 413.0h2.6v2.8h-2.6zM354.7 415.8h2.6v2.8h-2.6zM349.4 429.5h2.6v2.8h-2.6zM346.8 432.2h2.6v2.8h-2.6zM288.6 470.8h47.6v2.8h-47.6zM249.0 479.0h2.6v2.8h-2.6zM246.3 481.8h2.6v2.8h-2.6z"/>
<path fill="#00e1ff" d="M465.8 83.0h2.6v2.8h-2.6zM449.9 85.8h2.6v2.8h-2.6zM468.4 85.8h2.6v2.8h-2.6zM447.2 91.2h2.6v2.8h-2.6zM447.2 94.0h2.6v2.8h-2.6zM447.2 96.8h2.6v2.8h-2.6zM465.8 96.8h2.6v2.8h-2.6zM447.2 99.5h2.6v2.8h-2.6zM463.1 99.5h2.6v2.8h-2.6zM444.6 102.2h15.9v2.8h-15.9zM439.3 105.0h10.6v2.8h-10.6zM436.7 107.8h2.6v2.8h-2.6zM444.6 107.8h2.6v2.8h-2.6zM447.2 110.5h2.6v2.8h-2.6zM455.2 113.2h2.6v2.8h-2.6zM457.8 116.0h2.6v2.8h-2.6zM436.7 121.5h2.6v2.8h-2.6zM442.0 124.2h2.6v2.8h-2.6zM460.5 124.2h2.6v2.8h-2.6zM463.1 127.0h2.6v2.8h-2.6zM455.2 129.8h2.6v2.8h-2.6zM473.7 129.8h2.6v2.8h-2.6zM455.2 132.5h2.6v2.8h-2.6zM452.5 135.2h2.6v2.8h-2.6zM471.0 135.2h2.6v2.8h-2.6zM449.9 138.0h2.6v2.8h-2.6zM444.6 140.8h2.6v2.8h-2.6zM436.7 143.5h2.6v2.8h-2.6zM246.3 146.2h2.6v2.8h-2.6zM431.4 146.2h2.6v2.8h-2.6zM243.7 149.0h2.6v2.8h-2.6zM428.7 149.0h2.6v2.8h-2.6zM426.1 151.8h2.6v2.8h-2.6zM468.4 151.8h2.6v2.8h-2.6zM238.4 154.5h2.6v2.8h-2.6zM423.5 154.5h2.6v2.8h-2.6zM463.1 157.2h2.6v2.8h-2.6zM410.2 160.0h2.6v2.8h-2.6zM219.9 162.8h13.2v2.8h-13.2zM407.6 162.8h2.6v2.8h-2.6zM436.7 162.8h2.6v2.8h-2.6zM455.2 162.8h2.6v2.8h-2.6zM217.2 165.5h2.6v2.8h-2.6zM344.1 165.5h2.6v2.8h-2.6zM436.7 165.5h2.6v2.8h-2.6zM447.2 165.5h2.6v2.8h-2.6zM344.1 168.2h5.3v2.8h-5.3zM404.9 168.2h2.6v2.8h-2.6zM439.3 168.2h2.6v2.8h-2.6zM444.6 168.2h10.6v2.8h-10.6zM341.5 171.0h2.6v2.8h-2.6zM402.3 171.0h2.6v2.8h-2.6zM442.0 171.0h7.9v2.8h-7.9zM198.7 173.8h13.2v2.8h-13.2zM341.5 173.8h2.6v2.8h-2.6zM444.6 173.8h2.6v2.8h-2.6zM196.1 176.5h2.6v2.8h-2.6zM394.4 176.5h2.6v2.8h-2.6zM254.3 179.2h2.6v2.8h-2.6zM349.4 179.2h2.6v2.8h-2.6zM397.0 179.2h2.6v2.8h-2.6zM349.4 182.0h2.6v2.8h-2.6zM402.3 182.0h5.3v2.8h-5.3zM142.3 184.8h48.5v2.8h-48.5zM256.9 184.8h2.6v2.8h-2.6zM349.4 184.8h2.6v2.8h-2.6zM407.6 184.8h2.6v2.8h-2.6zM259.5 187.5h2.6v2.8h-2.6zM338.9 187.5h2.6v2.8h-2.6zM352.1 187.5h2.6v2.8h-2.6zM410.2 187.5h2.6v2.8h-2.6zM256.9 190.2h2.6v2.8h-2.6zM323.0 190.2h10.6v2.8h-10.6zM336.2 190.2h2.6v2.8h-2.6zM354.7 190.2h2.6v2.8h-2.6zM412.9 190.2h2.6v2.8h-2.6zM447.2 190.2h2.6v2.8h-2.6zM256.9 193.0h2.6v2.8h-2.6zM357.4 193.0h2.6v2.8h-2.6zM412.9 193.0h2.6v2.8h-2.6zM312.4 195.8h2.6v2.8h-2.6zM360.0 195.8h2.6v2.8h-2.6zM254.3 198.5h2.6v2.8h-2.6zM360.0 198.5h2.6v2.8h-2.6zM415.5 198.5h2.6v2.8h-2.6zM204.0 201.2h2.6v2.8h-2.6zM360.0 201.2h2.6v2.8h-2.6zM418.2 201.2h2.6v2.8h-2.6zM201.4 204.0h2.6v2.8h-2.6zM360.0 204.0h2.6v2.8h-2.6zM452.5 204.0h2.6v2.8h-2.6zM198.7 209.5h2.6v2.8h-2.6zM423.5 209.5h2.6v2.8h-2.6zM357.4 212.2h2.6v2.8h-2.6zM452.5 212.2h2.6v2.8h-2.6zM315.1 215.0h2.6v2.8h-2.6zM428.7 215.0h2.6v2.8h-2.6zM449.9 215.0h2.6v2.8h-2.6zM317.7 217.8h2.6v2.8h-2.6zM354.7 217.8h2.6v2.8h-2.6zM447.2 217.8h2.6v2.8h-2.6zM320.4 220.5h2.6v2.8h-2.6zM436.7 220.5h2.6v2.8h-2.6zM444.6 220.5h2.6v2.8h-2.6zM323.0 223.2h2.6v2.8h-2.6zM439.3 223.2h10.6v2.8h-10.6zM444.6 226.0h7.9v2.8h-7.9zM447.2 228.8h2.6v2.8h-2.6zM352.1 231.5h2.6v2.8h-2.6zM447.2 231.5h2.6v2.8h-2.6zM449.9 234.2h2.6v2.8h-2.6zM328.3 237.0h2.6v2.8h-2.6zM346.8 237.0h2.6v2.8h-2.6zM333.6 242.5h2.6v2.8h-2.6zM404.9 245.2h2.6v2.8h-2.6zM412.9 245.2h2.6v2.8h-2.6zM412.9 259.0h2.6v2.8h-2.6zM383.8 308.5h2.6v2.8h-2.6zM426.1 316.8h2.6v2.8h-2.6zM431.4 316.8h2.6v2.8h-2.6zM399.7 319.5h2.6v2.8h-2.6zM426.1 319.5h2.6v2.8h-2.6zM354.7 327.8h5.3v2.8h-5.3zM357.4 330.5h2.6v2.8h-2.6zM428.7 330.5h2.6v2.8h-2.6zM399.7 336.0h5.3v2.8h-5.3zM394.4 338.8h2.6v2.8h-2.6zM402.3 338.8h2.6v2.8h-2.6zM402.3 341.5h2.6v2.8h-2.6zM397.0 344.2h5.3v2.8h-5.3zM386.4 349.8h2.6v2.8h-2.6zM391.7 349.8h2.6v2.8h-2.6zM346.8 352.5h2.6v2.8h-2.6zM423.5 355.2h2.6v2.8h-2.6zM426.1 358.0h2.6v2.8h-2.6zM381.2 363.5h2.6v2.8h-2.6zM381.2 366.2h2.6v2.8h-2.6zM381.2 369.0h2.6v2.8h-2.6zM426.1 369.0h2.6v2.8h-2.6zM336.2 371.8h2.6v2.8h-2.6zM381.2 371.8h2.6v2.8h-2.6zM410.2 374.5h2.6v2.8h-2.6zM341.5 377.2h2.6v2.8h-2.6zM391.7 380.0h2.6v2.8h-2.6zM407.6 382.8h2.6v2.8h-2.6zM426.1 382.8h2.6v2.8h-2.6zM336.2 388.2h2.6v2.8h-2.6zM349.4 388.2h2.6v2.8h-2.6zM404.9 388.2h2.6v2.8h-2.6zM330.9 391.0h2.6v2.8h-2.6zM346.8 410.2h2.6v2.8h-2.6zM341.5 413.0h2.6v2.8h-2.6zM354.7 413.0h2.6v2.8h-2.6zM404.9 415.8h2.6v2.8h-2.6zM412.9 415.8h2.6v2.8h-2.6zM407.6 418.5h5.3v2.8h-5.3zM338.9 424.0h2.6v2.8h-2.6zM352.1 424.0h2.6v2.8h-2.6zM338.9 429.5h2.6v2.8h-2.6zM341.5 432.2h2.6v2.8h-2.6zM291.3 468.0h2.6v2.8h-2.6zM251.6 470.8h31.7v2.8h-31.7zM246.3 479.0h2.6v2.8h-2.6zM209.3 481.8h31.7v2.8h-31.7zM206.7 484.5h2.6v2.8h-2.6zM336.2 484.5h2.6v2.8h-2.6zM206.7 487.2h2.6v17.8h-2.6zM336.2 487.2h2.6v17.8h-2.6z"/>
<path fill="#09fff6" d="M455.2 85.8h2.6v2.8h-2.6zM465.8 85.8h2.6v2.8h-2.6zM452.5 91.2h2.6v2.8h-2.6zM452.5 94.0h2.6v2.8h-2.6zM452.5 96.8h7.9v2.8h-7.9zM442.0 113.2h10.6v2.8h-10.6zM455.2 116.0h2.6v2.8h-2.6zM442.0 121.5h2.6v2.8h-2.6zM457.8 121.5h2.6v2.8h-2.6zM449.9 127.0h5.3v2.8h-5.3zM468.4 132.5h2.6v2.8h-2.6zM455.2 135.2h2.6v2.8h-2.6zM447.2 143.5h2.6v2.8h-2.6zM439.3 146.2h2.6v2.8h-2.6zM434.0 149.0h2.6v2.8h-2.6zM249.0 151.8h2.6v2.8h-2.6zM431.4 151.8h2.6v2.8h-2.6zM465.8 151.8h2.6v2.8h-2.6zM241.0 154.5h10.6v2.8h-10.6zM463.1 154.5h2.6v2.8h-2.6zM241.0 157.2h10.6v2.8h-10.6zM428.7 157.2h5.3v2.8h-5.3zM241.0 160.0h10.6v2.8h-10.6zM428.7 160.0h5.3v2.8h-5.3zM238.4 162.8h13.2v2.8h-13.2zM452.5 162.8h2.6v2.8h-2.6zM219.9 165.5h31.7v2.8h-31.7zM219.9 168.2h31.7v2.8h-31.7zM410.2 168.2h2.6v2.8h-2.6zM428.7 168.2h2.6v2.8h-2.6zM219.9 171.0h31.7v2.8h-31.7zM410.2 171.0h2.6v2.8h-2.6zM428.7 171.0h5.3v2.8h-5.3zM217.2 173.8h34.4v2.8h-34.4zM407.6 173.8h10.6v2.8h-10.6zM423.5 173.8h13.2v2.8h-13.2zM198.7 176.5h52.9v2.8h-52.9zM407.6 176.5h18.5v2.8h-18.5zM436.7 176.5h5.3v2.8h-5.3zM198.7 179.2h52.9v2.8h-52.9zM415.5 179.2h7.9v2.8h-7.9zM439.3 179.2h2.6v2.8h-2.6zM198.7 182.0h52.9v2.8h-52.9zM418.2 182.0h2.6v2.8h-2.6zM196.1 184.8h55.5v2.8h-55.5zM418.2 184.8h2.6v2.8h-2.6zM142.3 187.5h112.0v2.8h-112.0zM344.1 187.5h5.3v2.8h-5.3zM418.2 187.5h2.6v2.8h-2.6zM442.0 187.5h2.6v2.8h-2.6zM142.3 190.2h109.3v2.8h-109.3zM341.5 190.2h2.6v2.8h-2.6zM349.4 190.2h2.6v2.8h-2.6zM142.3 193.0h109.3v2.8h-109.3zM320.4 193.0h2.6v2.8h-2.6zM330.9 193.0h2.6v2.8h-2.6zM338.9 193.0h2.6v2.8h-2.6zM352.1 193.0h2.6v2.8h-2.6zM444.6 193.0h2.6v2.8h-2.6zM142.3 195.8h109.3v2.8h-109.3zM315.1 195.8h2.6v2.8h-2.6zM333.6 195.8h5.3v2.8h-5.3zM354.7 195.8h2.6v2.8h-2.6zM142.3 198.5h59.1v2.8h-59.1zM142.3 201.2h56.4v2.8h-56.4zM420.8 201.2h2.6v2.8h-2.6zM142.3 204.0h56.4v2.8h-56.4zM315.1 204.0h2.6v2.8h-2.6zM449.9 204.0h2.6v2.8h-2.6zM142.3 206.8h56.4v2.8h-56.4zM315.1 206.8h5.3v2.8h-5.3zM320.4 209.5h5.3v2.8h-5.3zM354.7 209.5h2.6v2.8h-2.6zM426.1 209.5h2.6v2.8h-2.6zM323.0 212.2h2.6v2.8h-2.6zM428.7 212.2h2.6v2.8h-2.6zM447.2 215.0h2.6v2.8h-2.6zM436.7 217.8h2.6v2.8h-2.6zM352.1 223.2h2.6v2.8h-2.6zM352.1 226.0h2.6v2.8h-2.6zM349.4 231.5h2.6v2.8h-2.6zM346.8 234.2h2.6v2.8h-2.6zM338.9 239.8h2.6v2.8h-2.6zM410.2 245.2h2.6v2.8h-2.6zM415.5 248.0h2.6v2.8h-2.6zM415.5 256.2h2.6v2.8h-2.6zM407.6 259.0h5.3v2.8h-5.3zM381.2 314.0h2.6v2.8h-2.6zM397.0 325.0h2.6v2.8h-2.6zM381.2 327.8h2.6v2.8h-2.6zM386.4 336.0h2.6v2.8h-2.6zM391.7 336.0h2.6v2.8h-2.6zM386.4 352.5h2.6v2.8h-2.6zM391.7 355.2h2.6v2.8h-2.6zM328.3 369.0h2.6v2.8h-2.6zM412.9 371.8h2.6v2.8h-2.6zM391.7 377.2h2.6v2.8h-2.6zM336.2 380.0h5.3v2.8h-5.3zM410.2 380.0h2.6v2.8h-2.6zM386.4 382.8h2.6v2.8h-2.6zM336.2 385.5h2.6v2.8h-2.6zM346.8 388.2h2.6v2.8h-2.6zM323.0 391.0h2.6v2.8h-2.6zM420.8 393.8h2.6v2.8h-2.6zM402.3 402.0h2.6v2.8h-2.6zM352.1 421.2h2.6v2.8h-2.6zM344.1 432.2h2.6v2.8h-2.6zM251.6 473.5h84.6v2.8h-84.6zM251.6 476.2h84.6v2.8h-84.6zM251.6 479.0h84.6v2.8h-84.6zM249.0 481.8h87.2v2.8h-87.2zM209.3 484.5h126.9v2.8h-126.9zM209.3 487.2h126.9v17.8h-126.9z"/>
<path fill="#22ffdd" d="M457.8 85.8h2.6v2.8h-2.6zM455.2 88.5h2.6v2.8h-2.6zM457.8 91.2h2.6v2.8h-2.6zM463.1 91.2h2.6v2.8h-2.6zM460.5 94.0h2.6v2.8h-2.6zM444.6 116.0h2.6v2.8h-2.6zM455.2 124.2h2.6v2.8h-2.6zM457.8 135.2h2.6v2.8h-2.6zM465.8 135.2h2.6v2.8h-2.6zM455.2 138.0h2.6v2.8h-2.6zM444.6 146.2h2.6v2.8h-2.6zM439.3 149.0h2.6v2.8h-2.6zM465.8 149.0h2.6v2.8h-2.6zM434.0 154.5h2.6v2.8h-2.6zM460.5 154.5h2.6v2.8h-2.6zM442.0 157.2h2.6v2.8h-2.6zM447.2 160.0h2.6v2.8h-2.6zM415.5 162.8h2.6v2.8h-2.6zM426.1 162.8h2.6v2.8h-2.6zM412.9 165.5h2.6v2.8h-2.6zM426.1 165.5h2.6v2.8h-2.6zM415.5 168.2h2.6v2.8h-2.6zM423.5 168.2h2.6v2.8h-2.6zM418.2 171.0h5.3v2.8h-5.3zM423.5 179.2h2.6v2.8h-2.6zM436.7 179.2h2.6v2.8h-2.6zM439.3 187.5h2.6v2.8h-2.6zM420.8 190.2h2.6v2.8h-2.6zM323.0 193.0h5.3v2.8h-5.3zM420.8 193.0h2.6v2.8h-2.6zM317.7 195.8h2.6v2.8h-2.6zM420.8 195.8h2.6v2.8h-2.6zM352.1 198.5h2.6v2.8h-2.6zM352.1 201.2h2.6v2.8h-2.6zM447.2 201.2h2.6v2.8h-2.6zM317.7 204.0h2.6v2.8h-2.6zM352.1 204.0h2.6v2.8h-2.6zM423.5 204.0h2.6v2.8h-2.6zM352.1 206.8h2.6v2.8h-2.6zM352.1 209.5h2.6v2.8h-2.6zM352.1 212.2h2.6v2.8h-2.6zM352.1 215.0h2.6v2.8h-2.6zM434.0 215.0h2.6v2.8h-2.6zM352.1 217.8h2.6v2.8h-2.6zM349.4 228.8h2.6v2.8h-2.6zM328.3 231.5h2.6v2.8h-2.6zM341.5 237.0h2.6v2.8h-2.6zM386.4 308.5h2.6v2.8h-2.6zM394.4 308.5h2.6v2.8h-2.6zM397.0 311.2h2.6v2.8h-2.6zM397.0 322.2h2.6v2.8h-2.6zM394.4 333.2h2.6v2.8h-2.6zM423.5 371.8h2.6v2.8h-2.6zM320.4 374.5h2.6v2.8h-2.6zM333.6 374.5h2.6v2.8h-2.6zM391.7 374.5h2.6v2.8h-2.6zM423.5 374.5h2.6v2.8h-2.6zM320.4 377.2h2.6v2.8h-2.6zM333.6 377.2h2.6v2.8h-2.6zM333.6 380.0h2.6v2.8h-2.6zM333.6 382.8h2.6v2.8h-2.6zM320.4 385.5h2.6v2.8h-2.6zM338.9 385.5h2.6v2.8h-2.6zM325.6 391.0h2.6v2.8h-2.6zM402.3 404.8h2.6v2.8h-2.6zM349.4 413.0h2.6v2.8h-2.6zM404.9 413.0h2.6v2.8h-2.6zM412.9 413.0h2.6v2.8h-2.6zM407.6 415.8h2.6v2.8h-2.6zM341.5 429.5h2.6v2.8h-2.6z"/>
<path fill="#2fffd0" d="M460.5 85.8h5.3v2.8h-5.3zM457.8 88.5h2.6v2.8h-2.6zM460.5 91.2h2.6v2.8h-2.6zM447.2 116.0h2.6v2.8h-2.6zM452.5 116.0h2.6v2.8h-2.6zM444.6 118.8h2.6v2.8h-2.6zM455.2 118.8h2.6v2.8h-2.6zM444.6 121.5h2.6v2.8h-2.6zM465.8 138.0h2.6v2.8h-2.6zM452.5 143.5h2.6v2.8h-2.6zM447.2 146.2h2.6v2.8h-2.6zM465.8 146.2h2.6v2.8h-2.6zM442.0 149.0h2.6v2.8h-2.6zM436.7 151.8h2.6v2.8h-2.6zM463.1 151.8h2.6v2.8h-2.6zM436.7 154.5h2.6v2.8h-2.6zM452.5 160.0h2.6v2.8h-2.6zM423.5 162.8h2.6v2.8h-2.6zM415.5 165.5h2.6v2.8h-2.6zM423.5 165.5h2.6v2.8h-2.6zM418.2 168.2h5.3v2.8h-5.3zM426.1 179.2h2.6v2.8h-2.6zM434.0 179.2h2.6v2.8h-2.6zM423.5 182.0h2.6v2.8h-2.6zM436.7 182.0h2.6v2.8h-2.6zM344.1 193.0h5.3v2.8h-5.3zM442.0 193.0h2.6v2.8h-2.6zM330.9 195.8h2.6v2.8h-2.6zM341.5 195.8h2.6v2.8h-2.6zM349.4 195.8h2.6v2.8h-2.6zM336.2 198.5h2.6v2.8h-2.6zM444.6 198.5h2.6v2.8h-2.6zM317.7 201.2h2.6v2.8h-2.6zM320.4 204.0h2.6v2.8h-2.6zM426.1 206.8h2.6v2.8h-2.6zM325.6 209.5h2.6v2.8h-2.6zM428.7 209.5h2.6v2.8h-2.6zM325.6 212.2h2.6v2.8h-2.6zM431.4 212.2h2.6v2.8h-2.6zM447.2 212.2h2.6v2.8h-2.6zM325.6 215.0h2.6v2.8h-2.6zM444.6 215.0h2.6v2.8h-2.6zM325.6 220.5h2.6v2.8h-2.6zM349.4 226.0h2.6v2.8h-2.6zM346.8 231.5h2.6v2.8h-2.6zM344.1 234.2h2.6v2.8h-2.6zM391.7 308.5h2.6v2.8h-2.6zM383.8 311.2h2.6v2.8h-2.6zM397.0 314.0h2.6v2.8h-2.6zM381.2 316.8h2.6v2.8h-2.6zM381.2 322.2h2.6v2.8h-2.6zM391.7 360.8h2.6v2.8h-2.6zM415.5 360.8h2.6v2.8h-2.6zM330.9 371.8h2.6v2.8h-2.6zM412.9 377.2h2.6v2.8h-2.6zM423.5 377.2h2.6v2.8h-2.6zM320.4 380.0h2.6v2.8h-2.6zM389.1 380.0h2.6v2.8h-2.6zM338.9 382.8h2.6v2.8h-2.6zM415.5 404.8h2.6v2.8h-2.6zM344.1 413.0h2.6v2.8h-2.6zM352.1 415.8h2.6v2.8h-2.6zM352.1 418.5h2.6v2.8h-2.6zM349.4 426.8h2.6v2.8h-2.6z"/>
<path fill="#15ffea" d="M452.5 88.5h2.6v2.8h-2.6zM465.8 88.5h2.6v2.8h-2.6zM455.2 91.2h2.6v2.8h-2.6zM455.2 94.0h5.3v2.8h-5.3zM463.1 94.0h2.6v2.8h-2.6zM460.5 96.8h2.6v2.8h-2.6zM442.0 116.0h2.6v2.8h-2.6zM442.0 118.8h2.6v2.8h-2.6zM447.2 124.2h2.6v2.8h-2.6zM460.5 132.5h7.9v2.8h-7.9zM452.5 140.8h2.6v2.8h-2.6zM449.9 143.5h2.6v2.8h-2.6zM442.0 146.2h2.6v2.8h-2.6zM436.7 149.0h2.6v2.8h-2.6zM434.0 151.8h2.6v2.8h-2.6zM431.4 154.5h2.6v2.8h-2.6zM434.0 157.2h7.9v2.8h-7.9zM457.8 157.2h2.6v2.8h-2.6zM418.2 160.0h10.6v2.8h-10.6zM444.6 160.0h2.6v2.8h-2.6zM455.2 160.0h2.6v2.8h-2.6zM412.9 162.8h2.6v2.8h-2.6zM428.7 162.8h2.6v2.8h-2.6zM449.9 162.8h2.6v2.8h-2.6zM410.2 165.5h2.6v2.8h-2.6zM428.7 165.5h2.6v2.8h-2.6zM412.9 168.2h2.6v2.8h-2.6zM426.1 168.2h2.6v2.8h-2.6zM412.9 171.0h5.3v2.8h-5.3zM423.5 171.0h5.3v2.8h-5.3zM418.2 173.8h5.3v2.8h-5.3zM426.1 176.5h10.6v2.8h-10.6zM420.8 182.0h2.6v2.8h-2.6zM439.3 182.0h2.6v2.8h-2.6zM420.8 184.8h2.6v2.8h-2.6zM439.3 184.8h2.6v2.8h-2.6zM420.8 187.5h2.6v2.8h-2.6zM344.1 190.2h5.3v2.8h-5.3zM442.0 190.2h2.6v2.8h-2.6zM328.3 193.0h2.6v2.8h-2.6zM341.5 193.0h2.6v2.8h-2.6zM349.4 193.0h2.6v2.8h-2.6zM338.9 195.8h2.6v2.8h-2.6zM352.1 195.8h2.6v2.8h-2.6zM444.6 195.8h2.6v2.8h-2.6zM315.1 198.5h2.6v2.8h-2.6zM354.7 198.5h2.6v2.8h-2.6zM420.8 198.5h2.6v2.8h-2.6zM315.1 201.2h2.6v2.8h-2.6zM354.7 201.2h2.6v2.8h-2.6zM354.7 204.0h2.6v2.8h-2.6zM320.4 206.8h5.3v2.8h-5.3zM354.7 206.8h2.6v2.8h-2.6zM449.9 206.8h2.6v2.8h-2.6zM449.9 209.5h2.6v2.8h-2.6zM439.3 217.8h5.3v2.8h-5.3zM352.1 220.5h2.6v2.8h-2.6zM325.6 223.2h2.6v2.8h-2.6zM330.9 237.0h2.6v2.8h-2.6zM333.6 239.8h5.3v2.8h-5.3zM407.6 245.2h2.6v2.8h-2.6zM397.0 308.5h2.6v2.8h-2.6zM381.2 325.0h2.6v2.8h-2.6zM383.8 333.2h2.6v2.8h-2.6zM389.1 336.0h2.6v2.8h-2.6zM389.1 352.5h2.6v2.8h-2.6zM383.8 358.0h2.6v2.8h-2.6zM391.7 358.0h2.6v2.8h-2.6zM423.5 358.0h2.6v2.8h-2.6zM325.6 369.0h2.6v2.8h-2.6zM333.6 371.8h2.6v2.8h-2.6zM412.9 374.5h2.6v2.8h-2.6zM383.8 377.2h2.6v2.8h-2.6zM341.5 380.0h5.3v2.8h-5.3zM336.2 382.8h2.6v2.8h-2.6zM349.4 382.8h2.6v2.8h-2.6zM410.2 382.8h2.6v2.8h-2.6zM333.6 385.5h2.6v2.8h-2.6zM349.4 385.5h2.6v2.8h-2.6zM330.9 388.2h2.6v2.8h-2.6zM344.1 388.2h2.6v2.8h-2.6zM423.5 388.2h2.6v2.8h-2.6zM404.9 391.0h2.6v2.8h-2.6zM418.2 396.5h2.6v2.8h-2.6zM402.3 407.5h2.6v2.8h-2.6zM415.5 407.5h2.6v2.8h-2.6zM341.5 415.8h2.6v2.8h-2.6zM410.2 415.8h2.6v2.8h-2.6z"/>
<path fill="#48ffb7" d="M460.5 88.5h2.6v2.8h-2.6zM447.2 121.5h2.6v2.8h-2.6zM457.8 138.0h2.6v2.8h-2.6zM465.8 140.8h2.6v2.8h-2.6zM452.5 146.2h2.6v2.8h-2.6zM447.2 149.0h2.6v2.8h-2.6zM463.1 149.0h2.6v2.8h-2.6zM460.5 151.8h2.6v2.8h-2.6zM442.0 154.5h2.6v2.8h-2.6zM457.8 154.5h2.6v2.8h-2.6zM447.2 157.2h2.6v2.8h-2.6zM418.2 165.5h5.3v2.8h-5.3zM423.5 187.5h2.6v2.8h-2.6zM436.7 187.5h2.6v2.8h-2.6zM423.5 190.2h2.6v2.8h-2.6zM439.3 193.0h2.6v2.8h-2.6zM320.4 195.8h2.6v2.8h-2.6zM328.3 195.8h2.6v2.8h-2.6zM344.1 195.8h5.3v2.8h-5.3zM341.5 198.5h2.6v2.8h-2.6zM346.8 198.5h2.6v2.8h-2.6zM346.8 201.2h2.6v2.8h-2.6zM444.6 201.2h2.6v2.8h-2.6zM346.8 204.0h2.6v2.8h-2.6zM426.1 204.0h2.6v2.8h-2.6zM346.8 206.8h2.6v2.8h-2.6zM447.2 209.5h2.6v2.8h-2.6zM349.4 212.2h2.6v2.8h-2.6zM434.0 212.2h2.6v2.8h-2.6zM442.0 215.0h2.6v2.8h-2.6zM349.4 223.2h2.6v2.8h-2.6zM346.8 228.8h2.6v2.8h-2.6zM341.5 234.2h2.6v2.8h-2.6zM333.6 237.0h2.6v2.8h-2.6zM404.9 256.2h2.6v2.8h-2.6zM394.4 311.2h2.6v2.8h-2.6zM391.7 333.2h2.6v2.8h-2.6zM420.8 358.0h2.6v2.8h-2.6zM423.5 360.8h2.6v2.8h-2.6zM415.5 363.5h2.6v2.8h-2.6zM415.5 366.2h2.6v2.8h-2.6zM423.5 366.2h2.6v2.8h-2.6zM415.5 369.0h2.6v2.8h-2.6zM415.5 371.8h2.6v2.8h-2.6zM341.5 382.8h2.6v2.8h-2.6zM423.5 382.8h2.6v2.8h-2.6zM330.9 385.5h2.6v2.8h-2.6zM341.5 385.5h2.6v2.8h-2.6zM323.0 388.2h2.6v2.8h-2.6zM415.5 399.2h2.6v2.8h-2.6zM341.5 424.0h2.6v2.8h-2.6zM349.4 424.0h2.6v2.8h-2.6zM341.5 426.8h2.6v2.8h-2.6z"/>
<path fill="#3cffc3" d="M463.1 88.5h2.6v2.8h-2.6zM449.9 116.0h2.6v2.8h-2.6zM455.2 121.5h2.6v2.8h-2.6zM449.9 124.2h5.3v2.8h-5.3zM460.5 135.2h5.3v2.8h-5.3zM455.2 140.8h2.6v2.8h-2.6zM465.8 143.5h2.6v2.8h-2.6zM449.9 146.2h2.6v2.8h-2.6zM444.6 149.0h2.6v2.8h-2.6zM439.3 151.8h2.6v2.8h-2.6zM439.3 154.5h2.6v2.8h-2.6zM444.6 157.2h2.6v2.8h-2.6zM455.2 157.2h2.6v2.8h-2.6zM449.9 160.0h2.6v2.8h-2.6zM418.2 162.8h5.3v2.8h-5.3zM428.7 179.2h5.3v2.8h-5.3zM426.1 182.0h2.6v2.8h-2.6zM434.0 182.0h2.6v2.8h-2.6zM423.5 184.8h2.6v2.8h-2.6zM436.7 184.8h2.6v2.8h-2.6zM439.3 190.2h2.6v2.8h-2.6zM442.0 195.8h2.6v2.8h-2.6zM317.7 198.5h2.6v2.8h-2.6zM333.6 198.5h2.6v2.8h-2.6zM338.9 198.5h2.6v2.8h-2.6zM349.4 198.5h2.6v2.8h-2.6zM320.4 201.2h2.6v2.8h-2.6zM349.4 201.2h2.6v2.8h-2.6zM423.5 201.2h2.6v2.8h-2.6zM323.0 204.0h2.6v2.8h-2.6zM349.4 204.0h2.6v2.8h-2.6zM447.2 204.0h2.6v2.8h-2.6zM325.6 206.8h2.6v2.8h-2.6zM349.4 206.8h2.6v2.8h-2.6zM349.4 209.5h2.6v2.8h-2.6zM436.7 215.0h2.6v2.8h-2.6zM325.6 217.8h2.6v2.8h-2.6zM328.3 228.8h2.6v2.8h-2.6zM330.9 234.2h2.6v2.8h-2.6zM338.9 237.0h2.6v2.8h-2.6zM402.3 250.8h2.6v2.8h-2.6zM402.3 253.5h2.6v2.8h-2.6zM389.1 308.5h2.6v2.8h-2.6zM397.0 316.8h2.6v2.8h-2.6zM381.2 319.5h2.6v2.8h-2.6zM397.0 319.5h2.6v2.8h-2.6zM394.4 330.5h2.6v2.8h-2.6zM386.4 355.2h5.3v2.8h-5.3zM418.2 358.0h2.6v2.8h-2.6zM383.8 360.8h2.6v2.8h-2.6zM391.7 363.5h2.6v2.8h-2.6zM391.7 366.2h2.6v2.8h-2.6zM391.7 369.0h2.6v2.8h-2.6zM423.5 369.0h2.6v2.8h-2.6zM391.7 371.8h2.6v2.8h-2.6zM383.8 374.5h2.6v2.8h-2.6zM386.4 380.0h2.6v2.8h-2.6zM412.9 380.0h2.6v2.8h-2.6zM423.5 380.0h2.6v2.8h-2.6zM320.4 382.8h2.6v2.8h-2.6zM410.2 385.5h2.6v2.8h-2.6zM423.5 385.5h2.6v2.8h-2.6zM328.3 388.2h2.6v2.8h-2.6zM407.6 388.2h2.6v2.8h-2.6zM420.8 391.0h2.6v2.8h-2.6zM404.9 393.8h2.6v2.8h-2.6zM418.2 393.8h2.6v2.8h-2.6zM415.5 402.0h2.6v2.8h-2.6zM346.8 413.0h2.6v2.8h-2.6zM341.5 418.5h2.6v2.8h-2.6zM341.5 421.2h2.6v2.8h-2.6z"/>
<path fill="#55ffaa" d="M447.2 118.8h2.6v2.8h-2.6zM455.2 143.5h2.6v2.8h-2.6zM442.0 151.8h2.6v2.8h-2.6zM449.9 157.2h5.3v2.8h-5.3zM428.7 182.0h5.3v2.8h-5.3zM426.1 184.8h2.6v2.8h-2.6zM434.0 184.8h2.6v2.8h-2.6zM423.5 193.0h2.6v2.8h-2.6zM423.5 195.8h2.6v2.8h-2.6zM320.4 198.5h2.6v2.8h-2.6zM330.9 198.5h2.6v2.8h-2.6zM344.1 198.5h2.6v2.8h-2.6zM423.5 198.5h2.6v2.8h-2.6zM442.0 198.5h2.6v2.8h-2.6zM323.0 201.2h2.6v2.8h-2.6zM344.1 201.2h2.6v2.8h-2.6zM325.6 204.0h2.6v2.8h-2.6zM428.7 206.8h2.6v2.8h-2.6zM447.2 206.8h2.6v2.8h-2.6zM346.8 209.5h2.6v2.8h-2.6zM431.4 209.5h2.6v2.8h-2.6zM444.6 212.2h2.6v2.8h-2.6zM349.4 215.0h2.6v2.8h-2.6zM439.3 215.0h2.6v2.8h-2.6zM349.4 217.8h2.6v2.8h-2.6zM349.4 220.5h2.6v2.8h-2.6zM328.3 226.0h2.6v2.8h-2.6zM344.1 231.5h2.6v2.8h-2.6zM336.2 237.0h2.6v2.8h-2.6zM404.9 248.0h2.6v2.8h-2.6zM394.4 327.8h2.6v2.8h-2.6zM383.8 330.5h2.6v2.8h-2.6zM383.8 363.5h2.6v2.8h-2.6zM383.8 366.2h2.6v2.8h-2.6zM383.8 369.0h2.6v2.8h-2.6zM328.3 371.8h2.6v2.8h-2.6zM383.8 371.8h2.6v2.8h-2.6zM330.9 374.5h2.6v2.8h-2.6zM415.5 374.5h2.6v2.8h-2.6zM330.9 377.2h2.6v2.8h-2.6zM330.9 380.0h2.6v2.8h-2.6zM346.8 382.8h2.6v2.8h-2.6zM412.9 382.8h2.6v2.8h-2.6zM346.8 385.5h2.6v2.8h-2.6zM415.5 396.5h2.6v2.8h-2.6zM412.9 410.2h2.6v2.8h-2.6z"/>
<path fill="#6fff91" d="M449.9 118.8h2.6v2.8h-2.6zM449.9 121.5h2.6v2.8h-2.6zM460.5 138.0h2.6v2.8h-2.6zM457.8 140.8h2.6v2.8h-2.6zM457.8 146.2h2.6v2.8h-2.6zM463.1 146.2h2.6v2.8h-2.6zM447.2 151.8h2.6v2.8h-2.6zM455.2 151.8h2.6v2.8h-2.6zM447.2 154.5h2.6v2.8h-2.6zM426.1 187.5h2.6v2.8h-2.6zM434.0 187.5h2.6v2.8h-2.6zM436.7 193.0h2.6v2.8h-2.6zM328.3 201.2h5.3v2.8h-5.3zM336.2 201.2h5.3v2.8h-5.3zM426.1 201.2h2.6v2.8h-2.6zM328.3 204.0h2.6v2.8h-2.6zM444.6 204.0h2.6v2.8h-2.6zM344.1 206.8h2.6v2.8h-2.6zM346.8 212.2h2.6v2.8h-2.6zM436.7 212.2h2.6v2.8h-2.6zM328.3 223.2h2.6v2.8h-2.6zM338.9 234.2h2.6v2.8h-2.6zM386.4 358.0h5.3v2.8h-5.3zM386.4 377.2h2.6v2.8h-2.6zM412.9 388.2h2.6v2.8h-2.6zM420.8 388.2h2.6v2.8h-2.6zM407.6 391.0h2.6v2.8h-2.6zM415.5 391.0h2.6v2.8h-2.6zM410.2 413.0h2.6v2.8h-2.6zM344.1 429.5h2.6v2.8h-2.6z"/>
<path fill="#62ff9d" d="M452.5 118.8h2.6v2.8h-2.6zM452.5 121.5h2.6v2.8h-2.6zM463.1 138.0h2.6v2.8h-2.6zM455.2 146.2h2.6v2.8h-2.6zM449.9 149.0h13.2v2.8h-13.2zM444.6 151.8h2.6v2.8h-2.6zM457.8 151.8h2.6v2.8h-2.6zM444.6 154.5h2.6v2.8h-2.6zM455.2 154.5h2.6v2.8h-2.6zM436.7 190.2h2.6v2.8h-2.6zM323.0 195.8h5.3v2.8h-5.3zM439.3 195.8h2.6v2.8h-2.6zM328.3 198.5h2.6v2.8h-2.6zM325.6 201.2h2.6v2.8h-2.6zM341.5 201.2h2.6v2.8h-2.6zM344.1 204.0h2.6v2.8h-2.6zM346.8 226.0h2.6v2.8h-2.6zM330.9 231.5h2.6v2.8h-2.6zM412.9 248.0h2.6v2.8h-2.6zM415.5 250.8h2.6v2.8h-2.6zM415.5 253.5h2.6v2.8h-2.6zM412.9 256.2h2.6v2.8h-2.6zM386.4 333.2h2.6v2.8h-2.6zM423.5 363.5h2.6v2.8h-2.6zM323.0 371.8h2.6v2.8h-2.6zM389.1 377.2h2.6v2.8h-2.6zM415.5 377.2h2.6v2.8h-2.6zM330.9 382.8h2.6v2.8h-2.6zM344.1 382.8h2.6v2.8h-2.6zM344.1 385.5h2.6v2.8h-2.6zM412.9 385.5h2.6v2.8h-2.6zM325.6 388.2h2.6v2.8h-2.6zM410.2 388.2h2.6v2.8h-2.6zM418.2 391.0h2.6v2.8h-2.6zM415.5 393.8h2.6v2.8h-2.6zM404.9 396.5h2.6v2.8h-2.6zM404.9 410.2h2.6v2.8h-2.6zM349.4 415.8h2.6v2.8h-2.6zM349.4 421.2h2.6v2.8h-2.6zM346.8 429.5h2.6v2.8h-2.6z"/>
<path fill="#95ff6a" d="M460.5 140.8h2.6v2.8h-2.6zM428.7 187.5h5.3v2.8h-5.3zM434.0 193.0h2.6v2.8h-2.6zM426.1 195.8h2.6v2.8h-2.6zM436.7 198.5h2.6v2.8h-2.6zM439.3 201.2h2.6v2.8h-2.6zM330.9 204.0h2.6v2.8h-2.6zM338.9 204.0h2.6v2.8h-2.6zM431.4 204.0h2.6v2.8h-2.6zM341.5 206.8h2.6v2.8h-2.6zM434.0 206.8h2.6v2.8h-2.6zM344.1 212.2h2.6v2.8h-2.6zM328.3 215.0h2.6v2.8h-2.6zM328.3 217.8h2.6v2.8h-2.6zM346.8 217.8h2.6v2.8h-2.6zM328.3 220.5h2.6v2.8h-2.6zM346.8 220.5h2.6v2.8h-2.6zM344.1 226.0h2.6v2.8h-2.6zM386.4 311.2h2.6v2.8h-2.6zM394.4 322.2h2.6v2.8h-2.6zM418.2 360.8h5.3v2.8h-5.3zM418.2 369.0h2.6v2.8h-2.6zM323.0 374.5h2.6v2.8h-2.6zM389.1 374.5h2.6v2.8h-2.6zM323.0 377.2h2.6v2.8h-2.6zM328.3 382.8h2.6v2.8h-2.6zM323.0 385.5h2.6v2.8h-2.6zM415.5 385.5h2.6v2.8h-2.6zM418.2 388.2h2.6v2.8h-2.6zM410.2 391.0h2.6v2.8h-2.6zM412.9 393.8h2.6v2.8h-2.6zM404.9 402.0h2.6v2.8h-2.6zM404.9 407.5h2.6v2.8h-2.6zM412.9 407.5h2.6v2.8h-2.6zM346.8 426.8h2.6v2.8h-2.6z"/>
<path fill="#88ff77" d="M463.1 140.8h2.6v2.8h-2.6zM463.1 143.5h2.6v2.8h-2.6zM460.5 146.2h2.6v2.8h-2.6zM434.0 190.2h2.6v2.8h-2.6zM426.1 193.0h2.6v2.8h-2.6zM436.7 195.8h2.6v2.8h-2.6zM426.1 198.5h2.6v2.8h-2.6zM444.6 206.8h2.6v2.8h-2.6zM444.6 209.5h2.6v2.8h-2.6zM328.3 212.2h2.6v2.8h-2.6zM439.3 212.2h5.3v2.8h-5.3zM346.8 215.0h2.6v2.8h-2.6zM330.9 228.8h2.6v2.8h-2.6zM336.2 234.2h2.6v2.8h-2.6zM383.8 314.0h2.6v2.8h-2.6zM383.8 327.8h2.6v2.8h-2.6zM391.7 330.5h2.6v2.8h-2.6zM420.8 369.0h2.6v2.8h-2.6zM418.2 371.8h2.6v2.8h-2.6zM418.2 374.5h2.6v2.8h-2.6zM328.3 377.2h2.6v2.8h-2.6zM420.8 377.2h2.6v2.8h-2.6zM328.3 380.0h2.6v2.8h-2.6zM415.5 382.8h2.6v2.8h-2.6zM415.5 388.2h2.6v2.8h-2.6zM412.9 391.0h2.6v2.8h-2.6zM344.1 415.8h2.6v2.8h-2.6z"/>
<path fill="#7bff84" d="M457.8 143.5h2.6v2.8h-2.6zM449.9 151.8h5.3v2.8h-5.3zM449.9 154.5h5.3v2.8h-5.3zM428.7 184.8h5.3v2.8h-5.3zM426.1 190.2h2.6v2.8h-2.6zM323.0 198.5h5.3v2.8h-5.3zM439.3 198.5h2.6v2.8h-2.6zM333.6 201.2h2.6v2.8h-2.6zM442.0 201.2h2.6v2.8h-2.6zM341.5 204.0h2.6v2.8h-2.6zM428.7 204.0h2.6v2.8h-2.6zM328.3 206.8h2.6v2.8h-2.6zM431.4 206.8h2.6v2.8h-2.6zM328.3 209.5h2.6v2.8h-2.6zM344.1 209.5h2.6v2.8h-2.6zM434.0 209.5h2.6v2.8h-2.6zM346.8 223.2h2.6v2.8h-2.6zM344.1 228.8h2.6v2.8h-2.6zM341.5 231.5h2.6v2.8h-2.6zM333.6 234.2h2.6v2.8h-2.6zM391.7 311.2h2.6v2.8h-2.6zM394.4 314.0h2.6v2.8h-2.6zM394.4 325.0h2.6v2.8h-2.6zM389.1 333.2h2.6v2.8h-2.6zM325.6 371.8h2.6v2.8h-2.6zM420.8 371.8h2.6v2.8h-2.6zM328.3 374.5h2.6v2.8h-2.6zM420.8 374.5h2.6v2.8h-2.6zM415.5 380.0h2.6v2.8h-2.6zM328.3 385.5h2.6v2.8h-2.6zM404.9 399.2h2.6v2.8h-2.6zM407.6 413.0h2.6v2.8h-2.6zM349.4 418.5h2.6v2.8h-2.6z"/>
<path fill="#a2ff5e" d="M460.5 143.5h2.6v2.8h-2.6zM428.7 190.2h5.3v2.8h-5.3zM428.7 201.2h2.6v2.8h-2.6zM434.0 201.2h5.3v2.8h-5.3zM434.0 204.0h5.3v2.8h-5.3zM442.0 204.0h2.6v2.8h-2.6zM436.7 209.5h2.6v2.8h-2.6zM341.5 228.8h2.6v2.8h-2.6zM338.9 231.5h2.6v2.8h-2.6zM386.4 360.8h5.3v2.8h-5.3zM418.2 366.2h5.3v2.8h-5.3zM386.4 374.5h2.6v2.8h-2.6zM418.2 377.2h2.6v2.8h-2.6zM323.0 380.0h2.6v2.8h-2.6zM420.8 380.0h2.6v2.8h-2.6zM420.8 385.5h2.6v2.8h-2.6zM407.6 393.8h2.6v2.8h-2.6zM412.9 396.5h2.6v2.8h-2.6zM412.9 399.2h2.6v2.8h-2.6zM346.8 415.8h2.6v2.8h-2.6zM344.1 424.0h5.3v2.8h-5.3zM344.1 426.8h2.6v2.8h-2.6z"/>
<path fill="#bbff44" d="M428.7 193.0h5.3v2.8h-5.3zM428.7 198.5h2.6v2.8h-2.6zM336.2 204.0h2.6v2.8h-2.6zM442.0 206.8h2.6v2.8h-2.6zM341.5 209.5h2.6v2.8h-2.6zM439.3 209.5h5.3v2.8h-5.3zM344.1 215.0h2.6v2.8h-2.6zM341.5 226.0h2.6v2.8h-2.6zM336.2 231.5h2.6v2.8h-2.6zM410.2 248.0h2.6v2.8h-2.6zM410.2 256.2h2.6v2.8h-2.6zM394.4 319.5h2.6v2.8h-2.6zM391.7 327.8h2.6v2.8h-2.6zM386.4 363.5h2.6v2.8h-2.6zM420.8 363.5h2.6v2.8h-2.6zM386.4 366.2h2.6v2.8h-2.6zM386.4 369.0h2.6v2.8h-2.6zM386.4 371.8h2.6v2.8h-2.6zM325.6 377.2h2.6v2.8h-2.6zM418.2 385.5h2.6v2.8h-2.6zM410.2 393.8h2.6v2.8h-2.6zM412.9 404.8h2.6v2.8h-2.6zM346.8 421.2h2.6v2.8h-2.6z"/>
<path fill="#c8ff37" d="M428.7 195.8h2.6v2.8h-2.6zM431.4 198.5h2.6v2.8h-2.6zM338.9 206.8h2.6v2.8h-2.6zM439.3 206.8h2.6v2.8h-2.6zM330.9 209.5h2.6v2.8h-2.6zM338.9 228.8h2.6v2.8h-2.6zM404.9 250.8h2.6v2.8h-2.6zM404.9 253.5h2.6v2.8h-2.6zM391.7 314.0h2.6v2.8h-2.6zM383.8 322.2h2.6v2.8h-2.6zM386.4 330.5h2.6v2.8h-2.6zM325.6 380.0h2.6v2.8h-2.6zM325.6 382.8h2.6v2.8h-2.6zM418.2 382.8h2.6v2.8h-2.6zM407.6 396.5h2.6v2.8h-2.6zM407.6 410.2h5.3v2.8h-5.3zM346.8 418.5h2.6v2.8h-2.6z"/>
<path fill="#d5ff2a" d="M431.4 195.8h2.6v2.8h-2.6zM330.9 212.2h2.6v2.8h-2.6zM341.5 212.2h2.6v2.8h-2.6zM344.1 217.8h2.6v2.8h-2.6zM344.1 220.5h2.6v2.8h-2.6zM330.9 223.2h2.6v2.8h-2.6zM383.8 316.8h2.6v2.8h-2.6zM389.1 330.5h2.6v2.8h-2.6z"/>
<path fill="#aeff51" d="M434.0 195.8h2.6v2.8h-2.6zM434.0 198.5h2.6v2.8h-2.6zM431.4 201.2h2.6v2.8h-2.6zM333.6 204.0h2.6v2.8h-2.6zM439.3 204.0h2.6v2.8h-2.6zM330.9 206.8h2.6v2.8h-2.6zM436.7 206.8h2.6v2.8h-2.6zM344.1 223.2h2.6v2.8h-2.6zM330.9 226.0h2.6v2.8h-2.6zM333.6 231.5h2.6v2.8h-2.6zM407.6 248.0h2.6v2.8h-2.6zM407.6 256.2h2.6v2.8h-2.6zM389.1 311.2h2.6v2.8h-2.6zM394.4 316.8h2.6v2.8h-2.6zM383.8 325.0h2.6v2.8h-2.6zM389.1 363.5h2.6v2.8h-2.6zM418.2 363.5h2.6v2.8h-2.6zM389.1 366.2h2.6v2.8h-2.6zM389.1 369.0h2.6v2.8h-2.6zM389.1 371.8h2.6v2.8h-2.6zM325.6 374.5h2.6v2.8h-2.6zM418.2 380.0h2.6v2.8h-2.6zM323.0 382.8h2.6v2.8h-2.6zM420.8 382.8h2.6v2.8h-2.6zM325.6 385.5h2.6v2.8h-2.6zM412.9 402.0h2.6v2.8h-2.6zM404.9 404.8h2.6v2.8h-2.6zM344.1 418.5h2.6v2.8h-2.6zM344.1 421.2h2.6v2.8h-2.6z"/>
<path fill="#eeff11" d="M333.6 206.8h2.6v2.8h-2.6zM338.9 209.5h2.6v2.8h-2.6zM330.9 215.0h2.6v2.8h-2.6zM341.5 215.0h2.6v2.8h-2.6zM330.9 220.5h2.6v2.8h-2.6zM338.9 226.0h2.6v2.8h-2.6zM336.2 228.8h2.6v2.8h-2.6zM383.8 319.5h2.6v2.8h-2.6zM407.6 399.2h2.6v2.8h-2.6z"/>
<path fill="#fbff04" d="M336.2 206.8h2.6v2.8h-2.6zM330.9 217.8h2.6v2.8h-2.6zM410.2 399.2h2.6v2.8h-2.6z"/>
<path fill="#ffea00" d="M333.6 209.5h2.6v2.8h-2.6zM338.9 223.2h2.6v2.8h-2.6zM336.2 226.0h2.6v2.8h-2.6zM407.6 402.0h2.6v2.8h-2.6z"/>
<path fill="#ffdd00" d="M336.2 209.5h2.6v2.8h-2.6zM338.9 215.0h2.6v2.8h-2.6zM389.1 314.0h2.6v2.8h-2.6zM391.7 316.8h2.6v2.8h-2.6zM389.1 327.8h2.6v2.8h-2.6zM410.2 402.0h2.6v2.8h-2.6zM407.6 407.5h5.3v2.8h-5.3z"/>
<path fill="#ffd000" d="M333.6 212.2h2.6v2.8h-2.6zM333.6 223.2h2.6v2.8h-2.6zM391.7 319.5h2.6v2.8h-2.6z"/>
<path fill="#ffc300" d="M336.2 212.2h2.6v2.8h-2.6zM338.9 217.8h2.6v2.8h-2.6zM338.9 220.5h2.6v2.8h-2.6zM386.4 325.0h2.6v2.8h-2.6zM407.6 404.8h5.3v2.8h-5.3z"/>
<path fill="#fff700" d="M338.9 212.2h2.6v2.8h-2.6zM341.5 217.8h2.6v2.8h-2.6zM341.5 220.5h2.6v2.8h-2.6zM333.6 226.0h2.6v2.8h-2.6zM386.4 314.0h2.6v2.8h-2.6zM391.7 322.2h2.6v2.8h-2.6zM386.4 327.8h2.6v2.8h-2.6z"/>
<path fill="#ffb700" d="M333.6 215.0h2.6v2.8h-2.6zM336.2 223.2h2.6v2.8h-2.6zM389.1 325.0h2.6v2.8h-2.6z"/>
<path fill="#ffaa00" d="M336.2 215.0h2.6v2.8h-2.6zM333.6 220.5h2.6v2.8h-2.6zM407.6 250.8h2.6v2.8h-2.6zM407.6 253.5h2.6v2.8h-2.6z"/>
<path fill="#ff9d00" d="M333.6 217.8h2.6v2.8h-2.6zM410.2 250.8h2.6v2.8h-2.6zM410.2 253.5h2.6v2.8h-2.6zM386.4 322.2h2.6v2.8h-2.6z"/>
<path fill="#ff9100" d="M336.2 217.8h2.6v2.8h-2.6zM336.2 220.5h2.6v2.8h-2.6zM386.4 316.8h2.6v2.8h-2.6z"/>
<path fill="#e1ff1e" d="M341.5 223.2h2.6v2.8h-2.6zM333.6 228.8h2.6v2.8h-2.6zM412.9 250.8h2.6v2.8h-2.6zM412.9 253.5h2.6v2.8h-2.6zM391.7 325.0h2.6v2.8h-2.6zM410.2 396.5h2.6v2.8h-2.6z"/>
<path fill="#ff7700" d="M389.1 316.8h2.6v2.8h-2.6z"/>
<path fill="#ff6a00" d="M386.4 319.5h2.6v2.8h-2.6z"/>
<path fill="#ff5100" d="M389.1 319.5h2.6v2.8h-2.6z"/>
<path fill="#ff8400" d="M389.1 322.2h2.6v2.8h-2.6z"/>
</g>
<polyline points="243.6,170.4 248.1,180 255,205 262,227.2 268.9,246.7 275.9,266.1 280,282.8 285.6,299.4 289.7,316.1 291.3,325 296.1,339.4 300.9,353.9 307,370.7 311.8,385.2 316.6,394.8 320.2,402 323.8,414 327.4,423.7 329.8,433.3 333.4,443 335.2,455.4 339.4,456.1 339.4,470.7 343.6,471.4 344.5,482" fill="none" stroke="url(#edgeg)" stroke-width="12" filter="url(#b2)"/>
</g>
<g fill="none" stroke-linejoin="round" stroke-linecap="round" shape-rendering="crispEdges">
<g stroke="#fff" stroke-width="3"><polyline points="155.7,482.0 153.9,473.5 153.9,469.8 148.3,468.0 145.5,462.3 144.5,454.8 143.6,449.2 138.9,441.7 139.8,436.0 138.5,428.6 137.0,421.0 136.7,417.4 138.9,411.8 141.7,404.3 140.8,398.7 140.8,380.0 141.0,373.0 142.1,361.0 144.0,341.8 148.2,325.0 151.8,310.6 159.2,294.8 165.1,284.4 165.9,271.1 165.1,262.2 163.6,253.3 159.2,240.0 157.0,221.8 156.0,215.0 158.8,205.3 162.2,198.3 167.8,190.0 173.3,184.4 178.9,178.9 185.8,174.0 192.8,169.9 198.3,166.4 206.7,160.4 219.4,151.1 231.1,148.7 237.6,145.4 244.1,140.9 249.3,134.4 251.2,129.9 255.7,129.2 260.9,124.0 268.7,121.0 280.0,116.0 290.0,111.0 296.7,108.0 306.7,106.0 330.0,103.5 338.3,105.0 355.0,110.0 365.0,113.3 376.1,112.8 381.7,110.6 377.2,106.1 376.1,103.3 379.4,102.2 385.6,100.6 391.7,100.6 390.6,103.3 398.3,104.4 400.6,108.3 402.8,113.3 409.4,114.4 413.9,115.6 415.0,120.6 411.7,123.9 415.0,127.2 422.8,128.3 427.2,123.9 431.7,127.2 436.1,130.6 439.4,129.4 442.8,125.0 449.6,122.1 458.0,129.3 459.2,132.9 464.1,130.5 466.5,126.3 465.3,120.9 461.7,116.7 460.5,113.1 464.1,112.5 471.3,116.1 477.3,119.7 478.5,124.5 490.5,128.1 496.5,132.9 495.3,140.2 500.2,136.5 507.4,132.9 511.0,129.3 507.4,125.7 500.2,119.7 491.7,116.1 483.3,110.1 478.5,107.7 484.5,104.1 494.1,102.9 491.7,98.0 492.9,93.2 488.1,93.2 485.7,96.8 479.7,95.6 476.1,93.2 472.0,92.0 476.0,89.0 480.9,85.4 485.7,84.8 492.5,84.6 496.0,78.5 498.6,77.6 497.8,80.3 517.0,75.9 534.5,79.4 539.8,76.8 546.8,77.6 552.0,61.9 555.5,64.5 560.8,79.4 567.0,83.0"/><polyline points="140.8,443.6 148.3,454.8 158.5,464.2 159.5,467.0 156.7,469.8 155.7,475.4 155.0,482.0"/><polyline points="158.0,215.0 160.8,205.3 165.0,197.0 172.0,188.6 180.3,180.3 192.8,172.0 198.3,168.5 206.7,162.0 215.0,156.5"/><polyline points="164.4,271.0 161.4,268.0 157.8,255.5 153.0,250.7 150.6,236.3 148.2,226.7 151.8,221.8 153.0,215.8 143.4,212.2 139.7,212.2 142.1,209.8 150.6,211.0 156.6,212.2 161.4,200.2 160.2,196.6 156.6,193.0 150.6,189.4 153.0,187.0 160.2,188.1 166.2,189.4 171.0,182.1 162.6,178.5 173.4,173.7 177.0,172.5 180.7,170.1 181.9,162.9 183.1,164.1 185.5,168.9 195.1,164.1 190.3,156.9 189.1,149.6 192.7,152.0 197.5,150.8 202.3,153.2 208.0,151.0 215.0,153.0"/><polyline points="94.0,253.3 101.4,259.3 104.4,258.5 110.3,260.7 117.7,265.9 120.7,267.4 138.4,267.4 144.4,268.9 147.3,272.6 154.7,277.0 156.2,274.0 160.7,271.1 163.6,270.4 165.9,271.1"/><polyline points="94.0,267.4 101.4,267.4 107.3,268.9 106.6,291.1 111.8,292.6 111.0,296.3 102.9,302.2 94.0,308.9"/><polyline points="94.0,430.5 101.5,427.7 109.0,427.7 118.3,425.8 122.0,425.3 125.8,427.7 134.2,432.4 135.2,435.2 139.8,434.3"/><polyline points="104.3,428.6 116.5,436.1 109.0,447.4 107.0,449.2 110.8,454.8 105.2,460.4 103.4,462.3 108.0,466.0 109.0,471.7 105.2,477.3 103.4,482.0"/><polyline points="138.5,367.0 142.0,368.0"/><polyline points="251.2,129.9 255.7,111.9 254.4,106.7 253.1,103.4 257.0,104.7 262.2,108.0 264.8,106.7 267.4,103.4 270.7,104.7 270.0,109.3 267.4,113.1 272.6,111.9 277.8,113.1 290.0,110.0"/><polyline points="255.7,111.9 260.9,113.1 264.8,117.0 263.5,119.6 260.9,121.0"/><polyline points="318.3,40.0 319.2,50.0 317.5,58.3 313.3,65.0 310.8,70.0 311.7,76.7 310.8,81.7 312.5,88.3 307.5,93.3 303.3,100.0 302.5,103.3 305.8,106.7"/><polyline points="307.5,93.3 311.0,95.5 309.0,101.0 305.8,106.0"/><polyline points="382.8,109.4 392.8,109.4 396.1,113.9 389.4,117.2 385.0,113.9 382.8,109.4"/><polyline points="479.7,108.0 478.5,111.3 485.7,114.9 496.5,119.7 503.8,123.3 507.0,127.0"/><polyline points="479.7,114.9 488.0,120.0 497.7,125.7 503.0,130.0"/><polyline points="450.2,86.0 455.6,81.2 470.0,85.4 480.9,87.2 482.1,89.6 474.9,89.6 471.3,91.4 453.2,92.0 450.2,89.0 450.2,86.0"/><polyline points="398.0,41.0 403.3,46.6 399.4,50.2 480.3,50.5 476.8,59.3 475.9,68.0 481.1,75.0 484.6,80.3 486.4,85.5"/><polyline points="535.5,41.0 536.0,77.0"/><polyline points="553.8,83.8 567.0,83.8"/></g>
<g stroke="#000" stroke-width="1"><polyline points="155.7,482.0 153.9,473.5 153.9,469.8 148.3,468.0 145.5,462.3 144.5,454.8 143.6,449.2 138.9,441.7 139.8,436.0 138.5,428.6 137.0,421.0 136.7,417.4 138.9,411.8 141.7,404.3 140.8,398.7 140.8,380.0 141.0,373.0 142.1,361.0 144.0,341.8 148.2,325.0 151.8,310.6 159.2,294.8 165.1,284.4 165.9,271.1 165.1,262.2 163.6,253.3 159.2,240.0 157.0,221.8 156.0,215.0 158.8,205.3 162.2,198.3 167.8,190.0 173.3,184.4 178.9,178.9 185.8,174.0 192.8,169.9 198.3,166.4 206.7,160.4 219.4,151.1 231.1,148.7 237.6,145.4 244.1,140.9 249.3,134.4 251.2,129.9 255.7,129.2 260.9,124.0 268.7,121.0 280.0,116.0 290.0,111.0 296.7,108.0 306.7,106.0 330.0,103.5 338.3,105.0 355.0,110.0 365.0,113.3 376.1,112.8 381.7,110.6 377.2,106.1 376.1,103.3 379.4,102.2 385.6,100.6 391.7,100.6 390.6,103.3 398.3,104.4 400.6,108.3 402.8,113.3 409.4,114.4 413.9,115.6 415.0,120.6 411.7,123.9 415.0,127.2 422.8,128.3 427.2,123.9 431.7,127.2 436.1,130.6 439.4,129.4 442.8,125.0 449.6,122.1 458.0,129.3 459.2,132.9 464.1,130.5 466.5,126.3 465.3,120.9 461.7,116.7 460.5,113.1 464.1,112.5 471.3,116.1 477.3,119.7 478.5,124.5 490.5,128.1 496.5,132.9 495.3,140.2 500.2,136.5 507.4,132.9 511.0,129.3 507.4,125.7 500.2,119.7 491.7,116.1 483.3,110.1 478.5,107.7 484.5,104.1 494.1,102.9 491.7,98.0 492.9,93.2 488.1,93.2 485.7,96.8 479.7,95.6 476.1,93.2 472.0,92.0 476.0,89.0 480.9,85.4 485.7,84.8 492.5,84.6 496.0,78.5 498.6,77.6 497.8,80.3 517.0,75.9 534.5,79.4 539.8,76.8 546.8,77.6 552.0,61.9 555.5,64.5 560.8,79.4 567.0,83.0"/><polyline points="140.8,443.6 148.3,454.8 158.5,464.2 159.5,467.0 156.7,469.8 155.7,475.4 155.0,482.0"/><polyline points="158.0,215.0 160.8,205.3 165.0,197.0 172.0,188.6 180.3,180.3 192.8,172.0 198.3,168.5 206.7,162.0 215.0,156.5"/><polyline points="164.4,271.0 161.4,268.0 157.8,255.5 153.0,250.7 150.6,236.3 148.2,226.7 151.8,221.8 153.0,215.8 143.4,212.2 139.7,212.2 142.1,209.8 150.6,211.0 156.6,212.2 161.4,200.2 160.2,196.6 156.6,193.0 150.6,189.4 153.0,187.0 160.2,188.1 166.2,189.4 171.0,182.1 162.6,178.5 173.4,173.7 177.0,172.5 180.7,170.1 181.9,162.9 183.1,164.1 185.5,168.9 195.1,164.1 190.3,156.9 189.1,149.6 192.7,152.0 197.5,150.8 202.3,153.2 208.0,151.0 215.0,153.0"/><polyline points="94.0,253.3 101.4,259.3 104.4,258.5 110.3,260.7 117.7,265.9 120.7,267.4 138.4,267.4 144.4,268.9 147.3,272.6 154.7,277.0 156.2,274.0 160.7,271.1 163.6,270.4 165.9,271.1"/><polyline points="94.0,267.4 101.4,267.4 107.3,268.9 106.6,291.1 111.8,292.6 111.0,296.3 102.9,302.2 94.0,308.9"/><polyline points="94.0,430.5 101.5,427.7 109.0,427.7 118.3,425.8 122.0,425.3 125.8,427.7 134.2,432.4 135.2,435.2 139.8,434.3"/><polyline points="104.3,428.6 116.5,436.1 109.0,447.4 107.0,449.2 110.8,454.8 105.2,460.4 103.4,462.3 108.0,466.0 109.0,471.7 105.2,477.3 103.4,482.0"/><polyline points="138.5,367.0 142.0,368.0"/><polyline points="251.2,129.9 255.7,111.9 254.4,106.7 253.1,103.4 257.0,104.7 262.2,108.0 264.8,106.7 267.4,103.4 270.7,104.7 270.0,109.3 267.4,113.1 272.6,111.9 277.8,113.1 290.0,110.0"/><polyline points="255.7,111.9 260.9,113.1 264.8,117.0 263.5,119.6 260.9,121.0"/><polyline points="318.3,40.0 319.2,50.0 317.5,58.3 313.3,65.0 310.8,70.0 311.7,76.7 310.8,81.7 312.5,88.3 307.5,93.3 303.3,100.0 302.5,103.3 305.8,106.7"/><polyline points="307.5,93.3 311.0,95.5 309.0,101.0 305.8,106.0"/><polyline points="382.8,109.4 392.8,109.4 396.1,113.9 389.4,117.2 385.0,113.9 382.8,109.4"/><polyline points="479.7,108.0 478.5,111.3 485.7,114.9 496.5,119.7 503.8,123.3 507.0,127.0"/><polyline points="479.7,114.9 488.0,120.0 497.7,125.7 503.0,130.0"/><polyline points="450.2,86.0 455.6,81.2 470.0,85.4 480.9,87.2 482.1,89.6 474.9,89.6 471.3,91.4 453.2,92.0 450.2,89.0 450.2,86.0"/><polyline points="398.0,41.0 403.3,46.6 399.4,50.2 480.3,50.5 476.8,59.3 475.9,68.0 481.1,75.0 484.6,80.3 486.4,85.5"/><polyline points="535.5,41.0 536.0,77.0"/><polyline points="553.8,83.8 567.0,83.8"/></g>
</g>
</g>
<path d="M130.5,41V481M172.5,41V481M215.5,41V481M257.5,41V481M299.5,41V481M341.5,41V481M384.5,41V481M426.5,41V481M468.5,41V481M510.5,41V481M553.5,41V481M95,50.5H565M95,94.5H565M95,138.5H565M95,182.5H565M95,226.5H565M95,270.5H565M95,314.5H565M95,358.5H565M95,402.5H565M95,446.5H565" stroke="#000" stroke-width="1" stroke-dasharray="1 4" fill="none" shape-rendering="crispEdges"/>
<path d="M94.5,41.5H565.5V481.5H94.5ZM130.5,481v-5M130.5,42v5M172.5,481v-5M172.5,42v5M215.5,481v-5M215.5,42v5M257.5,481v-5M257.5,42v5M299.5,481v-5M299.5,42v5M341.5,481v-5M341.5,42v5M384.5,481v-5M384.5,42v5M426.5,481v-5M426.5,42v5M468.5,481v-5M468.5,42v5M510.5,481v-5M510.5,42v5M553.5,481v-5M553.5,42v5M95,50.5h4M565,50.5h-4M95,94.5h4M565,94.5h-4M95,138.5h4M565,138.5h-4M95,182.5h4M565,182.5h-4M95,226.5h4M565,226.5h-4M95,270.5h4M565,270.5h-4M95,314.5h4M565,314.5h-4M95,358.5h4M565,358.5h-4M95,402.5h4M565,402.5h-4M95,446.5h4M565,446.5h-4" stroke="#000" stroke-width="1" fill="none" shape-rendering="crispEdges"/>
<rect x="591" y="41" width="33" height="440" fill="url(#jet)"/>
<path d="M591.5,41.5H624.5V481.5H591.5ZM592,114.5h5M624,114.5h-5M592,188.5h5M624,188.5h-5M592,261.5h5M624,261.5h-5M592,334.5h5M624,334.5h-5M592,408.5h5M624,408.5h-5" stroke="#000" stroke-width="1" fill="none" shape-rendering="crispEdges"/>
<g font-family="Liberation Sans, sans-serif" font-size="14" fill="#000">
<text x="127.5" y="502" text-anchor="middle" font-size="15" textLength="21.5" lengthAdjust="spacingAndGlyphs">-98</text>
<text x="169.5" y="502" text-anchor="middle" font-size="15" textLength="21.5" lengthAdjust="spacingAndGlyphs">-97</text>
<text x="212.5" y="502" text-anchor="middle" font-size="15" textLength="21.5" lengthAdjust="spacingAndGlyphs">-96</text>
<text x="254.5" y="502" text-anchor="middle" font-size="15" textLength="21.5" lengthAdjust="spacingAndGlyphs">-95</text>
<text x="296.5" y="502" text-anchor="middle" font-size="15" textLength="21.5" lengthAdjust="spacingAndGlyphs">-94</text>
<text x="338.5" y="502" text-anchor="middle" font-size="15" textLength="21.5" lengthAdjust="spacingAndGlyphs">-93</text>
<text x="381.5" y="502" text-anchor="middle" font-size="15" textLength="21.5" lengthAdjust="spacingAndGlyphs">-92</text>
<text x="423.5" y="502" text-anchor="middle" font-size="15" textLength="21.5" lengthAdjust="spacingAndGlyphs">-91</text>
<text x="465.5" y="502" text-anchor="middle" font-size="15" textLength="21.5" lengthAdjust="spacingAndGlyphs">-90</text>
<text x="507.5" y="502" text-anchor="middle" font-size="15" textLength="21.5" lengthAdjust="spacingAndGlyphs">-89</text>
<text x="550.5" y="502" text-anchor="middle" font-size="15" textLength="21.5" lengthAdjust="spacingAndGlyphs">-88</text>
<text x="89" y="56" text-anchor="end" font-size="15" textLength="16" lengthAdjust="spacingAndGlyphs">31</text>
<text x="89" y="100" text-anchor="end" font-size="15" textLength="16" lengthAdjust="spacingAndGlyphs">30</text>
<text x="89" y="144" text-anchor="end" font-size="15" textLength="16" lengthAdjust="spacingAndGlyphs">29</text>
<text x="89" y="188" text-anchor="end" font-size="15" textLength="16" lengthAdjust="spacingAndGlyphs">28</text>
<text x="89" y="232" text-anchor="end" font-size="15" textLength="16" lengthAdjust="spacingAndGlyphs">27</text>
<text x="89" y="276" text-anchor="end" font-size="15" textLength="16" lengthAdjust="spacingAndGlyphs">26</text>
<text x="89" y="320" text-anchor="end" font-size="15" textLength="16" lengthAdjust="spacingAndGlyphs">25</text>
<text x="89" y="364" text-anchor="end" font-size="15" textLength="16" lengthAdjust="spacingAndGlyphs">24</text>
<text x="89" y="408" text-anchor="end" font-size="15" textLength="16" lengthAdjust="spacingAndGlyphs">23</text>
<text x="89" y="452" text-anchor="end" font-size="15" textLength="16" lengthAdjust="spacingAndGlyphs">22</text>
<text x="627.5" y="47.0" font-size="15" textLength="24" lengthAdjust="spacingAndGlyphs">280</text>
<text x="627.5" y="120.3" font-size="15" textLength="24" lengthAdjust="spacingAndGlyphs">260</text>
<text x="627.5" y="193.7" font-size="15" textLength="24" lengthAdjust="spacingAndGlyphs">240</text>
<text x="627.5" y="267.0" font-size="15" textLength="24" lengthAdjust="spacingAndGlyphs">220</text>
<text x="627.5" y="340.3" font-size="15" textLength="24" lengthAdjust="spacingAndGlyphs">200</text>
<text x="627.5" y="413.7" font-size="15" textLength="24" lengthAdjust="spacingAndGlyphs">180</text>
<text x="627.5" y="487.0" font-size="15" textLength="24" lengthAdjust="spacingAndGlyphs">160</text>
<text x="338.5" y="28.5" text-anchor="middle" font-size="15" textLength="211" lengthAdjust="spacingAndGlyphs">Seventeen: 25-Oct-2019 20:15:00</text>
<text x="330.2" y="522" text-anchor="middle" font-size="15" textLength="57" lengthAdjust="spacingAndGlyphs">longitude</text>
<text transform="translate(62,260.4) rotate(-90)" text-anchor="middle" font-size="15" textLength="45.5" lengthAdjust="spacingAndGlyphs">latitude</text>
<text transform="translate(671,247.5) rotate(-90)" text-anchor="middle" font-size="15" textLength="260" lengthAdjust="spacingAndGlyphs">Brightness Temp - Horizontal Polarization</text>
<text x="102.5" y="71" font-weight="bold" font-size="15" textLength="87" lengthAdjust="spacingAndGlyphs">Vmax: 35 kts</text>
<text x="469" y="71" font-weight="bold" font-size="15" textLength="76.5" lengthAdjust="spacingAndGlyphs">01:09 away</text>
</g>
<clipPath id="lc"><rect x="460" y="400" width="120" height="80.5"/></clipPath>
<g clip-path="url(#lc)">
<circle cx="521.5" cy="457.5" r="43.3" fill="#fcf4da" stroke="#c4b894" stroke-width="0.9"/>
<g stroke="#3a3630" stroke-width="0.8" fill="none" opacity="0.75">
<path d="M545.3,440.5L543.7,460M549.9,441V461M553.9,441V462M557,440.5L559.5,463M544.5,447L557.5,457M558,447L544,456M545,459L558,452"/>
<path d="M491,437L496,441" stroke="#999" stroke-width="0.7"/>
</g>
<ellipse cx="551.6" cy="432" rx="8.6" ry="8.9" fill="#000"/>
<path d="M545,438 Q551.6,444 558,438 L557,441 Q551.6,443 546,441Z" fill="#000"/>
<ellipse cx="495.6" cy="444.3" rx="11.2" ry="5.6" transform="rotate(-33 495.6 444.3)" fill="#000"/>
<path d="M506.5,437.5 Q515,432 525.5,436 Q526,444 519,449 Q511,451 507,444 Z" fill="#000"/>
<path d="M514,436 L514.5,433.5 L515.5,436Z" fill="#000"/>
<path d="M470.6,480.5 L470.6,462.9 L498.1,457.6 L498.8,451.5 L502.7,449.9 L511.8,449.9 L518,449.2 L522.5,450.7 L523.3,455.3 L531.7,454.5 L537.8,458.3 L545.5,460.6 L570,469.8 L570,479.3 Z" fill="#000"/>
<path d="M499,452 L503,447 L507,449 Z M517,450 L521,447 L523,451Z" fill="#000"/>
<g font-family="Liberation Sans, sans-serif" font-size="11.5" font-weight="bold" fill="#f4f0e6" text-anchor="middle">
<text x="489.4" y="477.3">C</text><text x="503.2" y="477.3">I</text><text x="516.4" y="477.3">M</text><text x="532.5" y="477.3">S</text><text x="547.9" y="477.3">S</text>
</g>
</g>

</svg>
</body></html>
